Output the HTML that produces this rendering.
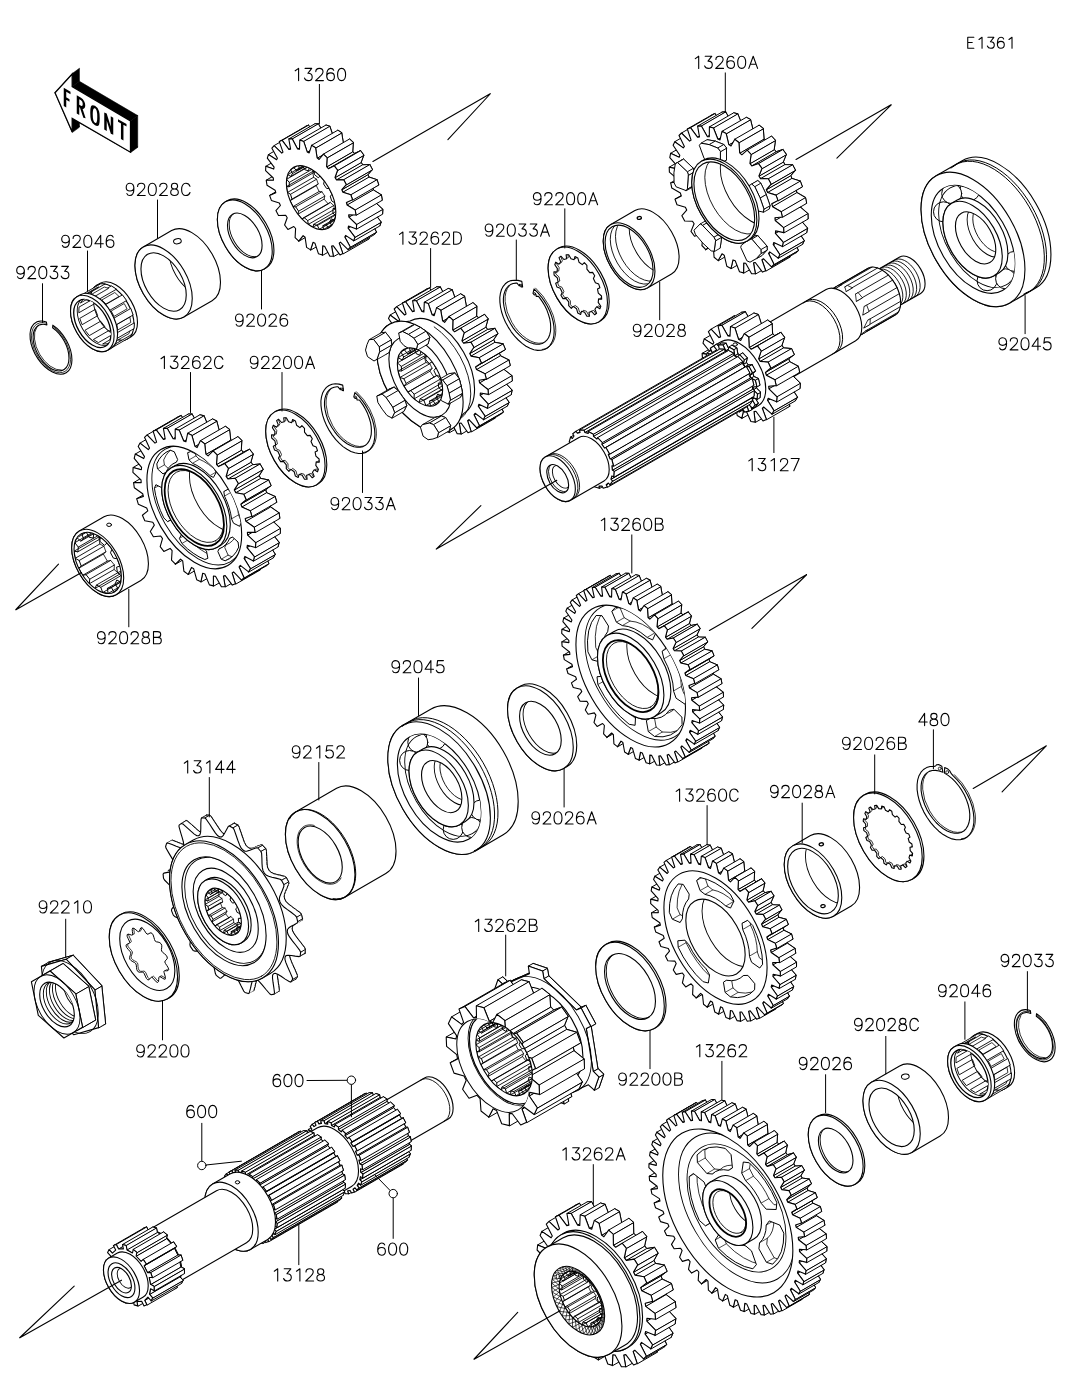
<!DOCTYPE html>
<html><head><meta charset="utf-8"><title>E1361</title><style>html,body{margin:0;padding:0;background:#fff}svg{display:block}</style></head><body><svg width="1067" height="1378" viewBox="0 0 1067 1378" stroke-linejoin="round" stroke-linecap="round" font-family="Liberation Sans, sans-serif">
<rect width="1067" height="1378" fill="#fff"/>
<polygon points="55,92.7 72.2,74 79.4,68.7 62.2,87.4" fill="#000" stroke="#000" stroke-width="0.6" />
<polygon points="72.2,74 72.2,86.6 79.4,81.3 79.4,68.7" fill="#000" stroke="#000" stroke-width="0.6" />
<polygon points="72.2,86.6 130.5,120.9 137.7,115.6 79.4,81.3" fill="#000" stroke="#000" stroke-width="0.6" />
<polygon points="130.5,120.9 130.5,152.2 137.7,146.9 137.7,115.6" fill="#000" stroke="#000" stroke-width="0.6" />
<polygon points="130.5,152.2 72.2,118.4 79.4,113.1 137.7,146.9" fill="#000" stroke="#000" stroke-width="0.6" />
<polygon points="72.2,118.4 72.2,132.1 79.4,126.8 79.4,113.1" fill="#000" stroke="#000" stroke-width="0.6" />
<polygon points="72.2,132.1 55,92.7 62.2,87.4 79.4,126.8" fill="#000" stroke="#000" stroke-width="0.6" />
<polygon points="55,92.7 72.2,74 72.2,86.6 130.5,120.9 130.5,152.2 72.2,118.4 72.2,132.1" fill="#fff" stroke="#000" stroke-width="1.3" stroke-linejoin="miter"/>
<g transform="translate(64.5 89.5) skewY(30)" fill="none" stroke="#000" stroke-width="2.5" stroke-linecap="butt" stroke-linejoin="miter">
<path d="M0.5 17V0H6M0.5 8H5"/>
<path d="M13.5 17V0H16.5C20.5 0 20.5 8 16.5 8H13.5M16.3 8L20 17"/>
<path d="M30.5 0C27.5 0 27 3 27 8.5S27.5 17 30.5 17 34 14 34 8.5 33.5 0 30.5 0Z"/>
<path d="M41 17V0L47.5 17V0"/>
<path d="M53.5 0H62M57.7 0V17"/>
</g>
<polygon points="365.3,228 366.6,227 374.3,234.5 376.4,231.9 370.9,221.9 371.8,220.3 379.9,225.6 381.1,222 374.2,213 374.6,211 382.6,213.8 382.8,209.4 375,202.1 374.9,199.8 382.2,199.9 381.4,194.9 373.3,189.9 372.6,187.4 378.7,184.7 377,179.7 369,177.1 367.9,174.6 372.4,169.5 369.8,164.6 362.6,164.8 361.1,162.4 363.8,155.1 360.5,150.7 354.5,153.6 352.7,151.6 353.3,142.5 349.5,139 345.2,144.4 343.3,142.8 341.7,132.7 337.8,130.2 335.4,137.8 333.4,136.8 329.8,126.3 326,125 325.6,134.2 323.8,133.9 318.4,123.8 314.9,123.8 316.7,134 315.1,134.3 308.4,125.2 305.4,126.5 309.2,137 307.9,138 300.2,130.5 298.1,133.1 303.6,143.1 302.7,144.7 294.6,139.4 293.4,143 300.3,152 299.9,154 291.9,151.2 291.7,155.6 299.5,162.9 299.6,165.2 292.3,165.1 293.1,170.1 301.2,175.1 301.9,177.6 295.8,180.3 297.6,185.3 305.5,187.9 306.6,190.4 302.1,195.5 304.7,200.4 311.9,200.2 313.4,202.6 310.7,209.9 314,214.3 320,211.4 321.8,213.4 321.2,222.5 325,226 329.3,220.6 331.2,222.2 332.8,232.3 336.7,234.8 339.1,227.2 341.1,228.2 344.7,238.7 348.5,240 348.9,230.8 350.7,231.1 356.1,241.2 359.6,241.2 357.8,231 359.4,230.7 366.2,239.8 369.1,238.5" fill="#fff" stroke="#000" stroke-width="1.1" />
<polygon points="275.8,192.7 269.6,195.4 295.8,180.3 301.9,177.6" fill="#fff" stroke="#000" stroke-width="1" />
<polygon points="298.8,241.1 303.1,235.7 329.3,220.6 325,226" fill="#fff" stroke="#000" stroke-width="1" />
<polygon points="273.5,180.3 266.2,180.2 292.3,165.1 299.6,165.2" fill="#fff" stroke="#000" stroke-width="1" />
<polygon points="310.6,249.9 313,242.3 339.1,227.2 336.7,234.8" fill="#fff" stroke="#000" stroke-width="1" />
<polygon points="273.7,169.1 265.8,166.3 291.9,151.2 299.9,154" fill="#fff" stroke="#000" stroke-width="1" />
<polygon points="322.4,255.1 322.7,245.9 348.9,230.8 348.5,240" fill="#fff" stroke="#000" stroke-width="1" />
<polygon points="276.6,159.8 268.5,154.5 294.6,139.4 302.7,144.7" fill="#fff" stroke="#000" stroke-width="1" />
<polygon points="333.4,256.3 331.6,246.1 357.8,231 359.6,241.2" fill="#fff" stroke="#000" stroke-width="1" />
<polygon points="281.8,153.1 274.1,145.6 300.2,130.5 307.9,138" fill="#fff" stroke="#000" stroke-width="1" />
<polygon points="342.9,253.6 339.2,243.1 365.3,228 369.1,238.5" fill="#fff" stroke="#000" stroke-width="1" />
<polygon points="282.2,140.3 279.3,141.6 305.4,126.5 308.4,125.2" fill="#fff" stroke="#000" stroke-width="1" />
<polygon points="339.2,243.1 340.4,242.1 366.6,227 365.3,228" fill="#fff" stroke="#000" stroke-width="1" />
<polygon points="288.9,149.4 282.2,140.3 308.4,125.2 315.1,134.3" fill="#fff" stroke="#000" stroke-width="1" />
<polygon points="290.6,149.1 288.9,149.4 315.1,134.3 316.7,134" fill="#fff" stroke="#000" stroke-width="1" />
<polygon points="348.1,249.6 350.3,247 376.4,231.9 374.3,234.5" fill="#fff" stroke="#000" stroke-width="1" />
<polygon points="350.3,247 344.8,237 370.9,221.9 376.4,231.9" fill="#fff" stroke="#000" stroke-width="1" />
<polygon points="344.8,237 345.6,235.4 371.8,220.3 370.9,221.9" fill="#fff" stroke="#000" stroke-width="1" />
<polygon points="292.3,138.9 288.8,138.9 314.9,123.8 318.4,123.8" fill="#fff" stroke="#000" stroke-width="1" />
<polygon points="297.6,149 292.3,138.9 318.4,123.8 323.8,133.9" fill="#fff" stroke="#000" stroke-width="1" />
<polygon points="299.5,149.3 297.6,149 323.8,133.9 325.6,134.2" fill="#fff" stroke="#000" stroke-width="1" />
<polygon points="353.7,240.7 354.9,237.1 381.1,222 379.9,225.6" fill="#fff" stroke="#000" stroke-width="1" />
<polygon points="348.1,228.1 348.5,226.1 374.6,211 374.2,213" fill="#fff" stroke="#000" stroke-width="1" />
<polygon points="354.9,237.1 348.1,228.1 374.2,213 381.1,222" fill="#fff" stroke="#000" stroke-width="1" />
<polygon points="309.2,152.9 307.2,151.9 333.4,136.8 335.4,137.8" fill="#fff" stroke="#000" stroke-width="1" />
<polygon points="303.7,141.4 299.8,140.1 326,125 329.8,126.3" fill="#fff" stroke="#000" stroke-width="1" />
<polygon points="307.2,151.9 303.7,141.4 329.8,126.3 333.4,136.8" fill="#fff" stroke="#000" stroke-width="1" />
<polygon points="348.9,217.2 348.7,214.9 374.9,199.8 375,202.1" fill="#fff" stroke="#000" stroke-width="1" />
<polygon points="356.6,224.5 348.9,217.2 375,202.1 382.8,209.4" fill="#fff" stroke="#000" stroke-width="1" />
<polygon points="356.4,228.9 356.6,224.5 382.8,209.4 382.6,213.8" fill="#fff" stroke="#000" stroke-width="1" />
<polygon points="319.1,159.5 317.1,157.9 343.3,142.8 345.2,144.4" fill="#fff" stroke="#000" stroke-width="1" />
<polygon points="317.1,157.9 315.6,147.8 341.7,132.7 343.3,142.8" fill="#fff" stroke="#000" stroke-width="1" />
<polygon points="315.6,147.8 311.6,145.3 337.8,130.2 341.7,132.7" fill="#fff" stroke="#000" stroke-width="1" />
<polygon points="347.1,205 346.4,202.5 372.6,187.4 373.3,189.9" fill="#fff" stroke="#000" stroke-width="1" />
<polygon points="328.4,168.7 326.6,166.7 352.7,151.6 354.5,153.6" fill="#fff" stroke="#000" stroke-width="1" />
<polygon points="355.2,210 347.1,205 373.3,189.9 381.4,194.9" fill="#fff" stroke="#000" stroke-width="1" />
<polygon points="342.9,192.2 341.8,189.7 367.9,174.6 369,177.1" fill="#fff" stroke="#000" stroke-width="1" />
<polygon points="336.5,179.9 335,177.5 361.1,162.4 362.6,164.8" fill="#fff" stroke="#000" stroke-width="1" />
<polygon points="356,215 355.2,210 381.4,194.9 382.2,199.9" fill="#fff" stroke="#000" stroke-width="1" />
<polygon points="326.6,166.7 327.1,157.6 353.3,142.5 352.7,151.6" fill="#fff" stroke="#000" stroke-width="1" />
<polygon points="334.3,165.8 328.4,168.7 354.5,153.6 360.5,150.7" fill="#fff" stroke="#000" stroke-width="1" />
<polygon points="350.8,194.8 342.9,192.2 369,177.1 377,179.7" fill="#fff" stroke="#000" stroke-width="1" />
<polygon points="327.1,157.6 323.4,154.1 349.5,139 353.3,142.5" fill="#fff" stroke="#000" stroke-width="1" />
<polygon points="335,177.5 337.6,170.2 363.8,155.1 361.1,162.4" fill="#fff" stroke="#000" stroke-width="1" />
<polygon points="341.8,189.7 346.3,184.6 372.4,169.5 367.9,174.6" fill="#fff" stroke="#000" stroke-width="1" />
<polygon points="343.7,179.7 336.5,179.9 362.6,164.8 369.8,164.6" fill="#fff" stroke="#000" stroke-width="1" />
<polygon points="352.6,199.8 350.8,194.8 377,179.7 378.7,184.7" fill="#fff" stroke="#000" stroke-width="1" />
<polygon points="337.6,170.2 334.3,165.8 360.5,150.7 363.8,155.1" fill="#fff" stroke="#000" stroke-width="1" />
<polygon points="346.3,184.6 343.7,179.7 369.8,164.6 372.4,169.5" fill="#fff" stroke="#000" stroke-width="1" />
<polygon points="339.2,243.1 340.4,242.1 348.1,249.6 350.3,247 344.8,237 345.6,235.4 353.7,240.7 354.9,237.1 348.1,228.1 348.5,226.1 356.4,228.9 356.6,224.5 348.9,217.2 348.7,214.9 356,215 355.2,210 347.1,205 346.4,202.5 352.6,199.8 350.8,194.8 342.9,192.2 341.8,189.7 346.3,184.6 343.7,179.7 336.5,179.9 335,177.5 337.6,170.2 334.3,165.8 328.4,168.7 326.6,166.7 327.1,157.6 323.4,154.1 319.1,159.5 317.1,157.9 315.6,147.8 311.6,145.3 309.2,152.9 307.2,151.9 303.7,141.4 299.8,140.1 299.5,149.3 297.6,149 292.3,138.9 288.8,138.9 290.6,149.1 288.9,149.4 282.2,140.3 279.3,141.6 283,152.1 281.8,153.1 274.1,145.6 271.9,148.2 277.4,158.2 276.6,159.8 268.5,154.5 267.3,158.1 274.1,167.1 273.7,169.1 265.8,166.3 265.6,170.7 273.3,178 273.5,180.3 266.2,180.2 267,185.2 275.1,190.2 275.8,192.7 269.6,195.4 271.4,200.4 279.3,203 280.4,205.5 275.9,210.6 278.5,215.5 285.7,215.3 287.2,217.7 284.6,225 287.9,229.4 293.8,226.5 295.6,228.5 295.1,237.6 298.8,241.1 303.1,235.7 305.1,237.3 306.6,247.4 310.6,249.9 313,242.3 315,243.3 318.5,253.8 322.4,255.1 322.7,245.9 324.6,246.2 329.9,256.3 333.4,256.3 331.6,246.1 333.3,245.8 340,254.9 342.9,253.6" fill="#fff" stroke="#000" stroke-width="1.1" />
<ellipse cx="311.1" cy="197.6" rx="35" ry="20.2" transform="rotate(60 311.1 197.6)" fill="#fff" stroke="#000" stroke-width="1.1" />
<clipPath id="c1"><ellipse cx="311.1" cy="197.6" rx="35" ry="20.2" transform="rotate(60 311.1 197.6)"/></clipPath>
<g clip-path="url(#c1)">
<path d="M328.6 227.9L354.8 212.8" stroke="#000" stroke-width="0.9" fill="none" />
<path d="M331.6 225.5L357.7 210.4" stroke="#000" stroke-width="0.9" fill="none" />
<path d="M329.8 221.6L355.9 206.5" stroke="#000" stroke-width="0.9" fill="none" />
<path d="M299.3 169.5L325.4 154.4" stroke="#000" stroke-width="0.9" fill="none" />
<path d="M296.3 170.4L322.5 155.3" stroke="#000" stroke-width="0.9" fill="none" />
<path d="M293.6 167.3L319.8 152.2" stroke="#000" stroke-width="0.9" fill="none" />
<path d="M290.6 169.7L316.8 154.6" stroke="#000" stroke-width="0.9" fill="none" />
<path d="M292.4 173.6L318.6 158.5" stroke="#000" stroke-width="0.9" fill="none" />
<path d="M290.8 176.4L316.9 161.3" stroke="#000" stroke-width="0.9" fill="none" />
<path d="M287.7 174.7L313.9 159.6" stroke="#000" stroke-width="0.9" fill="none" />
<path d="M286.6 179.3L312.8 164.2" stroke="#000" stroke-width="0.9" fill="none" />
<path d="M289.3 182.4L315.5 167.3" stroke="#000" stroke-width="0.9" fill="none" />
<path d="M289.2 186.7L315.4 171.6" stroke="#000" stroke-width="0.9" fill="none" />
<path d="M286.5 186.6L312.7 171.5" stroke="#000" stroke-width="0.9" fill="none" />
<path d="M287.5 192.4L313.6 177.3" stroke="#000" stroke-width="0.9" fill="none" />
<path d="M290.5 194.3L316.6 179.2" stroke="#000" stroke-width="0.9" fill="none" />
<path d="M292 199.1L318.2 184" stroke="#000" stroke-width="0.9" fill="none" />
<path d="M290.1 200.7L316.3 185.6" stroke="#000" stroke-width="0.9" fill="none" />
<path d="M293 206.6L319.1 191.5" stroke="#000" stroke-width="0.9" fill="none" />
<path d="M295.7 206.8L321.9 191.7" stroke="#000" stroke-width="0.9" fill="none" />
<path d="M298.6 211.2L324.8 196.1" stroke="#000" stroke-width="0.9" fill="none" />
<path d="M297.9 214.2L324.1 199.1" stroke="#000" stroke-width="0.9" fill="none" />
<path d="M302.1 219L328.2 203.9" stroke="#000" stroke-width="0.9" fill="none" />
<path d="M304 217.5L330.2 202.4" stroke="#000" stroke-width="0.9" fill="none" />
<path d="M307.7 220.6L333.8 205.5" stroke="#000" stroke-width="0.9" fill="none" />
<path d="M308.3 224.4L334.5 209.3" stroke="#000" stroke-width="0.9" fill="none" />
<path d="M313 227.2L339.1 212.1" stroke="#000" stroke-width="0.9" fill="none" />
<path d="M313.7 224.3L339.9 209.2" stroke="#000" stroke-width="0.9" fill="none" />
<path d="M317.4 225.5L343.6 210.4" stroke="#000" stroke-width="0.9" fill="none" />
<path d="M319.3 229.3L345.4 214.2" stroke="#000" stroke-width="0.9" fill="none" />
<path d="M323.5 229.5L349.7 214.4" stroke="#000" stroke-width="0.9" fill="none" />
<path d="M322.9 225.7L349.1 210.6" stroke="#000" stroke-width="0.9" fill="none" />
<path d="M325.9 224.8L352 209.7" stroke="#000" stroke-width="0.9" fill="none" />
<polygon points="354.8,212.8 357.7,210.4 355.9,206.5 357.6,203.7 360.6,205.4 361.7,200.8 359.1,197.7 359.1,193.4 361.8,193.5 360.9,187.7 357.9,185.8 356.3,181 358.2,179.4 355.4,173.5 352.6,173.3 349.7,168.9 350.4,165.9 346.3,161.1 344.3,162.6 340.7,159.5 340,155.7 335.4,152.9 334.6,155.8 330.9,154.6 329.1,150.8 324.8,150.6 325.4,154.4 322.5,155.3 319.8,152.2 316.8,154.6 318.6,158.5 316.9,161.3 313.9,159.6 312.8,164.2 315.5,167.3 315.4,171.6 312.7,171.5 313.6,177.3 316.6,179.2 318.2,184 316.3,185.6 319.1,191.5 321.9,191.7 324.8,196.1 324.1,199.1 328.2,203.9 330.2,202.4 333.8,205.5 334.5,209.3 339.1,212.1 339.9,209.2 343.6,210.4 345.4,214.2 349.7,214.4 349.1,210.6 352,209.7" fill="none" stroke="#000" stroke-width="0.8" />
<polygon points="328.6,227.9 331.6,225.5 329.8,221.6 331.4,218.8 334.5,220.5 335.6,215.9 332.9,212.8 333,208.5 335.7,208.6 334.7,202.8 331.7,200.9 330.2,196.1 332.1,194.5 329.2,188.6 326.5,188.4 323.6,184 324.3,181 320.1,176.2 318.2,177.7 314.5,174.6 313.9,170.8 309.2,168 308.5,170.9 304.8,169.7 302.9,165.9 298.7,165.7 299.3,169.5 296.3,170.4 293.6,167.3 290.6,169.7 292.4,173.6 290.8,176.4 287.7,174.7 286.6,179.3 289.3,182.4 289.2,186.7 286.5,186.6 287.5,192.4 290.5,194.3 292,199.1 290.1,200.7 293,206.6 295.7,206.8 298.6,211.2 297.9,214.2 302.1,219 304,217.5 307.7,220.6 308.3,224.4 313,227.2 313.7,224.3 317.4,225.5 319.3,229.3 323.5,229.5 322.9,225.7 325.9,224.8" fill="none" stroke="#000" stroke-width="1" />
</g>
<path d="M265.9 268A38.8 22.4 60 0 0 265.9 223.2A38.8 22.4 60 0 0 227.1 200.8L225.4 201.8A38.8 22.4 60 0 0 225.4 246.6A38.8 22.4 60 0 0 264.2 269Z" fill="#fff" stroke="#000" stroke-width="1.1" />
<ellipse cx="244.8" cy="235.4" rx="38.8" ry="22.4" transform="rotate(60 244.8 235.4)" fill="#fff" stroke="#000" stroke-width="1.1" />
<ellipse cx="244.8" cy="235.4" rx="24.5" ry="14.1" transform="rotate(60 244.8 235.4)" fill="#fff" stroke="#000" stroke-width="1.1" />
<clipPath id="c2"><ellipse cx="244.8" cy="235.4" rx="24.5" ry="14.1" transform="rotate(60 244.8 235.4)"/></clipPath>
<g clip-path="url(#c2)">
<ellipse cx="246.5" cy="234.4" rx="24.5" ry="14.1" transform="rotate(60 246.5 234.4)" fill="none" stroke="#000" stroke-width="0.9" />
</g>
<path d="M212.1 300.8A40.5 23.4 60 0 0 212.1 254A40.5 23.4 60 0 0 171.6 230.6L143.3 246.9A40.5 23.4 60 0 0 143.4 293.7A40.5 23.4 60 0 0 183.8 317.1Z" fill="#fff" stroke="#000" stroke-width="1.1" />
<ellipse cx="163.6" cy="282" rx="40.5" ry="23.4" transform="rotate(60 163.6 282)" fill="#fff" stroke="#000" stroke-width="1.1" />
<ellipse cx="163.6" cy="282" rx="32" ry="18.5" transform="rotate(60 163.6 282)" fill="#fff" stroke="#000" stroke-width="1.1" />
<clipPath id="c3"><ellipse cx="163.6" cy="282" rx="32" ry="18.5" transform="rotate(60 163.6 282)"/></clipPath>
<g clip-path="url(#c3)">
<ellipse cx="191.8" cy="265.7" rx="32" ry="18.5" transform="rotate(60 191.8 265.7)" fill="none" stroke="#000" stroke-width="0.9" />
</g>
<ellipse cx="177.4" cy="241.2" rx="3.9" ry="2.6" transform="rotate(-10 177.4 241.2)" fill="#fff" stroke="#000" stroke-width="1"/>
<path d="M131.1 336.7A30.8 17.8 60 0 0 131.1 301.1A30.8 17.8 60 0 0 100.3 283.3L96.8 285.3A30.8 17.8 60 0 0 96.8 320.9A30.8 17.8 60 0 0 127.6 338.7Z" fill="#fff" stroke="#000" stroke-width="1.1" />
<ellipse cx="112.2" cy="312" rx="30.8" ry="17.8" transform="rotate(60 112.2 312)" fill="#fff" stroke="#000" stroke-width="1.1" />
<polygon points="112.2,347.4 114.8,344.3 132.1,334.3 129.5,337.4" fill="#fff" stroke="#000" stroke-width="0.9" />
<polygon points="116.1,340.7 117.4,337 130.4,329.5 129.1,333.2" fill="#fff" stroke="#000" stroke-width="0.8" />
<polygon points="116.8,338.2 117.1,332.8 134.4,322.8 134.1,328.2" fill="#fff" stroke="#000" stroke-width="0.9" />
<polygon points="117.7,329.6 116.9,324.5 129.9,317 130.7,322.1" fill="#fff" stroke="#000" stroke-width="0.8" />
<polygon points="115.7,324.6 113.5,318.4 130.8,308.4 133,314.6" fill="#fff" stroke="#000" stroke-width="0.9" />
<polygon points="113.9,316 111.2,311 124.2,303.5 126.9,308.5" fill="#fff" stroke="#000" stroke-width="0.8" />
<polygon points="109.1,310.2 105.1,304.9 122.4,294.9 126.4,300.2" fill="#fff" stroke="#000" stroke-width="0.9" />
<polygon points="105.7,303.7 101.8,300 114.8,292.5 118.7,296.2" fill="#fff" stroke="#000" stroke-width="0.8" />
<polygon points="98.8,299 94.1,295.9 111.4,285.9 116.2,289" fill="#fff" stroke="#000" stroke-width="0.9" />
<polygon points="95.3,295.8 91.3,294.5 104.3,287 108.2,288.3" fill="#fff" stroke="#000" stroke-width="0.8" />
<polygon points="87.6,293.8 83.4,293.8 100.7,283.8 104.9,283.8" fill="#fff" stroke="#000" stroke-width="0.9" />
<polygon points="85.4,294.6 82.4,296 95.4,288.5 98.4,287.1" fill="#fff" stroke="#000" stroke-width="0.8" />
<path d="M111.2 348.2A30.8 17.8 60 0 0 111.2 312.6A30.8 17.8 60 0 0 80.4 294.8L76.9 296.8A30.8 17.8 60 0 0 76.9 332.4A30.8 17.8 60 0 0 107.7 350.2Z" fill="#fff" stroke="#000" stroke-width="1.1" />
<ellipse cx="92.3" cy="323.5" rx="30.8" ry="17.8" transform="rotate(60 92.3 323.5)" fill="#fff" stroke="#000" stroke-width="1.1" />
<ellipse cx="92.3" cy="323.5" rx="26.3" ry="15.2" transform="rotate(60 92.3 323.5)" fill="#fff" stroke="#000" stroke-width="1.3" />
<clipPath id="c4"><ellipse cx="92.3" cy="323.5" rx="26.3" ry="15.2" transform="rotate(60 92.3 323.5)"/></clipPath>
<g clip-path="url(#c4)">
<ellipse cx="95.8" cy="321.5" rx="26.3" ry="15.2" transform="rotate(60 95.8 321.5)" fill="none" stroke="#000" stroke-width="0.9" />
<polygon points="110.5,342.1 112.9,338.9 128.5,329.9 126.1,333.1" fill="#fff" stroke="#000" stroke-width="0.9" />
<polygon points="90.3,298 86.2,298.2 101.8,289.2 105.9,289" fill="#fff" stroke="#000" stroke-width="0.9" />
<polygon points="82.8,299.9 80.3,303.1 95.9,294.1 98.4,290.9" fill="#fff" stroke="#000" stroke-width="0.9" />
<polygon points="79,307.5 78.8,312.8 94.4,303.8 94.6,298.5" fill="#fff" stroke="#000" stroke-width="0.9" />
<polygon points="79.9,318.7 82.1,324.7 97.7,315.7 95.5,309.7" fill="#fff" stroke="#000" stroke-width="0.9" />
<polygon points="85.3,330.5 89.3,335.6 104.9,326.6 100.9,321.5" fill="#fff" stroke="#000" stroke-width="0.9" />
<polygon points="93.7,339.7 98.4,342.6 114,333.6 109.3,330.7" fill="#fff" stroke="#000" stroke-width="0.9" />
<polygon points="103,344 107.1,343.8 122.7,334.8 118.6,335" fill="#fff" stroke="#000" stroke-width="0.9" />
<ellipse cx="112.2" cy="312" rx="26.3" ry="15.2" transform="rotate(60 112.2 312)" fill="none" stroke="#000" stroke-width="0.9" />
</g>
<path d="M46.4 322A28.8 16.6 60 0 0 52.4 371.9A28.8 16.6 60 0 0 52.8 325.2L52.6 327.7A25.6 14.8 60 0 1 52.3 369.2A25.6 14.8 60 0 1 46.9 324.9Z" fill="#fff" stroke="#000" stroke-width="1.1" />
<path d="M46 323.1A27.4 15.8 60 0 0 52.3 370.7A27.4 15.8 60 0 0 53.4 326.8" fill="none" stroke="#000" stroke-width="0.8" />
<path d="M36.7 327.3A25.6 14.8 60 0 0 61.4 370.1" fill="none" stroke="#000" stroke-width="0.8" />
<path d="M1035.7 288.1A73.5 42.4 60 0 0 1035.7 203.2A73.5 42.4 60 0 0 962.2 160.7L936.2 175.7A73.5 42.4 60 0 0 936.3 260.6A73.5 42.4 60 0 0 1009.8 303.1Z" fill="#fff" stroke="#000" stroke-width="1.1" />
<ellipse cx="973" cy="239.4" rx="73.5" ry="42.4" transform="rotate(60 973 239.4)" fill="#fff" stroke="#000" stroke-width="1.1" />
<path d="M1025.9 292.9A73.5 42.4 60 0 0 1031.4 205.7A73.5 42.4 60 0 0 953.1 166.8" fill="none" stroke="#000" stroke-width="1" />
<path d="M1023.8 294.1A73.5 42.4 60 0 0 1029.2 206.9A73.5 42.4 60 0 0 951 168.1" fill="none" stroke="#000" stroke-width="1" />
<ellipse cx="973" cy="239.4" rx="59" ry="34.1" transform="rotate(60 973 239.4)" fill="#fff" stroke="#000" stroke-width="1.1" />
<clipPath id="c5"><ellipse cx="973" cy="239.4" rx="59" ry="34.1" transform="rotate(60 973 239.4)"/></clipPath>
<g clip-path="url(#c5)">
<circle cx="969.8" cy="190.7" r="10" fill="#fff" stroke="#000" stroke-width="1"/>
<circle cx="951.7" cy="193.6" r="10" fill="#fff" stroke="#000" stroke-width="1"/>
<circle cx="943.5" cy="211.8" r="10" fill="#fff" stroke="#000" stroke-width="1"/>
<circle cx="987.1" cy="280.7" r="10" fill="#fff" stroke="#000" stroke-width="1"/>
<circle cx="1005.6" cy="278.8" r="10" fill="#fff" stroke="#000" stroke-width="1"/>
<circle cx="1014.5" cy="261.4" r="10" fill="#fff" stroke="#000" stroke-width="1"/>
<ellipse cx="978.2" cy="236.4" rx="56" ry="32.3" transform="rotate(60 978.2 236.4)" fill="none" stroke="#000" stroke-width="0.9" />
</g>
<path d="M999.2 272.8A42 24.2 60 0 0 999.2 224.3A42 24.2 60 0 0 957.2 200L951.6 203.3A42 24.2 60 0 0 951.6 251.8A42 24.2 60 0 0 993.6 276Z" fill="#fff" stroke="#000" stroke-width="1.1" />
<ellipse cx="972.6" cy="239.7" rx="42" ry="24.2" transform="rotate(60 972.6 239.7)" fill="#fff" stroke="#000" stroke-width="1.1" />
<ellipse cx="975.6" cy="237.9" rx="28.5" ry="16.5" transform="rotate(60 975.6 237.9)" fill="#fff" stroke="#000" stroke-width="1.1" />
<clipPath id="c6"><ellipse cx="975.6" cy="237.9" rx="28.5" ry="16.5" transform="rotate(60 975.6 237.9)"/></clipPath>
<g clip-path="url(#c6)">
<ellipse cx="987.3" cy="231.2" rx="28.5" ry="16.5" transform="rotate(60 987.3 231.2)" fill="none" stroke="#000" stroke-width="0.9" />
</g>
<g clip-path="url(#c6)">
<ellipse cx="990.8" cy="229.2" rx="25.5" ry="14.7" transform="rotate(60 990.8 229.2)" fill="none" stroke="#000" stroke-width="0.8" />
</g>
<path d="M920.7 293.4A21 12.1 60 0 0 920.7 269.1A21 12.1 60 0 0 899.7 257L871.1 273.5A21 12.1 60 0 0 871.1 297.8A21 12.1 60 0 0 892.1 309.9Z" fill="#fff" stroke="#000" stroke-width="1.1" />
<ellipse cx="881.6" cy="291.7" rx="21" ry="12.1" transform="rotate(60 881.6 291.7)" fill="#fff" stroke="#000" stroke-width="1.1" />
<path d="M893.6 308.8A21 12.1 60 0 0 895.1 283.9A21 12.1 60 0 0 872.8 272.8" fill="none" stroke="#000" stroke-width="0.9" />
<path d="M897 306.8A21 12.1 60 0 0 898.6 281.9A21 12.1 60 0 0 876.2 270.8" fill="none" stroke="#000" stroke-width="0.9" />
<path d="M900.5 304.8A21 12.1 60 0 0 902.1 279.9A21 12.1 60 0 0 879.7 268.8" fill="none" stroke="#000" stroke-width="0.9" />
<path d="M904 302.8A21 12.1 60 0 0 905.5 277.9A21 12.1 60 0 0 883.2 266.8" fill="none" stroke="#000" stroke-width="0.9" />
<path d="M907.4 300.8A21 12.1 60 0 0 909 275.9A21 12.1 60 0 0 886.6 264.8" fill="none" stroke="#000" stroke-width="0.9" />
<path d="M910.9 298.8A21 12.1 60 0 0 912.4 273.9A21 12.1 60 0 0 890.1 262.8" fill="none" stroke="#000" stroke-width="0.9" />
<path d="M914.3 296.8A21 12.1 60 0 0 915.9 271.9A21 12.1 60 0 0 893.6 260.8" fill="none" stroke="#000" stroke-width="0.9" />
<path d="M895.1 315.1A27 15.6 60 0 0 895.1 283.9A27 15.6 60 0 0 868.1 268.3L827.4 291.8A27 15.6 60 0 0 827.4 323A27 15.6 60 0 0 854.4 338.6Z" fill="#fff" stroke="#000" stroke-width="1.1" />
<ellipse cx="840.9" cy="315.2" rx="27" ry="15.6" transform="rotate(60 840.9 315.2)" fill="#fff" stroke="#000" stroke-width="1.1" />
<path d="M859 335.9L895.4 314.9" stroke="#000" stroke-width="0.9" fill="none" />
<path d="M865.3 331.1L898.3 312.1" stroke="#000" stroke-width="0.9" fill="none" />
<polygon points="859,335.9 865.3,331.1 867.9,329.6 865.1,332.4" fill="#fff" stroke="#000" stroke-width="0.8" />
<path d="M864 327.7L900.3 306.7" stroke="#000" stroke-width="0.9" fill="none" />
<path d="M867.7 320.3L900.6 301.3" stroke="#000" stroke-width="0.9" fill="none" />
<polygon points="864,327.7 867.7,320.3 870.3,318.8 870,324.2" fill="#fff" stroke="#000" stroke-width="0.8" />
<path d="M862.9 314.7L899.3 293.7" stroke="#000" stroke-width="0.9" fill="none" />
<path d="M864.1 306.6L897 287.6" stroke="#000" stroke-width="0.9" fill="none" />
<polygon points="862.9,314.7 864.1,306.6 866.7,305.1 869,311.2" fill="#fff" stroke="#000" stroke-width="0.8" />
<path d="M856.3 301.1L892.7 280.1" stroke="#000" stroke-width="0.9" fill="none" />
<path d="M855.5 294.1L888.4 275.1" stroke="#000" stroke-width="0.9" fill="none" />
<polygon points="856.3,301.1 855.5,294.1 858.1,292.6 862.3,297.6" fill="#fff" stroke="#000" stroke-width="0.8" />
<path d="M846.1 291.2L882.5 270.2" stroke="#000" stroke-width="0.9" fill="none" />
<path d="M844.8 286.9L877.7 267.9" stroke="#000" stroke-width="0.9" fill="none" />
<polygon points="846.1,291.2 844.8,286.9 847.4,285.4 852.2,287.7" fill="#fff" stroke="#000" stroke-width="0.8" />
<path d="M835.7 288.1L872 267.1" stroke="#000" stroke-width="0.9" fill="none" />
<path d="M835.3 287.2L868.2 268.2" stroke="#000" stroke-width="0.9" fill="none" />
<polygon points="835.7,288.1 835.3,287.2 837.9,285.7 841.7,284.6" fill="#fff" stroke="#000" stroke-width="0.8" />
<path d="M855.7 340.8A29.6 17.1 60 0 0 855.7 306.7A29.6 17.1 60 0 0 826.1 289.6L748.1 334.6A29.6 17.1 60 0 0 748.1 368.7A29.6 17.1 60 0 0 777.7 385.8Z" fill="#fff" stroke="#000" stroke-width="1.1" />
<ellipse cx="762.9" cy="360.2" rx="29.6" ry="17.1" transform="rotate(60 762.9 360.2)" fill="#fff" stroke="#000" stroke-width="1.1" />
<path d="M832.7 354A29.6 17.1 60 0 0 834 319.2A29.6 17.1 60 0 0 803.2 302.9" fill="none" stroke="#000" stroke-width="1" />
<path d="M835.3 352.5A29.6 17.1 60 0 0 836.6 317.7A29.6 17.1 60 0 0 805.8 301.4" fill="none" stroke="#000" stroke-width="1" />
<polygon points="785.7,394.8 787,393.5 795.4,400.6 797.4,397.1 790.8,386.8 791.4,384.8 800,388.3 800.4,383.3 792.3,375.3 792.1,372.7 799.6,372.1 798.3,366.3 789.7,361.7 788.7,358.9 794.2,354.4 791.5,348.6 783.5,347.9 781.9,345.3 784.6,337.4 780.8,332.4 774.6,335.8 772.6,333.7 772.1,323.5 767.6,320 764.1,327 761.9,325.7 758.4,314.6 753.9,313 753.4,322.6 751.4,322.4 745.3,311.8 741.4,312.4 744,323.4 742.4,324.1 734.5,315.6 731.8,318.2 737.2,329.1 736.2,330.8 727.6,325.4 726.4,329.7 733.9,339 733.7,341.4 725.5,339.9 725.9,345.4 734.4,351.7 735,354.5 728.4,357.1 730.5,363 738.9,365.7 740.2,368.4 736,374.7 739.4,380.3 746.5,378.8 748.4,381.2 747.2,390.4 751.5,394.8 756.4,389.5 758.6,391.2 760.6,402 765.2,404.7 767.2,396.2 769.4,397 774.3,408 778.5,408.6 777.4,398 779.3,397.8 786.4,407.5 789.8,405.9" fill="#fff" stroke="#000" stroke-width="1.1" />
<polygon points="711.6,368 705,370.6 728.4,357.1 735,354.5" fill="#fff" stroke="#000" stroke-width="1" />
<polygon points="728.1,408.3 733.1,403 756.4,389.5 751.5,394.8" fill="#fff" stroke="#000" stroke-width="1" />
<polygon points="710.3,354.9 702.1,353.4 725.5,339.9 733.7,341.4" fill="#fff" stroke="#000" stroke-width="1" />
<polygon points="741.8,418.2 743.8,409.7 767.2,396.2 765.2,404.7" fill="#fff" stroke="#000" stroke-width="1" />
<polygon points="712.9,344.3 704.2,338.9 727.6,325.4 736.2,330.8" fill="#fff" stroke="#000" stroke-width="1" />
<polygon points="755.2,422.1 754,411.5 777.4,398 778.5,408.6" fill="#fff" stroke="#000" stroke-width="1" />
<polygon points="719,337.6 711.1,329.1 734.5,315.6 742.4,324.1" fill="#fff" stroke="#000" stroke-width="1" />
<polygon points="720.6,336.9 719,337.6 742.4,324.1 744,323.4" fill="#fff" stroke="#000" stroke-width="1" />
<polygon points="766.4,419.4 762.3,408.3 785.7,394.8 789.8,405.9" fill="#fff" stroke="#000" stroke-width="1" />
<polygon points="762.3,408.3 763.6,407 787,393.5 785.7,394.8" fill="#fff" stroke="#000" stroke-width="1" />
<polygon points="721.9,325.3 718,325.9 741.4,312.4 745.3,311.8" fill="#fff" stroke="#000" stroke-width="1" />
<polygon points="728,335.9 721.9,325.3 745.3,311.8 751.4,322.4" fill="#fff" stroke="#000" stroke-width="1" />
<polygon points="772,414.1 774,410.6 797.4,397.1 795.4,400.6" fill="#fff" stroke="#000" stroke-width="1" />
<polygon points="730,336.1 728,335.9 751.4,322.4 753.4,322.6" fill="#fff" stroke="#000" stroke-width="1" />
<polygon points="774,410.6 767.5,400.3 790.8,386.8 797.4,397.1" fill="#fff" stroke="#000" stroke-width="1" />
<polygon points="767.5,400.3 768.1,398.3 791.4,384.8 790.8,386.8" fill="#fff" stroke="#000" stroke-width="1" />
<polygon points="740.7,340.5 738.5,339.2 761.9,325.7 764.1,327" fill="#fff" stroke="#000" stroke-width="1" />
<polygon points="735,328.1 730.5,326.5 753.9,313 758.4,314.6" fill="#fff" stroke="#000" stroke-width="1" />
<polygon points="738.5,339.2 735,328.1 758.4,314.6 761.9,325.7" fill="#fff" stroke="#000" stroke-width="1" />
<polygon points="768.9,388.8 768.7,386.2 792.1,372.7 792.3,375.3" fill="#fff" stroke="#000" stroke-width="1" />
<polygon points="777,396.8 768.9,388.8 792.3,375.3 800.4,383.3" fill="#fff" stroke="#000" stroke-width="1" />
<polygon points="776.6,401.8 777,396.8 800.4,383.3 800,388.3" fill="#fff" stroke="#000" stroke-width="1" />
<polygon points="751.2,349.3 749.2,347.2 772.6,333.7 774.6,335.8" fill="#fff" stroke="#000" stroke-width="1" />
<polygon points="766.3,375.2 765.4,372.4 788.7,358.9 789.7,361.7" fill="#fff" stroke="#000" stroke-width="1" />
<polygon points="760.2,361.4 758.6,358.8 781.9,345.3 783.5,347.9" fill="#fff" stroke="#000" stroke-width="1" />
<polygon points="749.2,347.2 748.7,337 772.1,323.5 772.6,333.7" fill="#fff" stroke="#000" stroke-width="1" />
<polygon points="774.9,379.8 766.3,375.2 789.7,361.7 798.3,366.3" fill="#fff" stroke="#000" stroke-width="1" />
<polygon points="748.7,337 744.3,333.5 767.6,320 772.1,323.5" fill="#fff" stroke="#000" stroke-width="1" />
<polygon points="757.4,345.9 751.2,349.3 774.6,335.8 780.8,332.4" fill="#fff" stroke="#000" stroke-width="1" />
<polygon points="765.4,372.4 770.8,367.9 794.2,354.4 788.7,358.9" fill="#fff" stroke="#000" stroke-width="1" />
<polygon points="776.2,385.6 774.9,379.8 798.3,366.3 799.6,372.1" fill="#fff" stroke="#000" stroke-width="1" />
<polygon points="758.6,358.8 761.2,350.9 784.6,337.4 781.9,345.3" fill="#fff" stroke="#000" stroke-width="1" />
<polygon points="768.1,362.1 760.2,361.4 783.5,347.9 791.5,348.6" fill="#fff" stroke="#000" stroke-width="1" />
<polygon points="761.2,350.9 757.4,345.9 780.8,332.4 784.6,337.4" fill="#fff" stroke="#000" stroke-width="1" />
<polygon points="770.8,367.9 768.1,362.1 791.5,348.6 794.2,354.4" fill="#fff" stroke="#000" stroke-width="1" />
<polygon points="762.3,408.3 763.6,407 772,414.1 774,410.6 767.5,400.3 768.1,398.3 776.6,401.8 777,396.8 768.9,388.8 768.7,386.2 776.2,385.6 774.9,379.8 766.3,375.2 765.4,372.4 770.8,367.9 768.1,362.1 760.2,361.4 758.6,358.8 761.2,350.9 757.4,345.9 751.2,349.3 749.2,347.2 748.7,337 744.3,333.5 740.7,340.5 738.5,339.2 735,328.1 730.5,326.5 730,336.1 728,335.9 721.9,325.3 718,325.9 720.6,336.9 719,337.6 711.1,329.1 708.4,331.7 713.8,342.6 712.9,344.3 704.2,338.9 703,343.2 710.5,352.5 710.3,354.9 702.1,353.4 702.5,358.9 711.1,365.2 711.6,368 705,370.6 707.1,376.5 715.5,379.2 716.8,381.9 712.6,388.2 716,393.8 723.2,392.3 725,394.7 723.9,403.9 728.1,408.3 733.1,403 735.2,404.7 737.2,415.5 741.8,418.2 743.8,409.7 746,410.5 750.9,421.5 755.2,422.1 754,411.5 755.9,411.3 763,421 766.4,419.4" fill="#fff" stroke="#000" stroke-width="1.1" />
<path d="M758.1 405.7A37 21.4 60 0 0 758.1 363A37 21.4 60 0 0 721.1 341.7L715 345.2A37 21.4 60 0 0 715 387.9A37 21.4 60 0 0 752 409.2Z" fill="#fff" stroke="#000" stroke-width="1.1" />
<polygon points="749.9,403.5 751.4,402.5 755.7,406.5 758.2,403 754.8,397.6 755.5,395.5 760,397.5 760.5,392.1 756.3,388 756,385.2 759.9,384.9 758.4,378.6 753.9,376.5 752.8,373.5 755.4,370.8 752.1,364.7 748.2,365 746.3,362.4 747.2,357.8 742.7,352.9 740,355.5 737.8,353.7 736.8,348 731.9,345.2 730.9,349.7 728.7,349 726,343.2 721.5,343 722.4,348.6 720.6,349.1 716.7,344.2 713.4,346.6 716,352.3 714.8,353.9 710.4,350.8 708.8,355.4 712.7,360.2 712.5,362.7 708.2,361.9 708.7,367.9 713.2,371 713.9,374 710.6,375.5 713,381.9 717.3,382.8 718.9,385.6 717.1,389.4 721.1,395 724.4,393.5 726.5,395.8 726.5,401 731.4,405 733.2,401.3 735.5,402.6 737.4,408.4 742.2,410 742.2,404.9 744.3,405 747.7,410.4 751.7,409.4" fill="#fff" stroke="#000" stroke-width="1.1" />
<polygon points="710.9,375.7 707.5,377.3 710.6,375.5 713.9,374" fill="#fff" stroke="#000" stroke-width="1" />
<polygon points="728.3,406.7 730.2,403.1 733.2,401.3 731.4,405" fill="#fff" stroke="#000" stroke-width="1" />
<polygon points="709.4,364.5 705.2,363.7 708.2,361.9 712.5,362.7" fill="#fff" stroke="#000" stroke-width="1" />
<polygon points="739.2,411.8 739.2,406.6 742.2,404.9 742.2,410" fill="#fff" stroke="#000" stroke-width="1" />
<polygon points="711.8,355.7 707.3,352.6 710.4,350.8 714.8,353.9" fill="#fff" stroke="#000" stroke-width="1" />
<polygon points="748.6,411.1 746.8,405.3 749.9,403.5 751.7,409.4" fill="#fff" stroke="#000" stroke-width="1" />
<polygon points="746.8,405.3 748.4,404.2 751.4,402.5 749.9,403.5" fill="#fff" stroke="#000" stroke-width="1" />
<polygon points="717.5,350.8 713.6,346 716.7,344.2 720.6,349.1" fill="#fff" stroke="#000" stroke-width="1" />
<polygon points="719.4,350.3 717.5,350.8 720.6,349.1 722.4,348.6" fill="#fff" stroke="#000" stroke-width="1" />
<polygon points="752.7,408.3 755.1,404.8 758.2,403 755.7,406.5" fill="#fff" stroke="#000" stroke-width="1" />
<polygon points="755.1,404.8 751.8,399.3 754.8,397.6 758.2,403" fill="#fff" stroke="#000" stroke-width="1" />
<polygon points="723,345 718.5,344.7 721.5,343 726,343.2" fill="#fff" stroke="#000" stroke-width="1" />
<polygon points="751.8,399.3 752.5,397.2 755.5,395.5 754.8,397.6" fill="#fff" stroke="#000" stroke-width="1" />
<polygon points="725.7,350.7 723,345 726,343.2 728.7,349" fill="#fff" stroke="#000" stroke-width="1" />
<polygon points="727.9,351.5 725.7,350.7 728.7,349 730.9,349.7" fill="#fff" stroke="#000" stroke-width="1" />
<polygon points="757,399.2 757.5,393.9 760.5,392.1 760,397.5" fill="#fff" stroke="#000" stroke-width="1" />
<polygon points="753.2,389.8 753,387 756,385.2 756.3,388" fill="#fff" stroke="#000" stroke-width="1" />
<polygon points="757.5,393.9 753.2,389.8 756.3,388 760.5,392.1" fill="#fff" stroke="#000" stroke-width="1" />
<polygon points="737,357.3 734.8,355.4 737.8,353.7 740,355.5" fill="#fff" stroke="#000" stroke-width="1" />
<polygon points="733.8,349.8 728.9,347 731.9,345.2 736.8,348" fill="#fff" stroke="#000" stroke-width="1" />
<polygon points="734.8,355.4 733.8,349.8 736.8,348 737.8,353.7" fill="#fff" stroke="#000" stroke-width="1" />
<polygon points="750.9,378.2 749.7,375.3 752.8,373.5 753.9,376.5" fill="#fff" stroke="#000" stroke-width="1" />
<polygon points="745.1,366.7 743.3,364.1 746.3,362.4 748.2,365" fill="#fff" stroke="#000" stroke-width="1" />
<polygon points="755.3,380.3 750.9,378.2 753.9,376.5 758.4,378.6" fill="#fff" stroke="#000" stroke-width="1" />
<polygon points="756.9,386.6 755.3,380.3 758.4,378.6 759.9,384.9" fill="#fff" stroke="#000" stroke-width="1" />
<polygon points="743.3,364.1 744.2,359.5 747.2,357.8 746.3,362.4" fill="#fff" stroke="#000" stroke-width="1" />
<polygon points="749.7,375.3 752.3,372.6 755.4,370.8 752.8,373.5" fill="#fff" stroke="#000" stroke-width="1" />
<polygon points="749,366.4 745.1,366.7 748.2,365 752.1,364.7" fill="#fff" stroke="#000" stroke-width="1" />
<polygon points="744.2,359.5 739.7,354.6 742.7,352.9 747.2,357.8" fill="#fff" stroke="#000" stroke-width="1" />
<polygon points="752.3,372.6 749,366.4 752.1,364.7 755.4,370.8" fill="#fff" stroke="#000" stroke-width="1" />
<polygon points="746.8,405.3 748.4,404.2 752.7,408.3 755.1,404.8 751.8,399.3 752.5,397.2 757,399.2 757.5,393.9 753.2,389.8 753,387 756.9,386.6 755.3,380.3 750.9,378.2 749.7,375.3 752.3,372.6 749,366.4 745.1,366.7 743.3,364.1 744.2,359.5 739.7,354.6 737,357.3 734.8,355.4 733.8,349.8 728.9,347 727.9,351.5 725.7,350.7 723,345 718.5,344.7 719.4,350.3 717.5,350.8 713.6,346 710.3,348.3 713,354.1 711.8,355.7 707.3,352.6 705.8,357.1 709.7,362 709.4,364.5 705.2,363.7 705.7,369.6 710.2,372.8 710.9,375.7 707.5,377.3 710,383.6 714.3,384.5 715.8,387.4 714,391.1 718,396.8 721.4,395.3 723.5,397.5 723.5,402.8 728.3,406.7 730.2,403.1 732.5,404.4 734.3,410.2 739.2,411.8 739.2,406.6 741.3,406.7 744.7,412.1 748.6,411.1" fill="#fff" stroke="#000" stroke-width="1.1" />
<ellipse cx="735.2" cy="344.5" rx="2.2" ry="1.6" fill="#fff" stroke="#000" stroke-width="1"/>
<polygon points="746.5,403.7 748.7,402 750.3,403.9 752.8,400 751.2,398.1 752.2,394.9 754,396 754.4,390.2 752.6,389 752.1,384.8 753.8,385 752.1,378.3 750.4,378 748.6,373.6 749.8,372.9 746.2,366.5 744.9,367.1 742.1,363.2 742.7,361.6 737.9,356.6 737.2,358.1 733.8,355.4 733.7,353.3 728.5,350.5 728.5,352.5 725.2,351.5 724.4,349.2 719.7,349.1 720.4,351.4 717.7,352.3 716.3,350.2 713,352.8 714.3,355 712.7,357.5 710.9,356 709.5,360.9 711.2,362.5 710.9,366.3 709.1,365.6 709.8,372 711.6,372.8 712.8,377.2 711.3,377.4 714,384.1 715.6,384 717.9,388.2 717,389.4 721.2,395.3 722.3,394.2 725.4,397.5 725.2,399.4 730.3,403.4 730.7,401.6 734.1,403.5 734.6,405.7 739.6,407.2 739.2,405 742.3,405.1 743.5,407.3 747.6,406" fill="#fff" stroke="#000" stroke-width="1.1" />
<polygon points="580.9,476.3 582,475.2 722.3,394.2 721.2,395.3" fill="#fff" stroke="#000" stroke-width="1" />
<polygon points="572.5,458.2 571,458.4 711.3,377.4 712.8,377.2" fill="#fff" stroke="#000" stroke-width="1" />
<polygon points="590,484.4 590.4,482.6 730.7,401.6 730.3,403.4" fill="#fff" stroke="#000" stroke-width="1" />
<polygon points="570.6,447.3 568.9,446.6 709.1,365.6 710.9,366.3" fill="#fff" stroke="#000" stroke-width="1" />
<polygon points="599.3,488.2 599,486 739.2,405 739.6,407.2" fill="#fff" stroke="#000" stroke-width="1" />
<polygon points="572.4,438.5 570.6,437 710.9,356 712.7,357.5" fill="#fff" stroke="#000" stroke-width="1" />
<polygon points="607.3,487 606.2,484.7 746.5,403.7 747.6,406" fill="#fff" stroke="#000" stroke-width="1" />
<polygon points="577.4,433.3 576,431.2 716.3,350.2 717.7,352.3" fill="#fff" stroke="#000" stroke-width="1" />
<polygon points="606.2,484.7 608.4,483 748.7,402 746.5,403.7" fill="#fff" stroke="#000" stroke-width="1" />
<polygon points="580.1,432.4 577.4,433.3 717.7,352.3 720.4,351.4" fill="#fff" stroke="#000" stroke-width="1" />
<polygon points="610,484.9 612.5,481 752.8,400 750.3,403.9" fill="#fff" stroke="#000" stroke-width="1" />
<polygon points="584.1,430.2 579.4,430.1 719.7,349.1 724.4,349.2" fill="#fff" stroke="#000" stroke-width="1" />
<polygon points="612.5,481 610.9,479.1 751.2,398.1 752.8,400" fill="#fff" stroke="#000" stroke-width="1" />
<polygon points="584.9,432.5 584.1,430.2 724.4,349.2 725.2,351.5" fill="#fff" stroke="#000" stroke-width="1" />
<polygon points="610.9,479.1 611.9,475.9 752.2,394.9 751.2,398.1" fill="#fff" stroke="#000" stroke-width="1" />
<polygon points="588.2,433.5 584.9,432.5 725.2,351.5 728.5,352.5" fill="#fff" stroke="#000" stroke-width="1" />
<polygon points="613.7,477 614.1,471.2 754.4,390.2 754,396" fill="#fff" stroke="#000" stroke-width="1" />
<polygon points="593.4,434.3 588.2,431.5 728.5,350.5 733.7,353.3" fill="#fff" stroke="#000" stroke-width="1" />
<polygon points="614.1,471.2 612.3,470 752.6,389 754.4,390.2" fill="#fff" stroke="#000" stroke-width="1" />
<polygon points="612.3,470 611.9,465.8 752.1,384.8 752.6,389" fill="#fff" stroke="#000" stroke-width="1" />
<polygon points="593.5,436.4 593.4,434.3 733.7,353.3 733.8,355.4" fill="#fff" stroke="#000" stroke-width="1" />
<polygon points="596.9,439.1 593.5,436.4 733.8,355.4 737.2,358.1" fill="#fff" stroke="#000" stroke-width="1" />
<polygon points="610.1,459 608.3,454.6 748.6,373.6 750.4,378" fill="#fff" stroke="#000" stroke-width="1" />
<polygon points="613.5,466 611.8,459.3 752.1,378.3 753.8,385" fill="#fff" stroke="#000" stroke-width="1" />
<polygon points="604.6,448.1 601.8,444.2 742.1,363.2 744.9,367.1" fill="#fff" stroke="#000" stroke-width="1" />
<polygon points="611.8,459.3 610.1,459 750.4,378 752.1,378.3" fill="#fff" stroke="#000" stroke-width="1" />
<polygon points="602.4,442.6 597.6,437.6 737.9,356.6 742.7,361.6" fill="#fff" stroke="#000" stroke-width="1" />
<polygon points="601.8,444.2 602.4,442.6 742.7,361.6 742.1,363.2" fill="#fff" stroke="#000" stroke-width="1" />
<polygon points="608.3,454.6 609.5,453.9 749.8,372.9 748.6,373.6" fill="#fff" stroke="#000" stroke-width="1" />
<polygon points="605.9,447.5 604.6,448.1 744.9,367.1 746.2,366.5" fill="#fff" stroke="#000" stroke-width="1" />
<polygon points="609.5,453.9 605.9,447.5 746.2,366.5 749.8,372.9" fill="#fff" stroke="#000" stroke-width="1" />
<polygon points="606.2,484.7 608.4,483 610,484.9 612.5,481 610.9,479.1 611.9,475.9 613.7,477 614.1,471.2 612.3,470 611.9,465.8 613.5,466 611.8,459.3 610.1,459 608.3,454.6 609.5,453.9 605.9,447.5 604.6,448.1 601.8,444.2 602.4,442.6 597.6,437.6 596.9,439.1 593.5,436.4 593.4,434.3 588.2,431.5 588.2,433.5 584.9,432.5 584.1,430.2 579.4,430.1 580.1,432.4 577.4,433.3 576,431.2 572.7,433.8 574,436 572.4,438.5 570.6,437 569.2,441.9 570.9,443.5 570.6,447.3 568.9,446.6 569.5,453 571.3,453.8 572.5,458.2 571,458.4 573.7,465.1 575.3,465 577.6,469.2 576.7,470.4 580.9,476.3 582,475.2 585.2,478.5 584.9,480.4 590,484.4 590.4,482.6 593.8,484.5 594.3,486.7 599.3,488.2 599,486 602,486.1 603.2,488.3 607.3,487" fill="#fff" stroke="#000" stroke-width="1.1" />
<path d="M604 480.9A25 14.4 60 0 0 604 452A25 14.4 60 0 0 579 437.5L545.2 457A25 14.4 60 0 0 545.2 485.9A25 14.4 60 0 0 570.2 500.4Z" fill="#fff" stroke="#000" stroke-width="1.1" />
<ellipse cx="557.7" cy="478.7" rx="25" ry="14.4" transform="rotate(60 557.7 478.7)" fill="#fff" stroke="#000" stroke-width="1.1" />
<path d="M571.7 499.4A25 14.4 60 0 0 572.8 470A25 14.4 60 0 0 546.8 456.3" fill="none" stroke="#000" stroke-width="0.9" />
<path d="M573.4 498.4A25 14.4 60 0 0 574.5 469A25 14.4 60 0 0 548.5 455.3" fill="none" stroke="#000" stroke-width="0.9" />
<ellipse cx="557.7" cy="478.7" rx="15.5" ry="8.9" transform="rotate(60 557.7 478.7)" fill="#fff" stroke="#000" stroke-width="1.1" />
<clipPath id="c7"><ellipse cx="557.7" cy="478.7" rx="15.5" ry="8.9" transform="rotate(60 557.7 478.7)"/></clipPath>
<g clip-path="url(#c7)">
<ellipse cx="561.2" cy="476.7" rx="12.5" ry="7.2" transform="rotate(60 561.2 476.7)" fill="none" stroke="#000" stroke-width="0.9" />
</g>
<g clip-path="url(#c7)">
<ellipse cx="559.4" cy="477.7" rx="15.5" ry="8.9" transform="rotate(60 559.4 477.7)" fill="none" stroke="#000" stroke-width="0.8" />
</g>
<polygon points="786.3,245.6 787.8,244.6 795.8,252.8 798.3,250.3 793,239.4 794.1,237.8 802.6,244.1 804.2,240.6 797.5,230.5 798.2,228.4 806.7,232.5 807.5,228.1 799.8,219.3 799.9,216.9 808.1,218.6 807.9,213.6 799.6,206.5 799.2,203.8 806.6,203 805.5,197.6 796.9,192.6 796.1,189.8 802.3,186.5 800.3,181.1 791.9,178.4 790.7,175.6 795.4,170.1 792.6,164.8 784.9,164.6 783.3,161.9 786.3,154.4 782.9,149.5 776.1,151.8 774.2,149.5 775.4,140.3 771.5,136.1 766.1,140.8 764,138.8 763.3,128.5 759.1,125.2 755.4,132 753.2,130.5 750.5,119.5 746.3,117.3 744.4,125.9 742.2,125 737.8,113.9 733.7,112.8 733.7,122.8 731.6,122.5 725.7,111.9 722,112.1 723.9,122.8 722,123.2 714.9,113.6 711.7,115 715.4,126.1 713.9,127.1 705.9,118.9 703.4,121.4 708.7,132.3 707.6,133.9 699.1,127.6 697.4,131.1 704.1,141.2 703.5,143.3 694.9,139.2 694.2,143.6 701.9,152.4 701.7,154.8 693.6,153.1 693.7,158.1 702.1,165.2 702.5,167.9 695.1,168.7 696.2,174.1 704.8,179.1 705.6,181.9 699.4,185.2 701.4,190.6 709.8,193.3 711,196.1 706.2,201.6 709,206.9 716.8,207.1 718.4,209.8 715.4,217.3 718.8,222.2 725.5,219.9 727.4,222.2 726.3,231.4 730.2,235.6 735.5,230.9 737.6,232.9 738.4,243.2 742.6,246.5 746.3,239.7 748.5,241.2 751.1,252.2 755.4,254.4 757.3,245.8 759.5,246.7 763.9,257.8 768,258.9 768,248.9 770,249.2 776,259.8 779.7,259.6 777.8,248.9 779.6,248.5 786.8,258.1 790,256.7" fill="#fff" stroke="#000" stroke-width="1.1" />
<polygon points="681.3,196 675,199.2 699.4,185.2 705.6,181.9" fill="#fff" stroke="#000" stroke-width="1" />
<polygon points="705.8,249.6 711.2,245 735.5,230.9 730.2,235.6" fill="#fff" stroke="#000" stroke-width="1" />
<polygon points="678.1,182 670.7,182.8 695.1,168.7 702.5,167.9" fill="#fff" stroke="#000" stroke-width="1" />
<polygon points="718.2,260.6 722,253.8 746.3,239.7 742.6,246.5" fill="#fff" stroke="#000" stroke-width="1" />
<polygon points="677.4,168.9 669.2,167.2 693.6,153.1 701.7,154.8" fill="#fff" stroke="#000" stroke-width="1" />
<polygon points="731,268.5 733,259.9 757.3,245.8 755.4,254.4" fill="#fff" stroke="#000" stroke-width="1" />
<polygon points="679.2,157.3 670.6,153.3 694.9,139.2 703.5,143.3" fill="#fff" stroke="#000" stroke-width="1" />
<polygon points="743.6,272.9 743.7,263 768,248.9 768,258.9" fill="#fff" stroke="#000" stroke-width="1" />
<polygon points="683.3,147.9 674.8,141.7 699.1,127.6 707.6,133.9" fill="#fff" stroke="#000" stroke-width="1" />
<polygon points="755.4,273.7 753.5,262.9 777.8,248.9 779.7,259.6" fill="#fff" stroke="#000" stroke-width="1" />
<polygon points="689.6,141.1 681.5,133 705.9,118.9 713.9,127.1" fill="#fff" stroke="#000" stroke-width="1" />
<polygon points="765.7,270.8 761.9,259.7 786.3,245.6 790,256.7" fill="#fff" stroke="#000" stroke-width="1" />
<polygon points="761.9,259.7 763.4,258.7 787.8,244.6 786.3,245.6" fill="#fff" stroke="#000" stroke-width="1" />
<polygon points="690.5,127.7 687.3,129 711.7,115 714.9,113.6" fill="#fff" stroke="#000" stroke-width="1" />
<polygon points="697.7,137.3 690.5,127.7 714.9,113.6 722,123.2" fill="#fff" stroke="#000" stroke-width="1" />
<polygon points="771.5,266.8 774,264.3 798.3,250.3 795.8,252.8" fill="#fff" stroke="#000" stroke-width="1" />
<polygon points="699.5,136.9 697.7,137.3 722,123.2 723.9,122.8" fill="#fff" stroke="#000" stroke-width="1" />
<polygon points="774,264.3 768.6,253.4 793,239.4 798.3,250.3" fill="#fff" stroke="#000" stroke-width="1" />
<polygon points="768.6,253.4 769.7,251.9 794.1,237.8 793,239.4" fill="#fff" stroke="#000" stroke-width="1" />
<polygon points="701.4,126 697.6,126.1 722,112.1 725.7,111.9" fill="#fff" stroke="#000" stroke-width="1" />
<polygon points="707.3,136.6 701.4,126 725.7,111.9 731.6,122.5" fill="#fff" stroke="#000" stroke-width="1" />
<polygon points="709.3,136.8 707.3,136.6 731.6,122.5 733.7,122.8" fill="#fff" stroke="#000" stroke-width="1" />
<polygon points="778.2,258.1 779.9,254.6 804.2,240.6 802.6,244.1" fill="#fff" stroke="#000" stroke-width="1" />
<polygon points="779.9,254.6 773.2,244.5 797.5,230.5 804.2,240.6" fill="#fff" stroke="#000" stroke-width="1" />
<polygon points="773.2,244.5 773.8,242.5 798.2,228.4 797.5,230.5" fill="#fff" stroke="#000" stroke-width="1" />
<polygon points="713.5,128 709.4,126.9 733.7,112.8 737.8,113.9" fill="#fff" stroke="#000" stroke-width="1" />
<polygon points="720,139.9 717.8,139 742.2,125 744.4,125.9" fill="#fff" stroke="#000" stroke-width="1" />
<polygon points="717.8,139 713.5,128 737.8,113.9 742.2,125" fill="#fff" stroke="#000" stroke-width="1" />
<polygon points="775.4,233.4 775.6,230.9 799.9,216.9 799.8,219.3" fill="#fff" stroke="#000" stroke-width="1" />
<polygon points="782.4,246.5 783.2,242.2 807.5,228.1 806.7,232.5" fill="#fff" stroke="#000" stroke-width="1" />
<polygon points="783.2,242.2 775.4,233.4 799.8,219.3 807.5,228.1" fill="#fff" stroke="#000" stroke-width="1" />
<polygon points="731,146 728.8,144.6 753.2,130.5 755.4,132" fill="#fff" stroke="#000" stroke-width="1" />
<polygon points="728.8,144.6 726.2,133.6 750.5,119.5 753.2,130.5" fill="#fff" stroke="#000" stroke-width="1" />
<polygon points="726.2,133.6 722,131.3 746.3,117.3 750.5,119.5" fill="#fff" stroke="#000" stroke-width="1" />
<polygon points="775.2,220.5 774.9,217.8 799.2,203.8 799.6,206.5" fill="#fff" stroke="#000" stroke-width="1" />
<polygon points="783.6,227.6 775.2,220.5 799.6,206.5 807.9,213.6" fill="#fff" stroke="#000" stroke-width="1" />
<polygon points="783.8,232.6 783.6,227.6 807.9,213.6 808.1,218.6" fill="#fff" stroke="#000" stroke-width="1" />
<polygon points="741.8,154.8 739.7,152.9 764,138.8 766.1,140.8" fill="#fff" stroke="#000" stroke-width="1" />
<polygon points="772.6,206.7 771.7,203.8 796.1,189.8 796.9,192.6" fill="#fff" stroke="#000" stroke-width="1" />
<polygon points="739.7,152.9 738.9,142.5 763.3,128.5 764,138.8" fill="#fff" stroke="#000" stroke-width="1" />
<polygon points="738.9,142.5 734.8,139.2 759.1,125.2 763.3,128.5" fill="#fff" stroke="#000" stroke-width="1" />
<polygon points="751.8,165.9 749.9,163.5 774.2,149.5 776.1,151.8" fill="#fff" stroke="#000" stroke-width="1" />
<polygon points="781.2,211.7 772.6,206.7 796.9,192.6 805.5,197.6" fill="#fff" stroke="#000" stroke-width="1" />
<polygon points="767.6,192.5 766.3,189.7 790.7,175.6 791.9,178.4" fill="#fff" stroke="#000" stroke-width="1" />
<polygon points="760.5,178.6 758.9,176 783.3,161.9 784.9,164.6" fill="#fff" stroke="#000" stroke-width="1" />
<polygon points="782.3,217 781.2,211.7 805.5,197.6 806.6,203" fill="#fff" stroke="#000" stroke-width="1" />
<polygon points="749.9,163.5 751.1,154.3 775.4,140.3 774.2,149.5" fill="#fff" stroke="#000" stroke-width="1" />
<polygon points="776,195.1 767.6,192.5 791.9,178.4 800.3,181.1" fill="#fff" stroke="#000" stroke-width="1" />
<polygon points="758.5,163.6 751.8,165.9 776.1,151.8 782.9,149.5" fill="#fff" stroke="#000" stroke-width="1" />
<polygon points="766.3,189.7 771.1,184.1 795.4,170.1 790.7,175.6" fill="#fff" stroke="#000" stroke-width="1" />
<polygon points="758.9,176 762,168.4 786.3,154.4 783.3,161.9" fill="#fff" stroke="#000" stroke-width="1" />
<polygon points="751.1,154.3 747.2,150.2 771.5,136.1 775.4,140.3" fill="#fff" stroke="#000" stroke-width="1" />
<polygon points="768.3,178.8 760.5,178.6 784.9,164.6 792.6,164.8" fill="#fff" stroke="#000" stroke-width="1" />
<polygon points="778,200.6 776,195.1 800.3,181.1 802.3,186.5" fill="#fff" stroke="#000" stroke-width="1" />
<polygon points="762,168.4 758.5,163.6 782.9,149.5 786.3,154.4" fill="#fff" stroke="#000" stroke-width="1" />
<polygon points="771.1,184.1 768.3,178.8 792.6,164.8 795.4,170.1" fill="#fff" stroke="#000" stroke-width="1" />
<polygon points="761.9,259.7 763.4,258.7 771.5,266.8 774,264.3 768.6,253.4 769.7,251.9 778.2,258.1 779.9,254.6 773.2,244.5 773.8,242.5 782.4,246.5 783.2,242.2 775.4,233.4 775.6,230.9 783.8,232.6 783.6,227.6 775.2,220.5 774.9,217.8 782.3,217 781.2,211.7 772.6,206.7 771.7,203.8 778,200.6 776,195.1 767.6,192.5 766.3,189.7 771.1,184.1 768.3,178.8 760.5,178.6 758.9,176 762,168.4 758.5,163.6 751.8,165.9 749.9,163.5 751.1,154.3 747.2,150.2 741.8,154.8 739.7,152.9 738.9,142.5 734.8,139.2 731,146 728.8,144.6 726.2,133.6 722,131.3 720,139.9 717.8,139 713.5,128 709.4,126.9 709.3,136.8 707.3,136.6 701.4,126 697.6,126.1 699.5,136.9 697.7,137.3 690.5,127.7 687.3,129 691.1,140.1 689.6,141.1 681.5,133 679,135.5 684.4,146.4 683.3,147.9 674.8,141.7 673.1,145.2 679.8,155.3 679.2,157.3 670.6,153.3 669.8,157.6 677.6,166.4 677.4,168.9 669.2,167.2 669.4,172.2 677.8,179.3 678.1,182 670.7,182.8 671.8,188.1 680.4,193.1 681.3,196 675,199.2 677,204.7 685.4,207.3 686.7,210.1 681.9,215.7 684.7,221 692.5,221.2 694.1,223.8 691,231.4 694.5,236.2 701.2,233.9 703.1,236.3 701.9,245.5 705.8,249.6 711.2,245 713.3,246.9 714.1,257.3 718.2,260.6 722,253.8 724.2,255.2 726.8,266.2 731,268.5 733,259.9 735.2,260.8 739.5,271.8 743.6,272.9 743.7,263 745.7,263.2 751.6,273.8 755.4,273.7 753.5,262.9 755.3,262.5 762.5,272.1 765.7,270.8" fill="#fff" stroke="#000" stroke-width="1.1" />
<polygon points="759.6,206.6 769.4,208.6 770,205.4 766.1,194.2 760.8,183.2 757.8,180.5 750.7,184.9 750.9,188 757.5,203.8" fill="#fff" stroke="#000" stroke-width="1" />
<polygon points="763.3,212.1 763.9,208.9 770,205.4 769.4,208.6" fill="#fff" stroke="#000" stroke-width="0.9" />
<polygon points="763.9,208.9 760,197.7 766.1,194.2 770,205.4" fill="#fff" stroke="#000" stroke-width="0.9" />
<polygon points="754.8,186.7 751.7,184 757.8,180.5 760.8,183.2" fill="#fff" stroke="#000" stroke-width="0.9" />
<polygon points="760,197.7 754.8,186.7 760.8,183.2 766.1,194.2" fill="#fff" stroke="#000" stroke-width="0.9" />
<polygon points="753.6,210.1 763.3,212.1 763.9,208.9 760,197.7 754.8,186.7 751.7,184 744.6,188.4 744.9,191.5 751.4,207.3" fill="#fff" stroke="#000" stroke-width="1" />
<polygon points="726.5,159.7 726.5,147.9 723.8,144.5 715.2,141.1 707,139.7 705.3,141.8 710.1,154.9 712.6,157 724.6,160.5" fill="#fff" stroke="#000" stroke-width="1" />
<polygon points="709.1,144.6 701,143.2 707,139.7 715.2,141.1" fill="#fff" stroke="#000" stroke-width="0.9" />
<polygon points="717.7,148 709.1,144.6 715.2,141.1 723.8,144.5" fill="#fff" stroke="#000" stroke-width="0.9" />
<polygon points="720.4,163.2 720.4,151.4 726.5,147.9 726.5,159.7" fill="#fff" stroke="#000" stroke-width="0.9" />
<polygon points="720.4,151.4 717.7,148 723.8,144.5 726.5,147.9" fill="#fff" stroke="#000" stroke-width="0.9" />
<polygon points="720.4,163.2 720.4,151.4 717.7,148 709.1,144.6 701,143.2 699.3,145.3 704.1,158.4 706.6,160.5 718.5,164" fill="#fff" stroke="#000" stroke-width="1" />
<polygon points="747,244.3 753,257.3 756.1,258.7 762.3,255.2 767.2,249.8 767,246.1 757.8,235.6 755.5,235.4 747.6,241.7" fill="#fff" stroke="#000" stroke-width="1" />
<polygon points="756.2,258.7 761.1,253.3 767.2,249.8 762.3,255.2" fill="#fff" stroke="#000" stroke-width="0.9" />
<polygon points="751.8,239.1 749.4,238.9 755.5,235.4 757.8,235.6" fill="#fff" stroke="#000" stroke-width="0.9" />
<polygon points="760.9,249.6 751.8,239.1 757.8,235.6 767,246.1" fill="#fff" stroke="#000" stroke-width="0.9" />
<polygon points="761.1,253.3 760.9,249.6 767,246.1 767.2,249.8" fill="#fff" stroke="#000" stroke-width="0.9" />
<polygon points="740.9,247.8 746.9,260.8 750,262.2 756.2,258.7 761.1,253.3 760.9,249.6 751.8,239.1 749.4,238.9 741.5,245.2" fill="#fff" stroke="#000" stroke-width="1" />
<polygon points="693.4,168.3 683.6,159.1 681.3,160.2 679.9,169.3 680.1,179.4 682.1,183.3 692.2,187.1 693.5,185.3 694.3,171.6" fill="#fff" stroke="#000" stroke-width="1" />
<polygon points="686.1,190.6 687.4,188.8 693.5,185.3 692.2,187.1" fill="#fff" stroke="#000" stroke-width="0.9" />
<polygon points="677.6,162.6 675.3,163.7 681.3,160.2 683.6,159.1" fill="#fff" stroke="#000" stroke-width="0.9" />
<polygon points="687.4,188.8 688.3,175.1 694.3,171.6 693.5,185.3" fill="#fff" stroke="#000" stroke-width="0.9" />
<polygon points="687.3,171.8 677.6,162.6 683.6,159.1 693.4,168.3" fill="#fff" stroke="#000" stroke-width="0.9" />
<polygon points="688.3,175.1 687.3,171.8 693.4,168.3 694.3,171.6" fill="#fff" stroke="#000" stroke-width="0.9" />
<polygon points="687.3,171.8 677.6,162.6 675.3,163.7 673.9,172.8 674.1,182.9 676.1,186.8 686.1,190.6 687.4,188.8 688.3,175.1" fill="#fff" stroke="#000" stroke-width="1" />
<polygon points="706,220.6 700,226.7 701.3,230.7 709,239.8 717.3,247.4 720.2,247.8 721.7,236.9 720,233.7 708.6,221.9" fill="#fff" stroke="#000" stroke-width="1" />
<polygon points="702.5,225.4 700,224.1 706,220.6 708.6,221.9" fill="#fff" stroke="#000" stroke-width="0.9" />
<polygon points="714.2,251.3 715.6,240.4 721.7,236.9 720.2,247.8" fill="#fff" stroke="#000" stroke-width="0.9" />
<polygon points="713.9,237.2 702.5,225.4 708.6,221.9 720,233.7" fill="#fff" stroke="#000" stroke-width="0.9" />
<polygon points="715.6,240.4 713.9,237.2 720,233.7 721.7,236.9" fill="#fff" stroke="#000" stroke-width="0.9" />
<polygon points="700,224.1 694,230.2 695.3,234.2 703,243.3 711.2,250.9 714.2,251.3 715.6,240.4 713.9,237.2 702.5,225.4" fill="#fff" stroke="#000" stroke-width="1" />
<path d="M749.5 239.7A46 26.6 60 0 0 749.5 186.6A46 26.6 60 0 0 703.5 160.1L701.3 161.3A46 26.6 60 0 0 701.3 214.4A46 26.6 60 0 0 747.3 241Z" fill="#fff" stroke="#000" stroke-width="1.1" />
<ellipse cx="724.3" cy="201.2" rx="46" ry="26.6" transform="rotate(60 724.3 201.2)" fill="#fff" stroke="#000" stroke-width="1.1" />
<ellipse cx="724.3" cy="201.2" rx="43" ry="24.8" transform="rotate(60 724.3 201.2)" fill="#fff" stroke="#000" stroke-width="1.1" />
<clipPath id="c8"><ellipse cx="724.3" cy="201.2" rx="43" ry="24.8" transform="rotate(60 724.3 201.2)"/></clipPath>
<g clip-path="url(#c8)">
<ellipse cx="750.7" cy="185.9" rx="43" ry="24.8" transform="rotate(60 750.7 185.9)" fill="none" stroke="#000" stroke-width="0.9" />
</g>
<g clip-path="url(#c8)">
<ellipse cx="735.2" cy="194.9" rx="43" ry="24.8" transform="rotate(60 735.2 194.9)" fill="none" stroke="#000" stroke-width="0.8" />
</g>
<path d="M671.5 274A36.6 21.1 60 0 0 671.5 231.7A36.6 21.1 60 0 0 634.9 210.6L610.8 224.5A36.6 21.1 60 0 0 610.8 266.8A36.6 21.1 60 0 0 647.4 287.9Z" fill="#fff" stroke="#000" stroke-width="1.1" />
<ellipse cx="629.1" cy="256.2" rx="36.6" ry="21.1" transform="rotate(60 629.1 256.2)" fill="#fff" stroke="#000" stroke-width="1.1" />
<ellipse cx="629.1" cy="256.2" rx="34" ry="19.6" transform="rotate(60 629.1 256.2)" fill="#fff" stroke="#000" stroke-width="1.1" />
<clipPath id="c9"><ellipse cx="629.1" cy="256.2" rx="34" ry="19.6" transform="rotate(60 629.1 256.2)"/></clipPath>
<g clip-path="url(#c9)">
<ellipse cx="653.2" cy="242.3" rx="34" ry="19.6" transform="rotate(60 653.2 242.3)" fill="none" stroke="#000" stroke-width="0.9" />
</g>
<g clip-path="url(#c9)">
<ellipse cx="634.3" cy="253.2" rx="34" ry="19.6" transform="rotate(60 634.3 253.2)" fill="none" stroke="#000" stroke-width="0.8" />
</g>
<g clip-path="url(#c9)">
<ellipse cx="639.5" cy="250.2" rx="34" ry="19.6" transform="rotate(60 639.5 250.2)" fill="none" stroke="#000" stroke-width="0.8" />
</g>
<ellipse cx="639.3" cy="217.9" rx="2.1" ry="1.4" transform="rotate(-10 639.3 217.9)" fill="#fff" stroke="#000" stroke-width="1.3"/>
<path d="M600.5 320.9A42 24.2 60 0 0 600.5 272.4A42 24.2 60 0 0 558.5 248.1L556.8 249.1A42 24.2 60 0 0 556.8 297.6A42 24.2 60 0 0 598.8 321.9Z" fill="#fff" stroke="#000" stroke-width="1.1" />
<ellipse cx="577.8" cy="285.5" rx="42" ry="24.2" transform="rotate(60 577.8 285.5)" fill="#fff" stroke="#000" stroke-width="1.1" />
<clipPath id="c10"><polygon points="594.7,314.8 596.6,313.4 594.9,309.2 596.6,306.8 599.9,308.8 600.8,306.3 598.2,302.4 598.6,298.9 601.7,299.3 601.5,296 598.3,293.1 597.5,289 599.9,287.7 598.7,284.1 595.4,282.7 593.4,278.5 594.7,275.7 592.6,272.4 589.7,272.6 586.9,269.1 586.9,265.3 584.3,262.7 582.3,264.6 579,262.2 577.8,257.9 575,256.5 574.1,259.7 571,258.8 568.7,254.7 566.1,254.7 566.6,258.7 563.9,259.5 560.9,256.2 559,257.6 560.7,261.8 559,264.2 555.7,262.2 554.8,264.7 557.4,268.6 557,272.1 553.9,271.7 554.1,275 557.3,277.9 558.1,282 555.7,283.3 556.9,286.9 560.2,288.3 562.2,292.5 560.9,295.3 563,298.6 565.9,298.4 568.7,301.9 568.7,305.7 571.3,308.3 573.3,306.4 576.6,308.8 577.8,313.1 580.6,314.5 581.5,311.3 584.6,312.2 586.9,316.3 589.5,316.3 589,312.3 591.7,311.5"/></clipPath>
<polygon points="594.7,314.8 596.6,313.4 594.9,309.2 596.6,306.8 599.9,308.8 600.8,306.3 598.2,302.4 598.6,298.9 601.7,299.3 601.5,296 598.3,293.1 597.5,289 599.9,287.7 598.7,284.1 595.4,282.7 593.4,278.5 594.7,275.7 592.6,272.4 589.7,272.6 586.9,269.1 586.9,265.3 584.3,262.7 582.3,264.6 579,262.2 577.8,257.9 575,256.5 574.1,259.7 571,258.8 568.7,254.7 566.1,254.7 566.6,258.7 563.9,259.5 560.9,256.2 559,257.6 560.7,261.8 559,264.2 555.7,262.2 554.8,264.7 557.4,268.6 557,272.1 553.9,271.7 554.1,275 557.3,277.9 558.1,282 555.7,283.3 556.9,286.9 560.2,288.3 562.2,292.5 560.9,295.3 563,298.6 565.9,298.4 568.7,301.9 568.7,305.7 571.3,308.3 573.3,306.4 576.6,308.8 577.8,313.1 580.6,314.5 581.5,311.3 584.6,312.2 586.9,316.3 589.5,316.3 589,312.3 591.7,311.5" fill="#fff" stroke="#000" stroke-width="1.1" />
<polygon points="596.4,313.8 598.3,312.4 596.6,308.2 598.3,305.8 601.6,307.8 602.5,305.3 599.9,301.4 600.4,297.9 603.4,298.3 603.3,295 600.1,292.1 599.2,288 601.6,286.7 600.4,283.1 597.1,281.7 595.1,277.5 596.4,274.7 594.3,271.4 591.5,271.6 588.6,268.1 588.7,264.3 586,261.7 584,263.6 580.8,261.2 579.5,256.9 576.7,255.5 575.9,258.7 572.7,257.8 570.4,253.7 567.9,253.7 568.3,257.7 565.7,258.5 562.6,255.2 560.8,256.6 562.4,260.8 560.8,263.2 557.5,261.2 556.5,263.7 559.2,267.6 558.7,271.1 555.6,270.7 555.8,274 559,276.9 559.8,281 557.5,282.3 558.7,285.9 562,287.3 563.9,291.5 562.6,294.3 564.7,297.6 567.6,297.4 570.4,300.9 570.4,304.7 573,307.3 575.1,305.4 578.3,307.8 579.5,312.1 582.3,313.5 583.2,310.3 586.4,311.2 588.7,315.3 591.2,315.3 590.8,311.3 593.4,310.5" fill="none" stroke="#000" stroke-width="0.8" clip-path="url(#c10)"/>
<polygon points="521.8,281.4 518,280.4 514.3,280.2 511,280.6 508,281.8 505.3,283.8 503.2,286.3 501.5,289.5 500.4,293.3 499.8,297.5 499.9,302.1 500.5,307 501.6,312 503.3,317.1 505.5,322.2 508.2,327.1 511.2,331.8 514.6,336.1 518.3,340 522.1,343.4 526,346.2 530,348.3 533.9,349.7 537.7,350.4 541.2,350.3 544.4,349.5 547.3,348 549.7,345.8 551.6,342.9 553.1,339.5 553.9,335.5 554.2,331.1 553.9,326.4 553.1,321.4 551.7,316.3 549.8,311.2 547.4,306.2 544.5,301.4 541.3,296.8 537.8,292.7 534,289 533,293.3 534.3,294.9 536,294.5 536.2,296.4 538.5,296.4 539.5,297.6 542.3,301.6 544.8,305.8 546.9,310.1 548.5,314.6 549.8,319 550.5,323.3 550.7,327.4 550.5,331.3 549.7,334.7 548.5,337.7 546.8,340.2 544.7,342.1 542.2,343.5 539.4,344.2 536.3,344.2 533.1,343.6 529.7,342.4 526.2,340.6 522.8,338.1 519.5,335.2 516.3,331.8 513.3,328.1 510.7,324 508.4,319.7 506.4,315.3 505,310.8 504,306.4 503.4,302.2 503.4,298.2 503.9,294.5 504.9,291.3 506.3,288.5 508.2,286.3 510.5,284.6 513.1,283.5 516,283.1 517,283.1 519.3,286 519.6,284.3 521.2,286.9 522.6,286.9" fill="#fff" stroke="#000" stroke-width="1.1" />
<path d="M509.2 285.9A33.5 19.3 60 0 0 542.2 343" fill="none" stroke="#000" stroke-width="0.8" />
<path d="M542.2 349.5A38.5 22.2 60 0 0 535.6 288.1" fill="none" stroke="#000" stroke-width="0.8" />
<circle cx="521" cy="285.1" r="0.9" fill="#fff" stroke="#000" stroke-width="0.8"/>
<circle cx="534.6" cy="293.5" r="0.9" fill="#fff" stroke="#000" stroke-width="0.8"/>
<polygon points="491.5,406.8 492.9,405.8 500.8,414.2 503.3,411.8 497.9,401 499,399.5 507.4,405.8 509,402.3 502.2,392.4 502.8,390.4 511.3,394.4 512,390.1 504.1,381.6 504.2,379.2 512.3,380.6 511.9,375.7 503.5,369.1 503,366.5 510.2,365.3 508.9,360 500.4,355.8 499.4,353.1 505.3,349.2 503.1,343.9 494.9,342.3 493.6,339.7 497.8,333.4 494.8,328.4 487.5,329.5 485.8,327 488.1,318.8 484.5,314.4 478.5,318 476.6,316 476.8,306.2 472.9,302.6 468.5,308.6 466.5,307.1 464.6,296.3 460.5,293.8 458.1,301.9 456,300.9 452.2,289.8 448.2,288.4 447.8,298.1 445.8,297.7 440.3,287 436.5,286.9 438.2,297.5 436.4,297.8 429.5,288 426.3,289.2 430,300.2 428.5,301.2 420.6,292.8 418.1,295.2 423.5,306 422.4,307.5 414,301.2 412.4,304.7 419.2,314.6 418.6,316.6 410.1,312.6 409.4,316.9 417.3,325.4 417.2,327.8 409.1,326.4 409.5,331.3 417.9,337.9 418.4,340.5 411.2,341.7 412.5,347 421,351.2 422,353.9 416.1,357.8 418.3,363.1 426.5,364.7 427.8,367.3 423.6,373.6 426.6,378.6 433.9,377.5 435.6,380 433.3,388.2 436.9,392.6 442.9,389 444.8,391 444.6,400.8 448.5,404.4 452.9,398.4 454.9,399.9 456.8,410.7 460.9,413.2 463.3,405.1 465.4,406.1 469.2,417.2 473.2,418.6 473.6,408.9 475.6,409.3 481.1,420 484.9,420.1 483.2,409.5 485,409.2 491.9,419 495.1,417.8" fill="#fff" stroke="#000" stroke-width="1.1" />
<polygon points="413,406.4 419,402.8 442.9,389 436.9,392.6" fill="#fff" stroke="#000" stroke-width="1" />
<polygon points="394.5,354.3 387.3,355.5 411.2,341.7 418.4,340.5" fill="#fff" stroke="#000" stroke-width="1" />
<polygon points="424.6,418.2 429,412.2 452.9,398.4 448.5,404.4" fill="#fff" stroke="#000" stroke-width="1" />
<polygon points="393.3,341.6 385.2,340.2 409.1,326.4 417.2,327.8" fill="#fff" stroke="#000" stroke-width="1" />
<polygon points="437,427 439.4,418.9 463.3,405.1 460.9,413.2" fill="#fff" stroke="#000" stroke-width="1" />
<polygon points="394.7,330.4 386.2,326.4 410.1,312.6 418.6,316.6" fill="#fff" stroke="#000" stroke-width="1" />
<polygon points="449.3,432.4 449.7,422.7 473.6,408.9 473.2,418.6" fill="#fff" stroke="#000" stroke-width="1" />
<polygon points="398.5,321.3 390.1,315 414,301.2 422.4,307.5" fill="#fff" stroke="#000" stroke-width="1" />
<polygon points="461,433.9 459.3,423.3 483.2,409.5 484.9,420.1" fill="#fff" stroke="#000" stroke-width="1" />
<polygon points="404.6,315 396.7,306.6 420.6,292.8 428.5,301.2" fill="#fff" stroke="#000" stroke-width="1" />
<polygon points="471.2,431.6 467.6,420.6 491.5,406.8 495.1,417.8" fill="#fff" stroke="#000" stroke-width="1" />
<polygon points="467.6,420.6 469,419.6 492.9,405.8 491.5,406.8" fill="#fff" stroke="#000" stroke-width="1" />
<polygon points="405.6,301.8 402.4,303 426.3,289.2 429.5,288" fill="#fff" stroke="#000" stroke-width="1" />
<polygon points="476.9,428 479.4,425.6 503.3,411.8 500.8,414.2" fill="#fff" stroke="#000" stroke-width="1" />
<polygon points="412.5,311.6 405.6,301.8 429.5,288 436.4,297.8" fill="#fff" stroke="#000" stroke-width="1" />
<polygon points="414.3,311.3 412.5,311.6 436.4,297.8 438.2,297.5" fill="#fff" stroke="#000" stroke-width="1" />
<polygon points="479.4,425.6 474,414.8 497.9,401 503.3,411.8" fill="#fff" stroke="#000" stroke-width="1" />
<polygon points="474,414.8 475.1,413.3 499,399.5 497.9,401" fill="#fff" stroke="#000" stroke-width="1" />
<polygon points="416.4,300.8 412.6,300.7 436.5,286.9 440.3,287" fill="#fff" stroke="#000" stroke-width="1" />
<polygon points="421.9,311.5 416.4,300.8 440.3,287 445.8,297.7" fill="#fff" stroke="#000" stroke-width="1" />
<polygon points="423.9,311.9 421.9,311.5 445.8,297.7 447.8,298.1" fill="#fff" stroke="#000" stroke-width="1" />
<polygon points="483.5,419.6 485.1,416.1 509,402.3 507.4,405.8" fill="#fff" stroke="#000" stroke-width="1" />
<polygon points="485.1,416.1 478.3,406.2 502.2,392.4 509,402.3" fill="#fff" stroke="#000" stroke-width="1" />
<polygon points="478.3,406.2 478.9,404.2 502.8,390.4 502.2,392.4" fill="#fff" stroke="#000" stroke-width="1" />
<polygon points="434.2,315.7 432.1,314.7 456,300.9 458.1,301.9" fill="#fff" stroke="#000" stroke-width="1" />
<polygon points="428.3,303.6 424.3,302.2 448.2,288.4 452.2,289.8" fill="#fff" stroke="#000" stroke-width="1" />
<polygon points="432.1,314.7 428.3,303.6 452.2,289.8 456,300.9" fill="#fff" stroke="#000" stroke-width="1" />
<polygon points="480.2,395.4 480.3,393 504.2,379.2 504.1,381.6" fill="#fff" stroke="#000" stroke-width="1" />
<polygon points="487.4,408.2 488.1,403.9 512,390.1 511.3,394.4" fill="#fff" stroke="#000" stroke-width="1" />
<polygon points="488.1,403.9 480.2,395.4 504.1,381.6 512,390.1" fill="#fff" stroke="#000" stroke-width="1" />
<polygon points="444.6,322.4 442.6,320.9 466.5,307.1 468.5,308.6" fill="#fff" stroke="#000" stroke-width="1" />
<polygon points="479.6,382.9 479.1,380.3 503,366.5 503.5,369.1" fill="#fff" stroke="#000" stroke-width="1" />
<polygon points="442.6,320.9 440.7,310.1 464.6,296.3 466.5,307.1" fill="#fff" stroke="#000" stroke-width="1" />
<polygon points="440.7,310.1 436.6,307.6 460.5,293.8 464.6,296.3" fill="#fff" stroke="#000" stroke-width="1" />
<polygon points="488,389.5 479.6,382.9 503.5,369.1 511.9,375.7" fill="#fff" stroke="#000" stroke-width="1" />
<polygon points="488.4,394.4 488,389.5 511.9,375.7 512.3,380.6" fill="#fff" stroke="#000" stroke-width="1" />
<polygon points="454.6,331.8 452.7,329.8 476.6,316 478.5,318" fill="#fff" stroke="#000" stroke-width="1" />
<polygon points="476.5,369.6 475.5,366.9 499.4,353.1 500.4,355.8" fill="#fff" stroke="#000" stroke-width="1" />
<polygon points="452.7,329.8 452.9,320 476.8,306.2 476.6,316" fill="#fff" stroke="#000" stroke-width="1" />
<polygon points="463.6,343.3 461.9,340.8 485.8,327 487.5,329.5" fill="#fff" stroke="#000" stroke-width="1" />
<polygon points="471,356.1 469.7,353.5 493.6,339.7 494.9,342.3" fill="#fff" stroke="#000" stroke-width="1" />
<polygon points="485,373.8 476.5,369.6 500.4,355.8 508.9,360" fill="#fff" stroke="#000" stroke-width="1" />
<polygon points="452.9,320 449,316.4 472.9,302.6 476.8,306.2" fill="#fff" stroke="#000" stroke-width="1" />
<polygon points="475.5,366.9 481.4,363 505.3,349.2 499.4,353.1" fill="#fff" stroke="#000" stroke-width="1" />
<polygon points="486.3,379.1 485,373.8 508.9,360 510.2,365.3" fill="#fff" stroke="#000" stroke-width="1" />
<polygon points="461.9,340.8 464.2,332.6 488.1,318.8 485.8,327" fill="#fff" stroke="#000" stroke-width="1" />
<polygon points="479.2,357.7 471,356.1 494.9,342.3 503.1,343.9" fill="#fff" stroke="#000" stroke-width="1" />
<polygon points="470.9,342.2 463.6,343.3 487.5,329.5 494.8,328.4" fill="#fff" stroke="#000" stroke-width="1" />
<polygon points="469.7,353.5 473.9,347.2 497.8,333.4 493.6,339.7" fill="#fff" stroke="#000" stroke-width="1" />
<polygon points="464.2,332.6 460.6,328.2 484.5,314.4 488.1,318.8" fill="#fff" stroke="#000" stroke-width="1" />
<polygon points="481.4,363 479.2,357.7 503.1,343.9 505.3,349.2" fill="#fff" stroke="#000" stroke-width="1" />
<polygon points="473.9,347.2 470.9,342.2 494.8,328.4 497.8,333.4" fill="#fff" stroke="#000" stroke-width="1" />
<polygon points="467.6,420.6 469,419.6 476.9,428 479.4,425.6 474,414.8 475.1,413.3 483.5,419.6 485.1,416.1 478.3,406.2 478.9,404.2 487.4,408.2 488.1,403.9 480.2,395.4 480.3,393 488.4,394.4 488,389.5 479.6,382.9 479.1,380.3 486.3,379.1 485,373.8 476.5,369.6 475.5,366.9 481.4,363 479.2,357.7 471,356.1 469.7,353.5 473.9,347.2 470.9,342.2 463.6,343.3 461.9,340.8 464.2,332.6 460.6,328.2 454.6,331.8 452.7,329.8 452.9,320 449,316.4 444.6,322.4 442.6,320.9 440.7,310.1 436.6,307.6 434.2,315.7 432.1,314.7 428.3,303.6 424.3,302.2 423.9,311.9 421.9,311.5 416.4,300.8 412.6,300.7 414.3,311.3 412.5,311.6 405.6,301.8 402.4,303 406.1,314 404.6,315 396.7,306.6 394.2,309 399.6,319.8 398.5,321.3 390.1,315 388.5,318.5 395.3,328.4 394.7,330.4 386.2,326.4 385.5,330.7 393.4,339.2 393.3,341.6 385.2,340.2 385.6,345.1 394,351.7 394.5,354.3 387.3,355.5 388.6,360.8 397.1,365 398.1,367.7 392.2,371.6 394.4,376.9 402.6,378.5 403.9,381.1 399.7,387.4 402.7,392.4 410,391.3 411.7,393.8 409.4,402 413,406.4 419,402.8 420.9,404.8 420.7,414.6 424.6,418.2 429,412.2 431,413.7 432.9,424.5 437,427 439.4,418.9 441.5,419.9 445.3,431 449.3,432.4 449.7,422.7 451.7,423.1 457.2,433.8 461,433.9 459.3,423.3 461.1,423 468,432.8 471.2,431.6" fill="#fff" stroke="#000" stroke-width="1.1" />
<path d="M463.6 413.6A53.5 30.9 60 0 0 463.5 351.9A53.5 30.9 60 0 0 410.1 321L389.5 324.2A61 35.2 60 0 0 389.5 394.6A61 35.2 60 0 0 450.5 429.8Z" fill="#fff" stroke="#000" stroke-width="1.1" />
<path d="M434.2 418.8A56.5 32.6 60 0 0 434.2 326.9" fill="none" stroke="#000" stroke-width="0.9" />
<ellipse cx="420" cy="377" rx="61" ry="35.2" transform="rotate(60 420 377)" fill="#fff" stroke="#000" stroke-width="1.1" />
<ellipse cx="420" cy="377" rx="44" ry="25.4" transform="rotate(60 420 377)" fill="none" stroke="#000" stroke-width="1.1" />
<polygon points="453.9,393.9 460.5,397.1 462.5,392.9 461.1,385.8 459.1,378.5 454.8,373 449.2,373.6 448.5,378.1 451,388.6" fill="#fff" stroke="#000" stroke-width="1" />
<polygon points="448.3,404.1 450.4,399.9 462.5,392.9 460.5,397.1" fill="#fff" stroke="#000" stroke-width="0.9" />
<polygon points="442.6,380 437,380.6 449.2,373.6 454.8,373" fill="#fff" stroke="#000" stroke-width="0.9" />
<polygon points="450.4,399.9 449,392.8 461.1,385.8 462.5,392.9" fill="#fff" stroke="#000" stroke-width="0.9" />
<polygon points="449,392.8 446.9,385.5 459.1,378.5 461.1,385.8" fill="#fff" stroke="#000" stroke-width="0.9" />
<polygon points="446.9,385.5 442.6,380 454.8,373 459.1,378.5" fill="#fff" stroke="#000" stroke-width="0.9" />
<polygon points="441.8,400.9 448.3,404.1 450.4,399.9 449,392.8 446.9,385.5 442.6,380 437,380.6 436.4,385.1 438.9,395.6" fill="#fff" stroke="#000" stroke-width="1" />
<polygon points="428.2,343.6 429.8,337.2 426,331.2 420.4,327.4 414.7,324.5 410.9,326.1 412.3,334.3 416.1,338.7 424.4,343.6" fill="#fff" stroke="#000" stroke-width="1" />
<polygon points="402.6,331.5 398.7,333.1 410.9,326.1 414.7,324.5" fill="#fff" stroke="#000" stroke-width="0.9" />
<polygon points="408.3,334.4 402.6,331.5 414.7,324.5 420.4,327.4" fill="#fff" stroke="#000" stroke-width="0.9" />
<polygon points="416.1,350.6 417.7,344.2 429.8,337.2 428.2,343.6" fill="#fff" stroke="#000" stroke-width="0.9" />
<polygon points="413.9,338.2 408.3,334.4 420.4,327.4 426,331.2" fill="#fff" stroke="#000" stroke-width="0.9" />
<polygon points="417.7,344.2 413.9,338.2 426,331.2 429.8,337.2" fill="#fff" stroke="#000" stroke-width="0.9" />
<polygon points="416.1,350.6 417.7,344.2 413.9,338.2 408.3,334.4 402.6,331.5 398.7,333.1 400.2,341.3 404,345.7 412.3,350.6" fill="#fff" stroke="#000" stroke-width="1" />
<polygon points="432.7,420.8 435.2,429.2 440.2,432.7 445,432 449.4,430.4 450.6,425.4 445.7,417.6 441.5,416 434.7,417.6" fill="#fff" stroke="#000" stroke-width="1" />
<polygon points="429.4,423 422.6,424.6 434.7,417.6 441.5,416" fill="#fff" stroke="#000" stroke-width="0.9" />
<polygon points="433.6,424.6 429.4,423 441.5,416 445.7,417.6" fill="#fff" stroke="#000" stroke-width="0.9" />
<polygon points="437.3,437.4 438.5,432.4 450.6,425.4 449.4,430.4" fill="#fff" stroke="#000" stroke-width="0.9" />
<polygon points="438.5,432.4 433.6,424.6 445.7,417.6 450.6,425.4" fill="#fff" stroke="#000" stroke-width="0.9" />
<polygon points="420.6,427.8 423.1,436.2 428.1,439.7 432.9,439 437.3,437.4 438.5,432.4 433.6,424.6 429.4,423 422.6,424.6" fill="#fff" stroke="#000" stroke-width="1" />
<polygon points="391.1,339.5 385.6,332.3 381.3,332.7 379.1,337.6 377.6,343.1 379.6,349.6 386.1,354 389.1,352.3 391.7,344.7" fill="#fff" stroke="#000" stroke-width="1" />
<polygon points="377,359.3 379.6,351.7 391.7,344.7 389.1,352.3" fill="#fff" stroke="#000" stroke-width="0.9" />
<polygon points="373.5,339.3 369.1,339.7 381.3,332.7 385.6,332.3" fill="#fff" stroke="#000" stroke-width="0.9" />
<polygon points="379.6,351.7 379,346.5 391.1,339.5 391.7,344.7" fill="#fff" stroke="#000" stroke-width="0.9" />
<polygon points="379,346.5 373.5,339.3 385.6,332.3 391.1,339.5" fill="#fff" stroke="#000" stroke-width="0.9" />
<polygon points="379,346.5 373.5,339.3 369.1,339.7 367,344.6 365.5,350.1 367.5,356.6 374,361 377,359.3 379.6,351.7" fill="#fff" stroke="#000" stroke-width="1" />
<polygon points="393.9,387.2 388.9,389.2 390,395.5 394.3,402.2 399.1,408.5 404.1,411 406.7,405.5 404.8,400 398.1,390.5" fill="#fff" stroke="#000" stroke-width="1" />
<polygon points="381.8,394.2 376.8,396.2 388.9,389.2 393.9,387.2" fill="#fff" stroke="#000" stroke-width="0.9" />
<polygon points="392,418 394.6,412.5 406.7,405.5 404.1,411" fill="#fff" stroke="#000" stroke-width="0.9" />
<polygon points="386,397.5 381.8,394.2 393.9,387.2 398.1,390.5" fill="#fff" stroke="#000" stroke-width="0.9" />
<polygon points="394.6,412.5 392.6,407 404.8,400 406.7,405.5" fill="#fff" stroke="#000" stroke-width="0.9" />
<polygon points="392.6,407 386,397.5 398.1,390.5 404.8,400" fill="#fff" stroke="#000" stroke-width="0.9" />
<polygon points="381.8,394.2 376.8,396.2 377.9,402.5 382.2,409.2 387,415.5 392,418 394.6,412.5 392.6,407 386,397.5" fill="#fff" stroke="#000" stroke-width="1" />
<ellipse cx="420" cy="377" rx="32" ry="18.5" transform="rotate(60 420 377)" fill="#fff" stroke="#000" stroke-width="1.1" />
<clipPath id="c11"><ellipse cx="420" cy="377" rx="32" ry="18.5" transform="rotate(60 420 377)"/></clipPath>
<g clip-path="url(#c11)">
<path d="M436 404.7L462 389.7" stroke="#000" stroke-width="0.9" fill="none" />
<path d="M439.1 402L465.1 387" stroke="#000" stroke-width="0.9" fill="none" />
<path d="M410.5 352.9L436.4 337.9" stroke="#000" stroke-width="0.9" fill="none" />
<path d="M407.5 353.7L433.4 338.7" stroke="#000" stroke-width="0.9" fill="none" />
<path d="M404 349.3L430 334.3" stroke="#000" stroke-width="0.9" fill="none" />
<path d="M400.9 352L426.9 337" stroke="#000" stroke-width="0.9" fill="none" />
<path d="M403.7 357L429.7 342" stroke="#000" stroke-width="0.9" fill="none" />
<path d="M402.2 360L428.2 345" stroke="#000" stroke-width="0.9" fill="none" />
<path d="M398.1 357.6L424.1 342.6" stroke="#000" stroke-width="0.9" fill="none" />
<path d="M397.4 362.9L423.4 347.9" stroke="#000" stroke-width="0.9" fill="none" />
<path d="M401.3 366.4L427.2 351.4" stroke="#000" stroke-width="0.9" fill="none" />
<path d="M401.7 370.9L427.7 355.9" stroke="#000" stroke-width="0.9" fill="none" />
<path d="M398.1 371.1L424.1 356.1" stroke="#000" stroke-width="0.9" fill="none" />
<path d="M399.9 377.5L425.9 362.5" stroke="#000" stroke-width="0.9" fill="none" />
<path d="M403.9 378.7L429.9 363.7" stroke="#000" stroke-width="0.9" fill="none" />
<path d="M406.1 383.4L432.1 368.4" stroke="#000" stroke-width="0.9" fill="none" />
<path d="M404 386.2L430 371.2" stroke="#000" stroke-width="0.9" fill="none" />
<path d="M407.9 392.1L433.9 377.1" stroke="#000" stroke-width="0.9" fill="none" />
<path d="M410.8 390.5L436.8 375.5" stroke="#000" stroke-width="0.9" fill="none" />
<path d="M414.2 394.2L440.2 379.2" stroke="#000" stroke-width="0.9" fill="none" />
<path d="M414.1 398.9L440.1 383.9" stroke="#000" stroke-width="0.9" fill="none" />
<path d="M419.1 402.6L445 387.6" stroke="#000" stroke-width="0.9" fill="none" />
<path d="M420.2 398.7L446.2 383.7" stroke="#000" stroke-width="0.9" fill="none" />
<path d="M423.9 400.4L449.9 385.4" stroke="#000" stroke-width="0.9" fill="none" />
<path d="M425.9 405.6L451.8 390.6" stroke="#000" stroke-width="0.9" fill="none" />
<path d="M430.5 406.2L456.5 391.2" stroke="#000" stroke-width="0.9" fill="none" />
<path d="M429.5 401.1L455.5 386.1" stroke="#000" stroke-width="0.9" fill="none" />
<path d="M432.5 400.3L458.5 385.3" stroke="#000" stroke-width="0.9" fill="none" />
<polygon points="462,389.7 465.1,387 462.3,382 463.8,379 467.8,381.4 468.6,376.1 464.7,372.6 464.3,368.1 467.8,367.9 466,361.5 462.1,360.3 459.9,355.6 462,352.8 458.1,346.9 455.2,348.5 451.8,344.8 451.8,340.1 446.9,336.4 445.8,340.3 442.1,338.6 440.1,333.4 435.5,332.8 436.4,337.9 433.4,338.7 430,334.3 426.9,337 429.7,342 428.2,345 424.1,342.6 423.4,347.9 427.2,351.4 427.7,355.9 424.1,356.1 425.9,362.5 429.9,363.7 432.1,368.4 430,371.2 433.9,377.1 436.8,375.5 440.2,379.2 440.1,383.9 445,387.6 446.2,383.7 449.9,385.4 451.8,390.6 456.5,391.2 455.5,386.1 458.5,385.3" fill="none" stroke="#000" stroke-width="0.8" />
<polygon points="436,404.7 439.1,402 436.3,397 437.8,394 441.9,396.4 442.6,391.1 438.7,387.6 438.3,383.1 441.9,382.9 440.1,376.5 436.1,375.3 433.9,370.6 436,367.8 432.1,361.9 429.2,363.5 425.8,359.8 425.9,355.1 420.9,351.4 419.8,355.3 416.1,353.6 414.1,348.4 409.5,347.8 410.5,352.9 407.5,353.7 404,349.3 400.9,352 403.7,357 402.2,360 398.1,357.6 397.4,362.9 401.3,366.4 401.7,370.9 398.1,371.1 399.9,377.5 403.9,378.7 406.1,383.4 404,386.2 407.9,392.1 410.8,390.5 414.2,394.2 414.1,398.9 419.1,402.6 420.2,398.7 423.9,400.4 425.9,405.6 430.5,406.2 429.5,401.1 432.5,400.3" fill="none" stroke="#000" stroke-width="1" />
</g>
<polygon points="342.7,385.1 339,384.1 335.3,383.8 332,384.3 329,385.5 326.4,387.4 324.3,390 322.6,393.1 321.5,396.9 320.9,401 321,405.6 321.6,410.4 322.7,415.4 324.4,420.5 326.6,425.6 329.2,430.4 332.3,435.1 335.6,439.4 339.2,443.2 343,446.6 347,449.3 350.9,451.4 354.8,452.8 358.5,453.5 362,453.4 365.2,452.7 368,451.1 370.4,448.9 372.3,446.1 373.8,442.7 374.6,438.7 374.9,434.4 374.6,429.7 373.8,424.8 372.4,419.7 370.5,414.6 368.1,409.7 365.3,404.9 362.1,400.4 358.6,396.2 354.9,392.6 353.8,396.9 355.1,398.5 356.8,398 357,400 359.3,400 360.3,401.2 363.1,405.1 365.5,409.2 367.6,413.6 369.2,418 370.5,422.4 371.2,426.6 371.4,430.7 371.2,434.5 370.4,437.9 369.2,440.9 367.5,443.4 365.4,445.3 363,446.6 360.2,447.3 357.1,447.3 353.9,446.8 350.5,445.5 347.1,443.7 343.7,441.3 340.4,438.4 337.3,435.1 334.4,431.3 331.7,427.3 329.4,423.1 327.5,418.7 326.1,414.3 325.1,409.9 324.5,405.7 324.5,401.8 325,398.1 326,394.9 327.4,392.1 329.3,389.9 331.5,388.2 334.1,387.2 337,386.8 338,386.8 340.3,389.7 340.5,388 342.2,390.5 343.5,390.6" fill="#fff" stroke="#000" stroke-width="1.1" />
<path d="M330.3 389.5A33.2 19.2 60 0 0 363 446.2" fill="none" stroke="#000" stroke-width="0.8" />
<path d="M363 452.6A38.2 22.1 60 0 0 356.4 391.7" fill="none" stroke="#000" stroke-width="0.8" />
<circle cx="342" cy="388.8" r="0.9" fill="#fff" stroke="#000" stroke-width="0.8"/>
<circle cx="355.4" cy="397.1" r="0.9" fill="#fff" stroke="#000" stroke-width="0.8"/>
<path d="M318.1 483.9A42 24.2 60 0 0 318.1 435.4A42 24.2 60 0 0 276.1 411.1L274.4 412.1A42 24.2 60 0 0 274.4 460.6A42 24.2 60 0 0 316.4 484.9Z" fill="#fff" stroke="#000" stroke-width="1.1" />
<ellipse cx="295.4" cy="448.5" rx="42" ry="24.2" transform="rotate(60 295.4 448.5)" fill="#fff" stroke="#000" stroke-width="1.1" />
<clipPath id="c12"><polygon points="312.3,477.8 314.2,476.4 312.5,472.2 314.2,469.8 317.5,471.8 318.4,469.3 315.8,465.4 316.2,461.9 319.3,462.3 319.1,459 315.9,456.1 315.1,452 317.5,450.7 316.3,447.1 313,445.7 311,441.5 312.3,438.7 310.2,435.4 307.3,435.6 304.5,432.1 304.5,428.3 301.9,425.7 299.9,427.6 296.6,425.2 295.4,420.9 292.6,419.5 291.7,422.7 288.6,421.8 286.3,417.7 283.7,417.7 284.2,421.7 281.5,422.5 278.5,419.2 276.6,420.6 278.3,424.8 276.6,427.2 273.3,425.2 272.4,427.7 275,431.6 274.6,435.1 271.5,434.7 271.7,438 274.9,440.9 275.7,445 273.3,446.3 274.5,449.9 277.8,451.3 279.8,455.5 278.5,458.3 280.6,461.6 283.5,461.4 286.3,464.9 286.3,468.7 288.9,471.3 290.9,469.4 294.2,471.8 295.4,476.1 298.2,477.5 299.1,474.3 302.2,475.2 304.5,479.3 307.1,479.3 306.6,475.3 309.3,474.5"/></clipPath>
<polygon points="312.3,477.8 314.2,476.4 312.5,472.2 314.2,469.8 317.5,471.8 318.4,469.3 315.8,465.4 316.2,461.9 319.3,462.3 319.1,459 315.9,456.1 315.1,452 317.5,450.7 316.3,447.1 313,445.7 311,441.5 312.3,438.7 310.2,435.4 307.3,435.6 304.5,432.1 304.5,428.3 301.9,425.7 299.9,427.6 296.6,425.2 295.4,420.9 292.6,419.5 291.7,422.7 288.6,421.8 286.3,417.7 283.7,417.7 284.2,421.7 281.5,422.5 278.5,419.2 276.6,420.6 278.3,424.8 276.6,427.2 273.3,425.2 272.4,427.7 275,431.6 274.6,435.1 271.5,434.7 271.7,438 274.9,440.9 275.7,445 273.3,446.3 274.5,449.9 277.8,451.3 279.8,455.5 278.5,458.3 280.6,461.6 283.5,461.4 286.3,464.9 286.3,468.7 288.9,471.3 290.9,469.4 294.2,471.8 295.4,476.1 298.2,477.5 299.1,474.3 302.2,475.2 304.5,479.3 307.1,479.3 306.6,475.3 309.3,474.5" fill="#fff" stroke="#000" stroke-width="1.1" />
<polygon points="314,476.8 315.9,475.4 314.2,471.2 315.9,468.8 319.2,470.8 320.1,468.3 317.5,464.4 318,460.9 321,461.3 320.9,458 317.7,455.1 316.8,451 319.2,449.7 318,446.1 314.7,444.7 312.7,440.5 314,437.7 311.9,434.4 309.1,434.6 306.2,431.1 306.3,427.3 303.6,424.7 301.6,426.6 298.4,424.2 297.1,419.9 294.3,418.5 293.5,421.7 290.3,420.8 288,416.7 285.5,416.7 285.9,420.7 283.3,421.5 280.2,418.2 278.4,419.6 280,423.8 278.4,426.2 275.1,424.2 274.1,426.7 276.8,430.6 276.3,434.1 273.2,433.7 273.4,437 276.6,439.9 277.4,444 275.1,445.3 276.3,448.9 279.6,450.3 281.5,454.5 280.2,457.3 282.3,460.6 285.2,460.4 288,463.9 288,467.7 290.6,470.3 292.7,468.4 295.9,470.8 297.1,475.1 299.9,476.5 300.8,473.3 304,474.2 306.3,478.3 308.8,478.3 308.4,474.3 311,473.5" fill="none" stroke="#000" stroke-width="0.8" clip-path="url(#c12)"/>
<polygon points="256.8,558.6 258.4,557.6 266.2,565.8 268.8,563.4 263.8,552.6 265,551.1 273.4,557.6 275.2,554.2 268.9,544.1 269.7,542.1 278.1,546.6 279.1,542.4 271.8,533.3 272.1,530.9 280.3,533.2 280.4,528.4 272.4,520.8 272.2,518.1 279.8,518.1 279.1,512.9 270.6,507 270,504.2 276.7,502 275.1,496.5 266.6,492.7 265.6,489.8 271,485.4 268.6,480 260.6,478.4 259.1,475.6 263.1,469.2 260,464 252.7,464.7 250.9,462.1 253.2,454 249.6,449.3 243.3,452.3 241.3,450 241.8,440.5 237.9,436.6 232.9,441.6 230.7,439.8 229.5,429.4 225.3,426.3 221.9,433.3 219.6,431.9 216.7,421 212.5,418.9 210.7,427.5 208.5,426.7 204,415.8 199.9,414.8 199.9,424.6 197.9,424.4 192,414 188.2,414.1 190,424.7 188.1,425.1 181.1,415.6 177.9,416.9 181.3,427.8 179.8,428.8 171.9,420.6 169.3,423 174.3,433.8 173.1,435.3 164.8,428.8 162.9,432.2 169.2,442.3 168.5,444.3 160,439.8 159,444 166.3,453.1 166,455.5 157.8,453.2 157.7,458 165.8,465.6 165.9,468.3 158.3,468.3 159.1,473.5 167.5,479.4 168.1,482.2 161.5,484.4 163.1,489.9 171.5,493.7 172.6,496.6 167.1,501 169.5,506.4 177.6,508 179,510.8 175.1,517.2 178.1,522.4 185.5,521.7 187.2,524.3 184.9,532.4 188.5,537.1 194.8,534.1 196.8,536.4 196.3,545.9 200.3,549.8 205.3,544.8 207.4,546.6 208.6,557 212.8,560.1 216.3,553.1 218.5,554.5 221.4,565.4 225.7,567.5 227.4,558.9 229.6,559.7 234.1,570.6 238.2,571.6 238.2,561.8 240.3,562 246.2,572.4 249.9,572.3 248.1,561.7 250,561.3 257,570.8 260.3,569.5" fill="#fff" stroke="#000" stroke-width="1.1" />
<polygon points="143.4,496.5 136.7,498.7 161.5,484.4 168.1,482.2" fill="#fff" stroke="#000" stroke-width="1" />
<polygon points="175.5,564.1 180.5,559.1 205.3,544.8 200.3,549.8" fill="#fff" stroke="#000" stroke-width="1" />
<polygon points="141.2,482.6 133.6,482.6 158.3,468.3 165.9,468.3" fill="#fff" stroke="#000" stroke-width="1" />
<polygon points="188.1,574.4 191.5,567.4 216.3,553.1 212.8,560.1" fill="#fff" stroke="#000" stroke-width="1" />
<polygon points="141.3,469.8 133.1,467.5 157.8,453.2 166,455.5" fill="#fff" stroke="#000" stroke-width="1" />
<polygon points="200.9,581.8 202.7,573.2 227.4,558.9 225.7,567.5" fill="#fff" stroke="#000" stroke-width="1" />
<polygon points="143.7,458.6 135.2,454.1 160,439.8 168.5,444.3" fill="#fff" stroke="#000" stroke-width="1" />
<polygon points="213.4,585.9 213.4,576.1 238.2,561.8 238.2,571.6" fill="#fff" stroke="#000" stroke-width="1" />
<polygon points="148.3,449.6 140,443.1 164.8,428.8 173.1,435.3" fill="#fff" stroke="#000" stroke-width="1" />
<polygon points="225.2,586.6 223.4,576 248.1,561.7 249.9,572.3" fill="#fff" stroke="#000" stroke-width="1" />
<polygon points="155,443.1 147.1,434.9 171.9,420.6 179.8,428.8" fill="#fff" stroke="#000" stroke-width="1" />
<polygon points="235.5,583.8 232.1,572.9 256.8,558.6 260.3,569.5" fill="#fff" stroke="#000" stroke-width="1" />
<polygon points="232.1,572.9 233.6,571.9 258.4,557.6 256.8,558.6" fill="#fff" stroke="#000" stroke-width="1" />
<polygon points="156.3,429.9 153.1,431.2 177.9,416.9 181.1,415.6" fill="#fff" stroke="#000" stroke-width="1" />
<polygon points="241.5,580.1 244.1,577.7 268.8,563.4 266.2,565.8" fill="#fff" stroke="#000" stroke-width="1" />
<polygon points="163.4,439.4 156.3,429.9 181.1,415.6 188.1,425.1" fill="#fff" stroke="#000" stroke-width="1" />
<polygon points="165.2,439 163.4,439.4 188.1,425.1 190,424.7" fill="#fff" stroke="#000" stroke-width="1" />
<polygon points="244.1,577.7 239.1,566.9 263.8,552.6 268.8,563.4" fill="#fff" stroke="#000" stroke-width="1" />
<polygon points="239.1,566.9 240.3,565.4 265,551.1 263.8,552.6" fill="#fff" stroke="#000" stroke-width="1" />
<polygon points="167.2,428.3 163.4,428.4 188.2,414.1 192,414" fill="#fff" stroke="#000" stroke-width="1" />
<polygon points="173.1,438.7 167.2,428.3 192,414 197.9,424.4" fill="#fff" stroke="#000" stroke-width="1" />
<polygon points="248.6,571.9 250.4,568.5 275.2,554.2 273.4,557.6" fill="#fff" stroke="#000" stroke-width="1" />
<polygon points="175.2,438.9 173.1,438.7 197.9,424.4 199.9,424.6" fill="#fff" stroke="#000" stroke-width="1" />
<polygon points="250.4,568.5 244.1,558.4 268.9,544.1 275.2,554.2" fill="#fff" stroke="#000" stroke-width="1" />
<polygon points="244.1,558.4 244.9,556.4 269.7,542.1 268.9,544.1" fill="#fff" stroke="#000" stroke-width="1" />
<polygon points="179.2,430.1 175.2,429.1 199.9,414.8 204,415.8" fill="#fff" stroke="#000" stroke-width="1" />
<polygon points="185.9,441.8 183.7,441 208.5,426.7 210.7,427.5" fill="#fff" stroke="#000" stroke-width="1" />
<polygon points="183.7,441 179.2,430.1 204,415.8 208.5,426.7" fill="#fff" stroke="#000" stroke-width="1" />
<polygon points="253.4,560.9 254.4,556.7 279.1,542.4 278.1,546.6" fill="#fff" stroke="#000" stroke-width="1" />
<polygon points="247,547.6 247.3,545.2 272.1,530.9 271.8,533.3" fill="#fff" stroke="#000" stroke-width="1" />
<polygon points="254.4,556.7 247,547.6 271.8,533.3 279.1,542.4" fill="#fff" stroke="#000" stroke-width="1" />
<polygon points="197.1,447.6 194.9,446.2 219.6,431.9 221.9,433.3" fill="#fff" stroke="#000" stroke-width="1" />
<polygon points="194.9,446.2 191.9,435.3 216.7,421 219.6,431.9" fill="#fff" stroke="#000" stroke-width="1" />
<polygon points="191.9,435.3 187.7,433.2 212.5,418.9 216.7,421" fill="#fff" stroke="#000" stroke-width="1" />
<polygon points="247.6,535.1 247.4,532.4 272.2,518.1 272.4,520.8" fill="#fff" stroke="#000" stroke-width="1" />
<polygon points="255.7,542.7 247.6,535.1 272.4,520.8 280.4,528.4" fill="#fff" stroke="#000" stroke-width="1" />
<polygon points="255.5,547.5 255.7,542.7 280.4,528.4 280.3,533.2" fill="#fff" stroke="#000" stroke-width="1" />
<polygon points="208.1,455.9 205.9,454.1 230.7,439.8 232.9,441.6" fill="#fff" stroke="#000" stroke-width="1" />
<polygon points="245.9,521.3 245.2,518.5 270,504.2 270.6,507" fill="#fff" stroke="#000" stroke-width="1" />
<polygon points="205.9,454.1 204.7,443.7 229.5,429.4 230.7,439.8" fill="#fff" stroke="#000" stroke-width="1" />
<polygon points="204.7,443.7 200.5,440.6 225.3,426.3 229.5,429.4" fill="#fff" stroke="#000" stroke-width="1" />
<polygon points="254.3,527.2 245.9,521.3 270.6,507 279.1,512.9" fill="#fff" stroke="#000" stroke-width="1" />
<polygon points="255,532.4 254.3,527.2 279.1,512.9 279.8,518.1" fill="#fff" stroke="#000" stroke-width="1" />
<polygon points="218.5,466.6 216.5,464.3 241.3,450 243.3,452.3" fill="#fff" stroke="#000" stroke-width="1" />
<polygon points="241.9,507 240.8,504.1 265.6,489.8 266.6,492.7" fill="#fff" stroke="#000" stroke-width="1" />
<polygon points="227.9,479 226.1,476.4 250.9,462.1 252.7,464.7" fill="#fff" stroke="#000" stroke-width="1" />
<polygon points="235.8,492.7 234.3,489.9 259.1,475.6 260.6,478.4" fill="#fff" stroke="#000" stroke-width="1" />
<polygon points="216.5,464.3 217.1,454.8 241.8,440.5 241.3,450" fill="#fff" stroke="#000" stroke-width="1" />
<polygon points="250.3,510.8 241.9,507 266.6,492.7 275.1,496.5" fill="#fff" stroke="#000" stroke-width="1" />
<polygon points="224.8,463.6 218.5,466.6 243.3,452.3 249.6,449.3" fill="#fff" stroke="#000" stroke-width="1" />
<polygon points="217.1,454.8 213.1,450.9 237.9,436.6 241.8,440.5" fill="#fff" stroke="#000" stroke-width="1" />
<polygon points="240.8,504.1 246.2,499.7 271,485.4 265.6,489.8" fill="#fff" stroke="#000" stroke-width="1" />
<polygon points="226.1,476.4 228.4,468.3 253.2,454 250.9,462.1" fill="#fff" stroke="#000" stroke-width="1" />
<polygon points="251.9,516.3 250.3,510.8 275.1,496.5 276.7,502" fill="#fff" stroke="#000" stroke-width="1" />
<polygon points="243.8,494.3 235.8,492.7 260.6,478.4 268.6,480" fill="#fff" stroke="#000" stroke-width="1" />
<polygon points="235.2,478.3 227.9,479 252.7,464.7 260,464" fill="#fff" stroke="#000" stroke-width="1" />
<polygon points="234.3,489.9 238.3,483.5 263.1,469.2 259.1,475.6" fill="#fff" stroke="#000" stroke-width="1" />
<polygon points="228.4,468.3 224.8,463.6 249.6,449.3 253.2,454" fill="#fff" stroke="#000" stroke-width="1" />
<polygon points="246.2,499.7 243.8,494.3 268.6,480 271,485.4" fill="#fff" stroke="#000" stroke-width="1" />
<polygon points="238.3,483.5 235.2,478.3 260,464 263.1,469.2" fill="#fff" stroke="#000" stroke-width="1" />
<polygon points="232.1,572.9 233.6,571.9 241.5,580.1 244.1,577.7 239.1,566.9 240.3,565.4 248.6,571.9 250.4,568.5 244.1,558.4 244.9,556.4 253.4,560.9 254.4,556.7 247,547.6 247.3,545.2 255.5,547.5 255.7,542.7 247.6,535.1 247.4,532.4 255,532.4 254.3,527.2 245.9,521.3 245.2,518.5 251.9,516.3 250.3,510.8 241.9,507 240.8,504.1 246.2,499.7 243.8,494.3 235.8,492.7 234.3,489.9 238.3,483.5 235.2,478.3 227.9,479 226.1,476.4 228.4,468.3 224.8,463.6 218.5,466.6 216.5,464.3 217.1,454.8 213.1,450.9 208.1,455.9 205.9,454.1 204.7,443.7 200.5,440.6 197.1,447.6 194.9,446.2 191.9,435.3 187.7,433.2 185.9,441.8 183.7,441 179.2,430.1 175.2,429.1 175.2,438.9 173.1,438.7 167.2,428.3 163.4,428.4 165.2,439 163.4,439.4 156.3,429.9 153.1,431.2 156.6,442.1 155,443.1 147.1,434.9 144.5,437.3 149.5,448.1 148.3,449.6 140,443.1 138.2,446.5 144.5,456.6 143.7,458.6 135.2,454.1 134.2,458.3 141.6,467.4 141.3,469.8 133.1,467.5 132.9,472.3 141,479.9 141.2,482.6 133.6,482.6 134.3,487.8 142.7,493.7 143.4,496.5 136.7,498.7 138.3,504.2 146.7,508 147.8,510.9 142.4,515.3 144.8,520.7 152.8,522.3 154.3,525.1 150.3,531.5 153.4,536.7 160.7,536 162.5,538.6 160.2,546.7 163.8,551.4 170.1,548.4 172.1,550.7 171.5,560.2 175.5,564.1 180.5,559.1 182.7,560.9 183.9,571.3 188.1,574.4 191.5,567.4 193.7,568.8 196.7,579.7 200.9,581.8 202.7,573.2 204.9,574 209.4,584.9 213.4,585.9 213.4,576.1 215.5,576.3 221.4,586.7 225.2,586.6 223.4,576 225.2,575.6 232.3,585.1 235.5,583.8" fill="#fff" stroke="#000" stroke-width="1.1" />
<ellipse cx="194.3" cy="507.5" rx="67" ry="38.7" transform="rotate(60 194.3 507.5)" fill="#fff" stroke="#000" stroke-width="1.1" />
<clipPath id="c13"><ellipse cx="194.3" cy="507.5" rx="67" ry="38.7" transform="rotate(60 194.3 507.5)"/></clipPath>
<g clip-path="url(#c13)">
<ellipse cx="197.8" cy="505.5" rx="65" ry="37.5" transform="rotate(60 197.8 505.5)" fill="none" stroke="#000" stroke-width="0.9" />
<polygon points="219.4,548.7 222.7,547.1 225.5,544.8 227.9,541.8 229.8,538.2 232.6,537.1 238.1,542.1 238.7,547.1 236.3,551.8 233.2,555.7 229.5,558.7 225.2,560.8 221.2,559.2 218,551.8" fill="#fff" stroke="#000" stroke-width="1" />
<clipPath id="c14"><polygon points="219.4,548.7 222.7,547.1 225.5,544.8 227.9,541.8 229.8,538.2 232.6,537.1 238.1,542.1 238.7,547.1 236.3,551.8 233.2,555.7 229.5,558.7 225.2,560.8 221.2,559.2 218,551.8"/></clipPath>
<g clip-path="url(#c14)">
<polygon points="226.3,544.7 229.6,543.1 232.4,540.8 234.8,537.8 236.7,534.2 239.5,533.1 245,538.1 245.7,543.1 243.3,547.8 240.2,551.7 236.4,554.7 232.2,556.8 228.1,555.2 224.9,547.8" fill="none" stroke="#000" stroke-width="0.8" />
<path d="M219.4 548.7L226.3 544.7" stroke="#000" stroke-width="0.7" fill="none" />
<path d="M229.8 538.2L236.7 534.2" stroke="#000" stroke-width="0.7" fill="none" />
<path d="M232.6 537.1L239.5 533.1" stroke="#000" stroke-width="0.7" fill="none" />
<path d="M238.1 542.1L245 538.1" stroke="#000" stroke-width="0.7" fill="none" />
<path d="M225.2 560.8L232.2 556.8" stroke="#000" stroke-width="0.7" fill="none" />
<path d="M221.2 559.2L228.1 555.2" stroke="#000" stroke-width="0.7" fill="none" />
</g>
<polygon points="231.6,518.8 230.6,513.2 229.1,507.5 227,501.7 224.5,496.1 223.8,491.5 227.9,489.3 231.7,493.1 235.1,500.5 237.8,508 239.8,515.5 241.1,522.8 239.6,526.3 233.9,523.4" fill="#fff" stroke="#000" stroke-width="1" />
<clipPath id="c15"><polygon points="231.6,518.8 230.6,513.2 229.1,507.5 227,501.7 224.5,496.1 223.8,491.5 227.9,489.3 231.7,493.1 235.1,500.5 237.8,508 239.8,515.5 241.1,522.8 239.6,526.3 233.9,523.4"/></clipPath>
<g clip-path="url(#c15)">
<polygon points="238.6,514.8 237.6,509.2 236,503.5 234,497.7 231.4,492.1 230.7,487.5 234.9,485.3 238.7,489.1 242,496.5 244.7,504 246.7,511.5 248,518.8 246.5,522.3 240.8,519.4" fill="none" stroke="#000" stroke-width="0.8" />
<path d="M231.6 518.8L238.6 514.8" stroke="#000" stroke-width="0.7" fill="none" />
<path d="M224.5 496.1L231.4 492.1" stroke="#000" stroke-width="0.7" fill="none" />
<path d="M223.8 491.5L230.7 487.5" stroke="#000" stroke-width="0.7" fill="none" />
<path d="M227.9 489.3L234.9 485.3" stroke="#000" stroke-width="0.7" fill="none" />
<path d="M241.1 522.8L248 518.8" stroke="#000" stroke-width="0.7" fill="none" />
<path d="M239.6 526.3L246.5 522.3" stroke="#000" stroke-width="0.7" fill="none" />
</g>
<polygon points="210,475.6 205.7,471.6 201.3,468.2 196.9,465.4 192.5,463.3 189,459.9 187.6,452.7 190.8,451.5 196.5,454.2 202.3,457.8 208.1,462.2 213.6,467.5 216.1,472.6 213.6,477.1" fill="#fff" stroke="#000" stroke-width="1" />
<clipPath id="c16"><polygon points="210,475.6 205.7,471.6 201.3,468.2 196.9,465.4 192.5,463.3 189,459.9 187.6,452.7 190.8,451.5 196.5,454.2 202.3,457.8 208.1,462.2 213.6,467.5 216.1,472.6 213.6,477.1"/></clipPath>
<g clip-path="url(#c16)">
<polygon points="216.9,471.6 212.7,467.6 208.3,464.2 203.8,461.4 199.4,459.3 195.9,455.9 194.5,448.7 197.7,447.5 203.5,450.2 209.3,453.8 215,458.2 220.5,463.5 223.1,468.6 220.6,473.1" fill="none" stroke="#000" stroke-width="0.8" />
<path d="M210 475.6L216.9 471.6" stroke="#000" stroke-width="0.7" fill="none" />
<path d="M192.5 463.3L199.4 459.3" stroke="#000" stroke-width="0.7" fill="none" />
<path d="M189 459.9L195.9 455.9" stroke="#000" stroke-width="0.7" fill="none" />
<path d="M187.6 452.7L194.5 448.7" stroke="#000" stroke-width="0.7" fill="none" />
<path d="M213.6 467.5L220.5 463.5" stroke="#000" stroke-width="0.7" fill="none" />
<path d="M216.1 472.6L223.1 468.6" stroke="#000" stroke-width="0.7" fill="none" />
</g>
<polygon points="176.1,462.3 172.9,463.9 170,466.2 167.6,469.2 165.8,472.8 163,473.9 157.5,468.9 156.8,463.9 159.2,459.2 162.3,455.3 166,452.3 170.3,450.2 174.3,451.8 177.5,459.2" fill="#fff" stroke="#000" stroke-width="1" />
<clipPath id="c17"><polygon points="176.1,462.3 172.9,463.9 170,466.2 167.6,469.2 165.8,472.8 163,473.9 157.5,468.9 156.8,463.9 159.2,459.2 162.3,455.3 166,452.3 170.3,450.2 174.3,451.8 177.5,459.2"/></clipPath>
<g clip-path="url(#c17)">
<polygon points="183.1,458.3 179.8,459.9 176.9,462.2 174.6,465.2 172.7,468.8 169.9,469.9 164.4,464.9 163.7,459.9 166.1,455.2 169.2,451.3 172.9,448.3 177.2,446.2 181.2,447.8 184.4,455.2" fill="none" stroke="#000" stroke-width="0.8" />
<path d="M176.1 462.3L183.1 458.3" stroke="#000" stroke-width="0.7" fill="none" />
<path d="M165.8 472.8L172.7 468.8" stroke="#000" stroke-width="0.7" fill="none" />
<path d="M163 473.9L169.9 469.9" stroke="#000" stroke-width="0.7" fill="none" />
<path d="M157.5 468.9L164.4 464.9" stroke="#000" stroke-width="0.7" fill="none" />
<path d="M170.3 450.2L177.2 446.2" stroke="#000" stroke-width="0.7" fill="none" />
<path d="M174.3 451.8L181.2 447.8" stroke="#000" stroke-width="0.7" fill="none" />
</g>
<polygon points="163.9,492.2 164.9,497.8 166.4,503.5 168.5,509.3 171.1,514.9 171.7,519.5 167.6,521.7 163.8,517.9 160.4,510.5 157.7,503 155.7,495.5 154.4,488.2 155.9,484.7 161.6,487.6" fill="#fff" stroke="#000" stroke-width="1" />
<clipPath id="c18"><polygon points="163.9,492.2 164.9,497.8 166.4,503.5 168.5,509.3 171.1,514.9 171.7,519.5 167.6,521.7 163.8,517.9 160.4,510.5 157.7,503 155.7,495.5 154.4,488.2 155.9,484.7 161.6,487.6"/></clipPath>
<g clip-path="url(#c18)">
<polygon points="170.8,488.2 171.8,493.8 173.4,499.5 175.4,505.3 178,510.9 178.6,515.5 174.5,517.7 170.7,513.9 167.4,506.5 164.6,499 162.6,491.5 161.4,484.2 162.9,480.7 168.6,483.6" fill="none" stroke="#000" stroke-width="0.8" />
<path d="M163.9 492.2L170.8 488.2" stroke="#000" stroke-width="0.7" fill="none" />
<path d="M171.1 514.9L178 510.9" stroke="#000" stroke-width="0.7" fill="none" />
<path d="M171.7 519.5L178.6 515.5" stroke="#000" stroke-width="0.7" fill="none" />
<path d="M167.6 521.7L174.5 517.7" stroke="#000" stroke-width="0.7" fill="none" />
<path d="M154.4 488.2L161.4 484.2" stroke="#000" stroke-width="0.7" fill="none" />
<path d="M155.9 484.7L162.9 480.7" stroke="#000" stroke-width="0.7" fill="none" />
</g>
<polygon points="185.5,535.4 189.8,539.4 194.2,542.8 198.6,545.6 203.1,547.7 206.5,551.1 207.9,558.3 204.8,559.5 199,556.8 193.2,553.2 187.5,548.8 181.9,543.5 179.4,538.4 181.9,533.9" fill="#fff" stroke="#000" stroke-width="1" />
<clipPath id="c19"><polygon points="185.5,535.4 189.8,539.4 194.2,542.8 198.6,545.6 203.1,547.7 206.5,551.1 207.9,558.3 204.8,559.5 199,556.8 193.2,553.2 187.5,548.8 181.9,543.5 179.4,538.4 181.9,533.9"/></clipPath>
<g clip-path="url(#c19)">
<polygon points="192.5,531.4 196.7,535.4 201.1,538.8 205.6,541.6 210,543.7 213.5,547.1 214.8,554.3 211.7,555.5 205.9,552.8 200.1,549.2 194.4,544.8 188.8,539.5 186.3,534.4 188.8,529.9" fill="none" stroke="#000" stroke-width="0.8" />
<path d="M185.5 535.4L192.5 531.4" stroke="#000" stroke-width="0.7" fill="none" />
<path d="M203.1 547.7L210 543.7" stroke="#000" stroke-width="0.7" fill="none" />
<path d="M206.5 551.1L213.5 547.1" stroke="#000" stroke-width="0.7" fill="none" />
<path d="M207.9 558.3L214.8 554.3" stroke="#000" stroke-width="0.7" fill="none" />
<path d="M181.9 543.5L188.8 539.5" stroke="#000" stroke-width="0.7" fill="none" />
<path d="M179.4 538.4L186.3 534.4" stroke="#000" stroke-width="0.7" fill="none" />
</g>
</g>
<path d="M220.8 545.3A46 26.6 60 0 0 220.8 492.2A46 26.6 60 0 0 174.8 465.7L171.3 467.7A46 26.6 60 0 0 171.3 520.8A46 26.6 60 0 0 217.3 547.3Z" fill="#fff" stroke="#000" stroke-width="1.1" />
<ellipse cx="194.3" cy="507.5" rx="46" ry="26.6" transform="rotate(60 194.3 507.5)" fill="#fff" stroke="#000" stroke-width="1.1" />
<ellipse cx="194.3" cy="507.5" rx="42" ry="24.2" transform="rotate(60 194.3 507.5)" fill="#fff" stroke="#000" stroke-width="1.8" />
<clipPath id="c20"><ellipse cx="194.3" cy="507.5" rx="42" ry="24.2" transform="rotate(60 194.3 507.5)"/></clipPath>
<g clip-path="url(#c20)">
<ellipse cx="219.1" cy="493.2" rx="42" ry="24.2" transform="rotate(60 219.1 493.2)" fill="none" stroke="#000" stroke-width="0.9" />
</g>
<g clip-path="url(#c20)">
<ellipse cx="196" cy="506.5" rx="39.5" ry="22.8" transform="rotate(60 196 506.5)" fill="none" stroke="#000" stroke-width="0.8" />
</g>
<path d="M140.8 580.5A36.8 21.2 60 0 0 140.8 538A36.8 21.2 60 0 0 104 516.8L79.3 531A36.8 21.2 60 0 0 79.3 573.5A36.8 21.2 60 0 0 116.1 594.8Z" fill="#fff" stroke="#000" stroke-width="1.1" />
<ellipse cx="97.7" cy="562.9" rx="36.8" ry="21.2" transform="rotate(60 97.7 562.9)" fill="#fff" stroke="#000" stroke-width="1.1" />
<ellipse cx="97.7" cy="562.9" rx="33.5" ry="19.3" transform="rotate(60 97.7 562.9)" fill="#fff" stroke="#000" stroke-width="1.1" />
<clipPath id="c21"><ellipse cx="97.7" cy="562.9" rx="33.5" ry="19.3" transform="rotate(60 97.7 562.9)"/></clipPath>
<g clip-path="url(#c21)">
<path d="M114.5 591.9L139.1 577.7" stroke="#000" stroke-width="0.9" fill="none" />
<path d="M118 588.8L142.6 574.5" stroke="#000" stroke-width="0.9" fill="none" />
<path d="M81.7 533.5L106.4 519.2" stroke="#000" stroke-width="0.9" fill="none" />
<path d="M83.5 538.7L108.2 524.5" stroke="#000" stroke-width="0.9" fill="none" />
<path d="M80.9 541.1L105.6 526.9" stroke="#000" stroke-width="0.9" fill="none" />
<path d="M76.9 537.8L101.6 523.5" stroke="#000" stroke-width="0.9" fill="none" />
<path d="M74.8 542.7L99.5 528.4" stroke="#000" stroke-width="0.9" fill="none" />
<path d="M78.3 547.1L103 532.8" stroke="#000" stroke-width="0.9" fill="none" />
<path d="M77.9 551.8L102.6 537.5" stroke="#000" stroke-width="0.9" fill="none" />
<path d="M74.1 551.2L98.8 537" stroke="#000" stroke-width="0.9" fill="none" />
<path d="M75.2 558.3L99.8 544" stroke="#000" stroke-width="0.9" fill="none" />
<path d="M79.2 560.5L103.9 546.2" stroke="#000" stroke-width="0.9" fill="none" />
<path d="M81.2 566L105.9 551.8" stroke="#000" stroke-width="0.9" fill="none" />
<path d="M78.7 568.3L103.4 554.1" stroke="#000" stroke-width="0.9" fill="none" />
<path d="M82.7 575.3L107.3 561.1" stroke="#000" stroke-width="0.9" fill="none" />
<path d="M86 574.6L110.7 560.4" stroke="#000" stroke-width="0.9" fill="none" />
<path d="M89.7 579.2L114.4 565" stroke="#000" stroke-width="0.9" fill="none" />
<path d="M89.4 583.7L114.1 569.5" stroke="#000" stroke-width="0.9" fill="none" />
<path d="M94.9 588.5L119.6 574.2" stroke="#000" stroke-width="0.9" fill="none" />
<path d="M96.5 585L121.2 570.8" stroke="#000" stroke-width="0.9" fill="none" />
<path d="M100.8 587.3L125.5 573" stroke="#000" stroke-width="0.9" fill="none" />
<path d="M102.7 592.5L127.4 578.3" stroke="#000" stroke-width="0.9" fill="none" />
<path d="M108.1 593.5L132.8 579.2" stroke="#000" stroke-width="0.9" fill="none" />
<path d="M107.4 588.4L132.1 574.2" stroke="#000" stroke-width="0.9" fill="none" />
<path d="M110.9 587.6L135.6 573.3" stroke="#000" stroke-width="0.9" fill="none" />
<polygon points="139.1,577.7 142.6,574.5 139.9,569.5 141.5,565.8 145.5,567.8 146.1,561.6 142.1,558.2 141.3,552.8 144.6,551.9 142,544.6 138.1,543.8 135.1,538.5 136.6,534.9 131.7,528.8 129.1,531 124.9,527.4 124.1,522.3 118.4,519.4 118,523.8 113.9,523.1 111,518.1 106.4,519.2 108.2,524.5 105.6,526.9 101.6,523.5 99.5,528.4 103,532.8 102.6,537.5 98.8,537 99.8,544 103.9,546.2 105.9,551.8 103.4,554.1 107.3,561.1 110.7,560.4 114.4,565 114.1,569.5 119.6,574.2 121.2,570.8 125.5,573 127.4,578.3 132.8,579.2 132.1,574.2 135.6,573.3" fill="none" stroke="#000" stroke-width="0.8" />
<polygon points="114.5,591.9 118,588.8 115.2,583.7 116.8,580 120.8,582.1 121.4,575.9 117.4,572.4 116.6,567.1 119.9,566.2 117.3,558.8 113.4,558.1 110.5,552.8 111.9,549.2 107,543.1 104.4,545.3 100.2,541.7 99.4,536.6 93.7,533.6 93.3,538.1 89.2,537.3 86.3,532.3 81.7,533.5 83.5,538.7 80.9,541.1 76.9,537.8 74.8,542.7 78.3,547.1 77.9,551.8 74.1,551.2 75.2,558.3 79.2,560.5 81.2,566 78.7,568.3 82.7,575.3 86,574.6 89.7,579.2 89.4,583.7 94.9,588.5 96.5,585 100.8,587.3 102.7,592.5 108.1,593.5 107.4,588.4 110.9,587.6" fill="none" stroke="#000" stroke-width="1" />
</g>
<ellipse cx="109.1" cy="524.8" rx="2.4" ry="1.7" fill="#fff" stroke="#000" stroke-width="1"/>
<polygon points="698.4,738.1 699.7,737.2 706.7,744.8 709,742.9 704.7,733.2 705.8,732 713.1,738.5 715,736 709.7,726.6 710.6,725 718.2,730.3 719.5,727.2 713.4,718.4 714,716.5 721.6,720.4 722.4,716.8 715.7,708.8 716,706.7 723.4,709.1 723.6,705.1 716.5,698 716.4,695.8 723.5,696.6 723.2,692.3 715.7,686.4 715.4,684 721.9,683.3 721,678.8 713.4,674.2 712.8,671.7 718.7,669.5 717.3,664.9 709.7,661.7 708.8,659.2 713.9,655.5 712,650.9 704.7,649.2 703.5,646.7 707.6,641.7 705.2,637.2 698.4,637 697,634.7 700,628.4 697.2,624.2 691,625.5 689.4,623.3 691.3,615.9 688.2,612 682.7,614.9 680.9,612.9 681.7,604.6 678.4,601.1 673.7,605.4 671.9,603.7 671.4,594.6 667.9,591.7 664.3,597.3 662.4,595.9 660.7,586.4 657.2,584.1 654.6,590.9 652.7,589.8 649.9,580 646.3,578.3 644.9,586.1 643,585.4 639.2,575.6 635.7,574.7 635.5,583.3 633.6,583 628.8,573.4 625.5,573.2 626.5,582.4 624.8,582.5 619.1,573.4 616.1,573.8 618.2,583.5 616.7,584 610.3,575.5 607.6,576.7 610.9,586.5 609.5,587.4 602.5,579.8 600.2,581.7 604.5,591.4 603.4,592.6 596.1,586.1 594.2,588.6 599.5,598 598.6,599.6 591,594.3 589.7,597.4 595.8,606.2 595.2,608.1 587.6,604.2 586.8,607.8 593.5,615.8 593.2,617.9 585.8,615.5 585.6,619.5 592.7,626.6 592.8,628.8 585.7,628 586,632.3 593.5,638.2 593.8,640.6 587.3,641.3 588.2,645.8 595.8,650.4 596.4,652.9 590.5,655.1 591.9,659.7 599.5,662.9 600.4,665.4 595.3,669.1 597.3,673.7 604.5,675.4 605.7,677.9 601.6,682.9 604,687.4 610.9,687.6 612.2,689.9 609.2,696.2 612,700.4 618.2,699.1 619.8,701.3 617.9,708.7 621,712.6 626.5,709.7 628.3,711.7 627.5,720 630.8,723.5 635.5,719.2 637.3,720.9 637.8,730 641.3,732.9 644.9,727.3 646.8,728.7 648.5,738.2 652.1,740.5 654.6,733.7 656.5,734.8 659.3,744.6 662.9,746.3 664.3,738.5 666.2,739.2 670,749 673.5,749.9 673.7,741.3 675.6,741.6 680.4,751.2 683.7,751.4 682.7,742.2 684.4,742.1 690.1,751.2 693.1,750.8 691,741.1 692.5,740.6 698.9,749.1 701.6,747.9" fill="#fff" stroke="#000" stroke-width="1.1" />
<polygon points="572.5,666.7 566.6,668.9 590.5,655.1 596.4,652.9" fill="#fff" stroke="#000" stroke-width="1" />
<polygon points="606.9,737.3 611.6,733 635.5,719.2 630.8,723.5" fill="#fff" stroke="#000" stroke-width="1" />
<polygon points="569.9,654.4 563.4,655.1 587.3,641.3 593.8,640.6" fill="#fff" stroke="#000" stroke-width="1" />
<polygon points="617.4,746.7 621,741.1 644.9,727.3 641.3,732.9" fill="#fff" stroke="#000" stroke-width="1" />
<polygon points="568.9,642.6 561.8,641.8 585.7,628 592.8,628.8" fill="#fff" stroke="#000" stroke-width="1" />
<polygon points="628.2,754.3 630.7,747.5 654.6,733.7 652.1,740.5" fill="#fff" stroke="#000" stroke-width="1" />
<polygon points="569.3,631.7 561.9,629.3 585.8,615.5 593.2,617.9" fill="#fff" stroke="#000" stroke-width="1" />
<polygon points="639,760.1 640.4,752.3 664.3,738.5 662.9,746.3" fill="#fff" stroke="#000" stroke-width="1" />
<polygon points="571.3,621.9 563.7,618 587.6,604.2 595.2,608.1" fill="#fff" stroke="#000" stroke-width="1" />
<polygon points="649.6,763.7 649.8,755.1 673.7,741.3 673.5,749.9" fill="#fff" stroke="#000" stroke-width="1" />
<polygon points="574.7,613.4 567.1,608.1 591,594.3 598.6,599.6" fill="#fff" stroke="#000" stroke-width="1" />
<polygon points="659.8,765.2 658.8,756 682.7,742.2 683.7,751.4" fill="#fff" stroke="#000" stroke-width="1" />
<polygon points="579.5,606.4 572.2,599.9 596.1,586.1 603.4,592.6" fill="#fff" stroke="#000" stroke-width="1" />
<polygon points="669.2,764.6 667.1,754.9 691,741.1 693.1,750.8" fill="#fff" stroke="#000" stroke-width="1" />
<polygon points="585.6,601.2 578.6,593.6 602.5,579.8 609.5,587.4" fill="#fff" stroke="#000" stroke-width="1" />
<polygon points="677.7,761.7 674.5,751.9 698.4,738.1 701.6,747.9" fill="#fff" stroke="#000" stroke-width="1" />
<polygon points="674.5,751.9 675.8,751 699.7,737.2 698.4,738.1" fill="#fff" stroke="#000" stroke-width="1" />
<polygon points="586.4,589.3 583.7,590.5 607.6,576.7 610.3,575.5" fill="#fff" stroke="#000" stroke-width="1" />
<polygon points="682.8,758.6 685.1,756.7 709,742.9 706.7,744.8" fill="#fff" stroke="#000" stroke-width="1" />
<polygon points="592.8,597.8 586.4,589.3 610.3,575.5 616.7,584" fill="#fff" stroke="#000" stroke-width="1" />
<polygon points="594.3,597.3 592.8,597.8 616.7,584 618.2,583.5" fill="#fff" stroke="#000" stroke-width="1" />
<polygon points="685.1,756.7 680.8,747 704.7,733.2 709,742.9" fill="#fff" stroke="#000" stroke-width="1" />
<polygon points="680.8,747 681.9,745.8 705.8,732 704.7,733.2" fill="#fff" stroke="#000" stroke-width="1" />
<polygon points="595.2,587.2 592.2,587.6 616.1,573.8 619.1,573.4" fill="#fff" stroke="#000" stroke-width="1" />
<polygon points="600.9,596.3 595.2,587.2 619.1,573.4 624.8,582.5" fill="#fff" stroke="#000" stroke-width="1" />
<polygon points="689.2,752.3 691.1,749.8 715,736 713.1,738.5" fill="#fff" stroke="#000" stroke-width="1" />
<polygon points="602.6,596.2 600.9,596.3 624.8,582.5 626.5,582.4" fill="#fff" stroke="#000" stroke-width="1" />
<polygon points="691.1,749.8 685.8,740.4 709.7,726.6 715,736" fill="#fff" stroke="#000" stroke-width="1" />
<polygon points="685.8,740.4 686.7,738.8 710.6,725 709.7,726.6" fill="#fff" stroke="#000" stroke-width="1" />
<polygon points="604.9,587.2 601.6,587 625.5,573.2 628.8,573.4" fill="#fff" stroke="#000" stroke-width="1" />
<polygon points="609.7,596.8 604.9,587.2 628.8,573.4 633.6,583" fill="#fff" stroke="#000" stroke-width="1" />
<polygon points="611.6,597.1 609.7,596.8 633.6,583 635.5,583.3" fill="#fff" stroke="#000" stroke-width="1" />
<polygon points="694.3,744.1 695.6,741 719.5,727.2 718.2,730.3" fill="#fff" stroke="#000" stroke-width="1" />
<polygon points="695.6,741 689.5,732.2 713.4,718.4 719.5,727.2" fill="#fff" stroke="#000" stroke-width="1" />
<polygon points="689.5,732.2 690.1,730.3 714,716.5 713.4,718.4" fill="#fff" stroke="#000" stroke-width="1" />
<polygon points="615.3,589.4 611.8,588.5 635.7,574.7 639.2,575.6" fill="#fff" stroke="#000" stroke-width="1" />
<polygon points="621,599.9 619.1,599.2 643,585.4 644.9,586.1" fill="#fff" stroke="#000" stroke-width="1" />
<polygon points="619.1,599.2 615.3,589.4 639.2,575.6 643,585.4" fill="#fff" stroke="#000" stroke-width="1" />
<polygon points="697.7,734.2 698.5,730.6 722.4,716.8 721.6,720.4" fill="#fff" stroke="#000" stroke-width="1" />
<polygon points="691.8,722.6 692.1,720.5 716,706.7 715.7,708.8" fill="#fff" stroke="#000" stroke-width="1" />
<polygon points="698.5,730.6 691.8,722.6 715.7,708.8 722.4,716.8" fill="#fff" stroke="#000" stroke-width="1" />
<polygon points="630.7,604.7 628.8,603.6 652.7,589.8 654.6,590.9" fill="#fff" stroke="#000" stroke-width="1" />
<polygon points="628.8,603.6 626,593.8 649.9,580 652.7,589.8" fill="#fff" stroke="#000" stroke-width="1" />
<polygon points="626,593.8 622.4,592.1 646.3,578.3 649.9,580" fill="#fff" stroke="#000" stroke-width="1" />
<polygon points="692.6,711.8 692.5,709.6 716.4,695.8 716.5,698" fill="#fff" stroke="#000" stroke-width="1" />
<polygon points="699.7,718.9 692.6,711.8 716.5,698 723.6,705.1" fill="#fff" stroke="#000" stroke-width="1" />
<polygon points="699.5,722.9 699.7,718.9 723.6,705.1 723.4,709.1" fill="#fff" stroke="#000" stroke-width="1" />
<polygon points="640.4,611.1 638.5,609.7 662.4,595.9 664.3,597.3" fill="#fff" stroke="#000" stroke-width="1" />
<polygon points="691.8,700.2 691.5,697.8 715.4,684 715.7,686.4" fill="#fff" stroke="#000" stroke-width="1" />
<polygon points="638.5,609.7 636.8,600.2 660.7,586.4 662.4,595.9" fill="#fff" stroke="#000" stroke-width="1" />
<polygon points="636.8,600.2 633.2,597.9 657.2,584.1 660.7,586.4" fill="#fff" stroke="#000" stroke-width="1" />
<polygon points="699.3,706.1 691.8,700.2 715.7,686.4 723.2,692.3" fill="#fff" stroke="#000" stroke-width="1" />
<polygon points="699.6,710.4 699.3,706.1 723.2,692.3 723.5,696.6" fill="#fff" stroke="#000" stroke-width="1" />
<polygon points="649.8,619.2 648,617.5 671.9,603.7 673.7,605.4" fill="#fff" stroke="#000" stroke-width="1" />
<polygon points="689.5,688 688.9,685.5 712.8,671.7 713.4,674.2" fill="#fff" stroke="#000" stroke-width="1" />
<polygon points="648,617.5 647.5,608.4 671.4,594.6 671.9,603.7" fill="#fff" stroke="#000" stroke-width="1" />
<polygon points="697.1,692.6 689.5,688 713.4,674.2 721,678.8" fill="#fff" stroke="#000" stroke-width="1" />
<polygon points="647.5,608.4 644,605.5 667.9,591.7 671.4,594.6" fill="#fff" stroke="#000" stroke-width="1" />
<polygon points="658.8,628.7 657,626.7 680.9,612.9 682.7,614.9" fill="#fff" stroke="#000" stroke-width="1" />
<polygon points="685.8,675.5 684.9,673 708.8,659.2 709.7,661.7" fill="#fff" stroke="#000" stroke-width="1" />
<polygon points="698,697.1 697.1,692.6 721,678.8 721.9,683.3" fill="#fff" stroke="#000" stroke-width="1" />
<polygon points="667.1,639.3 665.5,637.1 689.4,623.3 691,625.5" fill="#fff" stroke="#000" stroke-width="1" />
<polygon points="657,626.7 657.8,618.4 681.7,604.6 680.9,612.9" fill="#fff" stroke="#000" stroke-width="1" />
<polygon points="680.8,663 679.6,660.5 703.5,646.7 704.7,649.2" fill="#fff" stroke="#000" stroke-width="1" />
<polygon points="674.4,650.8 673.1,648.5 697,634.7 698.4,637" fill="#fff" stroke="#000" stroke-width="1" />
<polygon points="693.4,678.7 685.8,675.5 709.7,661.7 717.3,664.9" fill="#fff" stroke="#000" stroke-width="1" />
<polygon points="664.3,625.8 658.8,628.7 682.7,614.9 688.2,612" fill="#fff" stroke="#000" stroke-width="1" />
<polygon points="684.9,673 690,669.3 713.9,655.5 708.8,659.2" fill="#fff" stroke="#000" stroke-width="1" />
<polygon points="657.8,618.4 654.5,614.9 678.4,601.1 681.7,604.6" fill="#fff" stroke="#000" stroke-width="1" />
<polygon points="665.5,637.1 667.4,629.7 691.3,615.9 689.4,623.3" fill="#fff" stroke="#000" stroke-width="1" />
<polygon points="694.8,683.3 693.4,678.7 717.3,664.9 718.7,669.5" fill="#fff" stroke="#000" stroke-width="1" />
<polygon points="688.1,664.7 680.8,663 704.7,649.2 712,650.9" fill="#fff" stroke="#000" stroke-width="1" />
<polygon points="673.3,638 667.1,639.3 691,625.5 697.2,624.2" fill="#fff" stroke="#000" stroke-width="1" />
<polygon points="679.6,660.5 683.7,655.5 707.6,641.7 703.5,646.7" fill="#fff" stroke="#000" stroke-width="1" />
<polygon points="673.1,648.5 676.1,642.2 700,628.4 697,634.7" fill="#fff" stroke="#000" stroke-width="1" />
<polygon points="681.3,651 674.4,650.8 698.4,637 705.2,637.2" fill="#fff" stroke="#000" stroke-width="1" />
<polygon points="667.4,629.7 664.3,625.8 688.2,612 691.3,615.9" fill="#fff" stroke="#000" stroke-width="1" />
<polygon points="690,669.3 688.1,664.7 712,650.9 713.9,655.5" fill="#fff" stroke="#000" stroke-width="1" />
<polygon points="676.1,642.2 673.3,638 697.2,624.2 700,628.4" fill="#fff" stroke="#000" stroke-width="1" />
<polygon points="683.7,655.5 681.3,651 705.2,637.2 707.6,641.7" fill="#fff" stroke="#000" stroke-width="1" />
<polygon points="674.5,751.9 675.8,751 682.8,758.6 685.1,756.7 680.8,747 681.9,745.8 689.2,752.3 691.1,749.8 685.8,740.4 686.7,738.8 694.3,744.1 695.6,741 689.5,732.2 690.1,730.3 697.7,734.2 698.5,730.6 691.8,722.6 692.1,720.5 699.5,722.9 699.7,718.9 692.6,711.8 692.5,709.6 699.6,710.4 699.3,706.1 691.8,700.2 691.5,697.8 698,697.1 697.1,692.6 689.5,688 688.9,685.5 694.8,683.3 693.4,678.7 685.8,675.5 684.9,673 690,669.3 688.1,664.7 680.8,663 679.6,660.5 683.7,655.5 681.3,651 674.4,650.8 673.1,648.5 676.1,642.2 673.3,638 667.1,639.3 665.5,637.1 667.4,629.7 664.3,625.8 658.8,628.7 657,626.7 657.8,618.4 654.5,614.9 649.8,619.2 648,617.5 647.5,608.4 644,605.5 640.4,611.1 638.5,609.7 636.8,600.2 633.2,597.9 630.7,604.7 628.8,603.6 626,593.8 622.4,592.1 621,599.9 619.1,599.2 615.3,589.4 611.8,588.5 611.6,597.1 609.7,596.8 604.9,587.2 601.6,587 602.6,596.2 600.9,596.3 595.2,587.2 592.2,587.6 594.3,597.3 592.8,597.8 586.4,589.3 583.7,590.5 587,600.3 585.6,601.2 578.6,593.6 576.3,595.5 580.6,605.2 579.5,606.4 572.2,599.9 570.3,602.4 575.6,611.8 574.7,613.4 567.1,608.1 565.8,611.2 571.9,620 571.3,621.9 563.7,618 562.9,621.6 569.6,629.6 569.3,631.7 561.9,629.3 561.7,633.3 568.8,640.4 568.9,642.6 561.8,641.8 562.1,646.1 569.6,652 569.9,654.4 563.4,655.1 564.3,659.6 571.9,664.2 572.5,666.7 566.6,668.9 568,673.5 575.6,676.7 576.5,679.2 571.4,682.9 573.3,687.5 580.6,689.2 581.8,691.7 577.7,696.7 580.1,701.2 587,701.4 588.3,703.7 585.3,710 588.1,714.2 594.3,712.9 595.9,715.1 594,722.5 597.1,726.4 602.6,723.5 604.4,725.5 603.6,733.8 606.9,737.3 611.6,733 613.4,734.7 613.9,743.8 617.4,746.7 621,741.1 622.9,742.5 624.6,752 628.2,754.3 630.7,747.5 632.6,748.6 635.4,758.4 639,760.1 640.4,752.3 642.3,753 646.1,762.8 649.6,763.7 649.8,755.1 651.7,755.4 656.5,765 659.8,765.2 658.8,756 660.5,755.9 666.2,765 669.2,764.6 667.1,754.9 668.6,754.4 675,762.9 677.7,761.7" fill="#fff" stroke="#000" stroke-width="1.1" />
<ellipse cx="630.7" cy="676.1" rx="77.5" ry="44.7" transform="rotate(60 630.7 676.1)" fill="#fff" stroke="#000" stroke-width="1.1" />
<clipPath id="c22"><ellipse cx="630.7" cy="676.1" rx="77.5" ry="44.7" transform="rotate(60 630.7 676.1)"/></clipPath>
<g clip-path="url(#c22)">
<ellipse cx="637.6" cy="672.1" rx="74.5" ry="43" transform="rotate(60 637.6 672.1)" fill="none" stroke="#000" stroke-width="0.9" />
<polygon points="650.4,718.4 656.1,718.5 661.3,717.2 665.7,714.5 669.2,710.4 673.9,709.2 681.9,717.2 682.1,724.7 677,730.8 670.6,734.9 663,736.8 654.6,736.5 648.3,731.6 646.4,720.9" fill="#fff" stroke="#000" stroke-width="1" />
<clipPath id="c23"><polygon points="650.4,718.4 656.1,718.5 661.3,717.2 665.7,714.5 669.2,710.4 673.9,709.2 681.9,717.2 682.1,724.7 677,730.8 670.6,734.9 663,736.8 654.6,736.5 648.3,731.6 646.4,720.9"/></clipPath>
<g clip-path="url(#c23)">
<polygon points="658.2,713.9 663.9,714 669.1,712.7 673.5,710 677,705.9 681.7,704.7 689.7,712.7 689.9,720.2 684.8,726.3 678.4,730.4 670.8,732.3 662.4,732 656.1,727.1 654.2,716.4" fill="none" stroke="#000" stroke-width="0.8" />
<path d="M650.4 718.4L658.2 713.9" stroke="#000" stroke-width="0.7" fill="none" />
<path d="M669.2 710.4L677 705.9" stroke="#000" stroke-width="0.7" fill="none" />
<path d="M673.9 709.2L681.7 704.7" stroke="#000" stroke-width="0.7" fill="none" />
<path d="M681.9 717.2L689.7 712.7" stroke="#000" stroke-width="0.7" fill="none" />
<path d="M654.6 736.5L662.4 732" stroke="#000" stroke-width="0.7" fill="none" />
<path d="M648.3 731.6L656.1 727.1" stroke="#000" stroke-width="0.7" fill="none" />
</g>
<polygon points="673.6,690.9 672.8,683.1 670.8,675 667.8,666.8 663.9,658.8 662.1,651.3 667.4,646.8 673.6,652.4 679.4,664.1 683.8,676.1 686.7,688 687.8,699.3 684.8,704.1 676.4,698.4" fill="#fff" stroke="#000" stroke-width="1" />
<clipPath id="c24"><polygon points="673.6,690.9 672.8,683.1 670.8,675 667.8,666.8 663.9,658.8 662.1,651.3 667.4,646.8 673.6,652.4 679.4,664.1 683.8,676.1 686.7,688 687.8,699.3 684.8,704.1 676.4,698.4"/></clipPath>
<g clip-path="url(#c24)">
<polygon points="681.4,686.4 680.6,678.6 678.6,670.5 675.6,662.3 671.7,654.3 669.9,646.8 675.2,642.3 681.4,647.9 687.2,659.6 691.6,671.6 694.5,683.5 695.6,694.8 692.6,699.6 684.2,693.9" fill="none" stroke="#000" stroke-width="0.8" />
<path d="M673.6 690.9L681.4 686.4" stroke="#000" stroke-width="0.7" fill="none" />
<path d="M663.9 658.8L671.7 654.3" stroke="#000" stroke-width="0.7" fill="none" />
<path d="M662.1 651.3L669.9 646.8" stroke="#000" stroke-width="0.7" fill="none" />
<path d="M667.4 646.8L675.2 642.3" stroke="#000" stroke-width="0.7" fill="none" />
<path d="M687.8 699.3L695.6 694.8" stroke="#000" stroke-width="0.7" fill="none" />
<path d="M684.8 704.1L692.6 699.6" stroke="#000" stroke-width="0.7" fill="none" />
</g>
<polygon points="647.1,637.4 640.8,632.5 634.5,628.8 628.2,626.5 622.3,625.6 616.4,622.2 611.8,611.3 615.4,607.3 624.1,608.5 633.3,611.8 642.6,617.3 651.7,624.6 656.1,632.4 652.8,639.5" fill="#fff" stroke="#000" stroke-width="1" />
<clipPath id="c25"><polygon points="647.1,637.4 640.8,632.5 634.5,628.8 628.2,626.5 622.3,625.6 616.4,622.2 611.8,611.3 615.4,607.3 624.1,608.5 633.3,611.8 642.6,617.3 651.7,624.6 656.1,632.4 652.8,639.5"/></clipPath>
<g clip-path="url(#c25)">
<polygon points="654.9,632.9 648.6,628 642.3,624.3 636,622 630.1,621.1 624.2,617.7 619.6,606.8 623.2,602.8 631.9,604 641,607.3 650.4,612.8 659.5,620.1 663.9,627.9 660.6,635" fill="none" stroke="#000" stroke-width="0.8" />
<path d="M647.1 637.4L654.9 632.9" stroke="#000" stroke-width="0.7" fill="none" />
<path d="M622.3 625.6L630.1 621.1" stroke="#000" stroke-width="0.7" fill="none" />
<path d="M616.4 622.2L624.2 617.7" stroke="#000" stroke-width="0.7" fill="none" />
<path d="M611.8 611.3L619.6 606.8" stroke="#000" stroke-width="0.7" fill="none" />
<path d="M651.7 624.6L659.5 620.1" stroke="#000" stroke-width="0.7" fill="none" />
<path d="M656.1 632.4L663.9 627.9" stroke="#000" stroke-width="0.7" fill="none" />
</g>
<polygon points="607.5,631.9 604.5,636.6 602.5,642.4 601.6,649.2 601.9,656.7 600.1,662 591.9,659.8 587.9,651.8 587.5,640.8 588.7,630.8 591.6,622.3 596.1,615.5 601.9,615.6 608.3,625.7" fill="#fff" stroke="#000" stroke-width="1" />
<clipPath id="c26"><polygon points="607.5,631.9 604.5,636.6 602.5,642.4 601.6,649.2 601.9,656.7 600.1,662 591.9,659.8 587.9,651.8 587.5,640.8 588.7,630.8 591.6,622.3 596.1,615.5 601.9,615.6 608.3,625.7"/></clipPath>
<g clip-path="url(#c26)">
<polygon points="615.2,627.4 612.3,632.1 610.3,637.9 609.4,644.7 609.6,652.2 607.9,657.5 599.7,655.3 595.7,647.3 595.3,636.3 596.5,626.3 599.4,617.8 603.9,611 609.7,611.1 616.1,621.2" fill="none" stroke="#000" stroke-width="0.8" />
<path d="M607.5 631.9L615.2 627.4" stroke="#000" stroke-width="0.7" fill="none" />
<path d="M601.9 656.7L609.6 652.2" stroke="#000" stroke-width="0.7" fill="none" />
<path d="M600.1 662L607.9 657.5" stroke="#000" stroke-width="0.7" fill="none" />
<path d="M591.9 659.8L599.7 655.3" stroke="#000" stroke-width="0.7" fill="none" />
<path d="M596.1 615.5L603.9 611" stroke="#000" stroke-width="0.7" fill="none" />
<path d="M601.9 615.6L609.7 611.1" stroke="#000" stroke-width="0.7" fill="none" />
</g>
<polygon points="609.5,682 613.9,689.8 619.1,697.1 624.8,703.6 630.9,709.1 635.6,715.8 635.1,725.3 629.2,724.3 620.2,716.4 611.8,706.9 604.3,696.2 597.9,684.6 597,676.8 604.3,676" fill="#fff" stroke="#000" stroke-width="1" />
<clipPath id="c27"><polygon points="609.5,682 613.9,689.8 619.1,697.1 624.8,703.6 630.9,709.1 635.6,715.8 635.1,725.3 629.2,724.3 620.2,716.4 611.8,706.9 604.3,696.2 597.9,684.6 597,676.8 604.3,676"/></clipPath>
<g clip-path="url(#c27)">
<polygon points="617.3,677.5 621.7,685.3 626.8,692.6 632.6,699.1 638.7,704.6 643.4,711.3 642.9,720.8 636.9,719.8 628,711.9 619.6,702.4 612.1,691.7 605.7,680.1 604.8,672.3 612.1,671.5" fill="none" stroke="#000" stroke-width="0.8" />
<path d="M609.5 682L617.3 677.5" stroke="#000" stroke-width="0.7" fill="none" />
<path d="M630.9 709.1L638.7 704.6" stroke="#000" stroke-width="0.7" fill="none" />
<path d="M635.6 715.8L643.4 711.3" stroke="#000" stroke-width="0.7" fill="none" />
<path d="M635.1 725.3L642.9 720.8" stroke="#000" stroke-width="0.7" fill="none" />
<path d="M597.9 684.6L605.7 680.1" stroke="#000" stroke-width="0.7" fill="none" />
<path d="M597 676.8L604.8 672.3" stroke="#000" stroke-width="0.7" fill="none" />
</g>
</g>
<path d="M661.1 712.8A47 27.1 60 0 0 661.1 658.5A47 27.1 60 0 0 614.1 631.4L607.2 635.4A47 27.1 60 0 0 607.2 689.7A47 27.1 60 0 0 654.2 716.8Z" fill="#fff" stroke="#000" stroke-width="1.1" />
<ellipse cx="630.7" cy="676.1" rx="47" ry="27.1" transform="rotate(60 630.7 676.1)" fill="#fff" stroke="#000" stroke-width="1.1" />
<ellipse cx="630.7" cy="676.1" rx="39.3" ry="22.7" transform="rotate(60 630.7 676.1)" fill="#fff" stroke="#000" stroke-width="1.8" />
<clipPath id="c28"><ellipse cx="630.7" cy="676.1" rx="39.3" ry="22.7" transform="rotate(60 630.7 676.1)"/></clipPath>
<g clip-path="url(#c28)">
<ellipse cx="654.6" cy="662.3" rx="39.3" ry="22.7" transform="rotate(60 654.6 662.3)" fill="none" stroke="#000" stroke-width="0.9" />
</g>
<g clip-path="url(#c28)">
<ellipse cx="632.4" cy="675.1" rx="36.8" ry="21.2" transform="rotate(60 632.4 675.1)" fill="none" stroke="#000" stroke-width="0.8" />
</g>
<path d="M567.1 766.6A46.5 26.8 60 0 0 567.1 712.9A46.5 26.8 60 0 0 520.6 686L517.1 688A46.5 26.8 60 0 0 517.2 741.7A46.5 26.8 60 0 0 563.6 768.6Z" fill="#fff" stroke="#000" stroke-width="1.1" />
<ellipse cx="540.4" cy="728.3" rx="46.5" ry="26.8" transform="rotate(60 540.4 728.3)" fill="#fff" stroke="#000" stroke-width="1.1" />
<ellipse cx="540.4" cy="728.3" rx="29.5" ry="17" transform="rotate(60 540.4 728.3)" fill="#fff" stroke="#000" stroke-width="1.1" />
<clipPath id="c29"><ellipse cx="540.4" cy="728.3" rx="29.5" ry="17" transform="rotate(60 540.4 728.3)"/></clipPath>
<g clip-path="url(#c29)">
<ellipse cx="543.9" cy="726.3" rx="29.5" ry="17" transform="rotate(60 543.9 726.3)" fill="none" stroke="#000" stroke-width="0.9" />
</g>
<path d="M503.2 834.8A72.5 41.9 60 0 0 503.2 751.1A72.5 41.9 60 0 0 430.7 709.2L402.9 725.3A72.5 41.9 60 0 0 402.9 809A72.5 41.9 60 0 0 475.4 850.9Z" fill="#fff" stroke="#000" stroke-width="1.1" />
<ellipse cx="439.1" cy="788.1" rx="72.5" ry="41.9" transform="rotate(60 439.1 788.1)" fill="#fff" stroke="#000" stroke-width="1.1" />
<path d="M474.3 850.7A72.5 41.9 60 0 0 479.7 764.7A72.5 41.9 60 0 0 402.5 726.3" fill="none" stroke="#000" stroke-width="1" />
<path d="M477.7 848.7A72.5 41.9 60 0 0 483.1 762.7A72.5 41.9 60 0 0 406 724.3" fill="none" stroke="#000" stroke-width="1" />
<ellipse cx="439.1" cy="788.1" rx="59" ry="34.1" transform="rotate(60 439.1 788.1)" fill="#fff" stroke="#000" stroke-width="1.1" />
<clipPath id="c30"><ellipse cx="439.1" cy="788.1" rx="59" ry="34.1" transform="rotate(60 439.1 788.1)"/></clipPath>
<g clip-path="url(#c30)">
<circle cx="435.9" cy="739.4" r="10" fill="#fff" stroke="#000" stroke-width="1"/>
<circle cx="417.8" cy="742.3" r="10" fill="#fff" stroke="#000" stroke-width="1"/>
<circle cx="409.6" cy="760.5" r="10" fill="#fff" stroke="#000" stroke-width="1"/>
<circle cx="453.2" cy="829.4" r="10" fill="#fff" stroke="#000" stroke-width="1"/>
<circle cx="471.7" cy="827.5" r="10" fill="#fff" stroke="#000" stroke-width="1"/>
<circle cx="480.6" cy="810.1" r="10" fill="#fff" stroke="#000" stroke-width="1"/>
<ellipse cx="444.3" cy="785.1" rx="56" ry="32.3" transform="rotate(60 444.3 785.1)" fill="none" stroke="#000" stroke-width="0.9" />
</g>
<path d="M465.3 821.5A42 24.2 60 0 0 465.3 773A42 24.2 60 0 0 423.3 748.7L417.7 752A42 24.2 60 0 0 417.7 800.5A42 24.2 60 0 0 459.7 824.7Z" fill="#fff" stroke="#000" stroke-width="1.1" />
<ellipse cx="438.7" cy="788.4" rx="42" ry="24.2" transform="rotate(60 438.7 788.4)" fill="#fff" stroke="#000" stroke-width="1.1" />
<ellipse cx="441.7" cy="786.6" rx="28.5" ry="16.5" transform="rotate(60 441.7 786.6)" fill="#fff" stroke="#000" stroke-width="1.1" />
<clipPath id="c31"><ellipse cx="441.7" cy="786.6" rx="28.5" ry="16.5" transform="rotate(60 441.7 786.6)"/></clipPath>
<g clip-path="url(#c31)">
<ellipse cx="454.4" cy="779.2" rx="28.5" ry="16.5" transform="rotate(60 454.4 779.2)" fill="none" stroke="#000" stroke-width="0.9" />
</g>
<g clip-path="url(#c31)">
<ellipse cx="457.9" cy="777.2" rx="25.5" ry="14.7" transform="rotate(60 457.9 777.2)" fill="none" stroke="#000" stroke-width="0.8" />
</g>
<path d="M385.8 873.6A49.2 28.4 60 0 0 385.8 816.7A49.2 28.4 60 0 0 336.6 788.3L295.6 812A49.2 28.4 60 0 0 295.6 868.8A49.2 28.4 60 0 0 344.8 897.2Z" fill="#fff" stroke="#000" stroke-width="1.1" />
<ellipse cx="320.2" cy="854.6" rx="49.2" ry="28.4" transform="rotate(60 320.2 854.6)" fill="#fff" stroke="#000" stroke-width="1.1" />
<ellipse cx="320.2" cy="854.6" rx="31.2" ry="18" transform="rotate(60 320.2 854.6)" fill="#fff" stroke="#000" stroke-width="1.1" />
<clipPath id="c32"><ellipse cx="320.2" cy="854.6" rx="31.2" ry="18" transform="rotate(60 320.2 854.6)"/></clipPath>
<g clip-path="url(#c32)">
<ellipse cx="361.2" cy="831" rx="31.2" ry="18" transform="rotate(60 361.2 831)" fill="none" stroke="#000" stroke-width="0.9" />
</g>
<path d="M333 898.7A49.2 28.4 60 0 0 346.7 841.8A49.2 28.4 60 0 0 289.5 818.9" fill="none" stroke="#000" stroke-width="1" />
<path d="M314.2 825.4A32.6 18.8 60 0 0 302.5 861.5A32.6 18.8 60 0 0 341.1 877.9" fill="none" stroke="#000" stroke-width="0.8" />
<polygon points="289.8,954.3 290.8,952.9 292.9,952.4 296.1,952.8 300,953.4 304,953.9 305,953.3 305.3,949.5 304.6,947.6 300.9,942.8 297.4,938.3 294.5,934.4 292.7,931.3 292.1,928.9 292.3,926.7 293.6,925 296,923.5 299,921.9 302,920.1 302.5,918.8 301.4,914.4 300.2,912.8 295.9,909.6 291.8,906.6 288.4,904 286,901.6 284.7,899.2 284.1,896.7 284.5,894 285.6,890.9 287.2,887.4 288.7,883.6 288.6,881.9 286.3,877.6 284.8,876.5 280.6,875.4 276.7,874.5 273.4,873.6 270.8,872.2 269,870.3 267.7,867.9 267,864.7 266.8,860.6 266.6,855.7 266.4,850.6 265.7,848.7 262.5,845.3 261.1,844.9 257.8,846.1 254.7,847.5 252,848.4 249.7,848.4 247.8,847.3 246,845.4 244.3,842.2 242.7,837.7 240.9,832.4 238.9,826.8 237.8,825.1 234.3,823.2 233.2,823.6 231.2,826.9 229.5,830.2 227.9,832.8 226.3,834.2 224.5,834.1 222.6,833 220.3,830.4 217.6,826.4 214.4,821.5 211,816.4 209.6,815.2 206.5,815.1 205.8,816.1 205.6,821 205.5,825.7 205.3,829.6 204.7,832.1 203.4,833 201.6,832.9 199.1,831.3 195.7,828.4 191.8,824.8 187.5,821.2 186.1,820.6 183.8,822.3 183.8,823.9 185.3,829.5 186.9,834.8 188.2,839.2 188.6,842.4 188,844.2 186.7,845.1 184.3,844.8 180.9,843.6 176.8,841.9 172.6,840.3 171.4,840.5 170.3,843.7 170.8,845.5 173.9,850.9 176.9,855.8 179.4,860.1 180.8,863.4 181,865.7 180.4,867.5 178.6,868.6 175.8,869.2 172.3,869.7 168.6,870.4 167.9,871.3 168.3,875.5 169.3,877.3 173.3,881.4 177.2,885.2 180.5,888.5 182.6,891.4 183.6,893.9 183.8,896.2 182.9,898.5 181.1,900.8 178.8,903.4 176.5,906.3 176.3,907.8 178,912.3 179.4,913.7 183.7,915.9 187.8,917.8 191.3,919.7 193.8,921.6 195.3,923.8 196.3,926.3 196.5,929.3 196,933 195.3,937.3 194.7,941.9 195.1,943.7 197.9,947.6 199.3,948.4 203.2,948.3 206.8,948.1 209.9,948.1 212.4,948.7 214.2,950.3 215.8,952.5 217,955.8 218,960.2 219,965.4 220.1,970.9 221.1,972.7 224.5,975.4 225.7,975.4 228.5,973.1 230.9,970.7 233.1,968.9 235.1,968.2 237,968.8 238.9,970.3 240.9,973.3 243.1,977.7 245.7,982.9 248.4,988.3 249.7,989.8 253.1,990.9 254,990.1 255.1,985.9 256,981.8 257,978.5 258.1,976.5 259.7,976.1 261.6,976.7 264,978.9 267.2,982.4 270.8,986.7 274.7,991.2 276.1,992.1 278.9,991.3 279.3,989.9 278.6,984.6 277.8,979.5 277.3,975.2 277.4,972.3 278.4,971 279.9,970.5 282.4,971.5 285.9,973.6 290,976.3 294.3,979 295.7,979.2 297.4,976.7 297.2,974.9 294.8,969.3 292.4,964.1 290.6,959.6 289.6,956.4" fill="#fff" stroke="#000" stroke-width="1.1" />
<polygon points="221,978.2 223.7,975.8 228.5,973.1 225.7,975.4" fill="#fff" stroke="#fff" stroke-width="0.5" />
<path d="M225.7 975.4L228.5 973.1" stroke="#000" stroke-width="1" fill="none" />
<polygon points="167.5,872.4 163.9,873.1 168.6,870.4 172.3,869.7" fill="#fff" stroke="#fff" stroke-width="0.5" />
<path d="M172.3 869.7L168.6 870.4" stroke="#000" stroke-width="1" fill="none" />
<polygon points="223.7,975.8 226.2,973.5 230.9,970.7 228.5,973.1" fill="#fff" stroke="#fff" stroke-width="0.5" />
<path d="M228.5 973.1L230.9 970.7" stroke="#000" stroke-width="1" fill="none" />
<polygon points="171,871.9 167.5,872.4 172.3,869.7 175.8,869.2" fill="#fff" stroke="#fff" stroke-width="0.5" />
<path d="M175.8 869.2L172.3 869.7" stroke="#000" stroke-width="1" fill="none" />
<polygon points="226.2,973.5 228.4,971.7 233.1,968.9 230.9,970.7" fill="#fff" stroke="#fff" stroke-width="0.5" />
<path d="M230.9 970.7L233.1 968.9" stroke="#000" stroke-width="1" fill="none" />
<polygon points="173.8,871.3 171,871.9 175.8,869.2 178.6,868.6" fill="#fff" stroke="#fff" stroke-width="0.5" />
<path d="M178.6 868.6L175.8 869.2" stroke="#000" stroke-width="1" fill="none" />
<polygon points="248.3,993.6 249.2,992.9 254,990.1 253.1,990.9" fill="#fff" stroke="#fff" stroke-width="0.5" />
<path d="M253.1 990.9L254 990.1" stroke="#000" stroke-width="1" fill="none" />
<path d="M248.3 993.6L253.1 990.9" stroke="#000" stroke-width="0.9" fill="none" />
<polygon points="249.2,992.9 250.4,988.7 255.1,985.9 254,990.1" fill="#fff" stroke="#fff" stroke-width="0.5" />
<path d="M254 990.1L255.1 985.9" stroke="#000" stroke-width="1" fill="none" />
<polygon points="167.8,843 166.6,843.3 171.4,840.5 172.6,840.3" fill="#fff" stroke="#fff" stroke-width="0.5" />
<path d="M172.6 840.3L171.4 840.5" stroke="#000" stroke-width="1" fill="none" />
<path d="M166.6 843.3L171.4 840.5" stroke="#000" stroke-width="0.9" fill="none" />
<polygon points="250.4,988.7 251.3,984.6 256,981.8 255.1,985.9" fill="#fff" stroke="#fff" stroke-width="0.5" />
<path d="M255.1 985.9L256 981.8" stroke="#000" stroke-width="1" fill="none" />
<polygon points="172.1,844.6 167.8,843 172.6,840.3 176.8,841.9" fill="#fff" stroke="#fff" stroke-width="0.5" />
<path d="M176.8 841.9L172.6 840.3" stroke="#000" stroke-width="1" fill="none" />
<polygon points="251.3,984.6 252.2,981.3 257,978.5 256,981.8" fill="#fff" stroke="#fff" stroke-width="0.5" />
<path d="M256 981.8L257 978.5" stroke="#000" stroke-width="1" fill="none" />
<polygon points="176.2,846.3 172.1,844.6 176.8,841.9 180.9,843.6" fill="#fff" stroke="#fff" stroke-width="0.5" />
<path d="M180.9 843.6L176.8 841.9" stroke="#000" stroke-width="1" fill="none" />
<polygon points="252.2,981.3 253.4,979.3 258.1,976.5 257,978.5" fill="#fff" stroke="#fff" stroke-width="0.5" />
<path d="M257 978.5L258.1 976.5" stroke="#000" stroke-width="1" fill="none" />
<polygon points="179.6,847.6 176.2,846.3 180.9,843.6 184.3,844.8" fill="#fff" stroke="#fff" stroke-width="0.5" />
<path d="M184.3 844.8L180.9 843.6" stroke="#000" stroke-width="1" fill="none" />
<polygon points="181.9,847.9 179.6,847.6 184.3,844.8 186.7,845.1" fill="#fff" stroke="#fff" stroke-width="0.5" />
<path d="M186.7 845.1L184.3 844.8" stroke="#000" stroke-width="1" fill="none" />
<polygon points="274.1,994.1 274.5,992.7 279.3,989.9 278.9,991.3" fill="#fff" stroke="#fff" stroke-width="0.5" />
<path d="M278.9 991.3L279.3 989.9" stroke="#000" stroke-width="1" fill="none" />
<path d="M274.1 994.1L278.9 991.3" stroke="#000" stroke-width="0.9" fill="none" />
<polygon points="274.5,992.7 273.8,987.3 278.6,984.6 279.3,989.9" fill="#fff" stroke="#fff" stroke-width="0.5" />
<path d="M279.3 989.9L278.6 984.6" stroke="#000" stroke-width="1" fill="none" />
<polygon points="273.8,987.3 273,982.2 277.8,979.5 278.6,984.6" fill="#fff" stroke="#fff" stroke-width="0.5" />
<path d="M278.6 984.6L277.8 979.5" stroke="#000" stroke-width="1" fill="none" />
<polygon points="182.8,823.9 181.4,823.4 186.1,820.6 187.5,821.2" fill="#fff" stroke="#fff" stroke-width="0.5" />
<path d="M187.5 821.2L186.1 820.6" stroke="#000" stroke-width="1" fill="none" />
<path d="M181.4 823.4L186.1 820.6" stroke="#000" stroke-width="0.9" fill="none" />
<polygon points="273,982.2 272.5,978 277.3,975.2 277.8,979.5" fill="#fff" stroke="#fff" stroke-width="0.5" />
<path d="M277.8 979.5L277.3 975.2" stroke="#000" stroke-width="1" fill="none" />
<polygon points="187,827.6 182.8,823.9 187.5,821.2 191.8,824.8" fill="#fff" stroke="#fff" stroke-width="0.5" />
<path d="M191.8 824.8L187.5 821.2" stroke="#000" stroke-width="1" fill="none" />
<polygon points="272.5,978 272.6,975.1 277.4,972.3 277.3,975.2" fill="#fff" stroke="#fff" stroke-width="0.5" />
<path d="M277.3 975.2L277.4 972.3" stroke="#000" stroke-width="1" fill="none" />
<polygon points="190.9,831.2 187,827.6 191.8,824.8 195.7,828.4" fill="#fff" stroke="#fff" stroke-width="0.5" />
<path d="M195.7 828.4L191.8 824.8" stroke="#000" stroke-width="1" fill="none" />
<polygon points="272.6,975.1 273.6,973.7 278.4,971 277.4,972.3" fill="#fff" stroke="#fff" stroke-width="0.5" />
<path d="M277.4 972.3L278.4 971" stroke="#000" stroke-width="1" fill="none" />
<polygon points="194.3,834.1 190.9,831.2 195.7,828.4 199.1,831.3" fill="#fff" stroke="#fff" stroke-width="0.5" />
<path d="M199.1 831.3L195.7 828.4" stroke="#000" stroke-width="1" fill="none" />
<polygon points="196.9,835.7 194.3,834.1 199.1,831.3 201.6,832.9" fill="#fff" stroke="#fff" stroke-width="0.5" />
<path d="M201.6 832.9L199.1 831.3" stroke="#000" stroke-width="1" fill="none" />
<polygon points="198.6,835.8 196.9,835.7 201.6,832.9 203.4,833" fill="#fff" stroke="#fff" stroke-width="0.5" />
<path d="M203.4 833L201.6 832.9" stroke="#000" stroke-width="1" fill="none" />
<polygon points="290.9,981.9 292.6,979.4 297.4,976.7 295.7,979.2" fill="#fff" stroke="#fff" stroke-width="0.5" />
<path d="M295.7 979.2L297.4 976.7" stroke="#000" stroke-width="1" fill="none" />
<path d="M290.9 981.9L295.7 979.2" stroke="#000" stroke-width="0.9" fill="none" />
<path d="M292.6 979.4L297.4 976.7" stroke="#000" stroke-width="0.9" fill="none" />
<polygon points="292.6,979.4 292.4,977.7 297.2,974.9 297.4,976.7" fill="#fff" stroke="#fff" stroke-width="0.5" />
<path d="M297.4 976.7L297.2 974.9" stroke="#000" stroke-width="1" fill="none" />
<path d="M292.6 979.4L297.4 976.7" stroke="#000" stroke-width="0.9" fill="none" />
<polygon points="292.4,977.7 290,972.1 294.8,969.3 297.2,974.9" fill="#fff" stroke="#fff" stroke-width="0.5" />
<path d="M297.2 974.9L294.8 969.3" stroke="#000" stroke-width="1" fill="none" />
<polygon points="290,972.1 287.6,966.8 292.4,964.1 294.8,969.3" fill="#fff" stroke="#fff" stroke-width="0.5" />
<path d="M294.8 969.3L292.4 964.1" stroke="#000" stroke-width="1" fill="none" />
<polygon points="287.6,966.8 285.8,962.4 290.6,959.6 292.4,964.1" fill="#fff" stroke="#fff" stroke-width="0.5" />
<path d="M292.4 964.1L290.6 959.6" stroke="#000" stroke-width="1" fill="none" />
<polygon points="285.8,962.4 284.9,959.1 289.6,956.4 290.6,959.6" fill="#fff" stroke="#fff" stroke-width="0.5" />
<path d="M290.6 959.6L289.6 956.4" stroke="#000" stroke-width="1" fill="none" />
<polygon points="204.9,818 201.7,817.8 206.5,815.1 209.6,815.2" fill="#fff" stroke="#fff" stroke-width="0.5" />
<path d="M209.6 815.2L206.5 815.1" stroke="#000" stroke-width="1" fill="none" />
<path d="M204.9 818L209.6 815.2" stroke="#000" stroke-width="0.9" fill="none" />
<path d="M201.7 817.8L206.5 815.1" stroke="#000" stroke-width="0.9" fill="none" />
<polygon points="284.9,959.1 285.1,957 289.8,954.3 289.6,956.4" fill="#fff" stroke="#fff" stroke-width="0.5" />
<path d="M289.6 956.4L289.8 954.3" stroke="#000" stroke-width="1" fill="none" />
<polygon points="206.2,819.2 204.9,818 209.6,815.2 211,816.4" fill="#fff" stroke="#fff" stroke-width="0.5" />
<path d="M211 816.4L209.6 815.2" stroke="#000" stroke-width="1" fill="none" />
<path d="M204.9 818L209.6 815.2" stroke="#000" stroke-width="0.9" fill="none" />
<polygon points="285.1,957 286,955.6 290.8,952.9 289.8,954.3" fill="#fff" stroke="#fff" stroke-width="0.5" />
<path d="M289.8 954.3L290.8 952.9" stroke="#000" stroke-width="1" fill="none" />
<polygon points="209.7,824.3 206.2,819.2 211,816.4 214.4,821.5" fill="#fff" stroke="#fff" stroke-width="0.5" />
<path d="M214.4 821.5L211 816.4" stroke="#000" stroke-width="1" fill="none" />
<polygon points="212.8,829.1 209.7,824.3 214.4,821.5 217.6,826.4" fill="#fff" stroke="#fff" stroke-width="0.5" />
<path d="M217.6 826.4L214.4 821.5" stroke="#000" stroke-width="1" fill="none" />
<polygon points="215.5,833.1 212.8,829.1 217.6,826.4 220.3,830.4" fill="#fff" stroke="#fff" stroke-width="0.5" />
<path d="M220.3 830.4L217.6 826.4" stroke="#000" stroke-width="1" fill="none" />
<polygon points="217.8,835.8 215.5,833.1 220.3,830.4 222.6,833" fill="#fff" stroke="#fff" stroke-width="0.5" />
<path d="M222.6 833L220.3 830.4" stroke="#000" stroke-width="1" fill="none" />
<polygon points="219.8,836.9 217.8,835.8 222.6,833 224.5,834.1" fill="#fff" stroke="#fff" stroke-width="0.5" />
<path d="M224.5 834.1L222.6 833" stroke="#000" stroke-width="1" fill="none" />
<polygon points="221.5,837 219.8,836.9 224.5,834.1 226.3,834.2" fill="#fff" stroke="#fff" stroke-width="0.5" />
<path d="M226.3 834.2L224.5 834.1" stroke="#000" stroke-width="1" fill="none" />
<polygon points="299.2,956.6 300.2,956 305,953.3 304,953.9" fill="#fff" stroke="#fff" stroke-width="0.5" />
<path d="M304 953.9L305 953.3" stroke="#000" stroke-width="1" fill="none" />
<path d="M300.2 956L305 953.3" stroke="#000" stroke-width="0.9" fill="none" />
<polygon points="289.7,937.2 287.9,934.1 292.7,931.3 294.5,934.4" fill="#fff" stroke="#fff" stroke-width="0.5" />
<path d="M294.5 934.4L292.7 931.3" stroke="#000" stroke-width="1" fill="none" />
<polygon points="292.6,941.1 289.7,937.2 294.5,934.4 297.4,938.3" fill="#fff" stroke="#fff" stroke-width="0.5" />
<path d="M297.4 938.3L294.5 934.4" stroke="#000" stroke-width="1" fill="none" />
<polygon points="287.9,934.1 287.3,931.6 292.1,928.9 292.7,931.3" fill="#fff" stroke="#fff" stroke-width="0.5" />
<path d="M292.7 931.3L292.1 928.9" stroke="#000" stroke-width="1" fill="none" />
<polygon points="300.2,956 300.6,952.2 305.3,949.5 305,953.3" fill="#fff" stroke="#fff" stroke-width="0.5" />
<path d="M305 953.3L305.3 949.5" stroke="#000" stroke-width="1" fill="none" />
<path d="M300.2 956L305 953.3" stroke="#000" stroke-width="0.9" fill="none" />
<path d="M300.6 952.2L305.3 949.5" stroke="#000" stroke-width="0.9" fill="none" />
<polygon points="296.1,945.5 292.6,941.1 297.4,938.3 300.9,942.8" fill="#fff" stroke="#fff" stroke-width="0.5" />
<path d="M300.9 942.8L297.4 938.3" stroke="#000" stroke-width="1" fill="none" />
<polygon points="287.3,931.6 287.5,929.5 292.3,926.7 292.1,928.9" fill="#fff" stroke="#fff" stroke-width="0.5" />
<path d="M292.1 928.9L292.3 926.7" stroke="#000" stroke-width="1" fill="none" />
<polygon points="299.8,950.4 296.1,945.5 300.9,942.8 304.6,947.6" fill="#fff" stroke="#fff" stroke-width="0.5" />
<path d="M304.6 947.6L300.9 942.8" stroke="#000" stroke-width="1" fill="none" />
<polygon points="300.6,952.2 299.8,950.4 304.6,947.6 305.3,949.5" fill="#fff" stroke="#fff" stroke-width="0.5" />
<path d="M305.3 949.5L304.6 947.6" stroke="#000" stroke-width="1" fill="none" />
<path d="M300.6 952.2L305.3 949.5" stroke="#000" stroke-width="0.9" fill="none" />
<polygon points="241.2,848.2 239.6,844.9 244.3,842.2 246,845.4" fill="#fff" stroke="#fff" stroke-width="0.5" />
<path d="M246 845.4L244.3 842.2" stroke="#000" stroke-width="1" fill="none" />
<polygon points="243,850.1 241.2,848.2 246,845.4 247.8,847.3" fill="#fff" stroke="#fff" stroke-width="0.5" />
<path d="M247.8 847.3L246 845.4" stroke="#000" stroke-width="1" fill="none" />
<polygon points="229.5,825.9 228.4,826.3 233.2,823.6 234.3,823.2" fill="#fff" stroke="#fff" stroke-width="0.5" />
<path d="M234.3 823.2L233.2 823.6" stroke="#000" stroke-width="1" fill="none" />
<path d="M229.5 825.9L234.3 823.2" stroke="#000" stroke-width="0.9" fill="none" />
<polygon points="287.5,929.5 288.9,927.8 293.6,925 292.3,926.7" fill="#fff" stroke="#fff" stroke-width="0.5" />
<path d="M292.3 926.7L293.6 925" stroke="#000" stroke-width="1" fill="none" />
<polygon points="239.6,844.9 237.9,840.5 242.7,837.7 244.3,842.2" fill="#fff" stroke="#fff" stroke-width="0.5" />
<path d="M244.3 842.2L242.7 837.7" stroke="#000" stroke-width="1" fill="none" />
<polygon points="244.9,851.2 243,850.1 247.8,847.3 249.7,848.4" fill="#fff" stroke="#fff" stroke-width="0.5" />
<path d="M249.7 848.4L247.8 847.3" stroke="#000" stroke-width="1" fill="none" />
<polygon points="237.9,840.5 236.1,835.2 240.9,832.4 242.7,837.7" fill="#fff" stroke="#fff" stroke-width="0.5" />
<path d="M242.7 837.7L240.9 832.4" stroke="#000" stroke-width="1" fill="none" />
<polygon points="233,827.9 229.5,825.9 234.3,823.2 237.8,825.1" fill="#fff" stroke="#fff" stroke-width="0.5" />
<path d="M237.8 825.1L234.3 823.2" stroke="#000" stroke-width="1" fill="none" />
<path d="M233 827.9L237.8 825.1" stroke="#000" stroke-width="0.9" fill="none" />
<path d="M229.5 825.9L234.3 823.2" stroke="#000" stroke-width="0.9" fill="none" />
<polygon points="236.1,835.2 234.1,829.6 238.9,826.8 240.9,832.4" fill="#fff" stroke="#fff" stroke-width="0.5" />
<path d="M240.9 832.4L238.9 826.8" stroke="#000" stroke-width="1" fill="none" />
<polygon points="247.2,851.1 244.9,851.2 249.7,848.4 252,848.4" fill="#fff" stroke="#fff" stroke-width="0.5" />
<path d="M252 848.4L249.7 848.4" stroke="#000" stroke-width="1" fill="none" />
<polygon points="288.9,927.8 291.2,926.3 296,923.5 293.6,925" fill="#fff" stroke="#fff" stroke-width="0.5" />
<path d="M293.6 925L296 923.5" stroke="#000" stroke-width="1" fill="none" />
<polygon points="234.1,829.6 233,827.9 237.8,825.1 238.9,826.8" fill="#fff" stroke="#fff" stroke-width="0.5" />
<path d="M238.9 826.8L237.8 825.1" stroke="#000" stroke-width="1" fill="none" />
<path d="M233 827.9L237.8 825.1" stroke="#000" stroke-width="0.9" fill="none" />
<polygon points="249.9,850.2 247.2,851.1 252,848.4 254.7,847.5" fill="#fff" stroke="#fff" stroke-width="0.5" />
<path d="M254.7 847.5L252 848.4" stroke="#000" stroke-width="1" fill="none" />
<polygon points="281.3,904.3 280,901.9 284.7,899.2 286,901.6" fill="#fff" stroke="#fff" stroke-width="0.5" />
<path d="M286 901.6L284.7 899.2" stroke="#000" stroke-width="1" fill="none" />
<polygon points="280,901.9 279.3,899.5 284.1,896.7 284.7,899.2" fill="#fff" stroke="#fff" stroke-width="0.5" />
<path d="M284.7 899.2L284.1 896.7" stroke="#000" stroke-width="1" fill="none" />
<polygon points="283.6,906.7 281.3,904.3 286,901.6 288.4,904" fill="#fff" stroke="#fff" stroke-width="0.5" />
<path d="M288.4 904L286 901.6" stroke="#000" stroke-width="1" fill="none" />
<polygon points="264.3,873.1 263,870.7 267.7,867.9 269,870.3" fill="#fff" stroke="#fff" stroke-width="0.5" />
<path d="M269 870.3L267.7 867.9" stroke="#000" stroke-width="1" fill="none" />
<polygon points="266,875 264.3,873.1 269,870.3 270.8,872.2" fill="#fff" stroke="#fff" stroke-width="0.5" />
<path d="M270.8 872.2L269 870.3" stroke="#000" stroke-width="1" fill="none" />
<polygon points="263,870.7 262.3,867.4 267,864.7 267.7,867.9" fill="#fff" stroke="#fff" stroke-width="0.5" />
<path d="M267.7 867.9L267 864.7" stroke="#000" stroke-width="1" fill="none" />
<polygon points="253,848.9 249.9,850.2 254.7,847.5 257.8,846.1" fill="#fff" stroke="#fff" stroke-width="0.5" />
<path d="M257.8 846.1L254.7 847.5" stroke="#000" stroke-width="1" fill="none" />
<polygon points="279.3,899.5 279.7,896.7 284.5,894 284.1,896.7" fill="#fff" stroke="#fff" stroke-width="0.5" />
<path d="M284.1 896.7L284.5 894" stroke="#000" stroke-width="1" fill="none" />
<polygon points="287.1,909.4 283.6,906.7 288.4,904 291.8,906.6" fill="#fff" stroke="#fff" stroke-width="0.5" />
<path d="M291.8 906.6L288.4 904" stroke="#000" stroke-width="1" fill="none" />
<polygon points="268.6,876.3 266,875 270.8,872.2 273.4,873.6" fill="#fff" stroke="#fff" stroke-width="0.5" />
<path d="M273.4 873.6L270.8 872.2" stroke="#000" stroke-width="1" fill="none" />
<polygon points="294.2,924.7 297.2,922.9 302,920.1 299,921.9" fill="#fff" stroke="#fff" stroke-width="0.5" />
<path d="M299 921.9L302 920.1" stroke="#000" stroke-width="1" fill="none" />
<polygon points="262.3,867.4 262,863.3 266.8,860.6 267,864.7" fill="#fff" stroke="#fff" stroke-width="0.5" />
<path d="M267 864.7L266.8 860.6" stroke="#000" stroke-width="1" fill="none" />
<polygon points="291.1,912.3 287.1,909.4 291.8,906.6 295.9,909.6" fill="#fff" stroke="#fff" stroke-width="0.5" />
<path d="M295.9 909.6L291.8 906.6" stroke="#000" stroke-width="1" fill="none" />
<polygon points="279.7,896.7 280.9,893.7 285.6,890.9 284.5,894" fill="#fff" stroke="#fff" stroke-width="0.5" />
<path d="M284.5 894L285.6 890.9" stroke="#000" stroke-width="1" fill="none" />
<polygon points="271.9,877.2 268.6,876.3 273.4,873.6 276.7,874.5" fill="#fff" stroke="#fff" stroke-width="0.5" />
<path d="M276.7 874.5L273.4 873.6" stroke="#000" stroke-width="1" fill="none" />
<polygon points="262,863.3 261.9,858.5 266.6,855.7 266.8,860.6" fill="#fff" stroke="#fff" stroke-width="0.5" />
<path d="M266.8 860.6L266.6 855.7" stroke="#000" stroke-width="1" fill="none" />
<polygon points="256.4,847.7 253,848.9 257.8,846.1 261.1,844.9" fill="#fff" stroke="#fff" stroke-width="0.5" />
<path d="M261.1 844.9L257.8 846.1" stroke="#000" stroke-width="1" fill="none" />
<polygon points="297.2,922.9 297.7,921.6 302.5,918.8 302,920.1" fill="#fff" stroke="#fff" stroke-width="0.5" />
<path d="M302 920.1L302.5 918.8" stroke="#000" stroke-width="1" fill="none" />
<path d="M297.7 921.6L302.5 918.8" stroke="#000" stroke-width="0.9" fill="none" />
<polygon points="295.4,915.6 291.1,912.3 295.9,909.6 300.2,912.8" fill="#fff" stroke="#fff" stroke-width="0.5" />
<path d="M300.2 912.8L295.9 909.6" stroke="#000" stroke-width="1" fill="none" />
<polygon points="297.7,921.6 296.6,917.2 301.4,914.4 302.5,918.8" fill="#fff" stroke="#fff" stroke-width="0.5" />
<path d="M302.5 918.8L301.4 914.4" stroke="#000" stroke-width="1" fill="none" />
<path d="M297.7 921.6L302.5 918.8" stroke="#000" stroke-width="0.9" fill="none" />
<path d="M296.6 917.2L301.4 914.4" stroke="#000" stroke-width="0.9" fill="none" />
<polygon points="280.9,893.7 282.4,890.2 287.2,887.4 285.6,890.9" fill="#fff" stroke="#fff" stroke-width="0.5" />
<path d="M285.6 890.9L287.2 887.4" stroke="#000" stroke-width="1" fill="none" />
<polygon points="296.6,917.2 295.4,915.6 300.2,912.8 301.4,914.4" fill="#fff" stroke="#fff" stroke-width="0.5" />
<path d="M301.4 914.4L300.2 912.8" stroke="#000" stroke-width="1" fill="none" />
<path d="M296.6 917.2L301.4 914.4" stroke="#000" stroke-width="0.9" fill="none" />
<polygon points="275.9,878.1 271.9,877.2 276.7,874.5 280.6,875.4" fill="#fff" stroke="#fff" stroke-width="0.5" />
<path d="M280.6 875.4L276.7 874.5" stroke="#000" stroke-width="1" fill="none" />
<polygon points="257.8,848 256.4,847.7 261.1,844.9 262.5,845.3" fill="#fff" stroke="#fff" stroke-width="0.5" />
<path d="M262.5 845.3L261.1 844.9" stroke="#000" stroke-width="1" fill="none" />
<path d="M257.8 848L262.5 845.3" stroke="#000" stroke-width="0.9" fill="none" />
<polygon points="261.9,858.5 261.6,853.3 266.4,850.6 266.6,855.7" fill="#fff" stroke="#fff" stroke-width="0.5" />
<path d="M266.6 855.7L266.4 850.6" stroke="#000" stroke-width="1" fill="none" />
<polygon points="260.9,851.5 257.8,848 262.5,845.3 265.7,848.7" fill="#fff" stroke="#fff" stroke-width="0.5" />
<path d="M265.7 848.7L262.5 845.3" stroke="#000" stroke-width="1" fill="none" />
<path d="M260.9 851.5L265.7 848.7" stroke="#000" stroke-width="0.9" fill="none" />
<path d="M257.8 848L262.5 845.3" stroke="#000" stroke-width="0.9" fill="none" />
<polygon points="261.6,853.3 260.9,851.5 265.7,848.7 266.4,850.6" fill="#fff" stroke="#fff" stroke-width="0.5" />
<path d="M266.4 850.6L265.7 848.7" stroke="#000" stroke-width="1" fill="none" />
<path d="M260.9 851.5L265.7 848.7" stroke="#000" stroke-width="0.9" fill="none" />
<polygon points="282.4,890.2 283.9,886.3 288.7,883.6 287.2,887.4" fill="#fff" stroke="#fff" stroke-width="0.5" />
<path d="M287.2 887.4L288.7 883.6" stroke="#000" stroke-width="1" fill="none" />
<polygon points="280.1,879.2 275.9,878.1 280.6,875.4 284.8,876.5" fill="#fff" stroke="#fff" stroke-width="0.5" />
<path d="M284.8 876.5L280.6 875.4" stroke="#000" stroke-width="1" fill="none" />
<polygon points="283.9,886.3 283.8,884.6 288.6,881.9 288.7,883.6" fill="#fff" stroke="#fff" stroke-width="0.5" />
<path d="M288.7 883.6L288.6 881.9" stroke="#000" stroke-width="1" fill="none" />
<path d="M283.8 884.6L288.6 881.9" stroke="#000" stroke-width="0.9" fill="none" />
<polygon points="281.5,880.3 280.1,879.2 284.8,876.5 286.3,877.6" fill="#fff" stroke="#fff" stroke-width="0.5" />
<path d="M286.3 877.6L284.8 876.5" stroke="#000" stroke-width="1" fill="none" />
<path d="M281.5 880.3L286.3 877.6" stroke="#000" stroke-width="0.9" fill="none" />
<polygon points="283.8,884.6 281.5,880.3 286.3,877.6 288.6,881.9" fill="#fff" stroke="#fff" stroke-width="0.5" />
<path d="M288.6 881.9L286.3 877.6" stroke="#000" stroke-width="1" fill="none" />
<path d="M283.8 884.6L288.6 881.9" stroke="#000" stroke-width="0.9" fill="none" />
<path d="M281.5 880.3L286.3 877.6" stroke="#000" stroke-width="0.9" fill="none" />
<polygon points="285.1,957 286,955.6 288.1,955.2 291.3,955.5 295.2,956.1 299.2,956.6 300.2,956 300.6,952.2 299.8,950.4 296.1,945.5 292.6,941.1 289.7,937.2 287.9,934.1 287.3,931.6 287.5,929.5 288.9,927.8 291.2,926.3 294.2,924.7 297.2,922.9 297.7,921.6 296.6,917.2 295.4,915.6 291.1,912.3 287.1,909.4 283.6,906.7 281.3,904.3 280,901.9 279.3,899.5 279.7,896.7 280.9,893.7 282.4,890.2 283.9,886.3 283.8,884.6 281.5,880.3 280.1,879.2 275.9,878.1 271.9,877.2 268.6,876.3 266,875 264.3,873.1 263,870.7 262.3,867.4 262,863.3 261.9,858.5 261.6,853.3 260.9,851.5 257.8,848 256.4,847.7 253,848.9 249.9,850.2 247.2,851.1 244.9,851.2 243,850.1 241.2,848.2 239.6,844.9 237.9,840.5 236.1,835.2 234.1,829.6 233,827.9 229.5,825.9 228.4,826.3 226.5,829.7 224.7,833 223.1,835.6 221.5,837 219.8,836.9 217.8,835.8 215.5,833.1 212.8,829.1 209.7,824.3 206.2,819.2 204.9,818 201.7,817.8 201.1,818.9 200.8,823.8 200.8,828.5 200.6,832.4 199.9,834.8 198.6,835.8 196.9,835.7 194.3,834.1 190.9,831.2 187,827.6 182.8,823.9 181.4,823.4 179.1,825.1 179,826.7 180.6,832.3 182.2,837.6 183.4,842 183.8,845.1 183.2,846.9 181.9,847.9 179.6,847.6 176.2,846.3 172.1,844.6 167.8,843 166.6,843.3 165.6,846.5 166.1,848.3 169.2,853.6 172.2,858.6 174.6,862.8 176,866.1 176.2,868.5 175.6,870.2 173.8,871.3 171,871.9 167.5,872.4 163.9,873.1 163.1,874.1 163.5,878.3 164.5,880 168.6,884.2 172.5,888 175.7,891.3 177.8,894.1 178.8,896.6 179,899 178.1,901.2 176.3,903.6 174,906.2 171.7,909.1 171.5,910.6 173.3,915.1 174.6,916.4 178.9,918.6 183,920.6 186.5,922.4 189,924.3 190.6,926.5 191.6,929 191.7,932.1 191.3,935.8 190.5,940 189.9,944.6 190.3,946.4 193.1,950.4 194.6,951.1 198.4,951.1 202,950.8 205.1,950.8 207.6,951.5 209.5,953 211,955.2 212.2,958.5 213.2,962.9 214.2,968.1 215.4,973.6 216.3,975.4 219.7,978.2 221,978.2 223.7,975.8 226.2,973.5 228.4,971.7 230.4,970.9 232.2,971.6 234.1,973.1 236.1,976.1 238.4,980.4 240.9,985.6 243.7,991.1 245,992.5 248.3,993.6 249.2,992.9 250.4,988.7 251.3,984.6 252.2,981.3 253.4,979.3 254.9,978.9 256.8,979.5 259.3,981.6 262.4,985.1 266,989.5 269.9,994 271.3,994.8 274.1,994.1 274.5,992.7 273.8,987.3 273,982.2 272.5,978 272.6,975.1 273.6,973.7 275.1,973.3 277.7,974.2 281.1,976.3 285.2,979.1 289.6,981.8 290.9,981.9 292.6,979.4 292.4,977.7 290,972.1 287.6,966.8 285.8,962.4 284.9,959.1" fill="#fff" stroke="#000" stroke-width="1.1" />
<path d="M270.3 973.5A77 44.5 60 0 0 270.3 884.6A77 44.5 60 0 0 193.3 840.1L185.5 844.6A77 44.5 60 0 0 185.5 933.5A77 44.5 60 0 0 262.5 978Z" fill="#fff" stroke="#000" stroke-width="1.1" />
<ellipse cx="224" cy="911.3" rx="77" ry="44.5" transform="rotate(60 224 911.3)" fill="#fff" stroke="#000" stroke-width="1.1" />
<ellipse cx="224" cy="911.3" rx="75" ry="43.3" transform="rotate(60 224 911.3)" fill="none" stroke="#000" stroke-width="0.8" />
<ellipse cx="224" cy="911.3" rx="59.5" ry="34.4" transform="rotate(60 224 911.3)" fill="none" stroke="#000" stroke-width="1.1" />
<clipPath id="c33"><ellipse cx="224" cy="911.3" rx="59.5" ry="34.4" transform="rotate(60 224 911.3)"/></clipPath>
<g clip-path="url(#c33)">
<ellipse cx="225.7" cy="910.3" rx="58" ry="33.5" transform="rotate(60 225.7 910.3)" fill="none" stroke="#000" stroke-width="0.9" />
</g>
<ellipse cx="225.7" cy="910.3" rx="46" ry="26.6" transform="rotate(60 225.7 910.3)" fill="none" stroke="#000" stroke-width="1.1" />
<path d="M243.7 941.5A36 20.8 60 0 0 243.7 899.9A36 20.8 60 0 0 207.7 879.1L205.1 880.6A36 20.8 60 0 0 205.1 922.2A36 20.8 60 0 0 241.1 943Z" fill="#fff" stroke="#000" stroke-width="1.1" />
<ellipse cx="223.1" cy="911.8" rx="36" ry="20.8" transform="rotate(60 223.1 911.8)" fill="#fff" stroke="#000" stroke-width="1.1" />
<ellipse cx="223.1" cy="911.8" rx="25.8" ry="14.9" transform="rotate(60 223.1 911.8)" fill="#fff" stroke="#000" stroke-width="1.1" />
<clipPath id="c34"><ellipse cx="223.1" cy="911.8" rx="25.8" ry="14.9" transform="rotate(60 223.1 911.8)"/></clipPath>
<g clip-path="url(#c34)">
<path d="M236 934.1L249.9 926.1" stroke="#000" stroke-width="0.9" fill="none" />
<path d="M238.4 932.2L252.2 924.2" stroke="#000" stroke-width="0.9" fill="none" />
<path d="M236.4 928.5L250.3 920.5" stroke="#000" stroke-width="0.9" fill="none" />
<path d="M213.7 888.3L227.6 880.3" stroke="#000" stroke-width="0.9" fill="none" />
<path d="M210.7 889.2L224.6 881.2" stroke="#000" stroke-width="0.9" fill="none" />
<path d="M212.1 893L226 885" stroke="#000" stroke-width="0.9" fill="none" />
<path d="M210.3 894.5L224.2 886.5" stroke="#000" stroke-width="0.9" fill="none" />
<path d="M207.5 891.9L221.4 883.9" stroke="#000" stroke-width="0.9" fill="none" />
<path d="M205.9 894.8L219.8 886.8" stroke="#000" stroke-width="0.9" fill="none" />
<path d="M208.4 898.1L222.2 890.1" stroke="#000" stroke-width="0.9" fill="none" />
<path d="M207.8 901L221.7 893" stroke="#000" stroke-width="0.9" fill="none" />
<path d="M204.9 900L218.8 892" stroke="#000" stroke-width="0.9" fill="none" />
<path d="M205.1 904.4L218.9 896.4" stroke="#000" stroke-width="0.9" fill="none" />
<path d="M208 906.4L221.9 898.4" stroke="#000" stroke-width="0.9" fill="none" />
<path d="M208.8 910L222.7 902" stroke="#000" stroke-width="0.9" fill="none" />
<path d="M206.5 910.8L220.4 902.8" stroke="#000" stroke-width="0.9" fill="none" />
<path d="M208.4 915.6L222.2 907.6" stroke="#000" stroke-width="0.9" fill="none" />
<path d="M211.1 916L225 908" stroke="#000" stroke-width="0.9" fill="none" />
<path d="M213.1 919.4L226.9 911.4" stroke="#000" stroke-width="0.9" fill="none" />
<path d="M211.9 921.9L225.7 913.9" stroke="#000" stroke-width="0.9" fill="none" />
<path d="M215 926L228.9 918" stroke="#000" stroke-width="0.9" fill="none" />
<path d="M216.9 924.5L230.8 916.5" stroke="#000" stroke-width="0.9" fill="none" />
<path d="M219.6 927.1L233.5 919.1" stroke="#000" stroke-width="0.9" fill="none" />
<path d="M219.9 930.6L233.7 922.6" stroke="#000" stroke-width="0.9" fill="none" />
<path d="M223.5 933.1L237.4 925.1" stroke="#000" stroke-width="0.9" fill="none" />
<path d="M224.2 930.2L238.1 922.2" stroke="#000" stroke-width="0.9" fill="none" />
<path d="M227 931.3L240.9 923.3" stroke="#000" stroke-width="0.9" fill="none" />
<path d="M228.6 935L242.4 927" stroke="#000" stroke-width="0.9" fill="none" />
<path d="M232 935.3L245.8 927.3" stroke="#000" stroke-width="0.9" fill="none" />
<path d="M231.2 931.6L245.1 923.6" stroke="#000" stroke-width="0.9" fill="none" />
<path d="M233.5 931L247.4 923" stroke="#000" stroke-width="0.9" fill="none" />
<polygon points="249.9,926.1 252.2,924.2 250.3,920.5 251.5,918.3 254.4,920.1 255.2,916.4 252.4,913.6 252.3,910.3 254.9,910.4 253.9,905.7 251,904.4 249.6,900.8 251.4,899.1 248.8,894.5 246.4,895.1 244,892 244.5,888.9 241,885.5 239.6,887.8 236.8,885.9 235.9,882.1 232.2,880.7 232.3,884.1 229.7,883.9 227.6,880.3 224.6,881.2 226,885 224.2,886.5 221.4,883.9 219.8,886.8 222.2,890.1 221.7,893 218.8,892 218.9,896.4 221.9,898.4 222.7,902 220.4,902.8 222.2,907.6 225,908 226.9,911.4 225.7,913.9 228.9,918 230.8,916.5 233.5,919.1 233.7,922.6 237.4,925.1 238.1,922.2 240.9,923.3 242.4,927 245.8,927.3 245.1,923.6 247.4,923" fill="none" stroke="#000" stroke-width="0.8" />
<polygon points="236,934.1 238.4,932.2 236.4,928.5 237.6,926.3 240.6,928.1 241.3,924.4 238.5,921.6 238.4,918.3 241.1,918.4 240.1,913.7 237.1,912.4 235.7,908.8 237.5,907.1 234.9,902.5 232.5,903.1 230.1,900 230.6,896.9 227.1,893.5 225.8,895.8 223,893.9 222,890.1 218.4,888.7 218.4,892.1 215.8,891.9 213.7,888.3 210.7,889.2 212.1,893 210.3,894.5 207.5,891.9 205.9,894.8 208.4,898.1 207.8,901 204.9,900 205.1,904.4 208,906.4 208.8,910 206.5,910.8 208.4,915.6 211.1,916 213.1,919.4 211.9,921.9 215,926 216.9,924.5 219.6,927.1 219.9,930.6 223.5,933.1 224.2,930.2 227,931.3 228.6,935 232,935.3 231.2,931.6 233.5,931" fill="none" stroke="#000" stroke-width="1" />
</g>
<path d="M169.3 997.8A48.3 27.9 60 0 0 169.3 942.1A48.3 27.9 60 0 0 121 914.2L119.3 915.2A48.3 27.9 60 0 0 119.3 970.9A48.3 27.9 60 0 0 167.6 998.8Z" fill="#fff" stroke="#000" stroke-width="1.1" />
<ellipse cx="143.4" cy="957" rx="48.3" ry="27.9" transform="rotate(60 143.4 957)" fill="#fff" stroke="#000" stroke-width="1.1" />
<ellipse cx="147.3" cy="954.8" rx="39" ry="22.5" transform="rotate(60 147.3 954.8)" fill="#fff" stroke="#000" stroke-width="1.1" />
<polygon points="165.2,978.8 165.4,977.3 164.8,975 164.1,972.7 163.9,971.2 164.8,970.7 166.4,970.8 168,970.6 168.7,969.6 168.2,967.8 166.9,965.6 165.5,963.6 164.8,962 165.2,960.9 166.2,959.9 167.2,958.6 167.2,957 166.2,955.3 164.5,953.8 162.7,952.4 161.7,951.1 161.4,949.6 161.7,947.8 161.8,945.7 161.2,943.9 159.9,942.7 158.1,942.1 156.4,941.8 155.2,941.1 154.5,939.5 153.9,937.3 153.1,934.9 152,933.3 150.7,932.8 149.3,933.4 148.1,934.1 147,934.1 145.9,932.9 144.6,930.8 143.1,928.7 141.8,927.6 140.7,928 140,929.5 139.5,931.2 138.8,931.9 137.6,931.3 135.9,929.8 134.1,928.4 132.7,928.1 132.2,929.3 132.4,931.5 132.7,933.7 132.6,935 131.5,935.1 129.8,934.5 128,934.1 127.1,934.7 127.2,936.4 128.2,938.7 129.3,941 129.7,942.5 129.1,943.4 127.7,943.9 126.4,944.6 126,945.9 126.8,947.7 128.4,949.6 130,951.4 130.9,952.9 130.8,954.2 130.1,955.7 129.6,957.4 129.8,959.2 131.1,960.6 132.9,961.7 134.6,962.6 135.8,963.7 136.3,965.2 136.5,967.4 136.8,969.6 137.7,971.4 139.1,972.2 140.7,972.2 142.2,972 143.4,972.4 144.3,973.8 145.3,976.1 146.4,978.4 147.7,979.8 149,979.8 150,978.7 150.9,977.5 151.8,977.1 153,978.1 154.6,980 156.2,981.8 157.6,982.5 158.5,981.6 158.7,979.7 158.8,977.7 159.3,976.7 160.4,976.9 162.2,978 164,979" fill="#fff" stroke="#000" stroke-width="1" />
<clipPath id="c35"><polygon points="165.2,978.8 165.4,977.3 164.8,975 164.1,972.7 163.9,971.2 164.8,970.7 166.4,970.8 168,970.6 168.7,969.6 168.2,967.8 166.9,965.6 165.5,963.6 164.8,962 165.2,960.9 166.2,959.9 167.2,958.6 167.2,957 166.2,955.3 164.5,953.8 162.7,952.4 161.7,951.1 161.4,949.6 161.7,947.8 161.8,945.7 161.2,943.9 159.9,942.7 158.1,942.1 156.4,941.8 155.2,941.1 154.5,939.5 153.9,937.3 153.1,934.9 152,933.3 150.7,932.8 149.3,933.4 148.1,934.1 147,934.1 145.9,932.9 144.6,930.8 143.1,928.7 141.8,927.6 140.7,928 140,929.5 139.5,931.2 138.8,931.9 137.6,931.3 135.9,929.8 134.1,928.4 132.7,928.1 132.2,929.3 132.4,931.5 132.7,933.7 132.6,935 131.5,935.1 129.8,934.5 128,934.1 127.1,934.7 127.2,936.4 128.2,938.7 129.3,941 129.7,942.5 129.1,943.4 127.7,943.9 126.4,944.6 126,945.9 126.8,947.7 128.4,949.6 130,951.4 130.9,952.9 130.8,954.2 130.1,955.7 129.6,957.4 129.8,959.2 131.1,960.6 132.9,961.7 134.6,962.6 135.8,963.7 136.3,965.2 136.5,967.4 136.8,969.6 137.7,971.4 139.1,972.2 140.7,972.2 142.2,972 143.4,972.4 144.3,973.8 145.3,976.1 146.4,978.4 147.7,979.8 149,979.8 150,978.7 150.9,977.5 151.8,977.1 153,978.1 154.6,980 156.2,981.8 157.6,982.5 158.5,981.6 158.7,979.7 158.8,977.7 159.3,976.7 160.4,976.9 162.2,978 164,979"/></clipPath>
<polygon points="166.8,977.9 167,976.4 166.4,974.1 165.6,971.8 165.5,970.3 166.4,969.8 168,969.9 169.5,969.7 170.2,968.7 169.8,966.9 168.4,964.7 167,962.7 166.4,961.1 166.7,960 167.8,959 168.7,957.7 168.8,956.1 167.8,954.4 166,952.9 164.3,951.5 163.2,950.2 163,948.7 163.3,946.9 163.4,944.8 162.8,943 161.5,941.8 159.7,941.2 158,940.9 156.8,940.2 156,938.6 155.5,936.4 154.7,934 153.6,932.4 152.2,931.9 150.9,932.5 149.6,933.2 148.5,933.2 147.4,932 146.1,929.9 144.7,927.8 143.3,926.7 142.3,927.1 141.6,928.6 141.1,930.3 140.3,931 139.1,930.4 137.4,928.9 135.6,927.5 134.3,927.2 133.8,928.4 134,930.6 134.3,932.8 134.1,934.1 133.1,934.2 131.3,933.6 129.6,933.2 128.6,933.8 128.8,935.5 129.8,937.8 130.9,940.1 131.3,941.6 130.6,942.5 129.3,943 128,943.7 127.6,945 128.3,946.8 129.9,948.7 131.5,950.5 132.4,952 132.4,953.3 131.7,954.8 131.1,956.5 131.4,958.3 132.6,959.7 134.4,960.8 136.2,961.7 137.4,962.8 137.9,964.3 138,966.5 138.4,968.7 139.2,970.5 140.6,971.3 142.3,971.3 143.8,971.1 144.9,971.5 145.9,972.9 146.9,975.2 148,977.5 149.3,978.9 150.5,978.9 151.6,977.8 152.5,976.6 153.4,976.2 154.6,977.2 156.1,979.1 157.8,980.9 159.2,981.6 160,980.7 160.3,978.8 160.4,976.8 160.8,975.8 162,976 163.8,977.1 165.6,978.1" fill="none" stroke="#000" stroke-width="0.8" clip-path="url(#c35)"/>
<polygon points="105.6,1023.6 101.8,985.7 73.1,955.2 48.3,962.4 52.1,1000.3 80.7,1030.8" fill="#fff" stroke="#000" stroke-width="1.1" />
<polygon points="66.2,959.2 41.4,966.4 48.3,962.4 73.1,955.2" fill="#fff" stroke="#000" stroke-width="1" />
<polygon points="98.6,1027.6 94.8,989.7 101.8,985.7 105.6,1023.6" fill="#fff" stroke="#000" stroke-width="1" />
<polygon points="94.8,989.7 66.2,959.2 73.1,955.2 101.8,985.7" fill="#fff" stroke="#000" stroke-width="1" />
<polygon points="98.6,1027.6 94.8,989.7 66.2,959.2 41.4,966.4 45.1,1004.3 73.8,1034.8" fill="#fff" stroke="#000" stroke-width="1.1" />
<ellipse cx="70" cy="997" rx="40" ry="23.1" transform="rotate(60 70 997)" fill="none" stroke="#000" stroke-width="0.9" />
<polygon points="95.6,1019.7 88.7,986.2 63.1,963.5 44.4,974.3 51.2,1007.8 76.9,1030.5" fill="#fff" stroke="#000" stroke-width="1.1" />
<polygon points="82.6,1027.2 75.7,993.7 88.7,986.2 95.6,1019.7" fill="#fff" stroke="#000" stroke-width="1" />
<polygon points="75.7,993.7 50.1,971 63.1,963.5 88.7,986.2" fill="#fff" stroke="#000" stroke-width="1" />
<polygon points="82.6,1027.2 75.7,993.7 50.1,971 31.4,981.8 38.3,1015.3 63.9,1038" fill="#fff" stroke="#000" stroke-width="1.1" />
<ellipse cx="57" cy="1004.5" rx="32.5" ry="18.8" transform="rotate(60 57 1004.5)" fill="none" stroke="#000" stroke-width="0.9" />
<ellipse cx="57" cy="1004.5" rx="24.5" ry="14.1" transform="rotate(60 57 1004.5)" fill="#fff" stroke="#000" stroke-width="1.1" />
<clipPath id="c36"><ellipse cx="57" cy="1004.5" rx="24.5" ry="14.1" transform="rotate(60 57 1004.5)"/></clipPath>
<g clip-path="url(#c36)">
<ellipse cx="59.6" cy="1003" rx="23" ry="13.3" transform="rotate(60 59.6 1003)" fill="none" stroke="#000" stroke-width="0.9" />
<ellipse cx="62.6" cy="1001.2" rx="23" ry="13.3" transform="rotate(60 62.6 1001.2)" fill="none" stroke="#000" stroke-width="0.9" />
<ellipse cx="65.7" cy="999.5" rx="23" ry="13.3" transform="rotate(60 65.7 999.5)" fill="none" stroke="#000" stroke-width="0.9" />
<ellipse cx="68.7" cy="997.8" rx="23" ry="13.3" transform="rotate(60 68.7 997.8)" fill="none" stroke="#000" stroke-width="0.9" />
<ellipse cx="71.7" cy="996" rx="23" ry="13.3" transform="rotate(60 71.7 996)" fill="none" stroke="#000" stroke-width="0.9" />
<ellipse cx="76.1" cy="993.5" rx="17" ry="9.8" transform="rotate(60 76.1 993.5)" fill="#fff" stroke="#000" stroke-width="0.9" />
</g>
<polygon points="942.9,772.3 941.8,766.2 938.6,764.5 936.7,764.7 935.6,766 934,766.4 930.1,766.5 926.6,767.6 923.5,769.5 921,772.2 919,775.7 917.7,779.8 917.1,784.5 917.1,789.7 917.9,795.1 919.3,800.8 921.3,806.5 923.9,812.1 927.1,817.5 930.7,822.6 934.6,827.2 938.8,831.2 943.2,834.6 947.6,837.1 952,838.9 956.2,839.8 960.2,839.8 963.8,838.9 966.9,837.2 969.6,834.6 971.7,831.3 973.1,827.2 973.9,822.7 973.9,817.6 973.3,812.2 972.1,806.5 970.2,800.8 967.6,795.2 964.6,789.7 961.1,784.5 957.2,779.8 953,775.7 951.3,773.7 950,771.2 947.9,769.1 944.7,767.6 944.4,773.1 948.1,775.4 951.9,778.4 955.4,781.9 958.8,786 961.8,790.4 964.4,795 966.5,799.9 968.2,804.8 969.3,809.6 969.8,814.2 969.7,818.6 969,822.5 967.8,825.9 966,828.8 963.8,831 961.1,832.5 958,833.2 954.6,833.2 951,832.5 947.2,831 943.4,828.8 939.7,825.9 936.1,822.5 932.7,818.5 929.6,814.2 926.9,809.6 924.7,804.7 923,799.8 921.8,795 921.1,790.3 921.1,785.9 921.6,781.9 922.7,778.4 924.4,775.4 926.6,773.1 929.2,771.4 932.2,770.5 935.6,770.4 939.1,771" fill="#fff" stroke="#000" stroke-width="1.1" />
<path d="M927 773.2A34.5 19.9 60 0 0 961 832.1" fill="none" stroke="#000" stroke-width="0.8" />
<path d="M961.3 838.9A40.3 23.3 60 0 0 954.4 774.7" fill="none" stroke="#000" stroke-width="0.8" />
<circle cx="939.8" cy="768.6" r="1.5" fill="#fff" stroke="#000" stroke-width="0.8"/>
<circle cx="947.2" cy="772.2" r="1.5" fill="#fff" stroke="#000" stroke-width="0.8"/>
<path d="M913.9 878.3A48.5 28 60 0 0 913.9 822.3A48.5 28 60 0 0 865.4 794.3L863.6 795.3A48.5 28 60 0 0 863.7 851.3A48.5 28 60 0 0 912.1 879.3Z" fill="#fff" stroke="#000" stroke-width="1.1" />
<ellipse cx="887.9" cy="837.3" rx="48.5" ry="28" transform="rotate(60 887.9 837.3)" fill="#fff" stroke="#000" stroke-width="1.1" />
<clipPath id="c37"><polygon points="905.4,867.6 907,866.5 905.7,863 907.2,861.2 910,863 910.9,861.1 909,857.8 909.7,855.1 912.3,855.9 912.6,853.4 910.2,850.6 910,847.3 912.3,846.9 911.9,844 909.2,842 908.2,838.4 910,837.1 908.8,834.1 906.1,833 904.4,829.5 905.4,827.2 903.7,824.4 901.3,824.5 898.9,821.3 899.1,818.3 897,816 895.1,817.1 892.4,814.7 891.8,811.3 889.5,809.7 888.2,811.8 885.5,810.3 884,806.8 881.7,806.1 881.4,808.9 878.7,808.6 876.7,805.4 874.6,805.5 875.1,808.9 872.9,809.6 870.4,807 868.8,808.1 870.1,811.6 868.6,813.4 865.8,811.6 864.9,813.5 866.8,816.8 866.1,819.5 863.5,818.7 863.2,821.2 865.6,824 865.8,827.3 863.5,827.7 863.9,830.6 866.6,832.6 867.6,836.2 865.8,837.5 867,840.5 869.7,841.6 871.4,845.1 870.4,847.4 872.1,850.2 874.5,850.1 876.9,853.3 876.7,856.3 878.8,858.6 880.7,857.5 883.4,859.9 884,863.3 886.3,864.9 887.6,862.8 890.3,864.3 891.8,867.8 894.1,868.5 894.4,865.7 897.1,866 899.1,869.2 901.2,869.1 900.7,865.7 902.9,865"/></clipPath>
<polygon points="905.4,867.6 907,866.5 905.7,863 907.2,861.2 910,863 910.9,861.1 909,857.8 909.7,855.1 912.3,855.9 912.6,853.4 910.2,850.6 910,847.3 912.3,846.9 911.9,844 909.2,842 908.2,838.4 910,837.1 908.8,834.1 906.1,833 904.4,829.5 905.4,827.2 903.7,824.4 901.3,824.5 898.9,821.3 899.1,818.3 897,816 895.1,817.1 892.4,814.7 891.8,811.3 889.5,809.7 888.2,811.8 885.5,810.3 884,806.8 881.7,806.1 881.4,808.9 878.7,808.6 876.7,805.4 874.6,805.5 875.1,808.9 872.9,809.6 870.4,807 868.8,808.1 870.1,811.6 868.6,813.4 865.8,811.6 864.9,813.5 866.8,816.8 866.1,819.5 863.5,818.7 863.2,821.2 865.6,824 865.8,827.3 863.5,827.7 863.9,830.6 866.6,832.6 867.6,836.2 865.8,837.5 867,840.5 869.7,841.6 871.4,845.1 870.4,847.4 872.1,850.2 874.5,850.1 876.9,853.3 876.7,856.3 878.8,858.6 880.7,857.5 883.4,859.9 884,863.3 886.3,864.9 887.6,862.8 890.3,864.3 891.8,867.8 894.1,868.5 894.4,865.7 897.1,866 899.1,869.2 901.2,869.1 900.7,865.7 902.9,865" fill="#fff" stroke="#000" stroke-width="1.1" />
<polygon points="907.1,866.6 908.7,865.5 907.4,862 909,860.2 911.7,862 912.6,860.1 910.7,856.8 911.4,854.1 914.1,854.9 914.3,852.4 911.9,849.6 911.8,846.3 914.1,845.9 913.6,843 910.9,841 909.9,837.4 911.7,836.1 910.5,833.1 907.9,832 906.1,828.5 907.1,826.2 905.4,823.4 903,823.5 900.7,820.3 900.9,817.3 898.7,815 896.8,816.1 894.1,813.7 893.5,810.3 891.2,808.7 890,810.8 887.2,809.3 885.8,805.8 883.5,805.1 883.1,807.9 880.5,807.6 878.4,804.4 876.4,804.5 876.8,807.9 874.6,808.6 872.1,806 870.6,807.1 871.8,810.6 870.3,812.4 867.6,810.6 866.6,812.5 868.6,815.8 867.8,818.5 865.2,817.7 864.9,820.2 867.4,823 867.5,826.3 865.2,826.7 865.7,829.6 868.3,831.6 869.3,835.2 867.6,836.5 868.7,839.5 871.4,840.6 873.2,844.1 872.1,846.4 873.9,849.2 876.3,849.1 878.6,852.3 878.4,855.3 880.5,857.6 882.4,856.5 885.1,858.9 885.8,862.3 888.1,863.9 889.3,861.8 892.1,863.3 893.5,866.8 895.8,867.5 896.2,864.7 898.8,865 900.9,868.2 902.9,868.1 902.4,864.7 904.6,864" fill="none" stroke="#000" stroke-width="0.8" clip-path="url(#c37)"/>
<path d="M851.2 906A40.7 23.5 60 0 0 851.2 859.1A40.7 23.5 60 0 0 810.5 835.6L792.6 845.9A40.7 23.5 60 0 0 792.7 892.8A40.7 23.5 60 0 0 833.4 916.3Z" fill="#fff" stroke="#000" stroke-width="1.1" />
<ellipse cx="813" cy="881.1" rx="40.7" ry="23.5" transform="rotate(60 813 881.1)" fill="#fff" stroke="#000" stroke-width="1.1" />
<ellipse cx="813" cy="881.1" rx="35.8" ry="20.7" transform="rotate(60 813 881.1)" fill="#fff" stroke="#000" stroke-width="1.1" />
<clipPath id="c38"><ellipse cx="813" cy="881.1" rx="35.8" ry="20.7" transform="rotate(60 813 881.1)"/></clipPath>
<g clip-path="url(#c38)">
<ellipse cx="830.8" cy="870.8" rx="35.8" ry="20.7" transform="rotate(60 830.8 870.8)" fill="none" stroke="#000" stroke-width="0.9" />
</g>
<ellipse cx="823" cy="906.1" rx="2.2" ry="1.5" transform="rotate(-10 823 906.1)" fill="#fff" stroke="#000" stroke-width="1.2"/>
<ellipse cx="821.3" cy="844.3" rx="2.2" ry="1.5" transform="rotate(-10 821.3 844.3)" fill="#fff" stroke="#000" stroke-width="1.3"/>
<polygon points="772.4,998.8 773.8,998 780.9,1005.4 783.2,1003.4 778.9,993.7 780,992.4 787.5,998.6 789.3,995.9 783.9,986.5 784.7,984.9 792.4,989.7 793.6,986.3 787.4,977.6 787.8,975.6 795.4,978.9 796,975 789.1,967.2 789.2,965 796.5,966.5 796.5,962.2 789.1,955.6 788.9,953.2 795.7,953 795,948.4 787.4,943.2 786.8,940.6 792.9,938.8 791.5,934 783.9,930.3 783,927.7 788.2,924.2 786.3,919.4 778.9,917.3 777.7,914.8 781.8,909.7 779.4,905.1 772.4,904.7 771,902.3 773.9,895.8 771,891.4 764.7,892.8 763.1,890.6 764.8,882.9 761.5,878.9 756,882 754.2,880 754.6,871.4 751,867.9 746.6,872.6 744.7,870.9 743.7,861.6 740,858.8 736.7,864.9 734.7,863.5 732.4,853.8 728.7,851.7 726.7,859.1 724.7,858.1 721.2,848.3 717.5,847 716.8,855.4 714.8,854.9 710.2,845.2 706.7,844.7 707.3,853.9 705.5,853.9 699.9,844.6 696.7,845 698.6,854.7 697,855.1 690.6,846.6 687.8,847.8 690.9,857.7 689.5,858.5 682.5,851.1 680.1,853.1 684.5,862.8 683.4,864.1 675.9,857.9 674.1,860.6 679.5,870 678.6,871.6 671,866.8 669.8,870.2 676,878.9 675.5,880.9 668,877.6 667.4,881.5 674.3,889.3 674.1,891.5 666.9,890 666.9,894.3 674.3,900.9 674.5,903.3 667.7,903.5 668.4,908.1 676,913.3 676.6,915.9 670.5,917.7 671.9,922.5 679.5,926.2 680.3,928.8 675.2,932.3 677.1,937.1 684.5,939.2 685.7,941.7 681.6,946.8 684,951.4 690.9,951.8 692.4,954.2 689.5,960.7 692.4,965.1 698.6,963.7 700.3,965.9 698.6,973.6 701.9,977.6 707.3,974.5 709.2,976.5 708.8,985.1 712.4,988.6 716.8,983.9 718.7,985.6 719.7,994.9 723.4,997.7 726.7,991.6 728.7,993 731,1002.7 734.7,1004.8 736.7,997.4 738.7,998.4 742.2,1008.2 745.9,1009.5 746.6,1001.1 748.5,1001.6 753.2,1011.3 756.7,1011.8 756,1002.6 757.9,1002.6 763.5,1011.9 766.7,1011.5 764.7,1001.8 766.4,1001.4 772.8,1009.9 775.6,1008.7" fill="#fff" stroke="#000" stroke-width="1.1" />
<polygon points="660.4,925.2 654.3,927.1 670.5,917.7 676.6,915.9" fill="#fff" stroke="#000" stroke-width="1" />
<polygon points="696.2,997.9 700.6,993.3 716.8,983.9 712.4,988.6" fill="#fff" stroke="#000" stroke-width="1" />
<polygon points="658.3,912.7 651.5,912.8 667.7,903.5 674.5,903.3" fill="#fff" stroke="#000" stroke-width="1" />
<polygon points="707.2,1007.1 710.5,1001 726.7,991.6 723.4,997.7" fill="#fff" stroke="#000" stroke-width="1" />
<polygon points="657.9,900.9 650.7,899.3 666.9,890 674.1,891.5" fill="#fff" stroke="#000" stroke-width="1" />
<polygon points="718.5,1014.1 720.5,1006.8 736.7,997.4 734.7,1004.8" fill="#fff" stroke="#000" stroke-width="1" />
<polygon points="659.3,890.2 651.8,887 668,877.6 675.5,880.9" fill="#fff" stroke="#000" stroke-width="1" />
<polygon points="729.7,1018.9 730.4,1010.5 746.6,1001.1 745.9,1009.5" fill="#fff" stroke="#000" stroke-width="1" />
<polygon points="662.5,881 654.8,876.2 671,866.8 678.6,871.6" fill="#fff" stroke="#000" stroke-width="1" />
<polygon points="740.5,1021.1 739.9,1012 756,1002.6 756.7,1011.8" fill="#fff" stroke="#000" stroke-width="1" />
<polygon points="667.2,873.5 659.7,867.2 675.9,857.9 683.4,864.1" fill="#fff" stroke="#000" stroke-width="1" />
<polygon points="750.5,1020.8 748.6,1011.2 764.7,1001.8 766.7,1011.5" fill="#fff" stroke="#000" stroke-width="1" />
<polygon points="673.4,867.9 666.3,860.4 682.5,851.1 689.5,858.5" fill="#fff" stroke="#000" stroke-width="1" />
<polygon points="759.4,1018 756.2,1008.2 772.4,998.8 775.6,1008.7" fill="#fff" stroke="#000" stroke-width="1" />
<polygon points="756.2,1008.2 757.6,1007.3 773.8,998 772.4,998.8" fill="#fff" stroke="#000" stroke-width="1" />
<polygon points="674.4,856 671.6,857.2 687.8,847.8 690.6,846.6" fill="#fff" stroke="#000" stroke-width="1" />
<polygon points="764.7,1014.8 767,1012.8 783.2,1003.4 780.9,1005.4" fill="#fff" stroke="#000" stroke-width="1" />
<polygon points="680.8,864.4 674.4,856 690.6,846.6 697,855.1" fill="#fff" stroke="#000" stroke-width="1" />
<polygon points="682.4,864 680.8,864.4 697,855.1 698.6,854.7" fill="#fff" stroke="#000" stroke-width="1" />
<polygon points="767,1012.8 762.7,1003 778.9,993.7 783.2,1003.4" fill="#fff" stroke="#000" stroke-width="1" />
<polygon points="762.7,1003 763.8,1001.7 780,992.4 778.9,993.7" fill="#fff" stroke="#000" stroke-width="1" />
<polygon points="683.7,854 680.5,854.4 696.7,845 699.9,844.6" fill="#fff" stroke="#000" stroke-width="1" />
<polygon points="689.3,863.2 683.7,854 699.9,844.6 705.5,853.9" fill="#fff" stroke="#000" stroke-width="1" />
<polygon points="771.3,1008 773.1,1005.3 789.3,995.9 787.5,998.6" fill="#fff" stroke="#000" stroke-width="1" />
<polygon points="691.1,863.2 689.3,863.2 705.5,853.9 707.3,853.9" fill="#fff" stroke="#000" stroke-width="1" />
<polygon points="773.1,1005.3 767.7,995.9 783.9,986.5 789.3,995.9" fill="#fff" stroke="#000" stroke-width="1" />
<polygon points="767.7,995.9 768.5,994.2 784.7,984.9 783.9,986.5" fill="#fff" stroke="#000" stroke-width="1" />
<polygon points="694,854.6 690.5,854.1 706.7,844.7 710.2,845.2" fill="#fff" stroke="#000" stroke-width="1" />
<polygon points="698.7,864.2 694,854.6 710.2,845.2 714.8,854.9" fill="#fff" stroke="#000" stroke-width="1" />
<polygon points="700.6,864.7 698.7,864.2 714.8,854.9 716.8,855.4" fill="#fff" stroke="#000" stroke-width="1" />
<polygon points="776.2,999 777.4,995.7 793.6,986.3 792.4,989.7" fill="#fff" stroke="#000" stroke-width="1" />
<polygon points="777.4,995.7 771.2,987 787.4,977.6 793.6,986.3" fill="#fff" stroke="#000" stroke-width="1" />
<polygon points="771.2,987 771.7,985 787.8,975.6 787.4,977.6" fill="#fff" stroke="#000" stroke-width="1" />
<polygon points="705,857.6 701.3,856.3 717.5,847 721.2,848.3" fill="#fff" stroke="#000" stroke-width="1" />
<polygon points="710.5,868.4 708.5,867.5 724.7,858.1 726.7,859.1" fill="#fff" stroke="#000" stroke-width="1" />
<polygon points="708.5,867.5 705,857.6 721.2,848.3 724.7,858.1" fill="#fff" stroke="#000" stroke-width="1" />
<polygon points="772.9,976.5 773.1,974.3 789.2,965 789.1,967.2" fill="#fff" stroke="#000" stroke-width="1" />
<polygon points="779.2,988.2 779.8,984.3 796,975 795.4,978.9" fill="#fff" stroke="#000" stroke-width="1" />
<polygon points="779.8,984.3 772.9,976.5 789.1,967.2 796,975" fill="#fff" stroke="#000" stroke-width="1" />
<polygon points="720.5,874.2 718.5,872.9 734.7,863.5 736.7,864.9" fill="#fff" stroke="#000" stroke-width="1" />
<polygon points="718.5,872.9 716.2,863.2 732.4,853.8 734.7,863.5" fill="#fff" stroke="#000" stroke-width="1" />
<polygon points="772.9,964.9 772.7,962.5 788.9,953.2 789.1,955.6" fill="#fff" stroke="#000" stroke-width="1" />
<polygon points="716.2,863.2 712.5,861.1 728.7,851.7 732.4,853.8" fill="#fff" stroke="#000" stroke-width="1" />
<polygon points="780.3,971.5 772.9,964.9 789.1,955.6 796.5,962.2" fill="#fff" stroke="#000" stroke-width="1" />
<polygon points="780.3,975.9 780.3,971.5 796.5,962.2 796.5,966.5" fill="#fff" stroke="#000" stroke-width="1" />
<polygon points="730.4,881.9 728.5,880.2 744.7,870.9 746.6,872.6" fill="#fff" stroke="#000" stroke-width="1" />
<polygon points="771.2,952.5 770.6,950 786.8,940.6 787.4,943.2" fill="#fff" stroke="#000" stroke-width="1" />
<polygon points="728.5,880.2 727.5,870.9 743.7,861.6 744.7,870.9" fill="#fff" stroke="#000" stroke-width="1" />
<polygon points="778.8,957.7 771.2,952.5 787.4,943.2 795,948.4" fill="#fff" stroke="#000" stroke-width="1" />
<polygon points="727.5,870.9 723.8,868.1 740,858.8 743.7,861.6" fill="#fff" stroke="#000" stroke-width="1" />
<polygon points="779.5,962.4 778.8,957.7 795,948.4 795.7,953" fill="#fff" stroke="#000" stroke-width="1" />
<polygon points="739.9,891.4 738,889.3 754.2,880 756,882" fill="#fff" stroke="#000" stroke-width="1" />
<polygon points="767.7,939.6 766.8,937 783,927.7 783.9,930.3" fill="#fff" stroke="#000" stroke-width="1" />
<polygon points="738,889.3 738.4,880.7 754.6,871.4 754.2,880" fill="#fff" stroke="#000" stroke-width="1" />
<polygon points="748.6,902.2 746.9,899.9 763.1,890.6 764.7,892.8" fill="#fff" stroke="#000" stroke-width="1" />
<polygon points="762.7,926.7 761.5,924.1 777.7,914.8 778.9,917.3" fill="#fff" stroke="#000" stroke-width="1" />
<polygon points="775.3,943.3 767.7,939.6 783.9,930.3 791.5,934" fill="#fff" stroke="#000" stroke-width="1" />
<polygon points="756.2,914.1 754.8,911.6 771,902.3 772.4,904.7" fill="#fff" stroke="#000" stroke-width="1" />
<polygon points="745.3,888.3 739.9,891.4 756,882 761.5,878.9" fill="#fff" stroke="#000" stroke-width="1" />
<polygon points="738.4,880.7 734.8,877.3 751,867.9 754.6,871.4" fill="#fff" stroke="#000" stroke-width="1" />
<polygon points="766.8,937 772,933.5 788.2,924.2 783,927.7" fill="#fff" stroke="#000" stroke-width="1" />
<polygon points="776.7,948.1 775.3,943.3 791.5,934 792.9,938.8" fill="#fff" stroke="#000" stroke-width="1" />
<polygon points="746.9,899.9 748.6,892.3 764.8,882.9 763.1,890.6" fill="#fff" stroke="#000" stroke-width="1" />
<polygon points="770.1,928.7 762.7,926.7 778.9,917.3 786.3,919.4" fill="#fff" stroke="#000" stroke-width="1" />
<polygon points="754.8,900.8 748.6,902.2 764.7,892.8 771,891.4" fill="#fff" stroke="#000" stroke-width="1" />
<polygon points="761.5,924.1 765.6,919.1 781.8,909.7 777.7,914.8" fill="#fff" stroke="#000" stroke-width="1" />
<polygon points="754.8,911.6 757.7,905.2 773.9,895.8 771,902.3" fill="#fff" stroke="#000" stroke-width="1" />
<polygon points="763.2,914.4 756.2,914.1 772.4,904.7 779.4,905.1" fill="#fff" stroke="#000" stroke-width="1" />
<polygon points="748.6,892.3 745.3,888.3 761.5,878.9 764.8,882.9" fill="#fff" stroke="#000" stroke-width="1" />
<polygon points="772,933.5 770.1,928.7 786.3,919.4 788.2,924.2" fill="#fff" stroke="#000" stroke-width="1" />
<polygon points="757.7,905.2 754.8,900.8 771,891.4 773.9,895.8" fill="#fff" stroke="#000" stroke-width="1" />
<polygon points="765.6,919.1 763.2,914.4 779.4,905.1 781.8,909.7" fill="#fff" stroke="#000" stroke-width="1" />
<polygon points="756.2,1008.2 757.6,1007.3 764.7,1014.8 767,1012.8 762.7,1003 763.8,1001.7 771.3,1008 773.1,1005.3 767.7,995.9 768.5,994.2 776.2,999 777.4,995.7 771.2,987 771.7,985 779.2,988.2 779.8,984.3 772.9,976.5 773.1,974.3 780.3,975.9 780.3,971.5 772.9,964.9 772.7,962.5 779.5,962.4 778.8,957.7 771.2,952.5 770.6,950 776.7,948.1 775.3,943.3 767.7,939.6 766.8,937 772,933.5 770.1,928.7 762.7,926.7 761.5,924.1 765.6,919.1 763.2,914.4 756.2,914.1 754.8,911.6 757.7,905.2 754.8,900.8 748.6,902.2 746.9,899.9 748.6,892.3 745.3,888.3 739.9,891.4 738,889.3 738.4,880.7 734.8,877.3 730.4,881.9 728.5,880.2 727.5,870.9 723.8,868.1 720.5,874.2 718.5,872.9 716.2,863.2 712.5,861.1 710.5,868.4 708.5,867.5 705,857.6 701.3,856.3 700.6,864.7 698.7,864.2 694,854.6 690.5,854.1 691.1,863.2 689.3,863.2 683.7,854 680.5,854.4 682.4,864 680.8,864.4 674.4,856 671.6,857.2 674.8,867 673.4,867.9 666.3,860.4 664,862.4 668.3,872.2 667.2,873.5 659.7,867.2 657.9,869.9 663.3,879.3 662.5,881 654.8,876.2 653.6,879.5 659.8,888.2 659.3,890.2 651.8,887 651.2,890.9 658.1,898.7 657.9,900.9 650.7,899.3 650.7,903.7 658.1,910.3 658.3,912.7 651.5,912.8 652.2,917.5 659.8,922.7 660.4,925.2 654.3,927.1 655.7,931.9 663.3,935.6 664.2,938.2 659,941.7 660.9,946.5 668.3,948.5 669.5,951.1 665.4,956.1 667.8,960.8 674.8,961.1 676.2,963.6 673.3,970 676.2,974.4 682.4,973 684.1,975.3 682.4,982.9 685.7,986.9 691.1,983.8 693,985.9 692.6,994.5 696.2,997.9 700.6,993.3 702.5,995 703.5,1004.3 707.2,1007.1 710.5,1001 712.5,1002.3 714.8,1012 718.5,1014.1 720.5,1006.8 722.5,1007.7 726,1017.6 729.7,1018.9 730.4,1010.5 732.3,1011 737,1020.6 740.5,1021.1 739.9,1012 741.7,1012 747.3,1021.2 750.5,1020.8 748.6,1011.2 750.2,1010.8 756.6,1019.2 759.4,1018" fill="#fff" stroke="#000" stroke-width="1.1" />
<ellipse cx="715.5" cy="937.6" rx="73" ry="42.1" transform="rotate(60 715.5 937.6)" fill="#fff" stroke="#000" stroke-width="1.1" />
<clipPath id="c39"><ellipse cx="715.5" cy="937.6" rx="73" ry="42.1" transform="rotate(60 715.5 937.6)"/></clipPath>
<g clip-path="url(#c39)">
<polygon points="726.8,980.3 731.7,980.7 736.1,980 740.1,978.2 743.5,975.5 747.9,975.4 754.8,983.7 754.6,989.8 749.8,994 744,996.6 737.5,997.6 730.4,996.9 725.1,992.4 723.5,982.6" fill="#fff" stroke="#000" stroke-width="1" />
<clipPath id="c40"><polygon points="726.8,980.3 731.7,980.7 736.1,980 740.1,978.2 743.5,975.5 747.9,975.4 754.8,983.7 754.6,989.8 749.8,994 744,996.6 737.5,997.6 730.4,996.9 725.1,992.4 723.5,982.6"/></clipPath>
<g clip-path="url(#c40)">
<polygon points="734.6,975.8 739.5,976.2 743.9,975.5 747.9,973.7 751.3,971 755.7,970.9 762.6,979.2 762.4,985.3 757.6,989.5 751.8,992.1 745.3,993.1 738.1,992.4 732.9,987.9 731.3,978.1" fill="none" stroke="#000" stroke-width="0.8" />
<path d="M726.8 980.3L734.6 975.8" stroke="#000" stroke-width="0.7" fill="none" />
<path d="M743.5 975.5L751.3 971" stroke="#000" stroke-width="0.7" fill="none" />
<path d="M747.9 975.4L755.7 970.9" stroke="#000" stroke-width="0.7" fill="none" />
<path d="M754.8 983.7L762.6 979.2" stroke="#000" stroke-width="0.7" fill="none" />
<path d="M730.4 996.9L738.1 992.4" stroke="#000" stroke-width="0.7" fill="none" />
<path d="M725.1 992.4L732.9 987.9" stroke="#000" stroke-width="0.7" fill="none" />
</g>
<polygon points="749.5,956.1 749,949.7 747.7,943.1 745.6,936.2 742.7,929.5 742,923.3 747.6,920.3 752.7,925.4 756.9,935.3 760.1,945.3 762,955 762.6,964.3 759.7,968 751.9,962.5" fill="#fff" stroke="#000" stroke-width="1" />
<clipPath id="c41"><polygon points="749.5,956.1 749,949.7 747.7,943.1 745.6,936.2 742.7,929.5 742,923.3 747.6,920.3 752.7,925.4 756.9,935.3 760.1,945.3 762,955 762.6,964.3 759.7,968 751.9,962.5"/></clipPath>
<g clip-path="url(#c41)">
<polygon points="757.3,951.6 756.8,945.2 755.5,938.6 753.4,931.7 750.5,925 749.8,918.8 755.4,915.8 760.5,920.9 764.7,930.8 767.9,940.8 769.8,950.5 770.4,959.8 767.5,963.5 759.7,958" fill="none" stroke="#000" stroke-width="0.8" />
<path d="M749.5 956.1L757.3 951.6" stroke="#000" stroke-width="0.7" fill="none" />
<path d="M742.7 929.5L750.5 925" stroke="#000" stroke-width="0.7" fill="none" />
<path d="M742 923.3L749.8 918.8" stroke="#000" stroke-width="0.7" fill="none" />
<path d="M747.6 920.3L755.4 915.8" stroke="#000" stroke-width="0.7" fill="none" />
<path d="M762.6 964.3L770.4 959.8" stroke="#000" stroke-width="0.7" fill="none" />
<path d="M759.7 968L767.5 963.5" stroke="#000" stroke-width="0.7" fill="none" />
</g>
<polygon points="725.8,906 720.6,901.7 715.3,898.2 710.1,895.8 705,894.4 700.1,890.6 696.6,880.5 700,877.5 707.4,879.5 715.1,883 722.8,888 730.4,894.4 733.9,901.2 730.7,907.7" fill="#fff" stroke="#000" stroke-width="1" />
<clipPath id="c42"><polygon points="725.8,906 720.6,901.7 715.3,898.2 710.1,895.8 705,894.4 700.1,890.6 696.6,880.5 700,877.5 707.4,879.5 715.1,883 722.8,888 730.4,894.4 733.9,901.2 730.7,907.7"/></clipPath>
<g clip-path="url(#c42)">
<polygon points="733.6,901.5 728.4,897.2 723.1,893.7 717.9,891.3 712.8,889.9 707.9,886.1 704.4,876 707.8,873 715.2,875 722.9,878.5 730.6,883.5 738.1,889.9 741.6,896.7 738.5,903.2" fill="none" stroke="#000" stroke-width="0.8" />
<path d="M725.8 906L733.6 901.5" stroke="#000" stroke-width="0.7" fill="none" />
<path d="M705 894.4L712.8 889.9" stroke="#000" stroke-width="0.7" fill="none" />
<path d="M700.1 890.6L707.9 886.1" stroke="#000" stroke-width="0.7" fill="none" />
<path d="M696.6 880.5L704.4 876" stroke="#000" stroke-width="0.7" fill="none" />
<path d="M730.4 894.4L738.1 889.9" stroke="#000" stroke-width="0.7" fill="none" />
<path d="M733.9 901.2L741.6 896.7" stroke="#000" stroke-width="0.7" fill="none" />
</g>
<polygon points="688.4,899.2 685.8,902.9 683.8,907.5 682.7,912.8 682.4,918.7 680.1,922.5 672.3,919.2 669.3,912.3 669.7,903.6 671.3,895.8 674.2,889.2 678.2,883.9 683.2,884.4 689,893.8" fill="#fff" stroke="#000" stroke-width="1" />
<clipPath id="c43"><polygon points="688.4,899.2 685.8,902.9 683.8,907.5 682.7,912.8 682.4,918.7 680.1,922.5 672.3,919.2 669.3,912.3 669.7,903.6 671.3,895.8 674.2,889.2 678.2,883.9 683.2,884.4 689,893.8"/></clipPath>
<g clip-path="url(#c43)">
<polygon points="696.2,894.7 693.5,898.4 691.6,903 690.5,908.3 690.1,914.2 687.9,918 680.1,914.7 677.1,907.8 677.5,899.1 679.1,891.3 682,884.7 686,879.4 691,879.9 696.8,889.3" fill="none" stroke="#000" stroke-width="0.8" />
<path d="M688.4 899.2L696.2 894.7" stroke="#000" stroke-width="0.7" fill="none" />
<path d="M682.4 918.7L690.1 914.2" stroke="#000" stroke-width="0.7" fill="none" />
<path d="M680.1 922.5L687.9 918" stroke="#000" stroke-width="0.7" fill="none" />
<path d="M672.3 919.2L680.1 914.7" stroke="#000" stroke-width="0.7" fill="none" />
<path d="M678.2 883.9L686 879.4" stroke="#000" stroke-width="0.7" fill="none" />
<path d="M683.2 884.4L691 879.9" stroke="#000" stroke-width="0.7" fill="none" />
</g>
<polygon points="689.1,945.2 692.6,951.8 696.7,958 701.2,963.7 706.1,968.8 709.6,974.9 708.3,983 703.1,981.7 695.8,974.4 689.2,966 683.2,956.9 678.2,947.2 677.8,940.8 684.6,940.2" fill="#fff" stroke="#000" stroke-width="1" />
<clipPath id="c44"><polygon points="689.1,945.2 692.6,951.8 696.7,958 701.2,963.7 706.1,968.8 709.6,974.9 708.3,983 703.1,981.7 695.8,974.4 689.2,966 683.2,956.9 678.2,947.2 677.8,940.8 684.6,940.2"/></clipPath>
<g clip-path="url(#c44)">
<polygon points="696.9,940.7 700.4,947.3 704.5,953.5 709,959.2 713.9,964.3 717.4,970.4 716.1,978.5 710.9,977.2 703.6,969.9 697,961.5 691,952.4 686,942.7 685.6,936.3 692.4,935.7" fill="none" stroke="#000" stroke-width="0.8" />
<path d="M689.1 945.2L696.9 940.7" stroke="#000" stroke-width="0.7" fill="none" />
<path d="M706.1 968.8L713.9 964.3" stroke="#000" stroke-width="0.7" fill="none" />
<path d="M709.6 974.9L717.4 970.4" stroke="#000" stroke-width="0.7" fill="none" />
<path d="M708.3 983L716.1 978.5" stroke="#000" stroke-width="0.7" fill="none" />
<path d="M678.2 947.2L686 942.7" stroke="#000" stroke-width="0.7" fill="none" />
<path d="M677.8 940.8L685.6 936.3" stroke="#000" stroke-width="0.7" fill="none" />
</g>
</g>
<ellipse cx="715.5" cy="937.6" rx="42" ry="24.2" transform="rotate(60 715.5 937.6)" fill="#fff" stroke="#000" stroke-width="1.1" />
<clipPath id="c45"><ellipse cx="715.5" cy="937.6" rx="42" ry="24.2" transform="rotate(60 715.5 937.6)"/></clipPath>
<g clip-path="url(#c45)">
<ellipse cx="731.7" cy="928.2" rx="42" ry="24.2" transform="rotate(60 731.7 928.2)" fill="none" stroke="#000" stroke-width="0.9" />
</g>
<path d="M656 1027.5A48.5 28 60 0 0 656 971.5A48.5 28 60 0 0 607.5 943.5L605.8 944.5A48.5 28 60 0 0 605.8 1000.5A48.5 28 60 0 0 654.2 1028.5Z" fill="#fff" stroke="#000" stroke-width="1.1" />
<ellipse cx="630" cy="986.5" rx="48.5" ry="28" transform="rotate(60 630 986.5)" fill="#fff" stroke="#000" stroke-width="1.1" />
<ellipse cx="630" cy="986.5" rx="36" ry="20.8" transform="rotate(60 630 986.5)" fill="#fff" stroke="#000" stroke-width="1.1" />
<clipPath id="c46"><ellipse cx="630" cy="986.5" rx="36" ry="20.8" transform="rotate(60 630 986.5)"/></clipPath>
<g clip-path="url(#c46)">
<ellipse cx="631.7" cy="985.5" rx="36" ry="20.8" transform="rotate(60 631.7 985.5)" fill="none" stroke="#000" stroke-width="0.9" />
</g>
<polygon points="597.9,1068.5 591.1,1025.8 595.6,1023.6 585.9,1005.4 581.2,1007.2 548.8,975.9 547.4,968.3 533.1,963.4 534.1,970.9 508.5,982.3 502.7,976.9 498.1,990.2 503.8,995.9 510.6,1038.6 506.2,1040.8 515.8,1059 520.5,1057.2 553,1088.5 554.4,1096.1 568.6,1101 567.6,1093.5 593.2,1082.1 599.1,1087.5 603.7,1074.2" fill="#fff" stroke="#000" stroke-width="1.1" />
<polygon points="505.9,1041.3 501.4,1043.6 506.2,1040.8 510.6,1038.6" fill="#fff" stroke="#000" stroke-width="1" />
<polygon points="563.9,1103.8 562.8,1096.2 567.6,1093.5 568.6,1101" fill="#fff" stroke="#000" stroke-width="1" />
<polygon points="503.8,985.1 497.9,979.7 502.7,976.9 508.5,982.3" fill="#fff" stroke="#000" stroke-width="1" />
<polygon points="529.4,973.7 503.8,985.1 508.5,982.3 534.1,970.9" fill="#fff" stroke="#000" stroke-width="1" />
<polygon points="594.3,1090.2 598.9,1076.9 603.7,1074.2 599.1,1087.5" fill="#fff" stroke="#000" stroke-width="1" />
<polygon points="598.9,1076.9 593.2,1071.2 597.9,1068.5 603.7,1074.2" fill="#fff" stroke="#000" stroke-width="1" />
<polygon points="542.6,971 528.3,966.1 533.1,963.4 547.4,968.3" fill="#fff" stroke="#000" stroke-width="1" />
<polygon points="544,978.7 542.6,971 547.4,968.3 548.8,975.9" fill="#fff" stroke="#000" stroke-width="1" />
<polygon points="593.2,1071.2 586.3,1028.6 591.1,1025.8 597.9,1068.5" fill="#fff" stroke="#000" stroke-width="1" />
<polygon points="576.4,1009.9 544,978.7 548.8,975.9 581.2,1007.2" fill="#fff" stroke="#000" stroke-width="1" />
<polygon points="581.1,1008.1 576.4,1009.9 581.2,1007.2 585.9,1005.4" fill="#fff" stroke="#000" stroke-width="1" />
<polygon points="590.8,1026.3 581.1,1008.1 585.9,1005.4 595.6,1023.6" fill="#fff" stroke="#000" stroke-width="1" />
<polygon points="593.2,1071.2 586.3,1028.6 590.8,1026.3 581.1,1008.1 576.4,1009.9 544,978.7 542.6,971 528.3,966.1 529.4,973.7 503.8,985.1 497.9,979.7 493.3,993 499,998.7 505.9,1041.3 501.4,1043.6 511.1,1061.8 515.8,1060 548.2,1091.2 549.6,1098.9 563.9,1103.8 562.8,1096.2 588.4,1084.8 594.3,1090.2 598.9,1076.9" fill="#fff" stroke="#000" stroke-width="1.1" />
<ellipse cx="546.1" cy="1035" rx="64" ry="37" transform="rotate(60 546.1 1035)" fill="none" stroke="#000" stroke-width="0.9" />
<path d="M572.1 1080A52 30 60 0 0 572.1 1019.9A52 30 60 0 0 520.1 989.9L509.3 996.2A52 30 60 0 0 509.3 1056.2A52 30 60 0 0 561.3 1086.2Z" fill="#fff" stroke="#000" stroke-width="1.1" />
<ellipse cx="535.3" cy="1041.2" rx="52" ry="30" transform="rotate(60 535.3 1041.2)" fill="#fff" stroke="#000" stroke-width="1.1" />
<polygon points="567.1,1083 569,1081 579.2,1088.5 582.3,1081.8 574.1,1069.8 574.7,1066.4 584.5,1068.4 584.1,1059 574,1050.7 573.1,1046.5 580.6,1042.6 576.7,1032.3 566.7,1029.4 564.5,1025.2 568.1,1016.2 561.7,1007.1 553.7,1010.1 550.6,1006.8 549.7,994.4 541.9,988.3 537.6,996.7 534.3,995 529,981.7 521.3,979.8 521.5,991.8 518.6,991.9 510,980.4 504,983.1 508.7,996.4 506.7,998.4 496.5,990.9 493.4,997.6 501.6,1009.6 501.1,1013 491.2,1011 491.6,1020.4 501.7,1028.7 502.7,1032.9 495.2,1036.8 499,1047.1 509,1050 511.2,1054.2 507.6,1063.2 514.1,1072.3 522,1069.3 525.1,1072.6 526,1085 533.8,1091.1 538.2,1082.7 541.5,1084.4 546.8,1097.7 554.4,1099.6 554.2,1087.6 557.2,1087.5 565.8,1099 571.7,1096.3" fill="#fff" stroke="#000" stroke-width="1.1" />
<polygon points="457.6,1058.9 450.2,1062.8 495.2,1036.8 502.7,1032.9" fill="#fff" stroke="#000" stroke-width="1" />
<polygon points="488.8,1117.1 493.1,1108.7 538.2,1082.7 533.8,1091.1" fill="#fff" stroke="#000" stroke-width="1" />
<polygon points="456,1039 446.2,1037 491.2,1011 501.1,1013" fill="#fff" stroke="#000" stroke-width="1" />
<polygon points="509.4,1125.6 509.2,1113.6 554.2,1087.6 554.4,1099.6" fill="#fff" stroke="#000" stroke-width="1" />
<polygon points="461.7,1024.4 451.5,1016.9 496.5,990.9 506.7,998.4" fill="#fff" stroke="#000" stroke-width="1" />
<polygon points="464.9,1006.4 459,1009.1 504,983.1 510,980.4" fill="#fff" stroke="#000" stroke-width="1" />
<polygon points="526.7,1122.3 522,1109 567.1,1083 571.7,1096.3" fill="#fff" stroke="#000" stroke-width="1" />
<polygon points="522,1109 524,1107 569,1081 567.1,1083" fill="#fff" stroke="#000" stroke-width="1" />
<polygon points="473.6,1017.9 464.9,1006.4 510,980.4 518.6,991.9" fill="#fff" stroke="#000" stroke-width="1" />
<polygon points="476.5,1017.8 473.6,1017.9 518.6,991.9 521.5,991.8" fill="#fff" stroke="#000" stroke-width="1" />
<polygon points="534.2,1114.5 537.3,1107.8 582.3,1081.8 579.2,1088.5" fill="#fff" stroke="#000" stroke-width="1" />
<polygon points="537.3,1107.8 529.1,1095.8 574.1,1069.8 582.3,1081.8" fill="#fff" stroke="#000" stroke-width="1" />
<polygon points="529.1,1095.8 529.7,1092.4 574.7,1066.4 574.1,1069.8" fill="#fff" stroke="#000" stroke-width="1" />
<polygon points="483.9,1007.7 476.3,1005.8 521.3,979.8 529,981.7" fill="#fff" stroke="#000" stroke-width="1" />
<polygon points="492.6,1022.7 489.2,1021 534.3,995 537.6,996.7" fill="#fff" stroke="#000" stroke-width="1" />
<polygon points="489.2,1021 483.9,1007.7 529,981.7 534.3,995" fill="#fff" stroke="#000" stroke-width="1" />
<polygon points="529,1076.7 528.1,1072.5 573.1,1046.5 574,1050.7" fill="#fff" stroke="#000" stroke-width="1" />
<polygon points="508.7,1036.1 505.6,1032.8 550.6,1006.8 553.7,1010.1" fill="#fff" stroke="#000" stroke-width="1" />
<polygon points="539.1,1085 529,1076.7 574,1050.7 584.1,1059" fill="#fff" stroke="#000" stroke-width="1" />
<polygon points="539.5,1094.4 539.1,1085 584.1,1059 584.5,1068.4" fill="#fff" stroke="#000" stroke-width="1" />
<polygon points="505.6,1032.8 504.7,1020.4 549.7,994.4 550.6,1006.8" fill="#fff" stroke="#000" stroke-width="1" />
<polygon points="521.7,1055.4 519.5,1051.2 564.5,1025.2 566.7,1029.4" fill="#fff" stroke="#000" stroke-width="1" />
<polygon points="504.7,1020.4 496.9,1014.3 541.9,988.3 549.7,994.4" fill="#fff" stroke="#000" stroke-width="1" />
<polygon points="516.6,1033.1 508.7,1036.1 553.7,1010.1 561.7,1007.1" fill="#fff" stroke="#000" stroke-width="1" />
<polygon points="531.7,1058.3 521.7,1055.4 566.7,1029.4 576.7,1032.3" fill="#fff" stroke="#000" stroke-width="1" />
<polygon points="519.5,1051.2 523.1,1042.2 568.1,1016.2 564.5,1025.2" fill="#fff" stroke="#000" stroke-width="1" />
<polygon points="535.5,1068.6 531.7,1058.3 576.7,1032.3 580.6,1042.6" fill="#fff" stroke="#000" stroke-width="1" />
<polygon points="523.1,1042.2 516.6,1033.1 561.7,1007.1 568.1,1016.2" fill="#fff" stroke="#000" stroke-width="1" />
<polygon points="522,1109 524,1107 534.2,1114.5 537.3,1107.8 529.1,1095.8 529.7,1092.4 539.5,1094.4 539.1,1085 529,1076.7 528.1,1072.5 535.5,1068.6 531.7,1058.3 521.7,1055.4 519.5,1051.2 523.1,1042.2 516.6,1033.1 508.7,1036.1 505.6,1032.8 504.7,1020.4 496.9,1014.3 492.6,1022.7 489.2,1021 483.9,1007.7 476.3,1005.8 476.5,1017.8 473.6,1017.9 464.9,1006.4 459,1009.1 463.6,1022.4 461.7,1024.4 451.5,1016.9 448.4,1023.6 456.6,1035.6 456,1039 446.2,1037 446.6,1046.4 456.7,1054.7 457.6,1058.9 450.2,1062.8 454,1073.1 464,1076 466.2,1080.2 462.6,1089.2 469,1098.3 477,1095.3 480.1,1098.6 481,1111 488.8,1117.1 493.1,1108.7 496.5,1110.4 501.7,1123.7 509.4,1125.6 509.2,1113.6 512.1,1113.5 520.7,1125 526.7,1122.3" fill="#fff" stroke="#000" stroke-width="1.1" />
<ellipse cx="492.8" cy="1065.7" rx="51" ry="29.4" transform="rotate(60 492.8 1065.7)" fill="#fff" stroke="#000" stroke-width="1" />
<clipPath id="c47"><ellipse cx="492.8" cy="1065.7" rx="51" ry="29.4" transform="rotate(60 492.8 1065.7)"/></clipPath>
<g clip-path="url(#c47)">
<ellipse cx="504.1" cy="1059.2" rx="51" ry="29.4" transform="rotate(60 504.1 1059.2)" fill="none" stroke="#000" stroke-width="0.9" />
<path d="M539 1095.6A49 28.3 60 0 0 539 1039.1A49 28.3 60 0 0 490 1010.8L479.6 1016.8A49 28.3 60 0 0 479.6 1073.3A49 28.3 60 0 0 528.6 1101.6Z" fill="#fff" stroke="#000" stroke-width="1.1" />
<ellipse cx="504.1" cy="1059.2" rx="49" ry="28.3" transform="rotate(60 504.1 1059.2)" fill="#fff" stroke="#000" stroke-width="1.1" />
</g>
<ellipse cx="504.1" cy="1059.2" rx="40" ry="23.1" transform="rotate(60 504.1 1059.2)" fill="#fff" stroke="#000" stroke-width="1.1" />
<clipPath id="c48"><ellipse cx="504.1" cy="1059.2" rx="40" ry="23.1" transform="rotate(60 504.1 1059.2)"/></clipPath>
<g clip-path="url(#c48)">
<path d="M524.1 1093.8L558.7 1073.8" stroke="#000" stroke-width="0.9" fill="none" />
<path d="M526.8 1091.8L561.4 1071.8" stroke="#000" stroke-width="0.9" fill="none" />
<path d="M524.8 1087.6L559.4 1067.6" stroke="#000" stroke-width="0.9" fill="none" />
<path d="M488.5 1022.9L523.2 1002.9" stroke="#000" stroke-width="0.9" fill="none" />
<path d="M489.6 1027.2L524.2 1007.2" stroke="#000" stroke-width="0.9" fill="none" />
<path d="M487 1028.1L521.6 1008.1" stroke="#000" stroke-width="0.9" fill="none" />
<path d="M484.1 1024.6L518.7 1004.6" stroke="#000" stroke-width="0.9" fill="none" />
<path d="M481.4 1026.6L516 1006.6" stroke="#000" stroke-width="0.9" fill="none" />
<path d="M483.4 1030.8L518.1 1010.8" stroke="#000" stroke-width="0.9" fill="none" />
<path d="M481.7 1033.1L516.4 1013.1" stroke="#000" stroke-width="0.9" fill="none" />
<path d="M478.5 1030.6L513.1 1010.6" stroke="#000" stroke-width="0.9" fill="none" />
<path d="M477 1034.2L511.6 1014.2" stroke="#000" stroke-width="0.9" fill="none" />
<path d="M479.8 1037.9L514.4 1017.9" stroke="#000" stroke-width="0.9" fill="none" />
<path d="M479.2 1041.3L513.8 1021.3" stroke="#000" stroke-width="0.9" fill="none" />
<path d="M475.9 1040.1L510.6 1020.1" stroke="#000" stroke-width="0.9" fill="none" />
<path d="M475.9 1044.8L510.5 1024.8" stroke="#000" stroke-width="0.9" fill="none" />
<path d="M479.1 1047.5L513.8 1027.5" stroke="#000" stroke-width="0.9" fill="none" />
<path d="M479.6 1051.6L514.3 1031.6" stroke="#000" stroke-width="0.9" fill="none" />
<path d="M476.8 1051.9L511.4 1031.9" stroke="#000" stroke-width="0.9" fill="none" />
<path d="M478.1 1057.2L512.8 1037.2" stroke="#000" stroke-width="0.9" fill="none" />
<path d="M481.4 1058.5L516.1 1038.5" stroke="#000" stroke-width="0.9" fill="none" />
<path d="M483 1062.8L517.7 1042.8" stroke="#000" stroke-width="0.9" fill="none" />
<path d="M480.9 1064.6L515.6 1044.6" stroke="#000" stroke-width="0.9" fill="none" />
<path d="M483.5 1069.8L518.2 1049.8" stroke="#000" stroke-width="0.9" fill="none" />
<path d="M486.5 1069.7L521.1 1049.7" stroke="#000" stroke-width="0.9" fill="none" />
<path d="M489 1073.6L523.6 1053.6" stroke="#000" stroke-width="0.9" fill="none" />
<path d="M487.9 1076.6L522.5 1056.6" stroke="#000" stroke-width="0.9" fill="none" />
<path d="M491.4 1081.1L526.1 1061.1" stroke="#000" stroke-width="0.9" fill="none" />
<path d="M493.7 1079.5L528.3 1059.5" stroke="#000" stroke-width="0.9" fill="none" />
<path d="M496.8 1082.7L531.4 1062.7" stroke="#000" stroke-width="0.9" fill="none" />
<path d="M496.8 1086.5L531.4 1066.5" stroke="#000" stroke-width="0.9" fill="none" />
<path d="M500.8 1089.8L535.5 1069.8" stroke="#000" stroke-width="0.9" fill="none" />
<path d="M502.1 1086.9L536.7 1066.9" stroke="#000" stroke-width="0.9" fill="none" />
<path d="M505.4 1088.9L540.1 1068.9" stroke="#000" stroke-width="0.9" fill="none" />
<path d="M506.6 1093.2L541.2 1073.2" stroke="#000" stroke-width="0.9" fill="none" />
<path d="M510.7 1094.8L545.3 1074.8" stroke="#000" stroke-width="0.9" fill="none" />
<path d="M510.8 1091L545.4 1071" stroke="#000" stroke-width="0.9" fill="none" />
<path d="M513.9 1091.5L548.5 1071.5" stroke="#000" stroke-width="0.9" fill="none" />
<path d="M516.1 1095.7L550.7 1075.7" stroke="#000" stroke-width="0.9" fill="none" />
<path d="M519.7 1095.5L554.3 1075.5" stroke="#000" stroke-width="0.9" fill="none" />
<path d="M518.6 1091.2L553.3 1071.2" stroke="#000" stroke-width="0.9" fill="none" />
<path d="M521.2 1090.3L555.9 1070.3" stroke="#000" stroke-width="0.9" fill="none" />
<polygon points="558.7,1073.8 561.4,1071.8 559.4,1067.6 561.1,1065.3 564.4,1067.8 565.8,1064.2 563,1060.5 563.7,1057.1 566.9,1058.3 567,1053.6 563.7,1050.9 563.2,1046.8 566.1,1046.5 564.7,1041.2 561.4,1039.9 559.8,1035.6 561.9,1033.8 559.3,1028.6 556.4,1028.7 553.8,1024.8 555,1021.8 551.4,1017.3 549.2,1018.9 546.1,1015.7 546.1,1011.9 542,1008.6 540.8,1011.5 537.4,1009.5 536.3,1005.2 532.2,1003.6 532.1,1007.4 528.9,1006.9 526.8,1002.7 523.2,1002.9 524.2,1007.2 521.6,1008.1 518.7,1004.6 516,1006.6 518.1,1010.8 516.4,1013.1 513.1,1010.6 511.6,1014.2 514.4,1017.9 513.8,1021.3 510.6,1020.1 510.5,1024.8 513.8,1027.5 514.3,1031.6 511.4,1031.9 512.8,1037.2 516.1,1038.5 517.7,1042.8 515.6,1044.6 518.2,1049.8 521.1,1049.7 523.6,1053.6 522.5,1056.6 526.1,1061.1 528.3,1059.5 531.4,1062.7 531.4,1066.5 535.5,1069.8 536.7,1066.9 540.1,1068.9 541.2,1073.2 545.3,1074.8 545.4,1071 548.5,1071.5 550.7,1075.7 554.3,1075.5 553.3,1071.2 555.9,1070.3" fill="none" stroke="#000" stroke-width="0.8" />
<polygon points="524.1,1093.8 526.8,1091.8 524.8,1087.6 526.5,1085.3 529.7,1087.8 531.2,1084.2 528.4,1080.5 529,1077.1 532.3,1078.3 532.3,1073.6 529.1,1070.9 528.6,1066.8 531.4,1066.5 530.1,1061.2 526.8,1059.9 525.2,1055.6 527.3,1053.8 524.7,1048.6 521.7,1048.7 519.2,1044.8 520.3,1041.8 516.8,1037.3 514.5,1038.9 511.4,1035.7 511.4,1031.9 507.4,1028.6 506.1,1031.5 502.8,1029.5 501.6,1025.2 497.5,1023.6 497.4,1027.4 494.3,1026.9 492.1,1022.7 488.5,1022.9 489.6,1027.2 487,1028.1 484.1,1024.6 481.4,1026.6 483.4,1030.8 481.7,1033.1 478.5,1030.6 477,1034.2 479.8,1037.9 479.2,1041.3 475.9,1040.1 475.9,1044.8 479.1,1047.5 479.6,1051.6 476.8,1051.9 478.1,1057.2 481.4,1058.5 483,1062.8 480.9,1064.6 483.5,1069.8 486.5,1069.7 489,1073.6 487.9,1076.6 491.4,1081.1 493.7,1079.5 496.8,1082.7 496.8,1086.5 500.8,1089.8 502.1,1086.9 505.4,1088.9 506.6,1093.2 510.7,1094.8 510.8,1091 513.9,1091.5 516.1,1095.7 519.7,1095.5 518.6,1091.2 521.2,1090.3" fill="none" stroke="#000" stroke-width="1" />
</g>
<path d="M448.2 1119A23.7 13.7 60 0 0 448.2 1091.6A23.7 13.7 60 0 0 424.5 1077.9L371.2 1108.7A23.7 13.7 60 0 0 371.2 1136A23.7 13.7 60 0 0 394.9 1149.7Z" fill="#fff" stroke="#000" stroke-width="1.1" />
<ellipse cx="383" cy="1129.2" rx="23.7" ry="13.7" transform="rotate(60 383 1129.2)" fill="#fff" stroke="#000" stroke-width="1.1" />
<path d="M444 1121.2A23.7 13.7 60 0 0 445.1 1093.4A23.7 13.7 60 0 0 420.4 1080.3" fill="none" stroke="#000" stroke-width="0.9" />
<polygon points="401.5,1161.2 403.5,1159.8 405.3,1162.2 407.4,1159.8 405.7,1157.4 407.1,1155.1 409.1,1157 410.3,1153.6 408.3,1151.6 408.9,1148.6 411.1,1149.9 411.3,1145.8 409.2,1144.3 409,1140.7 411.1,1141.4 410.4,1136.8 408.3,1136 407.4,1132.1 409.3,1132.1 407.6,1127.3 405.7,1127.2 404,1123.3 405.6,1122.6 403.2,1117.9 401.5,1118.5 399.3,1114.9 400.4,1113.5 397.4,1109.3 396.1,1110.6 393.4,1107.5 394.1,1105.5 390.6,1102.1 389.8,1103.9 386.9,1101.5 387,1099.1 383.3,1096.7 383,1099 380,1097.5 379.6,1094.8 375.9,1093.5 376.3,1096.1 373.4,1095.6 372.4,1092.8 369.1,1092.7 370,1095.5 367.4,1095.9 366,1093.3 363.2,1094.5 364.5,1097.2 362.5,1098.6 360.7,1096.2 358.7,1098.6 360.4,1101 359,1103.3 357,1101.4 355.8,1104.8 357.8,1106.8 357.2,1109.8 355,1108.5 354.8,1112.6 356.9,1114.1 357.1,1117.7 355,1117 355.7,1121.6 357.8,1122.4 358.7,1126.3 356.8,1126.3 358.4,1131.1 360.4,1131.2 362,1135.1 360.5,1135.8 362.9,1140.5 364.5,1139.9 366.8,1143.5 365.6,1144.9 368.7,1149.1 370,1147.8 372.6,1150.9 372,1152.9 375.5,1156.3 376.3,1154.5 379.2,1156.9 379.1,1159.3 382.8,1161.7 383,1159.4 386,1160.9 386.5,1163.6 390.1,1164.9 389.8,1162.3 392.7,1162.8 393.7,1165.6 397,1165.7 396.1,1162.9 398.6,1162.5 400.1,1165.1 402.9,1163.9" fill="#fff" stroke="#000" stroke-width="1.1" />
<polygon points="313.5,1163.1 312,1163.8 360.5,1135.8 362,1135.1" fill="#fff" stroke="#000" stroke-width="1" />
<polygon points="320.2,1177.1 321.5,1175.8 370,1147.8 368.7,1149.1" fill="#fff" stroke="#000" stroke-width="1" />
<polygon points="310.2,1154.3 308.3,1154.3 356.8,1126.3 358.7,1126.3" fill="#fff" stroke="#000" stroke-width="1" />
<polygon points="327,1184.3 327.8,1182.5 376.3,1154.5 375.5,1156.3" fill="#fff" stroke="#000" stroke-width="1" />
<polygon points="308.6,1145.7 306.5,1145 355,1117 357.1,1117.7" fill="#fff" stroke="#000" stroke-width="1" />
<polygon points="334.3,1189.7 334.5,1187.4 383,1159.4 382.8,1161.7" fill="#fff" stroke="#000" stroke-width="1" />
<polygon points="308.7,1137.8 306.5,1136.5 355,1108.5 357.2,1109.8" fill="#fff" stroke="#000" stroke-width="1" />
<polygon points="341.6,1192.9 341.3,1190.3 389.8,1162.3 390.1,1164.9" fill="#fff" stroke="#000" stroke-width="1" />
<polygon points="310.5,1131.3 308.5,1129.4 357,1101.4 359,1103.3" fill="#fff" stroke="#000" stroke-width="1" />
<polygon points="348.5,1193.7 347.6,1190.9 396.1,1162.9 397,1165.7" fill="#fff" stroke="#000" stroke-width="1" />
<polygon points="314,1126.6 312.2,1124.2 360.7,1096.2 362.5,1098.6" fill="#fff" stroke="#000" stroke-width="1" />
<polygon points="354.4,1191.9 353,1189.2 401.5,1161.2 402.9,1163.9" fill="#fff" stroke="#000" stroke-width="1" />
<polygon points="353,1189.2 355,1187.8 403.5,1159.8 401.5,1161.2" fill="#fff" stroke="#000" stroke-width="1" />
<polygon points="317.5,1121.3 314.7,1122.5 363.2,1094.5 366,1093.3" fill="#fff" stroke="#000" stroke-width="1" />
<polygon points="318.9,1123.9 317.5,1121.3 366,1093.3 367.4,1095.9" fill="#fff" stroke="#000" stroke-width="1" />
<polygon points="356.8,1190.2 358.9,1187.8 407.4,1159.8 405.3,1162.2" fill="#fff" stroke="#000" stroke-width="1" />
<polygon points="321.5,1123.5 318.9,1123.9 367.4,1095.9 370,1095.5" fill="#fff" stroke="#000" stroke-width="1" />
<polygon points="358.9,1187.8 357.2,1185.4 405.7,1157.4 407.4,1159.8" fill="#fff" stroke="#000" stroke-width="1" />
<polygon points="357.2,1185.4 358.6,1183.1 407.1,1155.1 405.7,1157.4" fill="#fff" stroke="#000" stroke-width="1" />
<polygon points="323.9,1120.8 320.6,1120.7 369.1,1092.7 372.4,1092.8" fill="#fff" stroke="#000" stroke-width="1" />
<polygon points="324.9,1123.6 323.9,1120.8 372.4,1092.8 373.4,1095.6" fill="#fff" stroke="#000" stroke-width="1" />
<polygon points="327.8,1124.1 324.9,1123.6 373.4,1095.6 376.3,1096.1" fill="#fff" stroke="#000" stroke-width="1" />
<polygon points="360.6,1185 361.8,1181.6 410.3,1153.6 409.1,1157" fill="#fff" stroke="#000" stroke-width="1" />
<polygon points="361.8,1181.6 359.8,1179.6 408.3,1151.6 410.3,1153.6" fill="#fff" stroke="#000" stroke-width="1" />
<polygon points="359.8,1179.6 360.4,1176.6 408.9,1148.6 408.3,1151.6" fill="#fff" stroke="#000" stroke-width="1" />
<polygon points="331.1,1122.8 327.4,1121.5 375.9,1093.5 379.6,1094.8" fill="#fff" stroke="#000" stroke-width="1" />
<polygon points="331.5,1125.5 331.1,1122.8 379.6,1094.8 380,1097.5" fill="#fff" stroke="#000" stroke-width="1" />
<polygon points="334.5,1127 331.5,1125.5 380,1097.5 383,1099" fill="#fff" stroke="#000" stroke-width="1" />
<polygon points="362.6,1177.9 362.8,1173.8 411.3,1145.8 411.1,1149.9" fill="#fff" stroke="#000" stroke-width="1" />
<polygon points="362.8,1173.8 360.7,1172.3 409.2,1144.3 411.3,1145.8" fill="#fff" stroke="#000" stroke-width="1" />
<polygon points="360.7,1172.3 360.5,1168.7 409,1140.7 409.2,1144.3" fill="#fff" stroke="#000" stroke-width="1" />
<polygon points="338.5,1127.1 334.8,1124.7 383.3,1096.7 387,1099.1" fill="#fff" stroke="#000" stroke-width="1" />
<polygon points="338.4,1129.5 338.5,1127.1 387,1099.1 386.9,1101.5" fill="#fff" stroke="#000" stroke-width="1" />
<polygon points="341.3,1131.9 338.4,1129.5 386.9,1101.5 389.8,1103.9" fill="#fff" stroke="#000" stroke-width="1" />
<polygon points="359.8,1164 358.9,1160.1 407.4,1132.1 408.3,1136" fill="#fff" stroke="#000" stroke-width="1" />
<polygon points="362.6,1169.4 361.9,1164.8 410.4,1136.8 411.1,1141.4" fill="#fff" stroke="#000" stroke-width="1" />
<polygon points="361.9,1164.8 359.8,1164 408.3,1136 410.4,1136.8" fill="#fff" stroke="#000" stroke-width="1" />
<polygon points="347.6,1138.6 344.9,1135.5 393.4,1107.5 396.1,1110.6" fill="#fff" stroke="#000" stroke-width="1" />
<polygon points="344.9,1135.5 345.6,1133.5 394.1,1105.5 393.4,1107.5" fill="#fff" stroke="#000" stroke-width="1" />
<polygon points="345.6,1133.5 342.1,1130.1 390.6,1102.1 394.1,1105.5" fill="#fff" stroke="#000" stroke-width="1" />
<polygon points="357.2,1155.2 355.5,1151.3 404,1123.3 405.7,1127.2" fill="#fff" stroke="#000" stroke-width="1" />
<polygon points="353,1146.5 350.8,1142.9 399.3,1114.9 401.5,1118.5" fill="#fff" stroke="#000" stroke-width="1" />
<polygon points="359.1,1155.3 357.2,1155.2 405.7,1127.2 407.6,1127.3" fill="#fff" stroke="#000" stroke-width="1" />
<polygon points="360.8,1160.1 359.1,1155.3 407.6,1127.3 409.3,1132.1" fill="#fff" stroke="#000" stroke-width="1" />
<polygon points="350.8,1142.9 351.9,1141.5 400.4,1113.5 399.3,1114.9" fill="#fff" stroke="#000" stroke-width="1" />
<polygon points="354.7,1145.9 353,1146.5 401.5,1118.5 403.2,1117.9" fill="#fff" stroke="#000" stroke-width="1" />
<polygon points="351.9,1141.5 348.9,1137.3 397.4,1109.3 400.4,1113.5" fill="#fff" stroke="#000" stroke-width="1" />
<polygon points="357.1,1150.6 354.7,1145.9 403.2,1117.9 405.6,1122.6" fill="#fff" stroke="#000" stroke-width="1" />
<polygon points="353,1189.2 355,1187.8 356.8,1190.2 358.9,1187.8 357.2,1185.4 358.6,1183.1 360.6,1185 361.8,1181.6 359.8,1179.6 360.4,1176.6 362.6,1177.9 362.8,1173.8 360.7,1172.3 360.5,1168.7 362.6,1169.4 361.9,1164.8 359.8,1164 358.9,1160.1 360.8,1160.1 359.1,1155.3 357.2,1155.2 355.5,1151.3 357.1,1150.6 354.7,1145.9 353,1146.5 350.8,1142.9 351.9,1141.5 348.9,1137.3 347.6,1138.6 344.9,1135.5 345.6,1133.5 342.1,1130.1 341.3,1131.9 338.4,1129.5 338.5,1127.1 334.8,1124.7 334.5,1127 331.5,1125.5 331.1,1122.8 327.4,1121.5 327.8,1124.1 324.9,1123.6 323.9,1120.8 320.6,1120.7 321.5,1123.5 318.9,1123.9 317.5,1121.3 314.7,1122.5 316,1125.2 314,1126.6 312.2,1124.2 310.2,1126.6 311.9,1129 310.5,1131.3 308.5,1129.4 307.3,1132.8 309.3,1134.8 308.7,1137.8 306.5,1136.5 306.3,1140.6 308.4,1142.1 308.6,1145.7 306.5,1145 307.2,1149.6 309.3,1150.4 310.2,1154.3 308.3,1154.3 309.9,1159.1 311.9,1159.2 313.5,1163.1 312,1163.8 314.4,1168.5 316,1167.9 318.3,1171.5 317.1,1172.9 320.2,1177.1 321.5,1175.8 324.2,1178.9 323.5,1180.9 327,1184.3 327.8,1182.5 330.7,1184.9 330.6,1187.3 334.3,1189.7 334.5,1187.4 337.5,1188.9 338,1191.6 341.6,1192.9 341.3,1190.3 344.2,1190.8 345.2,1193.6 348.5,1193.7 347.6,1190.9 350.1,1190.5 351.6,1193.1 354.4,1191.9" fill="#fff" stroke="#000" stroke-width="1.1" />
<path d="M351.5 1186.6A34 19.6 60 0 0 351.5 1147.4A34 19.6 60 0 0 317.5 1127.8L300.2 1137.8A34 19.6 60 0 0 300.2 1177A34 19.6 60 0 0 334.2 1196.6Z" fill="#fff" stroke="#000" stroke-width="1.1" />
<ellipse cx="317.2" cy="1167.2" rx="34" ry="19.6" transform="rotate(60 317.2 1167.2)" fill="#fff" stroke="#000" stroke-width="1.1" />
<polygon points="335.7,1199.2 337.7,1197.8 339.5,1200.2 341.6,1197.8 339.9,1195.4 341.2,1193.1 343.3,1195 344.5,1191.6 342.5,1189.6 343.1,1186.6 345.2,1187.9 345.5,1183.8 343.4,1182.3 343.2,1178.7 345.3,1179.4 344.6,1174.8 342.5,1174 341.5,1170.1 343.4,1170.1 341.8,1165.3 339.9,1165.2 338.2,1161.3 339.8,1160.6 337.4,1155.9 335.7,1156.5 333.5,1152.9 334.6,1151.5 331.6,1147.3 330.3,1148.6 327.6,1145.5 328.3,1143.5 324.8,1140.1 324,1141.9 321,1139.5 321.1,1137.1 317.4,1134.7 317.2,1137 314.2,1135.5 313.8,1132.8 310.1,1131.5 310.5,1134.1 307.6,1133.6 306.6,1130.8 303.3,1130.7 304.1,1133.5 301.6,1133.9 300.2,1131.3 297.4,1132.5 298.7,1135.2 296.7,1136.6 294.9,1134.2 292.8,1136.6 294.6,1139 293.2,1141.3 291.2,1139.4 290,1142.8 292,1144.8 291.3,1147.8 289.2,1146.5 288.9,1150.6 291.1,1152.1 291.2,1155.7 289.2,1155 289.8,1159.6 292,1160.4 292.9,1164.3 291,1164.3 292.6,1169.1 294.6,1169.2 296.2,1173.1 294.6,1173.8 297.1,1178.5 298.7,1177.9 301,1181.5 299.8,1182.9 302.9,1187.1 304.1,1185.8 306.8,1188.9 306.2,1190.9 309.7,1194.3 310.5,1192.5 313.4,1194.9 313.3,1197.3 317,1199.7 317.2,1197.4 320.2,1198.9 320.7,1201.6 324.3,1202.9 324,1200.3 326.9,1200.8 327.8,1203.6 331.2,1203.7 330.3,1200.9 332.8,1200.5 334.3,1203.1 337.1,1201.9" fill="#fff" stroke="#000" stroke-width="1.1" />
<polygon points="227.8,1212.6 226.2,1213.3 294.6,1173.8 296.2,1173.1" fill="#fff" stroke="#000" stroke-width="1" />
<polygon points="234.5,1226.6 235.7,1225.3 304.1,1185.8 302.9,1187.1" fill="#fff" stroke="#000" stroke-width="1" />
<polygon points="224.5,1203.8 222.6,1203.8 291,1164.3 292.9,1164.3" fill="#fff" stroke="#000" stroke-width="1" />
<polygon points="241.3,1233.8 242,1232 310.5,1192.5 309.7,1194.3" fill="#fff" stroke="#000" stroke-width="1" />
<polygon points="222.8,1195.2 220.7,1194.5 289.2,1155 291.2,1155.7" fill="#fff" stroke="#000" stroke-width="1" />
<polygon points="248.6,1239.2 248.8,1236.9 317.2,1197.4 317,1199.7" fill="#fff" stroke="#000" stroke-width="1" />
<polygon points="222.9,1187.3 220.8,1186 289.2,1146.5 291.3,1147.8" fill="#fff" stroke="#000" stroke-width="1" />
<polygon points="255.9,1242.4 255.6,1239.8 324,1200.3 324.3,1202.9" fill="#fff" stroke="#000" stroke-width="1" />
<polygon points="224.8,1180.8 222.8,1178.9 291.2,1139.4 293.2,1141.3" fill="#fff" stroke="#000" stroke-width="1" />
<polygon points="262.8,1243.2 261.9,1240.4 330.3,1200.9 331.2,1203.7" fill="#fff" stroke="#000" stroke-width="1" />
<polygon points="228.3,1176.1 226.5,1173.7 294.9,1134.2 296.7,1136.6" fill="#fff" stroke="#000" stroke-width="1" />
<polygon points="268.6,1241.4 267.3,1238.7 335.7,1199.2 337.1,1201.9" fill="#fff" stroke="#000" stroke-width="1" />
<polygon points="267.3,1238.7 269.3,1237.3 337.7,1197.8 335.7,1199.2" fill="#fff" stroke="#000" stroke-width="1" />
<polygon points="231.8,1170.8 229,1172 297.4,1132.5 300.2,1131.3" fill="#fff" stroke="#000" stroke-width="1" />
<polygon points="233.2,1173.4 231.8,1170.8 300.2,1131.3 301.6,1133.9" fill="#fff" stroke="#000" stroke-width="1" />
<polygon points="271.1,1239.7 273.2,1237.3 341.6,1197.8 339.5,1200.2" fill="#fff" stroke="#000" stroke-width="1" />
<polygon points="235.7,1173 233.2,1173.4 301.6,1133.9 304.1,1133.5" fill="#fff" stroke="#000" stroke-width="1" />
<polygon points="273.2,1237.3 271.5,1234.9 339.9,1195.4 341.6,1197.8" fill="#fff" stroke="#000" stroke-width="1" />
<polygon points="271.5,1234.9 272.8,1232.6 341.2,1193.1 339.9,1195.4" fill="#fff" stroke="#000" stroke-width="1" />
<polygon points="238.2,1170.3 234.9,1170.2 303.3,1130.7 306.6,1130.8" fill="#fff" stroke="#000" stroke-width="1" />
<polygon points="239.2,1173.1 238.2,1170.3 306.6,1130.8 307.6,1133.6" fill="#fff" stroke="#000" stroke-width="1" />
<polygon points="242,1173.6 239.2,1173.1 307.6,1133.6 310.5,1134.1" fill="#fff" stroke="#000" stroke-width="1" />
<polygon points="274.9,1234.5 276.1,1231.1 344.5,1191.6 343.3,1195" fill="#fff" stroke="#000" stroke-width="1" />
<polygon points="276.1,1231.1 274.1,1229.1 342.5,1189.6 344.5,1191.6" fill="#fff" stroke="#000" stroke-width="1" />
<polygon points="274.1,1229.1 274.7,1226.1 343.1,1186.6 342.5,1189.6" fill="#fff" stroke="#000" stroke-width="1" />
<polygon points="245.3,1172.3 241.7,1171 310.1,1131.5 313.8,1132.8" fill="#fff" stroke="#000" stroke-width="1" />
<polygon points="245.8,1175 245.3,1172.3 313.8,1132.8 314.2,1135.5" fill="#fff" stroke="#000" stroke-width="1" />
<polygon points="248.8,1176.5 245.8,1175 314.2,1135.5 317.2,1137" fill="#fff" stroke="#000" stroke-width="1" />
<polygon points="276.8,1227.4 277.1,1223.3 345.5,1183.8 345.2,1187.9" fill="#fff" stroke="#000" stroke-width="1" />
<polygon points="277.1,1223.3 275,1221.8 343.4,1182.3 345.5,1183.8" fill="#fff" stroke="#000" stroke-width="1" />
<polygon points="275,1221.8 274.8,1218.2 343.2,1178.7 343.4,1182.3" fill="#fff" stroke="#000" stroke-width="1" />
<polygon points="252.7,1176.6 249,1174.2 317.4,1134.7 321.1,1137.1" fill="#fff" stroke="#000" stroke-width="1" />
<polygon points="252.6,1179 252.7,1176.6 321.1,1137.1 321,1139.5" fill="#fff" stroke="#000" stroke-width="1" />
<polygon points="255.6,1181.4 252.6,1179 321,1139.5 324,1141.9" fill="#fff" stroke="#000" stroke-width="1" />
<polygon points="274.1,1213.5 273.1,1209.6 341.5,1170.1 342.5,1174" fill="#fff" stroke="#000" stroke-width="1" />
<polygon points="276.9,1218.9 276.2,1214.3 344.6,1174.8 345.3,1179.4" fill="#fff" stroke="#000" stroke-width="1" />
<polygon points="276.2,1214.3 274.1,1213.5 342.5,1174 344.6,1174.8" fill="#fff" stroke="#000" stroke-width="1" />
<polygon points="261.9,1188.1 259.2,1185 327.6,1145.5 330.3,1148.6" fill="#fff" stroke="#000" stroke-width="1" />
<polygon points="259.2,1185 259.8,1183 328.3,1143.5 327.6,1145.5" fill="#fff" stroke="#000" stroke-width="1" />
<polygon points="259.8,1183 256.3,1179.6 324.8,1140.1 328.3,1143.5" fill="#fff" stroke="#000" stroke-width="1" />
<polygon points="271.5,1204.7 269.8,1200.8 338.2,1161.3 339.9,1165.2" fill="#fff" stroke="#000" stroke-width="1" />
<polygon points="267.3,1196 265.1,1192.4 333.5,1152.9 335.7,1156.5" fill="#fff" stroke="#000" stroke-width="1" />
<polygon points="273.4,1204.8 271.5,1204.7 339.9,1165.2 341.8,1165.3" fill="#fff" stroke="#000" stroke-width="1" />
<polygon points="275,1209.6 273.4,1204.8 341.8,1165.3 343.4,1170.1" fill="#fff" stroke="#000" stroke-width="1" />
<polygon points="265.1,1192.4 266.2,1191 334.6,1151.5 333.5,1152.9" fill="#fff" stroke="#000" stroke-width="1" />
<polygon points="269,1195.4 267.3,1196 335.7,1156.5 337.4,1155.9" fill="#fff" stroke="#000" stroke-width="1" />
<polygon points="266.2,1191 263.1,1186.8 331.6,1147.3 334.6,1151.5" fill="#fff" stroke="#000" stroke-width="1" />
<polygon points="271.4,1200.1 269,1195.4 337.4,1155.9 339.8,1160.6" fill="#fff" stroke="#000" stroke-width="1" />
<polygon points="267.3,1238.7 269.3,1237.3 271.1,1239.7 273.2,1237.3 271.5,1234.9 272.8,1232.6 274.9,1234.5 276.1,1231.1 274.1,1229.1 274.7,1226.1 276.8,1227.4 277.1,1223.3 275,1221.8 274.8,1218.2 276.9,1218.9 276.2,1214.3 274.1,1213.5 273.1,1209.6 275,1209.6 273.4,1204.8 271.5,1204.7 269.8,1200.8 271.4,1200.1 269,1195.4 267.3,1196 265.1,1192.4 266.2,1191 263.1,1186.8 261.9,1188.1 259.2,1185 259.8,1183 256.3,1179.6 255.6,1181.4 252.6,1179 252.7,1176.6 249,1174.2 248.8,1176.5 245.8,1175 245.3,1172.3 241.7,1171 242,1173.6 239.2,1173.1 238.2,1170.3 234.9,1170.2 235.7,1173 233.2,1173.4 231.8,1170.8 229,1172 230.3,1174.7 228.3,1176.1 226.5,1173.7 224.4,1176.1 226.1,1178.5 224.8,1180.8 222.8,1178.9 221.5,1182.3 223.5,1184.3 222.9,1187.3 220.8,1186 220.5,1190.1 222.6,1191.6 222.8,1195.2 220.7,1194.5 221.4,1199.1 223.5,1199.9 224.5,1203.8 222.6,1203.8 224.2,1208.6 226.1,1208.7 227.8,1212.6 226.2,1213.3 228.6,1218 230.3,1217.4 232.6,1221 231.4,1222.4 234.5,1226.6 235.7,1225.3 238.4,1228.4 237.8,1230.4 241.3,1233.8 242,1232 245,1234.4 244.9,1236.8 248.6,1239.2 248.8,1236.9 251.8,1238.4 252.3,1241.1 255.9,1242.4 255.6,1239.8 258.4,1240.3 259.4,1243.1 262.8,1243.2 261.9,1240.4 264.4,1240 265.8,1242.6 268.6,1241.4" fill="#fff" stroke="#000" stroke-width="1.1" />
<path d="M267.7 1239.4A37.8 21.8 60 0 0 267.7 1195.8A37.8 21.8 60 0 0 229.9 1174L212.6 1184A37.8 21.8 60 0 0 212.6 1227.6A37.8 21.8 60 0 0 250.4 1249.4Z" fill="#fff" stroke="#000" stroke-width="1.1" />
<ellipse cx="231.5" cy="1216.7" rx="37.8" ry="21.8" transform="rotate(60 231.5 1216.7)" fill="#fff" stroke="#000" stroke-width="1.1" />
<ellipse cx="237.5" cy="1182.3" rx="2.2" ry="1.6" fill="#fff" stroke="#000" stroke-width="1"/>
<path d="M246.5 1242.7A30 17.3 60 0 0 246.5 1208A30 17.3 60 0 0 216.5 1190.7L145.5 1231.7A30 17.3 60 0 0 145.5 1266.4A30 17.3 60 0 0 175.5 1283.7Z" fill="#fff" stroke="#000" stroke-width="1.1" />
<ellipse cx="160.5" cy="1257.7" rx="30" ry="17.3" transform="rotate(60 160.5 1257.7)" fill="#fff" stroke="#000" stroke-width="1.1" />
<polygon points="175,1282.8 178.3,1279.7 181.5,1283.3 183.1,1280.3 179.8,1276.7 180.9,1271.2 184.5,1273.2 184.4,1268.8 180.8,1266.8 179.5,1260 182.7,1260 181,1255.1 177.8,1255.1 174.4,1248.3 176.5,1246.3 173.5,1241.9 171.4,1243.9 166.5,1238.5 167.2,1234.9 163.5,1231.9 162.8,1235.5 157.4,1232.5 156.5,1228 152.8,1227 153.7,1231.4 148.9,1231.5 146.6,1227 143.7,1228.1 146,1232.6 142.7,1235.7 139.5,1232.1 137.9,1235.1 141.1,1238.7 140,1244.2 136.5,1242.2 136.5,1246.6 140.1,1248.6 141.4,1255.4 138.2,1255.4 139.9,1260.3 143.1,1260.3 146.6,1267.1 144.4,1269.1 147.4,1273.5 149.6,1271.5 154.5,1276.9 153.8,1280.5 157.5,1283.5 158.2,1279.9 163.6,1282.9 164.4,1287.4 168.1,1288.4 167.2,1284 172.1,1283.9 174.3,1288.4 177.2,1287.3" fill="#fff" stroke="#000" stroke-width="1.1" />
<polygon points="117.1,1291 119.3,1289 149.6,1271.5 147.4,1273.5" fill="#fff" stroke="#000" stroke-width="1" />
<polygon points="111.1,1272.9 107.9,1272.9 138.2,1255.4 141.4,1255.4" fill="#fff" stroke="#000" stroke-width="1" />
<polygon points="127.1,1301 127.9,1297.4 158.2,1279.9 157.5,1283.5" fill="#fff" stroke="#000" stroke-width="1" />
<polygon points="109.7,1261.7 106.2,1259.7 136.5,1242.2 140,1244.2" fill="#fff" stroke="#000" stroke-width="1" />
<polygon points="137.8,1305.9 136.9,1301.5 167.2,1284 168.1,1288.4" fill="#fff" stroke="#000" stroke-width="1" />
<polygon points="112.4,1253.2 109.1,1249.6 139.5,1232.1 142.7,1235.7" fill="#fff" stroke="#000" stroke-width="1" />
<polygon points="146.9,1304.8 144.7,1300.3 175,1282.8 177.2,1287.3" fill="#fff" stroke="#000" stroke-width="1" />
<polygon points="116.3,1244.5 113.4,1245.6 143.7,1228.1 146.6,1227" fill="#fff" stroke="#000" stroke-width="1" />
<polygon points="144.7,1300.3 147.9,1297.2 178.3,1279.7 175,1282.8" fill="#fff" stroke="#000" stroke-width="1" />
<polygon points="118.6,1249 116.3,1244.5 146.6,1227 148.9,1231.5" fill="#fff" stroke="#000" stroke-width="1" />
<polygon points="123.4,1248.9 118.6,1249 148.9,1231.5 153.7,1231.4" fill="#fff" stroke="#000" stroke-width="1" />
<polygon points="151.2,1300.8 152.7,1297.8 183.1,1280.3 181.5,1283.3" fill="#fff" stroke="#000" stroke-width="1" />
<polygon points="152.7,1297.8 149.5,1294.2 179.8,1276.7 183.1,1280.3" fill="#fff" stroke="#000" stroke-width="1" />
<polygon points="149.5,1294.2 150.6,1288.7 180.9,1271.2 179.8,1276.7" fill="#fff" stroke="#000" stroke-width="1" />
<polygon points="126.2,1245.5 122.5,1244.5 152.8,1227 156.5,1228" fill="#fff" stroke="#000" stroke-width="1" />
<polygon points="127,1250 126.2,1245.5 156.5,1228 157.4,1232.5" fill="#fff" stroke="#000" stroke-width="1" />
<polygon points="132.5,1253 127,1250 157.4,1232.5 162.8,1235.5" fill="#fff" stroke="#000" stroke-width="1" />
<polygon points="154.2,1290.7 154.1,1286.3 184.4,1268.8 184.5,1273.2" fill="#fff" stroke="#000" stroke-width="1" />
<polygon points="154.1,1286.3 150.5,1284.3 180.8,1266.8 184.4,1268.8" fill="#fff" stroke="#000" stroke-width="1" />
<polygon points="150.5,1284.3 149.2,1277.5 179.5,1260 180.8,1266.8" fill="#fff" stroke="#000" stroke-width="1" />
<polygon points="141.1,1261.4 136.1,1256 166.5,1238.5 171.4,1243.9" fill="#fff" stroke="#000" stroke-width="1" />
<polygon points="136.1,1256 136.9,1252.4 167.2,1234.9 166.5,1238.5" fill="#fff" stroke="#000" stroke-width="1" />
<polygon points="136.9,1252.4 133.2,1249.4 163.5,1231.9 167.2,1234.9" fill="#fff" stroke="#000" stroke-width="1" />
<polygon points="147.5,1272.6 144.1,1265.8 174.4,1248.3 177.8,1255.1" fill="#fff" stroke="#000" stroke-width="1" />
<polygon points="150.7,1272.6 147.5,1272.6 177.8,1255.1 181,1255.1" fill="#fff" stroke="#000" stroke-width="1" />
<polygon points="144.1,1265.8 146.2,1263.8 176.5,1246.3 174.4,1248.3" fill="#fff" stroke="#000" stroke-width="1" />
<polygon points="152.4,1277.5 150.7,1272.6 181,1255.1 182.7,1260" fill="#fff" stroke="#000" stroke-width="1" />
<polygon points="146.2,1263.8 143.2,1259.4 173.5,1241.9 176.5,1246.3" fill="#fff" stroke="#000" stroke-width="1" />
<polygon points="144.7,1300.3 147.9,1297.2 151.2,1300.8 152.7,1297.8 149.5,1294.2 150.6,1288.7 154.2,1290.7 154.1,1286.3 150.5,1284.3 149.2,1277.5 152.4,1277.5 150.7,1272.6 147.5,1272.6 144.1,1265.8 146.2,1263.8 143.2,1259.4 141.1,1261.4 136.1,1256 136.9,1252.4 133.2,1249.4 132.5,1253 127,1250 126.2,1245.5 122.5,1244.5 123.4,1248.9 118.6,1249 116.3,1244.5 113.4,1245.6 115.7,1250.1 112.4,1253.2 109.1,1249.6 107.6,1252.6 110.8,1256.2 109.7,1261.7 106.2,1259.7 106.2,1264.1 109.8,1266.1 111.1,1272.9 107.9,1272.9 109.6,1277.8 112.8,1277.8 116.3,1284.6 114.1,1286.6 117.1,1291 119.3,1289 124.2,1294.4 123.5,1298 127.1,1301 127.9,1297.4 133.3,1300.4 134.1,1304.9 137.8,1305.9 136.9,1301.5 141.8,1301.4 144,1305.9 146.9,1304.8" fill="#fff" stroke="#000" stroke-width="1.1" />
<path d="M142.9 1297.3A25.5 14.7 60 0 0 142.9 1267.8A25.5 14.7 60 0 0 117.4 1253.1L108.8 1258.1A25.5 14.7 60 0 0 108.8 1287.6A25.5 14.7 60 0 0 134.2 1302.3Z" fill="#fff" stroke="#000" stroke-width="1.1" />
<ellipse cx="121.5" cy="1280.2" rx="25.5" ry="14.7" transform="rotate(60 121.5 1280.2)" fill="#fff" stroke="#000" stroke-width="1.1" />
<ellipse cx="121.5" cy="1280.2" rx="19" ry="11" transform="rotate(60 121.5 1280.2)" fill="none" stroke="#000" stroke-width="1.1" />
<ellipse cx="121.5" cy="1280.2" rx="14" ry="8.1" transform="rotate(60 121.5 1280.2)" fill="#fff" stroke="#000" stroke-width="1.1" />
<clipPath id="c49"><ellipse cx="121.5" cy="1280.2" rx="14" ry="8.1" transform="rotate(60 121.5 1280.2)"/></clipPath>
<g clip-path="url(#c49)">
<ellipse cx="125" cy="1278.2" rx="11" ry="6.4" transform="rotate(60 125 1278.2)" fill="none" stroke="#000" stroke-width="0.9" />
</g>
<path d="M1030.3 1010.6A28.3 16.3 60 0 0 1036.2 1059.6A28.3 16.3 60 0 0 1036.5 1013.7L1036.3 1016.2A25.1 14.5 60 0 1 1036 1056.9A25.1 14.5 60 0 1 1030.8 1013.4Z" fill="#fff" stroke="#000" stroke-width="1.1" />
<path d="M1029.9 1011.7A26.9 15.5 60 0 0 1036.1 1058.3A26.9 15.5 60 0 0 1037.1 1015.3" fill="none" stroke="#000" stroke-width="0.8" />
<path d="M1020.8 1015.8A25.1 14.5 60 0 0 1045.1 1057.8" fill="none" stroke="#000" stroke-width="0.8" />
<path d="M1008.2 1086.8A30.8 17.8 60 0 0 1008.2 1051.2A30.8 17.8 60 0 0 977.4 1033.4L973.9 1035.4A30.8 17.8 60 0 0 973.9 1071A30.8 17.8 60 0 0 1004.7 1088.8Z" fill="#fff" stroke="#000" stroke-width="1.1" />
<ellipse cx="989.3" cy="1062.1" rx="30.8" ry="17.8" transform="rotate(60 989.3 1062.1)" fill="#fff" stroke="#000" stroke-width="1.1" />
<polygon points="989.3,1097.5 991.9,1094.4 1009.2,1084.4 1006.6,1087.5" fill="#fff" stroke="#000" stroke-width="0.9" />
<polygon points="993.2,1090.8 994.5,1087.1 1007.5,1079.6 1006.2,1083.3" fill="#fff" stroke="#000" stroke-width="0.8" />
<polygon points="993.9,1088.3 994.2,1082.9 1011.5,1072.9 1011.2,1078.3" fill="#fff" stroke="#000" stroke-width="0.9" />
<polygon points="994.8,1079.7 994,1074.6 1007,1067.1 1007.8,1072.2" fill="#fff" stroke="#000" stroke-width="0.8" />
<polygon points="992.8,1074.7 990.6,1068.5 1007.9,1058.5 1010.1,1064.7" fill="#fff" stroke="#000" stroke-width="0.9" />
<polygon points="991,1066.1 988.3,1061.1 1001.3,1053.6 1004,1058.6" fill="#fff" stroke="#000" stroke-width="0.8" />
<polygon points="986.2,1060.3 982.2,1055 999.5,1045 1003.5,1050.3" fill="#fff" stroke="#000" stroke-width="0.9" />
<polygon points="982.8,1053.8 978.9,1050.1 991.9,1042.6 995.8,1046.3" fill="#fff" stroke="#000" stroke-width="0.8" />
<polygon points="975.9,1049.1 971.2,1046 988.5,1036 993.3,1039.1" fill="#fff" stroke="#000" stroke-width="0.9" />
<polygon points="972.4,1045.9 968.4,1044.6 981.4,1037.1 985.3,1038.4" fill="#fff" stroke="#000" stroke-width="0.8" />
<polygon points="964.7,1043.9 960.5,1043.9 977.8,1033.9 982,1033.9" fill="#fff" stroke="#000" stroke-width="0.9" />
<polygon points="962.5,1044.7 959.5,1046.1 972.5,1038.6 975.5,1037.2" fill="#fff" stroke="#000" stroke-width="0.8" />
<path d="M988.3 1098.3A30.8 17.8 60 0 0 988.3 1062.7A30.8 17.8 60 0 0 957.5 1044.9L954 1046.9A30.8 17.8 60 0 0 954 1082.5A30.8 17.8 60 0 0 984.8 1100.3Z" fill="#fff" stroke="#000" stroke-width="1.1" />
<ellipse cx="969.4" cy="1073.6" rx="30.8" ry="17.8" transform="rotate(60 969.4 1073.6)" fill="#fff" stroke="#000" stroke-width="1.1" />
<ellipse cx="969.4" cy="1073.6" rx="26.3" ry="15.2" transform="rotate(60 969.4 1073.6)" fill="#fff" stroke="#000" stroke-width="1.3" />
<clipPath id="c50"><ellipse cx="969.4" cy="1073.6" rx="26.3" ry="15.2" transform="rotate(60 969.4 1073.6)"/></clipPath>
<g clip-path="url(#c50)">
<ellipse cx="972.9" cy="1071.6" rx="26.3" ry="15.2" transform="rotate(60 972.9 1071.6)" fill="none" stroke="#000" stroke-width="0.9" />
<polygon points="987.6,1092.2 990,1089 1005.6,1080 1003.2,1083.2" fill="#fff" stroke="#000" stroke-width="0.9" />
<polygon points="967.4,1048.1 963.3,1048.3 978.9,1039.3 983,1039.1" fill="#fff" stroke="#000" stroke-width="0.9" />
<polygon points="959.9,1050 957.4,1053.2 973,1044.2 975.5,1041" fill="#fff" stroke="#000" stroke-width="0.9" />
<polygon points="956.1,1057.6 955.9,1062.9 971.5,1053.9 971.7,1048.6" fill="#fff" stroke="#000" stroke-width="0.9" />
<polygon points="957,1068.8 959.2,1074.8 974.8,1065.8 972.6,1059.8" fill="#fff" stroke="#000" stroke-width="0.9" />
<polygon points="962.4,1080.6 966.4,1085.7 982,1076.7 978,1071.6" fill="#fff" stroke="#000" stroke-width="0.9" />
<polygon points="970.8,1089.8 975.5,1092.7 991.1,1083.7 986.4,1080.8" fill="#fff" stroke="#000" stroke-width="0.9" />
<polygon points="980.1,1094.1 984.2,1093.9 999.8,1084.9 995.7,1085.1" fill="#fff" stroke="#000" stroke-width="0.9" />
<ellipse cx="989.3" cy="1062.1" rx="26.3" ry="15.2" transform="rotate(60 989.3 1062.1)" fill="none" stroke="#000" stroke-width="0.9" />
</g>
<path d="M940.1 1136.1A40.5 23.4 60 0 0 940.1 1089.3A40.5 23.4 60 0 0 899.6 1065.9L871.4 1082.2A40.5 23.4 60 0 0 871.4 1129A40.5 23.4 60 0 0 911.9 1152.4Z" fill="#fff" stroke="#000" stroke-width="1.1" />
<ellipse cx="891.6" cy="1117.3" rx="40.5" ry="23.4" transform="rotate(60 891.6 1117.3)" fill="#fff" stroke="#000" stroke-width="1.1" />
<ellipse cx="891.6" cy="1117.3" rx="32" ry="18.5" transform="rotate(60 891.6 1117.3)" fill="#fff" stroke="#000" stroke-width="1.1" />
<clipPath id="c51"><ellipse cx="891.6" cy="1117.3" rx="32" ry="18.5" transform="rotate(60 891.6 1117.3)"/></clipPath>
<g clip-path="url(#c51)">
<ellipse cx="919.8" cy="1101" rx="32" ry="18.5" transform="rotate(60 919.8 1101)" fill="none" stroke="#000" stroke-width="0.9" />
</g>
<ellipse cx="905.3" cy="1076.6" rx="3.9" ry="2.6" transform="rotate(-10 905.3 1076.6)" fill="#fff" stroke="#000" stroke-width="1"/>
<path d="M856.8 1183.2A38.8 22.4 60 0 0 856.8 1138.4A38.8 22.4 60 0 0 818 1116L816.3 1117A38.8 22.4 60 0 0 816.3 1161.8A38.8 22.4 60 0 0 855.1 1184.2Z" fill="#fff" stroke="#000" stroke-width="1.1" />
<ellipse cx="835.7" cy="1150.6" rx="38.8" ry="22.4" transform="rotate(60 835.7 1150.6)" fill="#fff" stroke="#000" stroke-width="1.1" />
<ellipse cx="835.7" cy="1150.6" rx="24.5" ry="14.1" transform="rotate(60 835.7 1150.6)" fill="#fff" stroke="#000" stroke-width="1.1" />
<clipPath id="c52"><ellipse cx="835.7" cy="1150.6" rx="24.5" ry="14.1" transform="rotate(60 835.7 1150.6)"/></clipPath>
<g clip-path="url(#c52)">
<ellipse cx="837.4" cy="1149.6" rx="24.5" ry="14.1" transform="rotate(60 837.4 1149.6)" fill="none" stroke="#000" stroke-width="0.9" />
</g>
<polygon points="798.7,1289.3 800.1,1288.4 807,1295.9 809.3,1294.1 805.2,1284.4 806.3,1283.3 813.6,1289.9 815.5,1287.5 810.5,1278.1 811.5,1276.6 818.9,1282.2 820.4,1279.3 814.7,1270.3 815.4,1268.6 823,1273 824,1269.7 817.7,1261.2 818.1,1259.3 825.6,1262.5 826.2,1258.7 819.4,1251 819.5,1248.9 826.8,1250.8 826.9,1246.7 819.7,1239.9 819.6,1237.6 826.5,1238.2 826.1,1233.9 818.7,1228.1 818.3,1225.7 824.8,1224.9 823.9,1220.4 816.4,1215.8 815.8,1213.3 821.6,1211.2 820.3,1206.6 812.8,1203.2 811.9,1200.6 817.1,1197.3 815.3,1192.7 808,1190.5 806.9,1188 811.3,1183.5 809.1,1179 802.1,1178.1 800.8,1175.7 804.3,1170 801.7,1165.7 795.1,1166.1 793.7,1163.8 796.2,1157.1 793.4,1153 787.3,1154.8 785.7,1152.6 787.3,1145 784.1,1141.2 778.8,1144.3 777,1142.3 777.6,1134 774.3,1130.6 769.7,1134.9 767.8,1133.2 767.3,1124.2 763.9,1121.3 760.2,1126.7 758.2,1125.2 756.7,1115.9 753.2,1113.4 750.4,1119.9 748.5,1118.8 746,1109.1 742.4,1107.3 740.6,1114.7 738.7,1113.8 735.3,1104.1 731.8,1102.8 731,1111 729.1,1110.5 724.8,1100.9 721.4,1100.2 721.6,1109.1 719.8,1108.9 714.7,1099.5 711.5,1099.5 712.8,1108.8 711.1,1109 705.3,1100.1 702.3,1100.7 704.6,1110.3 703.1,1110.8 696.6,1102.5 694,1103.7 697.2,1113.4 695.9,1114.3 689,1106.8 686.7,1108.6 690.8,1118.3 689.6,1119.4 682.4,1112.8 680.5,1115.2 685.4,1124.6 684.5,1126.1 677,1120.5 675.5,1123.4 681.2,1132.4 680.5,1134.1 673,1129.7 671.9,1133 678.2,1141.5 677.8,1143.4 670.3,1140.2 669.8,1144 676.6,1151.7 676.4,1153.8 669.1,1151.9 669.1,1156 676.2,1162.8 676.3,1165.1 669.4,1164.5 669.8,1168.8 677.3,1174.6 677.6,1177 671.1,1177.8 672,1182.3 679.6,1186.9 680.2,1189.4 674.3,1191.5 675.7,1196.1 683.2,1199.5 684,1202.1 678.9,1205.4 680.6,1210 688,1212.2 689.1,1214.7 684.7,1219.2 686.9,1223.7 693.9,1224.6 695.2,1227 691.7,1232.7 694.2,1237 700.8,1236.6 702.3,1238.9 699.7,1245.6 702.6,1249.7 708.6,1247.9 710.3,1250.1 708.7,1257.7 711.8,1261.5 717.2,1258.4 718.9,1260.4 718.4,1268.7 721.7,1272.1 726.3,1267.8 728.1,1269.5 728.6,1278.5 732.1,1281.4 735.8,1276 737.7,1277.5 739.2,1286.8 742.8,1289.3 745.5,1282.8 747.5,1283.9 750,1293.6 753.5,1295.4 755.3,1288 757.3,1288.9 760.7,1298.6 764.2,1299.9 765,1291.7 766.9,1292.2 771.2,1301.8 774.6,1302.5 774.3,1293.6 776.1,1293.8 781.2,1303.2 784.4,1303.2 783.2,1293.9 784.8,1293.7 790.7,1302.6 793.6,1302 791.3,1292.4 792.9,1291.9 799.3,1300.2 802,1299" fill="#fff" stroke="#000" stroke-width="1.1" />
<polygon points="660,1201.1 654.1,1203.1 674.3,1191.5 680.2,1189.4" fill="#fff" stroke="#000" stroke-width="1" />
<polygon points="701.5,1283.8 706.1,1279.5 726.3,1267.8 721.7,1272.1" fill="#fff" stroke="#000" stroke-width="1" />
<polygon points="657.4,1188.7 651,1189.4 671.1,1177.8 677.6,1177" fill="#fff" stroke="#000" stroke-width="1" />
<polygon points="711.9,1293.1 715.6,1287.6 735.8,1276 732.1,1281.4" fill="#fff" stroke="#000" stroke-width="1" />
<polygon points="656.2,1176.7 649.2,1176.2 669.4,1164.5 676.3,1165.1" fill="#fff" stroke="#000" stroke-width="1" />
<polygon points="722.6,1300.9 725.3,1294.4 745.5,1282.8 742.8,1289.3" fill="#fff" stroke="#000" stroke-width="1" />
<polygon points="656.2,1165.5 649,1163.6 669.1,1151.9 676.4,1153.8" fill="#fff" stroke="#000" stroke-width="1" />
<polygon points="733.3,1307.1 735.1,1299.7 755.3,1288 753.5,1295.4" fill="#fff" stroke="#000" stroke-width="1" />
<polygon points="657.6,1155.1 650.2,1151.9 670.3,1140.2 677.8,1143.4" fill="#fff" stroke="#000" stroke-width="1" />
<polygon points="744,1311.5 744.8,1303.3 765,1291.7 764.2,1299.9" fill="#fff" stroke="#000" stroke-width="1" />
<polygon points="660.3,1145.8 652.8,1141.4 673,1129.7 680.5,1134.1" fill="#fff" stroke="#000" stroke-width="1" />
<polygon points="754.4,1314.1 754.1,1305.3 774.3,1293.6 774.6,1302.5" fill="#fff" stroke="#000" stroke-width="1" />
<polygon points="664.3,1137.7 656.8,1132.2 677,1120.5 684.5,1126.1" fill="#fff" stroke="#000" stroke-width="1" />
<polygon points="764.2,1314.9 763,1305.5 783.2,1293.9 784.4,1303.2" fill="#fff" stroke="#000" stroke-width="1" />
<polygon points="669.4,1131.1 662.2,1124.5 682.4,1112.8 689.6,1119.4" fill="#fff" stroke="#000" stroke-width="1" />
<polygon points="773.4,1313.7 771.2,1304.1 791.3,1292.4 793.6,1302" fill="#fff" stroke="#000" stroke-width="1" />
<polygon points="675.7,1125.9 668.8,1118.4 689,1106.8 695.9,1114.3" fill="#fff" stroke="#000" stroke-width="1" />
<polygon points="781.8,1310.6 778.5,1300.9 798.7,1289.3 802,1299" fill="#fff" stroke="#000" stroke-width="1" />
<polygon points="778.5,1300.9 779.9,1300.1 800.1,1288.4 798.7,1289.3" fill="#fff" stroke="#000" stroke-width="1" />
<polygon points="676.5,1114.2 673.8,1115.4 694,1103.7 696.6,1102.5" fill="#fff" stroke="#000" stroke-width="1" />
<polygon points="786.8,1307.6 789.1,1305.8 809.3,1294.1 807,1295.9" fill="#fff" stroke="#000" stroke-width="1" />
<polygon points="682.9,1122.4 676.5,1114.2 696.6,1102.5 703.1,1110.8" fill="#fff" stroke="#000" stroke-width="1" />
<polygon points="684.4,1121.9 682.9,1122.4 703.1,1110.8 704.6,1110.3" fill="#fff" stroke="#000" stroke-width="1" />
<polygon points="789.1,1305.8 785,1296.1 805.2,1284.4 809.3,1294.1" fill="#fff" stroke="#000" stroke-width="1" />
<polygon points="785,1296.1 786.2,1294.9 806.3,1283.3 805.2,1284.4" fill="#fff" stroke="#000" stroke-width="1" />
<polygon points="685.1,1111.7 682.2,1112.3 702.3,1100.7 705.3,1100.1" fill="#fff" stroke="#000" stroke-width="1" />
<polygon points="690.9,1120.6 685.1,1111.7 705.3,1100.1 711.1,1109" fill="#fff" stroke="#000" stroke-width="1" />
<polygon points="793.4,1301.5 795.3,1299.2 815.5,1287.5 813.6,1289.9" fill="#fff" stroke="#000" stroke-width="1" />
<polygon points="692.6,1120.5 690.9,1120.6 711.1,1109 712.8,1108.8" fill="#fff" stroke="#000" stroke-width="1" />
<polygon points="795.3,1299.2 790.4,1289.7 810.5,1278.1 815.5,1287.5" fill="#fff" stroke="#000" stroke-width="1" />
<polygon points="790.4,1289.7 791.3,1288.3 811.5,1276.6 810.5,1278.1" fill="#fff" stroke="#000" stroke-width="1" />
<polygon points="694.5,1111.2 691.4,1111.1 711.5,1099.5 714.7,1099.5" fill="#fff" stroke="#000" stroke-width="1" />
<polygon points="699.7,1120.5 694.5,1111.2 714.7,1099.5 719.8,1108.9" fill="#fff" stroke="#000" stroke-width="1" />
<polygon points="798.8,1293.8 800.2,1291 820.4,1279.3 818.9,1282.2" fill="#fff" stroke="#000" stroke-width="1" />
<polygon points="701.5,1120.7 699.7,1120.5 719.8,1108.9 721.6,1109.1" fill="#fff" stroke="#000" stroke-width="1" />
<polygon points="800.2,1291 794.6,1282 814.7,1270.3 820.4,1279.3" fill="#fff" stroke="#000" stroke-width="1" />
<polygon points="794.6,1282 795.3,1280.2 815.4,1268.6 814.7,1270.3" fill="#fff" stroke="#000" stroke-width="1" />
<polygon points="704.6,1112.5 701.2,1111.9 721.4,1100.2 724.8,1100.9" fill="#fff" stroke="#000" stroke-width="1" />
<polygon points="708.9,1122.1 704.6,1112.5 724.8,1100.9 729.1,1110.5" fill="#fff" stroke="#000" stroke-width="1" />
<polygon points="710.8,1122.7 708.9,1122.1 729.1,1110.5 731,1111" fill="#fff" stroke="#000" stroke-width="1" />
<polygon points="802.8,1284.6 803.8,1281.3 824,1269.7 823,1273" fill="#fff" stroke="#000" stroke-width="1" />
<polygon points="803.8,1281.3 797.5,1272.9 817.7,1261.2 824,1269.7" fill="#fff" stroke="#000" stroke-width="1" />
<polygon points="797.5,1272.9 798,1270.9 818.1,1259.3 817.7,1261.2" fill="#fff" stroke="#000" stroke-width="1" />
<polygon points="720.5,1126.3 718.5,1125.5 738.7,1113.8 740.6,1114.7" fill="#fff" stroke="#000" stroke-width="1" />
<polygon points="715.1,1115.7 711.6,1114.5 731.8,1102.8 735.3,1104.1" fill="#fff" stroke="#000" stroke-width="1" />
<polygon points="718.5,1125.5 715.1,1115.7 735.3,1104.1 738.7,1113.8" fill="#fff" stroke="#000" stroke-width="1" />
<polygon points="799.2,1262.7 799.4,1260.5 819.5,1248.9 819.4,1251" fill="#fff" stroke="#000" stroke-width="1" />
<polygon points="805.4,1274.1 806,1270.4 826.2,1258.7 825.6,1262.5" fill="#fff" stroke="#000" stroke-width="1" />
<polygon points="806,1270.4 799.2,1262.7 819.4,1251 826.2,1258.7" fill="#fff" stroke="#000" stroke-width="1" />
<polygon points="730.3,1131.6 728.3,1130.4 748.5,1118.8 750.4,1119.9" fill="#fff" stroke="#000" stroke-width="1" />
<polygon points="728.3,1130.4 725.8,1120.8 746,1109.1 748.5,1118.8" fill="#fff" stroke="#000" stroke-width="1" />
<polygon points="725.8,1120.8 722.3,1118.9 742.4,1107.3 746,1109.1" fill="#fff" stroke="#000" stroke-width="1" />
<polygon points="799.5,1251.6 799.4,1249.3 819.6,1237.6 819.7,1239.9" fill="#fff" stroke="#000" stroke-width="1" />
<polygon points="806.7,1258.4 799.5,1251.6 819.7,1239.9 826.9,1246.7" fill="#fff" stroke="#000" stroke-width="1" />
<polygon points="806.6,1262.4 806.7,1258.4 826.9,1246.7 826.8,1250.8" fill="#fff" stroke="#000" stroke-width="1" />
<polygon points="740,1138.4 738.1,1136.9 758.2,1125.2 760.2,1126.7" fill="#fff" stroke="#000" stroke-width="1" />
<polygon points="798.5,1239.8 798.2,1237.3 818.3,1225.7 818.7,1228.1" fill="#fff" stroke="#000" stroke-width="1" />
<polygon points="738.1,1136.9 736.6,1127.5 756.7,1115.9 758.2,1125.2" fill="#fff" stroke="#000" stroke-width="1" />
<polygon points="736.6,1127.5 733,1125.1 753.2,1113.4 756.7,1115.9" fill="#fff" stroke="#000" stroke-width="1" />
<polygon points="806,1245.5 798.5,1239.8 818.7,1228.1 826.1,1233.9" fill="#fff" stroke="#000" stroke-width="1" />
<polygon points="806.4,1249.8 806,1245.5 826.1,1233.9 826.5,1238.2" fill="#fff" stroke="#000" stroke-width="1" />
<polygon points="749.5,1146.5 747.6,1144.8 767.8,1133.2 769.7,1134.9" fill="#fff" stroke="#000" stroke-width="1" />
<polygon points="796.2,1227.4 795.6,1224.9 815.8,1213.3 816.4,1215.8" fill="#fff" stroke="#000" stroke-width="1" />
<polygon points="747.6,1144.8 747.2,1135.8 767.3,1124.2 767.8,1133.2" fill="#fff" stroke="#000" stroke-width="1" />
<polygon points="803.7,1232.1 796.2,1227.4 816.4,1215.8 823.9,1220.4" fill="#fff" stroke="#000" stroke-width="1" />
<polygon points="747.2,1135.8 743.7,1132.9 763.9,1121.3 767.3,1124.2" fill="#fff" stroke="#000" stroke-width="1" />
<polygon points="758.6,1156 756.8,1154 777,1142.3 778.8,1144.3" fill="#fff" stroke="#000" stroke-width="1" />
<polygon points="792.6,1214.8 791.7,1212.3 811.9,1200.6 812.8,1203.2" fill="#fff" stroke="#000" stroke-width="1" />
<polygon points="804.6,1236.6 803.7,1232.1 823.9,1220.4 824.8,1224.9" fill="#fff" stroke="#000" stroke-width="1" />
<polygon points="756.8,1154 757.4,1145.6 777.6,1134 777,1142.3" fill="#fff" stroke="#000" stroke-width="1" />
<polygon points="767.2,1166.4 765.5,1164.3 785.7,1152.6 787.3,1154.8" fill="#fff" stroke="#000" stroke-width="1" />
<polygon points="787.8,1202.2 786.7,1199.7 806.9,1188 808,1190.5" fill="#fff" stroke="#000" stroke-width="1" />
<polygon points="800.1,1218.3 792.6,1214.8 812.8,1203.2 820.3,1206.6" fill="#fff" stroke="#000" stroke-width="1" />
<polygon points="764,1152.9 758.6,1156 778.8,1144.3 784.1,1141.2" fill="#fff" stroke="#000" stroke-width="1" />
<polygon points="775,1177.8 773.5,1175.4 793.7,1163.8 795.1,1166.1" fill="#fff" stroke="#000" stroke-width="1" />
<polygon points="781.9,1189.8 780.6,1187.3 800.8,1175.7 802.1,1178.1" fill="#fff" stroke="#000" stroke-width="1" />
<polygon points="757.4,1145.6 754.1,1142.2 774.3,1130.6 777.6,1134" fill="#fff" stroke="#000" stroke-width="1" />
<polygon points="791.7,1212.3 796.9,1209 817.1,1197.3 811.9,1200.6" fill="#fff" stroke="#000" stroke-width="1" />
<polygon points="801.5,1222.9 800.1,1218.3 820.3,1206.6 821.6,1211.2" fill="#fff" stroke="#000" stroke-width="1" />
<polygon points="765.5,1164.3 767.1,1156.7 787.3,1145 785.7,1152.6" fill="#fff" stroke="#000" stroke-width="1" />
<polygon points="795.1,1204.4 787.8,1202.2 808,1190.5 815.3,1192.7" fill="#fff" stroke="#000" stroke-width="1" />
<polygon points="773.2,1164.6 767.2,1166.4 787.3,1154.8 793.4,1153" fill="#fff" stroke="#000" stroke-width="1" />
<polygon points="786.7,1199.7 791.1,1195.1 811.3,1183.5 806.9,1188" fill="#fff" stroke="#000" stroke-width="1" />
<polygon points="773.5,1175.4 776,1168.7 796.2,1157.1 793.7,1163.8" fill="#fff" stroke="#000" stroke-width="1" />
<polygon points="788.9,1190.6 781.9,1189.8 802.1,1178.1 809.1,1179" fill="#fff" stroke="#000" stroke-width="1" />
<polygon points="781.5,1177.3 775,1177.8 795.1,1166.1 801.7,1165.7" fill="#fff" stroke="#000" stroke-width="1" />
<polygon points="780.6,1187.3 784.1,1181.6 804.3,1170 800.8,1175.7" fill="#fff" stroke="#000" stroke-width="1" />
<polygon points="767.1,1156.7 764,1152.9 784.1,1141.2 787.3,1145" fill="#fff" stroke="#000" stroke-width="1" />
<polygon points="796.9,1209 795.1,1204.4 815.3,1192.7 817.1,1197.3" fill="#fff" stroke="#000" stroke-width="1" />
<polygon points="776,1168.7 773.2,1164.6 793.4,1153 796.2,1157.1" fill="#fff" stroke="#000" stroke-width="1" />
<polygon points="791.1,1195.1 788.9,1190.6 809.1,1179 811.3,1183.5" fill="#fff" stroke="#000" stroke-width="1" />
<polygon points="784.1,1181.6 781.5,1177.3 801.7,1165.7 804.3,1170" fill="#fff" stroke="#000" stroke-width="1" />
<polygon points="778.5,1300.9 779.9,1300.1 786.8,1307.6 789.1,1305.8 785,1296.1 786.2,1294.9 793.4,1301.5 795.3,1299.2 790.4,1289.7 791.3,1288.3 798.8,1293.8 800.2,1291 794.6,1282 795.3,1280.2 802.8,1284.6 803.8,1281.3 797.5,1272.9 798,1270.9 805.4,1274.1 806,1270.4 799.2,1262.7 799.4,1260.5 806.6,1262.4 806.7,1258.4 799.5,1251.6 799.4,1249.3 806.4,1249.8 806,1245.5 798.5,1239.8 798.2,1237.3 804.6,1236.6 803.7,1232.1 796.2,1227.4 795.6,1224.9 801.5,1222.9 800.1,1218.3 792.6,1214.8 791.7,1212.3 796.9,1209 795.1,1204.4 787.8,1202.2 786.7,1199.7 791.1,1195.1 788.9,1190.6 781.9,1189.8 780.6,1187.3 784.1,1181.6 781.5,1177.3 775,1177.8 773.5,1175.4 776,1168.7 773.2,1164.6 767.2,1166.4 765.5,1164.3 767.1,1156.7 764,1152.9 758.6,1156 756.8,1154 757.4,1145.6 754.1,1142.2 749.5,1146.5 747.6,1144.8 747.2,1135.8 743.7,1132.9 740,1138.4 738.1,1136.9 736.6,1127.5 733,1125.1 730.3,1131.6 728.3,1130.4 725.8,1120.8 722.3,1118.9 720.5,1126.3 718.5,1125.5 715.1,1115.7 711.6,1114.5 710.8,1122.7 708.9,1122.1 704.6,1112.5 701.2,1111.9 701.5,1120.7 699.7,1120.5 694.5,1111.2 691.4,1111.1 692.6,1120.5 690.9,1120.6 685.1,1111.7 682.2,1112.3 684.4,1121.9 682.9,1122.4 676.5,1114.2 673.8,1115.4 677,1125.1 675.7,1125.9 668.8,1118.4 666.5,1120.2 670.6,1129.9 669.4,1131.1 662.2,1124.5 660.3,1126.8 665.2,1136.3 664.3,1137.7 656.8,1132.2 655.4,1135 661,1144 660.3,1145.8 652.8,1141.4 651.8,1144.7 658.1,1153.1 657.6,1155.1 650.2,1151.9 649.6,1155.6 656.4,1163.3 656.2,1165.5 649,1163.6 648.9,1167.6 656.1,1174.4 656.2,1176.7 649.2,1176.2 649.6,1180.5 657.1,1186.2 657.4,1188.7 651,1189.4 651.9,1193.9 659.4,1198.6 660,1201.1 654.1,1203.1 655.5,1207.7 663,1211.2 663.9,1213.7 658.7,1217 660.5,1221.6 667.8,1223.8 668.9,1226.3 664.5,1230.9 666.7,1235.4 673.7,1236.2 675,1238.7 671.5,1244.4 674.1,1248.7 680.6,1248.2 682.1,1250.6 679.6,1257.3 682.4,1261.4 688.4,1259.6 690.1,1261.7 688.5,1269.3 691.6,1273.1 697,1270 698.8,1272 698.2,1280.4 701.5,1283.8 706.1,1279.5 708,1281.2 708.4,1290.2 711.9,1293.1 715.6,1287.6 717.5,1289.1 719,1298.5 722.6,1300.9 725.3,1294.4 727.3,1295.6 729.8,1305.2 733.3,1307.1 735.1,1299.7 737.1,1300.5 740.5,1310.3 744,1311.5 744.8,1303.3 746.7,1303.9 751,1313.5 754.4,1314.1 754.1,1305.3 755.9,1305.5 761.1,1314.8 764.2,1314.9 763,1305.5 764.7,1305.4 770.5,1314.3 773.4,1313.7 771.2,1304.1 772.7,1303.6 779.1,1311.8 781.8,1310.6" fill="#fff" stroke="#000" stroke-width="1.1" />
<ellipse cx="727.8" cy="1213" rx="92" ry="53.1" transform="rotate(60 727.8 1213)" fill="#fff" stroke="#000" stroke-width="1.1" />
<clipPath id="c53"><ellipse cx="727.8" cy="1213" rx="92" ry="53.1" transform="rotate(60 727.8 1213)"/></clipPath>
<g clip-path="url(#c53)">
<ellipse cx="736.5" cy="1208" rx="82" ry="47.3" transform="rotate(60 736.5 1208)" fill="none" stroke="#000" stroke-width="0.9" />
<ellipse cx="736.5" cy="1208" rx="70" ry="40.4" transform="rotate(60 736.5 1208)" fill="none" stroke="#000" stroke-width="0.9" />
<polygon points="759.8,1242.6 762.6,1239.4 764.5,1235.4 765.8,1230.6 766.2,1225.1 769.3,1220.9 779.8,1225.1 783.8,1233.2 783.3,1243 781.3,1251.7 777.6,1258.8 772.6,1264.2 766.4,1262.3 759.1,1249.2" fill="#fff" stroke="#000" stroke-width="1" />
<clipPath id="c54"><polygon points="759.8,1242.6 762.6,1239.4 764.5,1235.4 765.8,1230.6 766.2,1225.1 769.3,1220.9 779.8,1225.1 783.8,1233.2 783.3,1243 781.3,1251.7 777.6,1258.8 772.6,1264.2 766.4,1262.3 759.1,1249.2"/></clipPath>
<g clip-path="url(#c54)">
<polygon points="767.6,1238.1 770.3,1234.9 772.3,1230.9 773.5,1226.1 774,1220.6 777.1,1216.4 787.6,1220.6 791.6,1228.7 791.1,1238.5 789,1247.2 785.4,1254.3 780.4,1259.7 774.2,1257.8 766.9,1244.7" fill="none" stroke="#000" stroke-width="0.8" />
<path d="M759.8 1242.6L767.6 1238.1" stroke="#000" stroke-width="0.7" fill="none" />
<path d="M766.2 1225.1L774 1220.6" stroke="#000" stroke-width="0.7" fill="none" />
<path d="M769.3 1220.9L777.1 1216.4" stroke="#000" stroke-width="0.7" fill="none" />
<path d="M779.8 1225.1L787.6 1220.6" stroke="#000" stroke-width="0.7" fill="none" />
<path d="M772.6 1264.2L780.4 1259.7" stroke="#000" stroke-width="0.7" fill="none" />
<path d="M766.4 1262.3L774.2 1257.8" stroke="#000" stroke-width="0.7" fill="none" />
</g>
<polygon points="761.1,1203.1 758,1196.9 754.3,1190.9 750.2,1185.5 745.6,1180.7 741.7,1173.1 743.3,1162 749.3,1162.8 757.5,1171.1 765,1180.8 771.5,1191.4 776.8,1202.5 776.2,1209.5 766.6,1209.2" fill="#fff" stroke="#000" stroke-width="1" />
<clipPath id="c55"><polygon points="761.1,1203.1 758,1196.9 754.3,1190.9 750.2,1185.5 745.6,1180.7 741.7,1173.1 743.3,1162 749.3,1162.8 757.5,1171.1 765,1180.8 771.5,1191.4 776.8,1202.5 776.2,1209.5 766.6,1209.2"/></clipPath>
<g clip-path="url(#c55)">
<polygon points="768.9,1198.6 765.8,1192.4 762.1,1186.4 758,1181 753.4,1176.2 749.5,1168.6 751.1,1157.5 757.1,1158.3 765.3,1166.6 772.8,1176.3 779.3,1186.9 784.6,1198 784,1205 774.4,1204.7" fill="none" stroke="#000" stroke-width="0.8" />
<path d="M761.1 1203.1L768.9 1198.6" stroke="#000" stroke-width="0.7" fill="none" />
<path d="M745.6 1180.7L753.4 1176.2" stroke="#000" stroke-width="0.7" fill="none" />
<path d="M741.7 1173.1L749.5 1168.6" stroke="#000" stroke-width="0.7" fill="none" />
<path d="M743.3 1162L751.1 1157.5" stroke="#000" stroke-width="0.7" fill="none" />
<path d="M776.8 1202.5L784.6 1198" stroke="#000" stroke-width="0.7" fill="none" />
<path d="M776.2 1209.5L784 1205" stroke="#000" stroke-width="0.7" fill="none" />
</g>
<polygon points="728.3,1170.3 723.7,1169.7 719.4,1170.1 715.6,1171.5 712.4,1174 706.8,1173.5 697.4,1162.5 697.1,1154.9 702.6,1150.2 709.3,1147.5 716.9,1146.9 725.2,1148.4 731.1,1154.7 732.4,1167.6" fill="#fff" stroke="#000" stroke-width="1" />
<clipPath id="c56"><polygon points="728.3,1170.3 723.7,1169.7 719.4,1170.1 715.6,1171.5 712.4,1174 706.8,1173.5 697.4,1162.5 697.1,1154.9 702.6,1150.2 709.3,1147.5 716.9,1146.9 725.2,1148.4 731.1,1154.7 732.4,1167.6"/></clipPath>
<g clip-path="url(#c56)">
<polygon points="736.1,1165.8 731.5,1165.2 727.2,1165.6 723.4,1167 720.2,1169.5 714.6,1169 705.2,1158 704.8,1150.4 710.4,1145.7 717.1,1143 724.7,1142.4 733,1143.9 738.9,1150.2 740.2,1163.1" fill="none" stroke="#000" stroke-width="0.8" />
<path d="M728.3 1170.3L736.1 1165.8" stroke="#000" stroke-width="0.7" fill="none" />
<path d="M712.4 1174L720.2 1169.5" stroke="#000" stroke-width="0.7" fill="none" />
<path d="M706.8 1173.5L714.6 1169" stroke="#000" stroke-width="0.7" fill="none" />
<path d="M697.4 1162.5L705.2 1158" stroke="#000" stroke-width="0.7" fill="none" />
<path d="M725.2 1148.4L733 1143.9" stroke="#000" stroke-width="0.7" fill="none" />
<path d="M731.1 1154.7L738.9 1150.2" stroke="#000" stroke-width="0.7" fill="none" />
</g>
<polygon points="706.8,1189.6 707,1195.5 708.1,1201.6 709.9,1208 712.5,1214.3 713,1221.6 705.5,1225.9 699.3,1220.4 694.5,1209.1 691.2,1197.8 689.4,1186.9 689.2,1176.6 693.4,1173.5 703.8,1181.8" fill="#fff" stroke="#000" stroke-width="1" />
<clipPath id="c57"><polygon points="706.8,1189.6 707,1195.5 708.1,1201.6 709.9,1208 712.5,1214.3 713,1221.6 705.5,1225.9 699.3,1220.4 694.5,1209.1 691.2,1197.8 689.4,1186.9 689.2,1176.6 693.4,1173.5 703.8,1181.8"/></clipPath>
<g clip-path="url(#c57)">
<polygon points="714.6,1185.1 714.8,1191 715.9,1197.1 717.7,1203.5 720.2,1209.8 720.8,1217.1 713.3,1221.4 707.1,1215.9 702.3,1204.6 698.9,1193.3 697.2,1182.4 697,1172.1 701.2,1169 711.6,1177.3" fill="none" stroke="#000" stroke-width="0.8" />
<path d="M706.8 1189.6L714.6 1185.1" stroke="#000" stroke-width="0.7" fill="none" />
<path d="M712.5 1214.3L720.2 1209.8" stroke="#000" stroke-width="0.7" fill="none" />
<path d="M713 1221.6L720.8 1217.1" stroke="#000" stroke-width="0.7" fill="none" />
<path d="M705.5 1225.9L713.3 1221.4" stroke="#000" stroke-width="0.7" fill="none" />
<path d="M689.2 1176.6L697 1172.1" stroke="#000" stroke-width="0.7" fill="none" />
<path d="M693.4 1173.5L701.2 1169" stroke="#000" stroke-width="0.7" fill="none" />
</g>
<polygon points="726.3,1234.3 731,1238.6 735.9,1242 740.9,1244.5 745.7,1245.9 751.5,1250.9 756.4,1264.6 752.9,1268.8 744.4,1266.5 735.6,1262.2 726.9,1256.1 718.5,1248.3 715.2,1240 720.3,1232.3" fill="#fff" stroke="#000" stroke-width="1" />
<clipPath id="c58"><polygon points="726.3,1234.3 731,1238.6 735.9,1242 740.9,1244.5 745.7,1245.9 751.5,1250.9 756.4,1264.6 752.9,1268.8 744.4,1266.5 735.6,1262.2 726.9,1256.1 718.5,1248.3 715.2,1240 720.3,1232.3"/></clipPath>
<g clip-path="url(#c58)">
<polygon points="734.1,1229.8 738.8,1234.1 743.7,1237.5 748.7,1240 753.5,1241.4 759.3,1246.4 764.2,1260.1 760.7,1264.3 752.2,1262 743.4,1257.7 734.7,1251.6 726.3,1243.8 723,1235.5 728.1,1227.8" fill="none" stroke="#000" stroke-width="0.8" />
<path d="M726.3 1234.3L734.1 1229.8" stroke="#000" stroke-width="0.7" fill="none" />
<path d="M745.7 1245.9L753.5 1241.4" stroke="#000" stroke-width="0.7" fill="none" />
<path d="M751.5 1250.9L759.3 1246.4" stroke="#000" stroke-width="0.7" fill="none" />
<path d="M756.4 1264.6L764.2 1260.1" stroke="#000" stroke-width="0.7" fill="none" />
<path d="M718.5 1248.3L726.3 1243.8" stroke="#000" stroke-width="0.7" fill="none" />
<path d="M715.2 1240L723 1235.5" stroke="#000" stroke-width="0.7" fill="none" />
</g>
</g>
<path d="M754.2 1238.7A35.5 20.5 60 0 0 754.2 1197.8A35.5 20.5 60 0 0 718.7 1177.3L710 1182.3A35.5 20.5 60 0 0 710.1 1223.2A35.5 20.5 60 0 0 745.5 1243.7Z" fill="#fff" stroke="#000" stroke-width="1.1" />
<ellipse cx="727.8" cy="1213" rx="35.5" ry="20.5" transform="rotate(60 727.8 1213)" fill="#fff" stroke="#000" stroke-width="1.1" />
<ellipse cx="727.8" cy="1213" rx="26" ry="15" transform="rotate(60 727.8 1213)" fill="#fff" stroke="#000" stroke-width="1.8" />
<clipPath id="c59"><ellipse cx="727.8" cy="1213" rx="26" ry="15" transform="rotate(60 727.8 1213)"/></clipPath>
<g clip-path="url(#c59)">
<ellipse cx="748" cy="1201.3" rx="26" ry="15" transform="rotate(60 748 1201.3)" fill="none" stroke="#000" stroke-width="0.9" />
</g>
<g clip-path="url(#c59)">
<ellipse cx="729.5" cy="1212" rx="23.5" ry="13.6" transform="rotate(60 729.5 1212)" fill="none" stroke="#000" stroke-width="0.8" />
</g>
<polygon points="653.5,1339.6 655.1,1338.5 663.9,1347.2 666.6,1344.3 660.7,1332.5 661.8,1330.6 671.2,1337.1 672.9,1333 665.3,1322.2 665.9,1319.8 675.2,1323.6 675.8,1318.5 667.2,1309.3 667.2,1306.5 675.9,1307.4 675.3,1301.7 666.1,1294.6 665.5,1291.6 673.1,1289.6 671.4,1283.5 662.1,1279.1 661,1275.9 667,1271.1 664.4,1265.1 655.5,1263.4 653.9,1260.4 658,1253.1 654.5,1247.4 646.6,1248.6 644.6,1245.9 646.7,1236.5 642.5,1231.5 636,1235.6 633.7,1233.3 633.5,1222.3 628.9,1218.3 624.3,1225 621.8,1223.3 619.4,1211.4 614.7,1208.7 612.1,1217.6 609.7,1216.5 605.1,1204.4 600.5,1203 600.2,1213.6 597.9,1213.3 591.5,1201.7 587.3,1201.8 589.2,1213.5 587.2,1213.9 579.4,1203.4 575.8,1205 579.8,1217.1 578.2,1218.2 569.4,1209.5 566.7,1212.4 572.6,1224.2 571.5,1226.1 562.1,1219.6 560.4,1223.7 568,1234.5 567.4,1236.9 558.1,1233.1 557.5,1238.2 566.1,1247.4 566.1,1250.2 557.4,1249.3 558,1255 567.2,1262.1 567.8,1265.1 560.2,1267.1 561.9,1273.2 571.2,1277.6 572.3,1280.8 566.3,1285.6 568.9,1291.6 577.8,1293.3 579.4,1296.3 575.3,1303.6 578.8,1309.3 586.7,1308.1 588.7,1310.8 586.7,1320.2 590.8,1325.2 597.3,1321.1 599.6,1323.4 599.8,1334.4 604.4,1338.4 609,1331.7 611.5,1333.4 613.9,1345.3 618.6,1348 621.2,1339.1 623.6,1340.2 628.2,1352.3 632.8,1353.7 633.1,1343.1 635.4,1343.4 641.8,1355 646,1354.9 644.1,1343.2 646.1,1342.8 653.9,1353.3 657.5,1351.7" fill="#fff" stroke="#000" stroke-width="1.1" />
<polygon points="570.5,1337 576.9,1332.9 597.3,1321.1 590.8,1325.2" fill="#fff" stroke="#000" stroke-width="1" />
<polygon points="547.4,1276.9 539.9,1278.8 560.2,1267.1 567.8,1265.1" fill="#fff" stroke="#000" stroke-width="1" />
<polygon points="584,1350.1 588.7,1343.4 609,1331.7 604.4,1338.4" fill="#fff" stroke="#000" stroke-width="1" />
<polygon points="545.7,1262 537.1,1261 557.4,1249.3 566.1,1250.2" fill="#fff" stroke="#000" stroke-width="1" />
<polygon points="598.3,1359.8 600.9,1350.9 621.2,1339.1 618.6,1348" fill="#fff" stroke="#000" stroke-width="1" />
<polygon points="547,1248.7 537.7,1244.9 558.1,1233.1 567.4,1236.9" fill="#fff" stroke="#000" stroke-width="1" />
<polygon points="612.4,1365.4 612.8,1354.8 633.1,1343.1 632.8,1353.7" fill="#fff" stroke="#000" stroke-width="1" />
<polygon points="551.1,1237.8 541.8,1231.4 562.1,1219.6 571.5,1226.1" fill="#fff" stroke="#000" stroke-width="1" />
<polygon points="625.7,1366.7 623.7,1355 644.1,1343.2 646,1354.9" fill="#fff" stroke="#000" stroke-width="1" />
<polygon points="557.9,1230 549,1221.3 569.4,1209.5 578.2,1218.2" fill="#fff" stroke="#000" stroke-width="1" />
<polygon points="637.2,1363.5 633.1,1351.4 653.5,1339.6 657.5,1351.7" fill="#fff" stroke="#000" stroke-width="1" />
<polygon points="633.1,1351.4 634.7,1350.2 655.1,1338.5 653.5,1339.6" fill="#fff" stroke="#000" stroke-width="1" />
<polygon points="559,1215.2 555.4,1216.7 575.8,1205 579.4,1203.4" fill="#fff" stroke="#000" stroke-width="1" />
<polygon points="566.8,1225.6 559,1215.2 579.4,1203.4 587.2,1213.9" fill="#fff" stroke="#000" stroke-width="1" />
<polygon points="568.9,1225.2 566.8,1225.6 587.2,1213.9 589.2,1213.5" fill="#fff" stroke="#000" stroke-width="1" />
<polygon points="643.6,1358.9 646.3,1356 666.6,1344.3 663.9,1347.2" fill="#fff" stroke="#000" stroke-width="1" />
<polygon points="646.3,1356 640.3,1344.2 660.7,1332.5 666.6,1344.3" fill="#fff" stroke="#000" stroke-width="1" />
<polygon points="640.3,1344.2 641.5,1342.4 661.8,1330.6 660.7,1332.5" fill="#fff" stroke="#000" stroke-width="1" />
<polygon points="571.2,1213.4 566.9,1213.5 587.3,1201.8 591.5,1201.7" fill="#fff" stroke="#000" stroke-width="1" />
<polygon points="577.5,1225.1 571.2,1213.4 591.5,1201.7 597.9,1213.3" fill="#fff" stroke="#000" stroke-width="1" />
<polygon points="579.8,1225.4 577.5,1225.1 597.9,1213.3 600.2,1213.6" fill="#fff" stroke="#000" stroke-width="1" />
<polygon points="650.8,1348.8 652.5,1344.7 672.9,1333 671.2,1337.1" fill="#fff" stroke="#000" stroke-width="1" />
<polygon points="652.5,1344.7 645,1333.9 665.3,1322.2 672.9,1333" fill="#fff" stroke="#000" stroke-width="1" />
<polygon points="645,1333.9 645.6,1331.5 665.9,1319.8 665.3,1322.2" fill="#fff" stroke="#000" stroke-width="1" />
<polygon points="584.8,1216.2 580.2,1214.8 600.5,1203 605.1,1204.4" fill="#fff" stroke="#000" stroke-width="1" />
<polygon points="591.7,1229.3 589.3,1228.2 609.7,1216.5 612.1,1217.6" fill="#fff" stroke="#000" stroke-width="1" />
<polygon points="589.3,1228.2 584.8,1216.2 605.1,1204.4 609.7,1216.5" fill="#fff" stroke="#000" stroke-width="1" />
<polygon points="646.8,1321.1 646.9,1318.2 667.2,1306.5 667.2,1309.3" fill="#fff" stroke="#000" stroke-width="1" />
<polygon points="654.9,1335.3 655.5,1330.2 675.8,1318.5 675.2,1323.6" fill="#fff" stroke="#000" stroke-width="1" />
<polygon points="655.5,1330.2 646.8,1321.1 667.2,1309.3 675.8,1318.5" fill="#fff" stroke="#000" stroke-width="1" />
<polygon points="603.9,1236.8 601.5,1235 621.8,1223.3 624.3,1225" fill="#fff" stroke="#000" stroke-width="1" />
<polygon points="601.5,1235 599,1223.2 619.4,1211.4 621.8,1223.3" fill="#fff" stroke="#000" stroke-width="1" />
<polygon points="599,1223.2 594.3,1220.4 614.7,1208.7 619.4,1211.4" fill="#fff" stroke="#000" stroke-width="1" />
<polygon points="645.7,1306.4 645.2,1303.3 665.5,1291.6 666.1,1294.6" fill="#fff" stroke="#000" stroke-width="1" />
<polygon points="655,1313.4 645.7,1306.4 666.1,1294.6 675.3,1301.7" fill="#fff" stroke="#000" stroke-width="1" />
<polygon points="615.7,1247.3 613.4,1245 633.7,1233.3 636,1235.6" fill="#fff" stroke="#000" stroke-width="1" />
<polygon points="655.5,1319.2 655,1313.4 675.3,1301.7 675.9,1307.4" fill="#fff" stroke="#000" stroke-width="1" />
<polygon points="641.8,1290.8 640.6,1287.6 661,1275.9 662.1,1279.1" fill="#fff" stroke="#000" stroke-width="1" />
<polygon points="613.4,1245 613.2,1234.1 633.5,1222.3 633.7,1233.3" fill="#fff" stroke="#000" stroke-width="1" />
<polygon points="626.3,1260.4 624.3,1257.6 644.6,1245.9 646.6,1248.6" fill="#fff" stroke="#000" stroke-width="1" />
<polygon points="635.1,1275.2 633.5,1272.1 653.9,1260.4 655.5,1263.4" fill="#fff" stroke="#000" stroke-width="1" />
<polygon points="613.2,1234.1 608.6,1230.1 628.9,1218.3 633.5,1222.3" fill="#fff" stroke="#000" stroke-width="1" />
<polygon points="651.1,1295.3 641.8,1290.8 662.1,1279.1 671.4,1283.5" fill="#fff" stroke="#000" stroke-width="1" />
<polygon points="640.6,1287.6 646.7,1282.9 667,1271.1 661,1275.9" fill="#fff" stroke="#000" stroke-width="1" />
<polygon points="624.3,1257.6 626.3,1248.2 646.7,1236.5 644.6,1245.9" fill="#fff" stroke="#000" stroke-width="1" />
<polygon points="652.7,1301.4 651.1,1295.3 671.4,1283.5 673.1,1289.6" fill="#fff" stroke="#000" stroke-width="1" />
<polygon points="644,1276.8 635.1,1275.2 655.5,1263.4 664.4,1265.1" fill="#fff" stroke="#000" stroke-width="1" />
<polygon points="634.2,1259.1 626.3,1260.4 646.6,1248.6 654.5,1247.4" fill="#fff" stroke="#000" stroke-width="1" />
<polygon points="633.5,1272.1 637.7,1264.8 658,1253.1 653.9,1260.4" fill="#fff" stroke="#000" stroke-width="1" />
<polygon points="626.3,1248.2 622.1,1243.2 642.5,1231.5 646.7,1236.5" fill="#fff" stroke="#000" stroke-width="1" />
<polygon points="646.7,1282.9 644,1276.8 664.4,1265.1 667,1271.1" fill="#fff" stroke="#000" stroke-width="1" />
<polygon points="637.7,1264.8 634.2,1259.1 654.5,1247.4 658,1253.1" fill="#fff" stroke="#000" stroke-width="1" />
<polygon points="633.1,1351.4 634.7,1350.2 643.6,1358.9 646.3,1356 640.3,1344.2 641.5,1342.4 650.8,1348.8 652.5,1344.7 645,1333.9 645.6,1331.5 654.9,1335.3 655.5,1330.2 646.8,1321.1 646.9,1318.2 655.5,1319.2 655,1313.4 645.7,1306.4 645.2,1303.3 652.7,1301.4 651.1,1295.3 641.8,1290.8 640.6,1287.6 646.7,1282.9 644,1276.8 635.1,1275.2 633.5,1272.1 637.7,1264.8 634.2,1259.1 626.3,1260.4 624.3,1257.6 626.3,1248.2 622.1,1243.2 615.7,1247.3 613.4,1245 613.2,1234.1 608.6,1230.1 603.9,1236.8 601.5,1235 599,1223.2 594.3,1220.4 591.7,1229.3 589.3,1228.2 584.8,1216.2 580.2,1214.8 579.8,1225.4 577.5,1225.1 571.2,1213.4 566.9,1213.5 568.9,1225.2 566.8,1225.6 559,1215.2 555.4,1216.7 559.5,1228.8 557.9,1230 549,1221.3 546.3,1224.2 552.3,1236 551.1,1237.8 541.8,1231.4 540.1,1235.5 547.6,1246.3 547,1248.7 537.7,1244.9 537.1,1250 545.8,1259.1 545.7,1262 537.1,1261 537.6,1266.8 546.9,1273.8 547.4,1276.9 539.9,1278.8 541.5,1284.9 550.8,1289.4 552,1292.6 545.9,1297.3 548.6,1303.4 557.5,1305 559.1,1308.1 554.9,1315.4 558.4,1321.1 566.3,1319.8 568.3,1322.6 566.3,1332 570.5,1337 576.9,1332.9 579.2,1335.2 579.4,1346.1 584,1350.1 588.7,1343.4 591.1,1345.2 593.6,1357 598.3,1359.8 600.9,1350.9 603.3,1352 607.8,1364 612.4,1365.4 612.8,1354.8 615.1,1355.1 621.4,1366.8 625.7,1366.7 623.7,1355 625.8,1354.6 633.6,1365 637.2,1363.5" fill="#fff" stroke="#000" stroke-width="1.1" />
<path d="M629 1346.8A65.5 37.8 60 0 0 629 1271.2A65.5 37.8 60 0 0 563.5 1233.4L561 1234.9A65.5 37.8 60 0 0 561 1310.5A65.5 37.8 60 0 0 626.5 1348.3Z" fill="#fff" stroke="#000" stroke-width="1.1" />
<ellipse cx="593.7" cy="1291.6" rx="65.5" ry="37.8" transform="rotate(60 593.7 1291.6)" fill="#fff" stroke="#000" stroke-width="1.1" />
<path d="M624.7 1345.3A62 35.8 60 0 0 624.7 1273.7A62 35.8 60 0 0 562.7 1237.9L547.1 1246.9A62 35.8 60 0 0 547.1 1318.5A62 35.8 60 0 0 609.1 1354.3Z" fill="#fff" stroke="#000" stroke-width="1.1" />
<ellipse cx="578.1" cy="1300.6" rx="62" ry="35.8" transform="rotate(60 578.1 1300.6)" fill="#fff" stroke="#000" stroke-width="1.1" />
<ellipse cx="578.1" cy="1300.6" rx="37.5" ry="21.7" transform="rotate(60 578.1 1300.6)" fill="#fff" stroke="#000" stroke-width="1.1" />
<clipPath id="c60"><ellipse cx="578.1" cy="1300.6" rx="37.5" ry="21.7" transform="rotate(60 578.1 1300.6)"/></clipPath>
<g clip-path="url(#c60)">
<path d="M596.9 1333.1L598.3 1323.6" stroke="#000" stroke-width="0.7" fill="none" />
<path d="M596.9 1333.1L593.1 1326.6" stroke="#000" stroke-width="0.7" fill="none" />
<path d="M599.3 1331.2L599.9 1321.5" stroke="#000" stroke-width="0.7" fill="none" />
<path d="M599.3 1331.2L595.5 1325.8" stroke="#000" stroke-width="0.7" fill="none" />
<path d="M601.4 1328.7L601.1 1318.9" stroke="#000" stroke-width="0.7" fill="none" />
<path d="M601.4 1328.7L597.6 1324.3" stroke="#000" stroke-width="0.7" fill="none" />
<path d="M603 1325.6L601.9 1315.9" stroke="#000" stroke-width="0.7" fill="none" />
<path d="M603 1325.6L599.3 1322.4" stroke="#000" stroke-width="0.7" fill="none" />
<path d="M604 1322.1L602.3 1312.6" stroke="#000" stroke-width="0.7" fill="none" />
<path d="M604 1322.1L600.7 1320" stroke="#000" stroke-width="0.7" fill="none" />
<path d="M604.6 1318.1L602.2 1309" stroke="#000" stroke-width="0.7" fill="none" />
<path d="M604.6 1318.1L601.6 1317.2" stroke="#000" stroke-width="0.7" fill="none" />
<path d="M604.6 1313.7L601.6 1305.2" stroke="#000" stroke-width="0.7" fill="none" />
<path d="M604.6 1313.7L602.2 1314" stroke="#000" stroke-width="0.7" fill="none" />
<path d="M604 1309.1L600.7 1301.3" stroke="#000" stroke-width="0.7" fill="none" />
<path d="M604 1309.1L602.3 1310.5" stroke="#000" stroke-width="0.7" fill="none" />
<path d="M603 1304.2L599.3 1297.3" stroke="#000" stroke-width="0.7" fill="none" />
<path d="M603 1304.2L601.9 1306.7" stroke="#000" stroke-width="0.7" fill="none" />
<path d="M601.4 1299.4L597.6 1293.4" stroke="#000" stroke-width="0.7" fill="none" />
<path d="M601.4 1299.4L601.1 1302.9" stroke="#000" stroke-width="0.7" fill="none" />
<path d="M599.3 1294.5L595.5 1289.5" stroke="#000" stroke-width="0.7" fill="none" />
<path d="M599.3 1294.5L599.9 1298.9" stroke="#000" stroke-width="0.7" fill="none" />
<path d="M596.9 1289.8L593.1 1285.9" stroke="#000" stroke-width="0.7" fill="none" />
<path d="M596.9 1289.8L598.3 1294.9" stroke="#000" stroke-width="0.7" fill="none" />
<path d="M594 1285.3L590.5 1282.6" stroke="#000" stroke-width="0.7" fill="none" />
<path d="M594 1285.3L596.4 1291.1" stroke="#000" stroke-width="0.7" fill="none" />
<path d="M590.8 1281.1L587.7 1279.5" stroke="#000" stroke-width="0.7" fill="none" />
<path d="M590.8 1281.1L594.1 1287.3" stroke="#000" stroke-width="0.7" fill="none" />
<path d="M587.4 1277.3L584.7 1276.9" stroke="#000" stroke-width="0.7" fill="none" />
<path d="M587.4 1277.3L591.6 1283.9" stroke="#000" stroke-width="0.7" fill="none" />
<path d="M583.7 1273.9L581.6 1274.8" stroke="#000" stroke-width="0.7" fill="none" />
<path d="M583.7 1273.9L588.8 1280.7" stroke="#000" stroke-width="0.7" fill="none" />
<path d="M580 1271.2L578.6 1273.1" stroke="#000" stroke-width="0.7" fill="none" />
<path d="M580 1271.2L585.9 1277.9" stroke="#000" stroke-width="0.7" fill="none" />
<path d="M576.2 1269L575.5 1271.9" stroke="#000" stroke-width="0.7" fill="none" />
<path d="M576.2 1269L582.9 1275.6" stroke="#000" stroke-width="0.7" fill="none" />
<path d="M572.5 1267.4L572.6 1271.3" stroke="#000" stroke-width="0.7" fill="none" />
<path d="M572.5 1267.4L579.8 1273.7" stroke="#000" stroke-width="0.7" fill="none" />
<path d="M568.8 1266.6L569.8 1271.3" stroke="#000" stroke-width="0.7" fill="none" />
<path d="M568.8 1266.6L576.7 1272.3" stroke="#000" stroke-width="0.7" fill="none" />
<path d="M565.4 1266.4L567.3 1271.9" stroke="#000" stroke-width="0.7" fill="none" />
<path d="M565.4 1266.4L573.8 1271.5" stroke="#000" stroke-width="0.7" fill="none" />
<path d="M562.2 1266.9L565 1272.9" stroke="#000" stroke-width="0.7" fill="none" />
<path d="M562.2 1266.9L570.9 1271.3" stroke="#000" stroke-width="0.7" fill="none" />
<path d="M559.4 1268.1L563.1 1274.6" stroke="#000" stroke-width="0.7" fill="none" />
<path d="M559.4 1268.1L568.3 1271.6" stroke="#000" stroke-width="0.7" fill="none" />
<path d="M556.9 1270L561.5 1276.7" stroke="#000" stroke-width="0.7" fill="none" />
<path d="M556.9 1270L565.9 1272.4" stroke="#000" stroke-width="0.7" fill="none" />
<path d="M554.8 1272.5L560.3 1279.3" stroke="#000" stroke-width="0.7" fill="none" />
<path d="M554.8 1272.5L563.8 1273.9" stroke="#000" stroke-width="0.7" fill="none" />
<path d="M553.3 1275.6L559.5 1282.3" stroke="#000" stroke-width="0.7" fill="none" />
<path d="M553.3 1275.6L562.1 1275.8" stroke="#000" stroke-width="0.7" fill="none" />
<path d="M552.2 1279.1L559.2 1285.6" stroke="#000" stroke-width="0.7" fill="none" />
<path d="M552.2 1279.1L560.7 1278.2" stroke="#000" stroke-width="0.7" fill="none" />
<path d="M551.7 1283.1L559.3 1289.2" stroke="#000" stroke-width="0.7" fill="none" />
<path d="M551.7 1283.1L559.8 1281" stroke="#000" stroke-width="0.7" fill="none" />
<path d="M551.7 1287.5L559.8 1293" stroke="#000" stroke-width="0.7" fill="none" />
<path d="M551.7 1287.5L559.3 1284.2" stroke="#000" stroke-width="0.7" fill="none" />
<path d="M552.2 1292.1L560.7 1296.9" stroke="#000" stroke-width="0.7" fill="none" />
<path d="M552.2 1292.1L559.2 1287.7" stroke="#000" stroke-width="0.7" fill="none" />
<path d="M553.3 1297L562.1 1300.9" stroke="#000" stroke-width="0.7" fill="none" />
<path d="M553.3 1297L559.5 1291.5" stroke="#000" stroke-width="0.7" fill="none" />
<path d="M554.8 1301.8L563.8 1304.8" stroke="#000" stroke-width="0.7" fill="none" />
<path d="M554.8 1301.8L560.3 1295.3" stroke="#000" stroke-width="0.7" fill="none" />
<path d="M556.9 1306.7L565.9 1308.7" stroke="#000" stroke-width="0.7" fill="none" />
<path d="M556.9 1306.7L561.5 1299.3" stroke="#000" stroke-width="0.7" fill="none" />
<path d="M559.4 1311.4L568.3 1312.3" stroke="#000" stroke-width="0.7" fill="none" />
<path d="M559.4 1311.4L563.1 1303.3" stroke="#000" stroke-width="0.7" fill="none" />
<path d="M562.2 1315.9L570.9 1315.6" stroke="#000" stroke-width="0.7" fill="none" />
<path d="M562.2 1315.9L565 1307.1" stroke="#000" stroke-width="0.7" fill="none" />
<path d="M565.4 1320.1L573.8 1318.7" stroke="#000" stroke-width="0.7" fill="none" />
<path d="M565.4 1320.1L567.3 1310.9" stroke="#000" stroke-width="0.7" fill="none" />
<path d="M568.8 1323.9L576.7 1321.3" stroke="#000" stroke-width="0.7" fill="none" />
<path d="M568.8 1323.9L569.8 1314.3" stroke="#000" stroke-width="0.7" fill="none" />
<path d="M572.5 1327.3L579.8 1323.4" stroke="#000" stroke-width="0.7" fill="none" />
<path d="M572.5 1327.3L572.6 1317.5" stroke="#000" stroke-width="0.7" fill="none" />
<path d="M576.2 1330L582.9 1325.1" stroke="#000" stroke-width="0.7" fill="none" />
<path d="M576.2 1330L575.5 1320.3" stroke="#000" stroke-width="0.7" fill="none" />
<path d="M580 1332.2L585.9 1326.3" stroke="#000" stroke-width="0.7" fill="none" />
<path d="M580 1332.2L578.6 1322.6" stroke="#000" stroke-width="0.7" fill="none" />
<path d="M583.7 1333.8L588.8 1326.9" stroke="#000" stroke-width="0.7" fill="none" />
<path d="M583.7 1333.8L581.6 1324.5" stroke="#000" stroke-width="0.7" fill="none" />
<path d="M587.4 1334.6L591.6 1326.9" stroke="#000" stroke-width="0.7" fill="none" />
<path d="M587.4 1334.6L584.7 1325.9" stroke="#000" stroke-width="0.7" fill="none" />
<path d="M590.8 1334.8L594.1 1326.3" stroke="#000" stroke-width="0.7" fill="none" />
<path d="M590.8 1334.8L587.7 1326.7" stroke="#000" stroke-width="0.7" fill="none" />
<path d="M594 1334.3L596.4 1325.3" stroke="#000" stroke-width="0.7" fill="none" />
<path d="M594 1334.3L590.5 1326.9" stroke="#000" stroke-width="0.7" fill="none" />
</g>
<ellipse cx="580.7" cy="1299.1" rx="30.5" ry="17.6" transform="rotate(60 580.7 1299.1)" fill="#fff" stroke="#000" stroke-width="1.1" />
<clipPath id="c61"><ellipse cx="580.7" cy="1299.1" rx="30.5" ry="17.6" transform="rotate(60 580.7 1299.1)"/></clipPath>
<g clip-path="url(#c61)">
<path d="M596 1325.5L621.9 1310.5" stroke="#000" stroke-width="0.9" fill="none" />
<path d="M598.5 1323.4L624.5 1308.4" stroke="#000" stroke-width="0.9" fill="none" />
<path d="M596.7 1319.7L622.6 1304.7" stroke="#000" stroke-width="0.9" fill="none" />
<path d="M570.6 1275L596.6 1260" stroke="#000" stroke-width="0.9" fill="none" />
<path d="M568.1 1275.8L594.1 1260.8" stroke="#000" stroke-width="0.9" fill="none" />
<path d="M565.5 1272.7L591.4 1257.7" stroke="#000" stroke-width="0.9" fill="none" />
<path d="M562.9 1274.8L588.9 1259.8" stroke="#000" stroke-width="0.9" fill="none" />
<path d="M564.8 1278.5L590.7 1263.5" stroke="#000" stroke-width="0.9" fill="none" />
<path d="M563.3 1281L589.3 1266" stroke="#000" stroke-width="0.9" fill="none" />
<path d="M560.4 1279.1L586.3 1264.1" stroke="#000" stroke-width="0.9" fill="none" />
<path d="M559.4 1283.1L585.4 1268.1" stroke="#000" stroke-width="0.9" fill="none" />
<path d="M562.1 1286.1L588.1 1271.1" stroke="#000" stroke-width="0.9" fill="none" />
<path d="M562 1289.8L588 1274.8" stroke="#000" stroke-width="0.9" fill="none" />
<path d="M559.3 1289.5L585.3 1274.5" stroke="#000" stroke-width="0.9" fill="none" />
<path d="M560.1 1294.6L586.1 1279.6" stroke="#000" stroke-width="0.9" fill="none" />
<path d="M563.1 1296.3L589.1 1281.3" stroke="#000" stroke-width="0.9" fill="none" />
<path d="M564.4 1300.4L590.4 1285.4" stroke="#000" stroke-width="0.9" fill="none" />
<path d="M562.5 1301.8L588.4 1286.8" stroke="#000" stroke-width="0.9" fill="none" />
<path d="M564.9 1307L590.9 1292" stroke="#000" stroke-width="0.9" fill="none" />
<path d="M567.6 1307L593.6 1292" stroke="#000" stroke-width="0.9" fill="none" />
<path d="M570 1310.7L596 1295.7" stroke="#000" stroke-width="0.9" fill="none" />
<path d="M569.2 1313.6L595.2 1298.6" stroke="#000" stroke-width="0.9" fill="none" />
<path d="M572.9 1317.8L598.8 1302.8" stroke="#000" stroke-width="0.9" fill="none" />
<path d="M574.7 1316.1L600.7 1301.1" stroke="#000" stroke-width="0.9" fill="none" />
<path d="M577.8 1318.8L603.8 1303.8" stroke="#000" stroke-width="0.9" fill="none" />
<path d="M578.3 1322.5L604.3 1307.5" stroke="#000" stroke-width="0.9" fill="none" />
<path d="M582.4 1324.9L608.3 1309.9" stroke="#000" stroke-width="0.9" fill="none" />
<path d="M583 1321.9L609 1306.9" stroke="#000" stroke-width="0.9" fill="none" />
<path d="M586.1 1322.9L612.1 1307.9" stroke="#000" stroke-width="0.9" fill="none" />
<path d="M587.8 1326.7L613.8 1311.7" stroke="#000" stroke-width="0.9" fill="none" />
<path d="M591.5 1326.9L617.5 1311.9" stroke="#000" stroke-width="0.9" fill="none" />
<path d="M590.8 1323.2L616.8 1308.2" stroke="#000" stroke-width="0.9" fill="none" />
<path d="M593.4 1322.4L619.3 1307.4" stroke="#000" stroke-width="0.9" fill="none" />
<polygon points="621.9,1310.5 624.5,1308.4 622.6,1304.7 624.1,1302.2 627,1304.1 628,1300.1 625.3,1297.1 625.4,1293.4 628.1,1293.7 627.3,1288.6 624.3,1286.9 623,1282.8 625,1281.4 622.5,1276.2 619.8,1276.2 617.4,1272.5 618.2,1269.6 614.5,1265.4 612.7,1267.1 609.6,1264.4 609.1,1260.7 605,1258.3 604.4,1261.3 601.3,1260.3 599.6,1256.5 595.9,1256.3 596.6,1260 594.1,1260.8 591.4,1257.7 588.9,1259.8 590.7,1263.5 589.3,1266 586.3,1264.1 585.4,1268.1 588.1,1271.1 588,1274.8 585.3,1274.5 586.1,1279.6 589.1,1281.3 590.4,1285.4 588.4,1286.8 590.9,1292 593.6,1292 596,1295.7 595.2,1298.6 598.8,1302.8 600.7,1301.1 603.8,1303.8 604.3,1307.5 608.3,1309.9 609,1306.9 612.1,1307.9 613.8,1311.7 617.5,1311.9 616.8,1308.2 619.3,1307.4" fill="none" stroke="#000" stroke-width="0.8" />
<polygon points="596,1325.5 598.5,1323.4 596.7,1319.7 598.1,1317.2 601.1,1319.1 602,1315.1 599.4,1312.1 599.4,1308.4 602.1,1308.7 601.3,1303.6 598.3,1301.9 597,1297.8 599,1296.4 596.5,1291.2 593.8,1291.2 591.4,1287.5 592.2,1284.6 588.6,1280.4 586.7,1282.1 583.6,1279.4 583.1,1275.7 579.1,1273.3 578.4,1276.3 575.3,1275.3 573.6,1271.5 569.9,1271.3 570.6,1275 568.1,1275.8 565.5,1272.7 562.9,1274.8 564.8,1278.5 563.3,1281 560.4,1279.1 559.4,1283.1 562.1,1286.1 562,1289.8 559.3,1289.5 560.1,1294.6 563.1,1296.3 564.4,1300.4 562.5,1301.8 564.9,1307 567.6,1307 570,1310.7 569.2,1313.6 572.9,1317.8 574.7,1316.1 577.8,1318.8 578.3,1322.5 582.4,1324.9 583,1321.9 586.1,1322.9 587.8,1326.7 591.5,1326.9 590.8,1323.2 593.4,1322.4" fill="none" stroke="#000" stroke-width="1" />
</g>
<ellipse cx="557.8" cy="1276.5" rx="1.6" ry="2.4" fill="#fff" stroke="#000" stroke-width="0.8"/>
<path d="M372.9 161.4L490.6 93.5L447.9 139.7" fill="none" stroke="#000" stroke-width="1.1" stroke-linejoin="miter"/>
<path d="M796 159.4L891.5 104.6L836.9 158.2" fill="none" stroke="#000" stroke-width="1.1" stroke-linejoin="miter"/>
<path d="M81.5 572.6L15.5 610L58.5 564.1" fill="none" stroke="#000" stroke-width="1.1" stroke-linejoin="miter"/>
<path d="M556.8 480.3L435.9 549.3L480.9 505.6" fill="none" stroke="#000" stroke-width="1.1" stroke-linejoin="miter"/>
<path d="M709.4 630.4L806.8 574.5L751.9 628.3" fill="none" stroke="#000" stroke-width="1.1" stroke-linejoin="miter"/>
<path d="M973.2 788.5L1046.5 745.7L1002.1 791.8" fill="none" stroke="#000" stroke-width="1.1" stroke-linejoin="miter"/>
<path d="M121.5 1280.2L19.4 1338L74.2 1286.2" fill="none" stroke="#000" stroke-width="1.1" stroke-linejoin="miter"/>
<path d="M560 1310.8L473.7 1359.5L517.7 1312.4" fill="none" stroke="#000" stroke-width="1.1" stroke-linejoin="miter"/>
<g transform="translate(967.2 37.3) scale(0.9)" fill="none" stroke="#000" stroke-width="1.2" stroke-linejoin="round" stroke-linecap="round"><path d="M7.4 0H0.6V12.2H7.4M0.6 5.8H5.6" transform="translate(0 0)"/><path d="M2 2.4L5.4 0V12.2" transform="translate(11.1 0)"/><path d="M0.8 0H7.4L3.6 4.9C6.3 4.7 7.9 6.2 7.9 8.5 7.9 10.7 6.3 12.2 4 12.2 2.1 12.2 0.7 11.2 0.2 9.7" transform="translate(22.2 0)"/><path d="M7.2 1.9C6.8 0.7 5.7 0 4.3 0 1.5 0 0.2 2.8 0.2 6.8 0.2 10.4 1.6 12.2 4.1 12.2 6.3 12.2 7.9 10.6 7.9 8.3 7.9 6 6.4 4.5 4.2 4.5 1.9 4.5 0.3 6 0.2 8.3" transform="translate(33.3 0)"/><path d="M2 2.4L5.4 0V12.2" transform="translate(44.4 0)"/></g>
<g transform="translate(293.2 68.4) scale(1)" fill="none" stroke="#000" stroke-width="1.1" stroke-linejoin="round" stroke-linecap="round"><path d="M2 2.4L5.4 0V12.2" transform="translate(0 0)"/><path d="M0.8 0H7.4L3.6 4.9C6.3 4.7 7.9 6.2 7.9 8.5 7.9 10.7 6.3 12.2 4 12.2 2.1 12.2 0.7 11.2 0.2 9.7" transform="translate(11.1 0)"/><path d="M0.4 3.2C0.4 1.2 1.9 0 4 0S7.6 1.3 7.6 3.3C7.6 5.2 6.3 6.4 4.2 8.4L0.2 12.2H8" transform="translate(22.2 0)"/><path d="M7.2 1.9C6.8 0.7 5.7 0 4.3 0 1.5 0 0.2 2.8 0.2 6.8 0.2 10.4 1.6 12.2 4.1 12.2 6.3 12.2 7.9 10.6 7.9 8.3 7.9 6 6.4 4.5 4.2 4.5 1.9 4.5 0.3 6 0.2 8.3" transform="translate(33.3 0)"/><path d="M4 0C1.3 0 0 2.6 0 6.1S1.3 12.2 4 12.2 8 9.6 8 6.1 6.7 0 4 0Z" transform="translate(44.4 0)"/></g>
<g transform="translate(693.3 56.2) scale(1)" fill="none" stroke="#000" stroke-width="1.1" stroke-linejoin="round" stroke-linecap="round"><path d="M2 2.4L5.4 0V12.2" transform="translate(0 0)"/><path d="M0.8 0H7.4L3.6 4.9C6.3 4.7 7.9 6.2 7.9 8.5 7.9 10.7 6.3 12.2 4 12.2 2.1 12.2 0.7 11.2 0.2 9.7" transform="translate(11.1 0)"/><path d="M0.4 3.2C0.4 1.2 1.9 0 4 0S7.6 1.3 7.6 3.3C7.6 5.2 6.3 6.4 4.2 8.4L0.2 12.2H8" transform="translate(22.2 0)"/><path d="M7.2 1.9C6.8 0.7 5.7 0 4.3 0 1.5 0 0.2 2.8 0.2 6.8 0.2 10.4 1.6 12.2 4.1 12.2 6.3 12.2 7.9 10.6 7.9 8.3 7.9 6 6.4 4.5 4.2 4.5 1.9 4.5 0.3 6 0.2 8.3" transform="translate(33.3 0)"/><path d="M4 0C1.3 0 0 2.6 0 6.1S1.3 12.2 4 12.2 8 9.6 8 6.1 6.7 0 4 0Z" transform="translate(44.4 0)"/><path d="M0 12.2L4.4 0 8.8 12.2M1.5 8.1H7.3" transform="translate(55.5 0)"/></g>
<g transform="translate(126.1 183.3) scale(1)" fill="none" stroke="#000" stroke-width="1.1" stroke-linejoin="round" stroke-linecap="round"><path d="M0.8 10.3C1.2 11.5 2.3 12.2 3.7 12.2 6.5 12.2 7.8 9.4 7.8 5.4 7.8 1.8 6.4 0 3.9 0 1.7 0 0.1 1.6 0.1 3.9 0.1 6.2 1.6 7.7 3.8 7.7 6.1 7.7 7.7 6.2 7.8 3.9" transform="translate(0 0)"/><path d="M0.4 3.2C0.4 1.2 1.9 0 4 0S7.6 1.3 7.6 3.3C7.6 5.2 6.3 6.4 4.2 8.4L0.2 12.2H8" transform="translate(11.1 0)"/><path d="M4 0C1.3 0 0 2.6 0 6.1S1.3 12.2 4 12.2 8 9.6 8 6.1 6.7 0 4 0Z" transform="translate(22.2 0)"/><path d="M0.4 3.2C0.4 1.2 1.9 0 4 0S7.6 1.3 7.6 3.3C7.6 5.2 6.3 6.4 4.2 8.4L0.2 12.2H8" transform="translate(33.3 0)"/><path d="M4 0C2.1 0 0.9 1.2 0.9 2.9S2.1 5.7 4 5.7 7.1 4.6 7.1 2.9 5.9 0 4 0ZM4 5.7C1.7 5.7 0.2 7 0.2 9S1.7 12.2 4 12.2 7.8 11 7.8 9 6.3 5.7 4 5.7Z" transform="translate(44.4 0)"/><path d="M8.4 3C7.8 1.2 6.3 0 4.3 0 1.6 0 0 2.4 0 6.1S1.6 12.2 4.3 12.2C6.3 12.2 7.8 11 8.4 9.2" transform="translate(55.5 0)"/></g>
<g transform="translate(61.6 235.2) scale(1)" fill="none" stroke="#000" stroke-width="1.1" stroke-linejoin="round" stroke-linecap="round"><path d="M0.8 10.3C1.2 11.5 2.3 12.2 3.7 12.2 6.5 12.2 7.8 9.4 7.8 5.4 7.8 1.8 6.4 0 3.9 0 1.7 0 0.1 1.6 0.1 3.9 0.1 6.2 1.6 7.7 3.8 7.7 6.1 7.7 7.7 6.2 7.8 3.9" transform="translate(0 0)"/><path d="M0.4 3.2C0.4 1.2 1.9 0 4 0S7.6 1.3 7.6 3.3C7.6 5.2 6.3 6.4 4.2 8.4L0.2 12.2H8" transform="translate(11.1 0)"/><path d="M4 0C1.3 0 0 2.6 0 6.1S1.3 12.2 4 12.2 8 9.6 8 6.1 6.7 0 4 0Z" transform="translate(22.2 0)"/><path d="M5.8 12.2V0L0 8.6H8.4" transform="translate(33.3 0)"/><path d="M7.2 1.9C6.8 0.7 5.7 0 4.3 0 1.5 0 0.2 2.8 0.2 6.8 0.2 10.4 1.6 12.2 4.1 12.2 6.3 12.2 7.9 10.6 7.9 8.3 7.9 6 6.4 4.5 4.2 4.5 1.9 4.5 0.3 6 0.2 8.3" transform="translate(44.4 0)"/></g>
<g transform="translate(16.6 266.4) scale(1)" fill="none" stroke="#000" stroke-width="1.1" stroke-linejoin="round" stroke-linecap="round"><path d="M0.8 10.3C1.2 11.5 2.3 12.2 3.7 12.2 6.5 12.2 7.8 9.4 7.8 5.4 7.8 1.8 6.4 0 3.9 0 1.7 0 0.1 1.6 0.1 3.9 0.1 6.2 1.6 7.7 3.8 7.7 6.1 7.7 7.7 6.2 7.8 3.9" transform="translate(0 0)"/><path d="M0.4 3.2C0.4 1.2 1.9 0 4 0S7.6 1.3 7.6 3.3C7.6 5.2 6.3 6.4 4.2 8.4L0.2 12.2H8" transform="translate(11.1 0)"/><path d="M4 0C1.3 0 0 2.6 0 6.1S1.3 12.2 4 12.2 8 9.6 8 6.1 6.7 0 4 0Z" transform="translate(22.2 0)"/><path d="M0.8 0H7.4L3.6 4.9C6.3 4.7 7.9 6.2 7.9 8.5 7.9 10.7 6.3 12.2 4 12.2 2.1 12.2 0.7 11.2 0.2 9.7" transform="translate(33.3 0)"/><path d="M0.8 0H7.4L3.6 4.9C6.3 4.7 7.9 6.2 7.9 8.5 7.9 10.7 6.3 12.2 4 12.2 2.1 12.2 0.7 11.2 0.2 9.7" transform="translate(44.4 0)"/></g>
<g transform="translate(235.4 314) scale(1)" fill="none" stroke="#000" stroke-width="1.1" stroke-linejoin="round" stroke-linecap="round"><path d="M0.8 10.3C1.2 11.5 2.3 12.2 3.7 12.2 6.5 12.2 7.8 9.4 7.8 5.4 7.8 1.8 6.4 0 3.9 0 1.7 0 0.1 1.6 0.1 3.9 0.1 6.2 1.6 7.7 3.8 7.7 6.1 7.7 7.7 6.2 7.8 3.9" transform="translate(0 0)"/><path d="M0.4 3.2C0.4 1.2 1.9 0 4 0S7.6 1.3 7.6 3.3C7.6 5.2 6.3 6.4 4.2 8.4L0.2 12.2H8" transform="translate(11.1 0)"/><path d="M4 0C1.3 0 0 2.6 0 6.1S1.3 12.2 4 12.2 8 9.6 8 6.1 6.7 0 4 0Z" transform="translate(22.2 0)"/><path d="M0.4 3.2C0.4 1.2 1.9 0 4 0S7.6 1.3 7.6 3.3C7.6 5.2 6.3 6.4 4.2 8.4L0.2 12.2H8" transform="translate(33.3 0)"/><path d="M7.2 1.9C6.8 0.7 5.7 0 4.3 0 1.5 0 0.2 2.8 0.2 6.8 0.2 10.4 1.6 12.2 4.1 12.2 6.3 12.2 7.9 10.6 7.9 8.3 7.9 6 6.4 4.5 4.2 4.5 1.9 4.5 0.3 6 0.2 8.3" transform="translate(44.4 0)"/></g>
<g transform="translate(397.5 232) scale(1)" fill="none" stroke="#000" stroke-width="1.1" stroke-linejoin="round" stroke-linecap="round"><path d="M2 2.4L5.4 0V12.2" transform="translate(0 0)"/><path d="M0.8 0H7.4L3.6 4.9C6.3 4.7 7.9 6.2 7.9 8.5 7.9 10.7 6.3 12.2 4 12.2 2.1 12.2 0.7 11.2 0.2 9.7" transform="translate(11.1 0)"/><path d="M0.4 3.2C0.4 1.2 1.9 0 4 0S7.6 1.3 7.6 3.3C7.6 5.2 6.3 6.4 4.2 8.4L0.2 12.2H8" transform="translate(22.2 0)"/><path d="M7.2 1.9C6.8 0.7 5.7 0 4.3 0 1.5 0 0.2 2.8 0.2 6.8 0.2 10.4 1.6 12.2 4.1 12.2 6.3 12.2 7.9 10.6 7.9 8.3 7.9 6 6.4 4.5 4.2 4.5 1.9 4.5 0.3 6 0.2 8.3" transform="translate(33.3 0)"/><path d="M0.4 3.2C0.4 1.2 1.9 0 4 0S7.6 1.3 7.6 3.3C7.6 5.2 6.3 6.4 4.2 8.4L0.2 12.2H8" transform="translate(44.4 0)"/><path d="M0.6 0V12.2H3.6C6.8 12.2 8.4 9.8 8.4 6.1S6.8 0 3.6 0H0.6" transform="translate(55.5 0)"/></g>
<g transform="translate(485.1 224) scale(1)" fill="none" stroke="#000" stroke-width="1.1" stroke-linejoin="round" stroke-linecap="round"><path d="M0.8 10.3C1.2 11.5 2.3 12.2 3.7 12.2 6.5 12.2 7.8 9.4 7.8 5.4 7.8 1.8 6.4 0 3.9 0 1.7 0 0.1 1.6 0.1 3.9 0.1 6.2 1.6 7.7 3.8 7.7 6.1 7.7 7.7 6.2 7.8 3.9" transform="translate(0 0)"/><path d="M0.4 3.2C0.4 1.2 1.9 0 4 0S7.6 1.3 7.6 3.3C7.6 5.2 6.3 6.4 4.2 8.4L0.2 12.2H8" transform="translate(11.1 0)"/><path d="M4 0C1.3 0 0 2.6 0 6.1S1.3 12.2 4 12.2 8 9.6 8 6.1 6.7 0 4 0Z" transform="translate(22.2 0)"/><path d="M0.8 0H7.4L3.6 4.9C6.3 4.7 7.9 6.2 7.9 8.5 7.9 10.7 6.3 12.2 4 12.2 2.1 12.2 0.7 11.2 0.2 9.7" transform="translate(33.3 0)"/><path d="M0.8 0H7.4L3.6 4.9C6.3 4.7 7.9 6.2 7.9 8.5 7.9 10.7 6.3 12.2 4 12.2 2.1 12.2 0.7 11.2 0.2 9.7" transform="translate(44.4 0)"/><path d="M0 12.2L4.4 0 8.8 12.2M1.5 8.1H7.3" transform="translate(55.5 0)"/></g>
<g transform="translate(533.3 192.6) scale(1)" fill="none" stroke="#000" stroke-width="1.1" stroke-linejoin="round" stroke-linecap="round"><path d="M0.8 10.3C1.2 11.5 2.3 12.2 3.7 12.2 6.5 12.2 7.8 9.4 7.8 5.4 7.8 1.8 6.4 0 3.9 0 1.7 0 0.1 1.6 0.1 3.9 0.1 6.2 1.6 7.7 3.8 7.7 6.1 7.7 7.7 6.2 7.8 3.9" transform="translate(0 0)"/><path d="M0.4 3.2C0.4 1.2 1.9 0 4 0S7.6 1.3 7.6 3.3C7.6 5.2 6.3 6.4 4.2 8.4L0.2 12.2H8" transform="translate(11.1 0)"/><path d="M0.4 3.2C0.4 1.2 1.9 0 4 0S7.6 1.3 7.6 3.3C7.6 5.2 6.3 6.4 4.2 8.4L0.2 12.2H8" transform="translate(22.2 0)"/><path d="M4 0C1.3 0 0 2.6 0 6.1S1.3 12.2 4 12.2 8 9.6 8 6.1 6.7 0 4 0Z" transform="translate(33.3 0)"/><path d="M4 0C1.3 0 0 2.6 0 6.1S1.3 12.2 4 12.2 8 9.6 8 6.1 6.7 0 4 0Z" transform="translate(44.4 0)"/><path d="M0 12.2L4.4 0 8.8 12.2M1.5 8.1H7.3" transform="translate(55.5 0)"/></g>
<g transform="translate(633.2 324.3) scale(1)" fill="none" stroke="#000" stroke-width="1.1" stroke-linejoin="round" stroke-linecap="round"><path d="M0.8 10.3C1.2 11.5 2.3 12.2 3.7 12.2 6.5 12.2 7.8 9.4 7.8 5.4 7.8 1.8 6.4 0 3.9 0 1.7 0 0.1 1.6 0.1 3.9 0.1 6.2 1.6 7.7 3.8 7.7 6.1 7.7 7.7 6.2 7.8 3.9" transform="translate(0 0)"/><path d="M0.4 3.2C0.4 1.2 1.9 0 4 0S7.6 1.3 7.6 3.3C7.6 5.2 6.3 6.4 4.2 8.4L0.2 12.2H8" transform="translate(11.1 0)"/><path d="M4 0C1.3 0 0 2.6 0 6.1S1.3 12.2 4 12.2 8 9.6 8 6.1 6.7 0 4 0Z" transform="translate(22.2 0)"/><path d="M0.4 3.2C0.4 1.2 1.9 0 4 0S7.6 1.3 7.6 3.3C7.6 5.2 6.3 6.4 4.2 8.4L0.2 12.2H8" transform="translate(33.3 0)"/><path d="M4 0C2.1 0 0.9 1.2 0.9 2.9S2.1 5.7 4 5.7 7.1 4.6 7.1 2.9 5.9 0 4 0ZM4 5.7C1.7 5.7 0.2 7 0.2 9S1.7 12.2 4 12.2 7.8 11 7.8 9 6.3 5.7 4 5.7Z" transform="translate(44.4 0)"/></g>
<g transform="translate(998.8 337.7) scale(1)" fill="none" stroke="#000" stroke-width="1.1" stroke-linejoin="round" stroke-linecap="round"><path d="M0.8 10.3C1.2 11.5 2.3 12.2 3.7 12.2 6.5 12.2 7.8 9.4 7.8 5.4 7.8 1.8 6.4 0 3.9 0 1.7 0 0.1 1.6 0.1 3.9 0.1 6.2 1.6 7.7 3.8 7.7 6.1 7.7 7.7 6.2 7.8 3.9" transform="translate(0 0)"/><path d="M0.4 3.2C0.4 1.2 1.9 0 4 0S7.6 1.3 7.6 3.3C7.6 5.2 6.3 6.4 4.2 8.4L0.2 12.2H8" transform="translate(11.1 0)"/><path d="M4 0C1.3 0 0 2.6 0 6.1S1.3 12.2 4 12.2 8 9.6 8 6.1 6.7 0 4 0Z" transform="translate(22.2 0)"/><path d="M5.8 12.2V0L0 8.6H8.4" transform="translate(33.3 0)"/><path d="M7.2 0H1.4L0.7 5.4C1.5 4.6 2.6 4.2 3.9 4.2 6.3 4.2 7.9 5.8 7.9 8.2S6.3 12.2 3.9 12.2C1.9 12.2 0.6 11.2 0.1 9.7" transform="translate(44.4 0)"/></g>
<g transform="translate(746.8 458.5) scale(1)" fill="none" stroke="#000" stroke-width="1.1" stroke-linejoin="round" stroke-linecap="round"><path d="M2 2.4L5.4 0V12.2" transform="translate(0 0)"/><path d="M0.8 0H7.4L3.6 4.9C6.3 4.7 7.9 6.2 7.9 8.5 7.9 10.7 6.3 12.2 4 12.2 2.1 12.2 0.7 11.2 0.2 9.7" transform="translate(11.1 0)"/><path d="M2 2.4L5.4 0V12.2" transform="translate(22.2 0)"/><path d="M0.4 3.2C0.4 1.2 1.9 0 4 0S7.6 1.3 7.6 3.3C7.6 5.2 6.3 6.4 4.2 8.4L0.2 12.2H8" transform="translate(33.3 0)"/><path d="M0 0H8L2.6 12.2" transform="translate(44.4 0)"/></g>
<g transform="translate(159 356.3) scale(1)" fill="none" stroke="#000" stroke-width="1.1" stroke-linejoin="round" stroke-linecap="round"><path d="M2 2.4L5.4 0V12.2" transform="translate(0 0)"/><path d="M0.8 0H7.4L3.6 4.9C6.3 4.7 7.9 6.2 7.9 8.5 7.9 10.7 6.3 12.2 4 12.2 2.1 12.2 0.7 11.2 0.2 9.7" transform="translate(11.1 0)"/><path d="M0.4 3.2C0.4 1.2 1.9 0 4 0S7.6 1.3 7.6 3.3C7.6 5.2 6.3 6.4 4.2 8.4L0.2 12.2H8" transform="translate(22.2 0)"/><path d="M7.2 1.9C6.8 0.7 5.7 0 4.3 0 1.5 0 0.2 2.8 0.2 6.8 0.2 10.4 1.6 12.2 4.1 12.2 6.3 12.2 7.9 10.6 7.9 8.3 7.9 6 6.4 4.5 4.2 4.5 1.9 4.5 0.3 6 0.2 8.3" transform="translate(33.3 0)"/><path d="M0.4 3.2C0.4 1.2 1.9 0 4 0S7.6 1.3 7.6 3.3C7.6 5.2 6.3 6.4 4.2 8.4L0.2 12.2H8" transform="translate(44.4 0)"/><path d="M8.4 3C7.8 1.2 6.3 0 4.3 0 1.6 0 0 2.4 0 6.1S1.6 12.2 4.3 12.2C6.3 12.2 7.8 11 8.4 9.2" transform="translate(55.5 0)"/></g>
<g transform="translate(250.2 356.3) scale(1)" fill="none" stroke="#000" stroke-width="1.1" stroke-linejoin="round" stroke-linecap="round"><path d="M0.8 10.3C1.2 11.5 2.3 12.2 3.7 12.2 6.5 12.2 7.8 9.4 7.8 5.4 7.8 1.8 6.4 0 3.9 0 1.7 0 0.1 1.6 0.1 3.9 0.1 6.2 1.6 7.7 3.8 7.7 6.1 7.7 7.7 6.2 7.8 3.9" transform="translate(0 0)"/><path d="M0.4 3.2C0.4 1.2 1.9 0 4 0S7.6 1.3 7.6 3.3C7.6 5.2 6.3 6.4 4.2 8.4L0.2 12.2H8" transform="translate(11.1 0)"/><path d="M0.4 3.2C0.4 1.2 1.9 0 4 0S7.6 1.3 7.6 3.3C7.6 5.2 6.3 6.4 4.2 8.4L0.2 12.2H8" transform="translate(22.2 0)"/><path d="M4 0C1.3 0 0 2.6 0 6.1S1.3 12.2 4 12.2 8 9.6 8 6.1 6.7 0 4 0Z" transform="translate(33.3 0)"/><path d="M4 0C1.3 0 0 2.6 0 6.1S1.3 12.2 4 12.2 8 9.6 8 6.1 6.7 0 4 0Z" transform="translate(44.4 0)"/><path d="M0 12.2L4.4 0 8.8 12.2M1.5 8.1H7.3" transform="translate(55.5 0)"/></g>
<g transform="translate(330.9 497.5) scale(1)" fill="none" stroke="#000" stroke-width="1.1" stroke-linejoin="round" stroke-linecap="round"><path d="M0.8 10.3C1.2 11.5 2.3 12.2 3.7 12.2 6.5 12.2 7.8 9.4 7.8 5.4 7.8 1.8 6.4 0 3.9 0 1.7 0 0.1 1.6 0.1 3.9 0.1 6.2 1.6 7.7 3.8 7.7 6.1 7.7 7.7 6.2 7.8 3.9" transform="translate(0 0)"/><path d="M0.4 3.2C0.4 1.2 1.9 0 4 0S7.6 1.3 7.6 3.3C7.6 5.2 6.3 6.4 4.2 8.4L0.2 12.2H8" transform="translate(11.1 0)"/><path d="M4 0C1.3 0 0 2.6 0 6.1S1.3 12.2 4 12.2 8 9.6 8 6.1 6.7 0 4 0Z" transform="translate(22.2 0)"/><path d="M0.8 0H7.4L3.6 4.9C6.3 4.7 7.9 6.2 7.9 8.5 7.9 10.7 6.3 12.2 4 12.2 2.1 12.2 0.7 11.2 0.2 9.7" transform="translate(33.3 0)"/><path d="M0.8 0H7.4L3.6 4.9C6.3 4.7 7.9 6.2 7.9 8.5 7.9 10.7 6.3 12.2 4 12.2 2.1 12.2 0.7 11.2 0.2 9.7" transform="translate(44.4 0)"/><path d="M0 12.2L4.4 0 8.8 12.2M1.5 8.1H7.3" transform="translate(55.5 0)"/></g>
<g transform="translate(97.4 631.6) scale(1)" fill="none" stroke="#000" stroke-width="1.1" stroke-linejoin="round" stroke-linecap="round"><path d="M0.8 10.3C1.2 11.5 2.3 12.2 3.7 12.2 6.5 12.2 7.8 9.4 7.8 5.4 7.8 1.8 6.4 0 3.9 0 1.7 0 0.1 1.6 0.1 3.9 0.1 6.2 1.6 7.7 3.8 7.7 6.1 7.7 7.7 6.2 7.8 3.9" transform="translate(0 0)"/><path d="M0.4 3.2C0.4 1.2 1.9 0 4 0S7.6 1.3 7.6 3.3C7.6 5.2 6.3 6.4 4.2 8.4L0.2 12.2H8" transform="translate(11.1 0)"/><path d="M4 0C1.3 0 0 2.6 0 6.1S1.3 12.2 4 12.2 8 9.6 8 6.1 6.7 0 4 0Z" transform="translate(22.2 0)"/><path d="M0.4 3.2C0.4 1.2 1.9 0 4 0S7.6 1.3 7.6 3.3C7.6 5.2 6.3 6.4 4.2 8.4L0.2 12.2H8" transform="translate(33.3 0)"/><path d="M4 0C2.1 0 0.9 1.2 0.9 2.9S2.1 5.7 4 5.7 7.1 4.6 7.1 2.9 5.9 0 4 0ZM4 5.7C1.7 5.7 0.2 7 0.2 9S1.7 12.2 4 12.2 7.8 11 7.8 9 6.3 5.7 4 5.7Z" transform="translate(44.4 0)"/><path d="M0.6 0V12.2H4.8C7.1 12.2 8.4 10.8 8.4 8.8S7 5.8 4.8 5.8H0.6M4.8 5.8C6.6 5.8 7.8 4.6 7.8 2.9S6.6 0 4.6 0H0.6" transform="translate(55.5 0)"/></g>
<g transform="translate(599.3 518.2) scale(1)" fill="none" stroke="#000" stroke-width="1.1" stroke-linejoin="round" stroke-linecap="round"><path d="M2 2.4L5.4 0V12.2" transform="translate(0 0)"/><path d="M0.8 0H7.4L3.6 4.9C6.3 4.7 7.9 6.2 7.9 8.5 7.9 10.7 6.3 12.2 4 12.2 2.1 12.2 0.7 11.2 0.2 9.7" transform="translate(11.1 0)"/><path d="M0.4 3.2C0.4 1.2 1.9 0 4 0S7.6 1.3 7.6 3.3C7.6 5.2 6.3 6.4 4.2 8.4L0.2 12.2H8" transform="translate(22.2 0)"/><path d="M7.2 1.9C6.8 0.7 5.7 0 4.3 0 1.5 0 0.2 2.8 0.2 6.8 0.2 10.4 1.6 12.2 4.1 12.2 6.3 12.2 7.9 10.6 7.9 8.3 7.9 6 6.4 4.5 4.2 4.5 1.9 4.5 0.3 6 0.2 8.3" transform="translate(33.3 0)"/><path d="M4 0C1.3 0 0 2.6 0 6.1S1.3 12.2 4 12.2 8 9.6 8 6.1 6.7 0 4 0Z" transform="translate(44.4 0)"/><path d="M0.6 0V12.2H4.8C7.1 12.2 8.4 10.8 8.4 8.8S7 5.8 4.8 5.8H0.6M4.8 5.8C6.6 5.8 7.8 4.6 7.8 2.9S6.6 0 4.6 0H0.6" transform="translate(55.5 0)"/></g>
<g transform="translate(391.8 660.6) scale(1)" fill="none" stroke="#000" stroke-width="1.1" stroke-linejoin="round" stroke-linecap="round"><path d="M0.8 10.3C1.2 11.5 2.3 12.2 3.7 12.2 6.5 12.2 7.8 9.4 7.8 5.4 7.8 1.8 6.4 0 3.9 0 1.7 0 0.1 1.6 0.1 3.9 0.1 6.2 1.6 7.7 3.8 7.7 6.1 7.7 7.7 6.2 7.8 3.9" transform="translate(0 0)"/><path d="M0.4 3.2C0.4 1.2 1.9 0 4 0S7.6 1.3 7.6 3.3C7.6 5.2 6.3 6.4 4.2 8.4L0.2 12.2H8" transform="translate(11.1 0)"/><path d="M4 0C1.3 0 0 2.6 0 6.1S1.3 12.2 4 12.2 8 9.6 8 6.1 6.7 0 4 0Z" transform="translate(22.2 0)"/><path d="M5.8 12.2V0L0 8.6H8.4" transform="translate(33.3 0)"/><path d="M7.2 0H1.4L0.7 5.4C1.5 4.6 2.6 4.2 3.9 4.2 6.3 4.2 7.9 5.8 7.9 8.2S6.3 12.2 3.9 12.2C1.9 12.2 0.6 11.2 0.1 9.7" transform="translate(44.4 0)"/></g>
<g transform="translate(531.8 811.8) scale(1)" fill="none" stroke="#000" stroke-width="1.1" stroke-linejoin="round" stroke-linecap="round"><path d="M0.8 10.3C1.2 11.5 2.3 12.2 3.7 12.2 6.5 12.2 7.8 9.4 7.8 5.4 7.8 1.8 6.4 0 3.9 0 1.7 0 0.1 1.6 0.1 3.9 0.1 6.2 1.6 7.7 3.8 7.7 6.1 7.7 7.7 6.2 7.8 3.9" transform="translate(0 0)"/><path d="M0.4 3.2C0.4 1.2 1.9 0 4 0S7.6 1.3 7.6 3.3C7.6 5.2 6.3 6.4 4.2 8.4L0.2 12.2H8" transform="translate(11.1 0)"/><path d="M4 0C1.3 0 0 2.6 0 6.1S1.3 12.2 4 12.2 8 9.6 8 6.1 6.7 0 4 0Z" transform="translate(22.2 0)"/><path d="M0.4 3.2C0.4 1.2 1.9 0 4 0S7.6 1.3 7.6 3.3C7.6 5.2 6.3 6.4 4.2 8.4L0.2 12.2H8" transform="translate(33.3 0)"/><path d="M7.2 1.9C6.8 0.7 5.7 0 4.3 0 1.5 0 0.2 2.8 0.2 6.8 0.2 10.4 1.6 12.2 4.1 12.2 6.3 12.2 7.9 10.6 7.9 8.3 7.9 6 6.4 4.5 4.2 4.5 1.9 4.5 0.3 6 0.2 8.3" transform="translate(44.4 0)"/><path d="M0 12.2L4.4 0 8.8 12.2M1.5 8.1H7.3" transform="translate(55.5 0)"/></g>
<g transform="translate(182.3 760.8) scale(1)" fill="none" stroke="#000" stroke-width="1.1" stroke-linejoin="round" stroke-linecap="round"><path d="M2 2.4L5.4 0V12.2" transform="translate(0 0)"/><path d="M0.8 0H7.4L3.6 4.9C6.3 4.7 7.9 6.2 7.9 8.5 7.9 10.7 6.3 12.2 4 12.2 2.1 12.2 0.7 11.2 0.2 9.7" transform="translate(11.1 0)"/><path d="M2 2.4L5.4 0V12.2" transform="translate(22.2 0)"/><path d="M5.8 12.2V0L0 8.6H8.4" transform="translate(33.3 0)"/><path d="M5.8 12.2V0L0 8.6H8.4" transform="translate(44.4 0)"/></g>
<g transform="translate(292.2 745.8) scale(1)" fill="none" stroke="#000" stroke-width="1.1" stroke-linejoin="round" stroke-linecap="round"><path d="M0.8 10.3C1.2 11.5 2.3 12.2 3.7 12.2 6.5 12.2 7.8 9.4 7.8 5.4 7.8 1.8 6.4 0 3.9 0 1.7 0 0.1 1.6 0.1 3.9 0.1 6.2 1.6 7.7 3.8 7.7 6.1 7.7 7.7 6.2 7.8 3.9" transform="translate(0 0)"/><path d="M0.4 3.2C0.4 1.2 1.9 0 4 0S7.6 1.3 7.6 3.3C7.6 5.2 6.3 6.4 4.2 8.4L0.2 12.2H8" transform="translate(11.1 0)"/><path d="M2 2.4L5.4 0V12.2" transform="translate(22.2 0)"/><path d="M7.2 0H1.4L0.7 5.4C1.5 4.6 2.6 4.2 3.9 4.2 6.3 4.2 7.9 5.8 7.9 8.2S6.3 12.2 3.9 12.2C1.9 12.2 0.6 11.2 0.1 9.7" transform="translate(33.3 0)"/><path d="M0.4 3.2C0.4 1.2 1.9 0 4 0S7.6 1.3 7.6 3.3C7.6 5.2 6.3 6.4 4.2 8.4L0.2 12.2H8" transform="translate(44.4 0)"/></g>
<g transform="translate(39.1 900.8) scale(1)" fill="none" stroke="#000" stroke-width="1.1" stroke-linejoin="round" stroke-linecap="round"><path d="M0.8 10.3C1.2 11.5 2.3 12.2 3.7 12.2 6.5 12.2 7.8 9.4 7.8 5.4 7.8 1.8 6.4 0 3.9 0 1.7 0 0.1 1.6 0.1 3.9 0.1 6.2 1.6 7.7 3.8 7.7 6.1 7.7 7.7 6.2 7.8 3.9" transform="translate(0 0)"/><path d="M0.4 3.2C0.4 1.2 1.9 0 4 0S7.6 1.3 7.6 3.3C7.6 5.2 6.3 6.4 4.2 8.4L0.2 12.2H8" transform="translate(11.1 0)"/><path d="M0.4 3.2C0.4 1.2 1.9 0 4 0S7.6 1.3 7.6 3.3C7.6 5.2 6.3 6.4 4.2 8.4L0.2 12.2H8" transform="translate(22.2 0)"/><path d="M2 2.4L5.4 0V12.2" transform="translate(33.3 0)"/><path d="M4 0C1.3 0 0 2.6 0 6.1S1.3 12.2 4 12.2 8 9.6 8 6.1 6.7 0 4 0Z" transform="translate(44.4 0)"/></g>
<g transform="translate(136.6 1044.8) scale(1)" fill="none" stroke="#000" stroke-width="1.1" stroke-linejoin="round" stroke-linecap="round"><path d="M0.8 10.3C1.2 11.5 2.3 12.2 3.7 12.2 6.5 12.2 7.8 9.4 7.8 5.4 7.8 1.8 6.4 0 3.9 0 1.7 0 0.1 1.6 0.1 3.9 0.1 6.2 1.6 7.7 3.8 7.7 6.1 7.7 7.7 6.2 7.8 3.9" transform="translate(0 0)"/><path d="M0.4 3.2C0.4 1.2 1.9 0 4 0S7.6 1.3 7.6 3.3C7.6 5.2 6.3 6.4 4.2 8.4L0.2 12.2H8" transform="translate(11.1 0)"/><path d="M0.4 3.2C0.4 1.2 1.9 0 4 0S7.6 1.3 7.6 3.3C7.6 5.2 6.3 6.4 4.2 8.4L0.2 12.2H8" transform="translate(22.2 0)"/><path d="M4 0C1.3 0 0 2.6 0 6.1S1.3 12.2 4 12.2 8 9.6 8 6.1 6.7 0 4 0Z" transform="translate(33.3 0)"/><path d="M4 0C1.3 0 0 2.6 0 6.1S1.3 12.2 4 12.2 8 9.6 8 6.1 6.7 0 4 0Z" transform="translate(44.4 0)"/></g>
<g transform="translate(674.2 789) scale(1)" fill="none" stroke="#000" stroke-width="1.1" stroke-linejoin="round" stroke-linecap="round"><path d="M2 2.4L5.4 0V12.2" transform="translate(0 0)"/><path d="M0.8 0H7.4L3.6 4.9C6.3 4.7 7.9 6.2 7.9 8.5 7.9 10.7 6.3 12.2 4 12.2 2.1 12.2 0.7 11.2 0.2 9.7" transform="translate(11.1 0)"/><path d="M0.4 3.2C0.4 1.2 1.9 0 4 0S7.6 1.3 7.6 3.3C7.6 5.2 6.3 6.4 4.2 8.4L0.2 12.2H8" transform="translate(22.2 0)"/><path d="M7.2 1.9C6.8 0.7 5.7 0 4.3 0 1.5 0 0.2 2.8 0.2 6.8 0.2 10.4 1.6 12.2 4.1 12.2 6.3 12.2 7.9 10.6 7.9 8.3 7.9 6 6.4 4.5 4.2 4.5 1.9 4.5 0.3 6 0.2 8.3" transform="translate(33.3 0)"/><path d="M4 0C1.3 0 0 2.6 0 6.1S1.3 12.2 4 12.2 8 9.6 8 6.1 6.7 0 4 0Z" transform="translate(44.4 0)"/><path d="M8.4 3C7.8 1.2 6.3 0 4.3 0 1.6 0 0 2.4 0 6.1S1.6 12.2 4.3 12.2C6.3 12.2 7.8 11 8.4 9.2" transform="translate(55.5 0)"/></g>
<g transform="translate(770.4 785.4) scale(1)" fill="none" stroke="#000" stroke-width="1.1" stroke-linejoin="round" stroke-linecap="round"><path d="M0.8 10.3C1.2 11.5 2.3 12.2 3.7 12.2 6.5 12.2 7.8 9.4 7.8 5.4 7.8 1.8 6.4 0 3.9 0 1.7 0 0.1 1.6 0.1 3.9 0.1 6.2 1.6 7.7 3.8 7.7 6.1 7.7 7.7 6.2 7.8 3.9" transform="translate(0 0)"/><path d="M0.4 3.2C0.4 1.2 1.9 0 4 0S7.6 1.3 7.6 3.3C7.6 5.2 6.3 6.4 4.2 8.4L0.2 12.2H8" transform="translate(11.1 0)"/><path d="M4 0C1.3 0 0 2.6 0 6.1S1.3 12.2 4 12.2 8 9.6 8 6.1 6.7 0 4 0Z" transform="translate(22.2 0)"/><path d="M0.4 3.2C0.4 1.2 1.9 0 4 0S7.6 1.3 7.6 3.3C7.6 5.2 6.3 6.4 4.2 8.4L0.2 12.2H8" transform="translate(33.3 0)"/><path d="M4 0C2.1 0 0.9 1.2 0.9 2.9S2.1 5.7 4 5.7 7.1 4.6 7.1 2.9 5.9 0 4 0ZM4 5.7C1.7 5.7 0.2 7 0.2 9S1.7 12.2 4 12.2 7.8 11 7.8 9 6.3 5.7 4 5.7Z" transform="translate(44.4 0)"/><path d="M0 12.2L4.4 0 8.8 12.2M1.5 8.1H7.3" transform="translate(55.5 0)"/></g>
<g transform="translate(842.4 737.3) scale(1)" fill="none" stroke="#000" stroke-width="1.1" stroke-linejoin="round" stroke-linecap="round"><path d="M0.8 10.3C1.2 11.5 2.3 12.2 3.7 12.2 6.5 12.2 7.8 9.4 7.8 5.4 7.8 1.8 6.4 0 3.9 0 1.7 0 0.1 1.6 0.1 3.9 0.1 6.2 1.6 7.7 3.8 7.7 6.1 7.7 7.7 6.2 7.8 3.9" transform="translate(0 0)"/><path d="M0.4 3.2C0.4 1.2 1.9 0 4 0S7.6 1.3 7.6 3.3C7.6 5.2 6.3 6.4 4.2 8.4L0.2 12.2H8" transform="translate(11.1 0)"/><path d="M4 0C1.3 0 0 2.6 0 6.1S1.3 12.2 4 12.2 8 9.6 8 6.1 6.7 0 4 0Z" transform="translate(22.2 0)"/><path d="M0.4 3.2C0.4 1.2 1.9 0 4 0S7.6 1.3 7.6 3.3C7.6 5.2 6.3 6.4 4.2 8.4L0.2 12.2H8" transform="translate(33.3 0)"/><path d="M7.2 1.9C6.8 0.7 5.7 0 4.3 0 1.5 0 0.2 2.8 0.2 6.8 0.2 10.4 1.6 12.2 4.1 12.2 6.3 12.2 7.9 10.6 7.9 8.3 7.9 6 6.4 4.5 4.2 4.5 1.9 4.5 0.3 6 0.2 8.3" transform="translate(44.4 0)"/><path d="M0.6 0V12.2H4.8C7.1 12.2 8.4 10.8 8.4 8.8S7 5.8 4.8 5.8H0.6M4.8 5.8C6.6 5.8 7.8 4.6 7.8 2.9S6.6 0 4.6 0H0.6" transform="translate(55.5 0)"/></g>
<g transform="translate(918.8 713.4) scale(1)" fill="none" stroke="#000" stroke-width="1.1" stroke-linejoin="round" stroke-linecap="round"><path d="M5.8 12.2V0L0 8.6H8.4" transform="translate(0 0)"/><path d="M4 0C2.1 0 0.9 1.2 0.9 2.9S2.1 5.7 4 5.7 7.1 4.6 7.1 2.9 5.9 0 4 0ZM4 5.7C1.7 5.7 0.2 7 0.2 9S1.7 12.2 4 12.2 7.8 11 7.8 9 6.3 5.7 4 5.7Z" transform="translate(11.1 0)"/><path d="M4 0C1.3 0 0 2.6 0 6.1S1.3 12.2 4 12.2 8 9.6 8 6.1 6.7 0 4 0Z" transform="translate(22.2 0)"/></g>
<g transform="translate(1001 954.4) scale(1)" fill="none" stroke="#000" stroke-width="1.1" stroke-linejoin="round" stroke-linecap="round"><path d="M0.8 10.3C1.2 11.5 2.3 12.2 3.7 12.2 6.5 12.2 7.8 9.4 7.8 5.4 7.8 1.8 6.4 0 3.9 0 1.7 0 0.1 1.6 0.1 3.9 0.1 6.2 1.6 7.7 3.8 7.7 6.1 7.7 7.7 6.2 7.8 3.9" transform="translate(0 0)"/><path d="M0.4 3.2C0.4 1.2 1.9 0 4 0S7.6 1.3 7.6 3.3C7.6 5.2 6.3 6.4 4.2 8.4L0.2 12.2H8" transform="translate(11.1 0)"/><path d="M4 0C1.3 0 0 2.6 0 6.1S1.3 12.2 4 12.2 8 9.6 8 6.1 6.7 0 4 0Z" transform="translate(22.2 0)"/><path d="M0.8 0H7.4L3.6 4.9C6.3 4.7 7.9 6.2 7.9 8.5 7.9 10.7 6.3 12.2 4 12.2 2.1 12.2 0.7 11.2 0.2 9.7" transform="translate(33.3 0)"/><path d="M0.8 0H7.4L3.6 4.9C6.3 4.7 7.9 6.2 7.9 8.5 7.9 10.7 6.3 12.2 4 12.2 2.1 12.2 0.7 11.2 0.2 9.7" transform="translate(44.4 0)"/></g>
<g transform="translate(938.4 984.6) scale(1)" fill="none" stroke="#000" stroke-width="1.1" stroke-linejoin="round" stroke-linecap="round"><path d="M0.8 10.3C1.2 11.5 2.3 12.2 3.7 12.2 6.5 12.2 7.8 9.4 7.8 5.4 7.8 1.8 6.4 0 3.9 0 1.7 0 0.1 1.6 0.1 3.9 0.1 6.2 1.6 7.7 3.8 7.7 6.1 7.7 7.7 6.2 7.8 3.9" transform="translate(0 0)"/><path d="M0.4 3.2C0.4 1.2 1.9 0 4 0S7.6 1.3 7.6 3.3C7.6 5.2 6.3 6.4 4.2 8.4L0.2 12.2H8" transform="translate(11.1 0)"/><path d="M4 0C1.3 0 0 2.6 0 6.1S1.3 12.2 4 12.2 8 9.6 8 6.1 6.7 0 4 0Z" transform="translate(22.2 0)"/><path d="M5.8 12.2V0L0 8.6H8.4" transform="translate(33.3 0)"/><path d="M7.2 1.9C6.8 0.7 5.7 0 4.3 0 1.5 0 0.2 2.8 0.2 6.8 0.2 10.4 1.6 12.2 4.1 12.2 6.3 12.2 7.9 10.6 7.9 8.3 7.9 6 6.4 4.5 4.2 4.5 1.9 4.5 0.3 6 0.2 8.3" transform="translate(44.4 0)"/></g>
<g transform="translate(854.4 1018.4) scale(1)" fill="none" stroke="#000" stroke-width="1.1" stroke-linejoin="round" stroke-linecap="round"><path d="M0.8 10.3C1.2 11.5 2.3 12.2 3.7 12.2 6.5 12.2 7.8 9.4 7.8 5.4 7.8 1.8 6.4 0 3.9 0 1.7 0 0.1 1.6 0.1 3.9 0.1 6.2 1.6 7.7 3.8 7.7 6.1 7.7 7.7 6.2 7.8 3.9" transform="translate(0 0)"/><path d="M0.4 3.2C0.4 1.2 1.9 0 4 0S7.6 1.3 7.6 3.3C7.6 5.2 6.3 6.4 4.2 8.4L0.2 12.2H8" transform="translate(11.1 0)"/><path d="M4 0C1.3 0 0 2.6 0 6.1S1.3 12.2 4 12.2 8 9.6 8 6.1 6.7 0 4 0Z" transform="translate(22.2 0)"/><path d="M0.4 3.2C0.4 1.2 1.9 0 4 0S7.6 1.3 7.6 3.3C7.6 5.2 6.3 6.4 4.2 8.4L0.2 12.2H8" transform="translate(33.3 0)"/><path d="M4 0C2.1 0 0.9 1.2 0.9 2.9S2.1 5.7 4 5.7 7.1 4.6 7.1 2.9 5.9 0 4 0ZM4 5.7C1.7 5.7 0.2 7 0.2 9S1.7 12.2 4 12.2 7.8 11 7.8 9 6.3 5.7 4 5.7Z" transform="translate(44.4 0)"/><path d="M8.4 3C7.8 1.2 6.3 0 4.3 0 1.6 0 0 2.4 0 6.1S1.6 12.2 4.3 12.2C6.3 12.2 7.8 11 8.4 9.2" transform="translate(55.5 0)"/></g>
<g transform="translate(799.2 1057.4) scale(1)" fill="none" stroke="#000" stroke-width="1.1" stroke-linejoin="round" stroke-linecap="round"><path d="M0.8 10.3C1.2 11.5 2.3 12.2 3.7 12.2 6.5 12.2 7.8 9.4 7.8 5.4 7.8 1.8 6.4 0 3.9 0 1.7 0 0.1 1.6 0.1 3.9 0.1 6.2 1.6 7.7 3.8 7.7 6.1 7.7 7.7 6.2 7.8 3.9" transform="translate(0 0)"/><path d="M0.4 3.2C0.4 1.2 1.9 0 4 0S7.6 1.3 7.6 3.3C7.6 5.2 6.3 6.4 4.2 8.4L0.2 12.2H8" transform="translate(11.1 0)"/><path d="M4 0C1.3 0 0 2.6 0 6.1S1.3 12.2 4 12.2 8 9.6 8 6.1 6.7 0 4 0Z" transform="translate(22.2 0)"/><path d="M0.4 3.2C0.4 1.2 1.9 0 4 0S7.6 1.3 7.6 3.3C7.6 5.2 6.3 6.4 4.2 8.4L0.2 12.2H8" transform="translate(33.3 0)"/><path d="M7.2 1.9C6.8 0.7 5.7 0 4.3 0 1.5 0 0.2 2.8 0.2 6.8 0.2 10.4 1.6 12.2 4.1 12.2 6.3 12.2 7.9 10.6 7.9 8.3 7.9 6 6.4 4.5 4.2 4.5 1.9 4.5 0.3 6 0.2 8.3" transform="translate(44.4 0)"/></g>
<g transform="translate(473.3 919.3) scale(1)" fill="none" stroke="#000" stroke-width="1.1" stroke-linejoin="round" stroke-linecap="round"><path d="M2 2.4L5.4 0V12.2" transform="translate(0 0)"/><path d="M0.8 0H7.4L3.6 4.9C6.3 4.7 7.9 6.2 7.9 8.5 7.9 10.7 6.3 12.2 4 12.2 2.1 12.2 0.7 11.2 0.2 9.7" transform="translate(11.1 0)"/><path d="M0.4 3.2C0.4 1.2 1.9 0 4 0S7.6 1.3 7.6 3.3C7.6 5.2 6.3 6.4 4.2 8.4L0.2 12.2H8" transform="translate(22.2 0)"/><path d="M7.2 1.9C6.8 0.7 5.7 0 4.3 0 1.5 0 0.2 2.8 0.2 6.8 0.2 10.4 1.6 12.2 4.1 12.2 6.3 12.2 7.9 10.6 7.9 8.3 7.9 6 6.4 4.5 4.2 4.5 1.9 4.5 0.3 6 0.2 8.3" transform="translate(33.3 0)"/><path d="M0.4 3.2C0.4 1.2 1.9 0 4 0S7.6 1.3 7.6 3.3C7.6 5.2 6.3 6.4 4.2 8.4L0.2 12.2H8" transform="translate(44.4 0)"/><path d="M0.6 0V12.2H4.8C7.1 12.2 8.4 10.8 8.4 8.8S7 5.8 4.8 5.8H0.6M4.8 5.8C6.6 5.8 7.8 4.6 7.8 2.9S6.6 0 4.6 0H0.6" transform="translate(55.5 0)"/></g>
<g transform="translate(618.6 1073) scale(1)" fill="none" stroke="#000" stroke-width="1.1" stroke-linejoin="round" stroke-linecap="round"><path d="M0.8 10.3C1.2 11.5 2.3 12.2 3.7 12.2 6.5 12.2 7.8 9.4 7.8 5.4 7.8 1.8 6.4 0 3.9 0 1.7 0 0.1 1.6 0.1 3.9 0.1 6.2 1.6 7.7 3.8 7.7 6.1 7.7 7.7 6.2 7.8 3.9" transform="translate(0 0)"/><path d="M0.4 3.2C0.4 1.2 1.9 0 4 0S7.6 1.3 7.6 3.3C7.6 5.2 6.3 6.4 4.2 8.4L0.2 12.2H8" transform="translate(11.1 0)"/><path d="M0.4 3.2C0.4 1.2 1.9 0 4 0S7.6 1.3 7.6 3.3C7.6 5.2 6.3 6.4 4.2 8.4L0.2 12.2H8" transform="translate(22.2 0)"/><path d="M4 0C1.3 0 0 2.6 0 6.1S1.3 12.2 4 12.2 8 9.6 8 6.1 6.7 0 4 0Z" transform="translate(33.3 0)"/><path d="M4 0C1.3 0 0 2.6 0 6.1S1.3 12.2 4 12.2 8 9.6 8 6.1 6.7 0 4 0Z" transform="translate(44.4 0)"/><path d="M0.6 0V12.2H4.8C7.1 12.2 8.4 10.8 8.4 8.8S7 5.8 4.8 5.8H0.6M4.8 5.8C6.6 5.8 7.8 4.6 7.8 2.9S6.6 0 4.6 0H0.6" transform="translate(55.5 0)"/></g>
<g transform="translate(694.4 1044.6) scale(1)" fill="none" stroke="#000" stroke-width="1.1" stroke-linejoin="round" stroke-linecap="round"><path d="M2 2.4L5.4 0V12.2" transform="translate(0 0)"/><path d="M0.8 0H7.4L3.6 4.9C6.3 4.7 7.9 6.2 7.9 8.5 7.9 10.7 6.3 12.2 4 12.2 2.1 12.2 0.7 11.2 0.2 9.7" transform="translate(11.1 0)"/><path d="M0.4 3.2C0.4 1.2 1.9 0 4 0S7.6 1.3 7.6 3.3C7.6 5.2 6.3 6.4 4.2 8.4L0.2 12.2H8" transform="translate(22.2 0)"/><path d="M7.2 1.9C6.8 0.7 5.7 0 4.3 0 1.5 0 0.2 2.8 0.2 6.8 0.2 10.4 1.6 12.2 4.1 12.2 6.3 12.2 7.9 10.6 7.9 8.3 7.9 6 6.4 4.5 4.2 4.5 1.9 4.5 0.3 6 0.2 8.3" transform="translate(33.3 0)"/><path d="M0.4 3.2C0.4 1.2 1.9 0 4 0S7.6 1.3 7.6 3.3C7.6 5.2 6.3 6.4 4.2 8.4L0.2 12.2H8" transform="translate(44.4 0)"/></g>
<g transform="translate(560.8 1147.8) scale(1)" fill="none" stroke="#000" stroke-width="1.1" stroke-linejoin="round" stroke-linecap="round"><path d="M2 2.4L5.4 0V12.2" transform="translate(0 0)"/><path d="M0.8 0H7.4L3.6 4.9C6.3 4.7 7.9 6.2 7.9 8.5 7.9 10.7 6.3 12.2 4 12.2 2.1 12.2 0.7 11.2 0.2 9.7" transform="translate(11.1 0)"/><path d="M0.4 3.2C0.4 1.2 1.9 0 4 0S7.6 1.3 7.6 3.3C7.6 5.2 6.3 6.4 4.2 8.4L0.2 12.2H8" transform="translate(22.2 0)"/><path d="M7.2 1.9C6.8 0.7 5.7 0 4.3 0 1.5 0 0.2 2.8 0.2 6.8 0.2 10.4 1.6 12.2 4.1 12.2 6.3 12.2 7.9 10.6 7.9 8.3 7.9 6 6.4 4.5 4.2 4.5 1.9 4.5 0.3 6 0.2 8.3" transform="translate(33.3 0)"/><path d="M0.4 3.2C0.4 1.2 1.9 0 4 0S7.6 1.3 7.6 3.3C7.6 5.2 6.3 6.4 4.2 8.4L0.2 12.2H8" transform="translate(44.4 0)"/><path d="M0 12.2L4.4 0 8.8 12.2M1.5 8.1H7.3" transform="translate(55.5 0)"/></g>
<g transform="translate(272.3 1268.8) scale(1)" fill="none" stroke="#000" stroke-width="1.1" stroke-linejoin="round" stroke-linecap="round"><path d="M2 2.4L5.4 0V12.2" transform="translate(0 0)"/><path d="M0.8 0H7.4L3.6 4.9C6.3 4.7 7.9 6.2 7.9 8.5 7.9 10.7 6.3 12.2 4 12.2 2.1 12.2 0.7 11.2 0.2 9.7" transform="translate(11.1 0)"/><path d="M2 2.4L5.4 0V12.2" transform="translate(22.2 0)"/><path d="M0.4 3.2C0.4 1.2 1.9 0 4 0S7.6 1.3 7.6 3.3C7.6 5.2 6.3 6.4 4.2 8.4L0.2 12.2H8" transform="translate(33.3 0)"/><path d="M4 0C2.1 0 0.9 1.2 0.9 2.9S2.1 5.7 4 5.7 7.1 4.6 7.1 2.9 5.9 0 4 0ZM4 5.7C1.7 5.7 0.2 7 0.2 9S1.7 12.2 4 12.2 7.8 11 7.8 9 6.3 5.7 4 5.7Z" transform="translate(44.4 0)"/></g>
<g transform="translate(186.5 1105.4) scale(1)" fill="none" stroke="#000" stroke-width="1.1" stroke-linejoin="round" stroke-linecap="round"><path d="M7.2 1.9C6.8 0.7 5.7 0 4.3 0 1.5 0 0.2 2.8 0.2 6.8 0.2 10.4 1.6 12.2 4.1 12.2 6.3 12.2 7.9 10.6 7.9 8.3 7.9 6 6.4 4.5 4.2 4.5 1.9 4.5 0.3 6 0.2 8.3" transform="translate(0 0)"/><path d="M4 0C1.3 0 0 2.6 0 6.1S1.3 12.2 4 12.2 8 9.6 8 6.1 6.7 0 4 0Z" transform="translate(11.1 0)"/><path d="M4 0C1.3 0 0 2.6 0 6.1S1.3 12.2 4 12.2 8 9.6 8 6.1 6.7 0 4 0Z" transform="translate(22.2 0)"/></g>
<g transform="translate(272.8 1074.4) scale(1)" fill="none" stroke="#000" stroke-width="1.1" stroke-linejoin="round" stroke-linecap="round"><path d="M7.2 1.9C6.8 0.7 5.7 0 4.3 0 1.5 0 0.2 2.8 0.2 6.8 0.2 10.4 1.6 12.2 4.1 12.2 6.3 12.2 7.9 10.6 7.9 8.3 7.9 6 6.4 4.5 4.2 4.5 1.9 4.5 0.3 6 0.2 8.3" transform="translate(0 0)"/><path d="M4 0C1.3 0 0 2.6 0 6.1S1.3 12.2 4 12.2 8 9.6 8 6.1 6.7 0 4 0Z" transform="translate(11.1 0)"/><path d="M4 0C1.3 0 0 2.6 0 6.1S1.3 12.2 4 12.2 8 9.6 8 6.1 6.7 0 4 0Z" transform="translate(22.2 0)"/></g>
<g transform="translate(377.5 1243) scale(1)" fill="none" stroke="#000" stroke-width="1.1" stroke-linejoin="round" stroke-linecap="round"><path d="M7.2 1.9C6.8 0.7 5.7 0 4.3 0 1.5 0 0.2 2.8 0.2 6.8 0.2 10.4 1.6 12.2 4.1 12.2 6.3 12.2 7.9 10.6 7.9 8.3 7.9 6 6.4 4.5 4.2 4.5 1.9 4.5 0.3 6 0.2 8.3" transform="translate(0 0)"/><path d="M4 0C1.3 0 0 2.6 0 6.1S1.3 12.2 4 12.2 8 9.6 8 6.1 6.7 0 4 0Z" transform="translate(11.1 0)"/><path d="M4 0C1.3 0 0 2.6 0 6.1S1.3 12.2 4 12.2 8 9.6 8 6.1 6.7 0 4 0Z" transform="translate(22.2 0)"/></g>
<path d="M319.4 84.4L319.4 123.7" stroke="#000" stroke-width="1" fill="none" />
<path d="M725.3 72.9L725.3 112.6" stroke="#000" stroke-width="1" fill="none" />
<path d="M157.5 200L157.5 238" stroke="#000" stroke-width="1" fill="none" />
<path d="M87.5 251L87.5 291" stroke="#000" stroke-width="1" fill="none" />
<path d="M42.5 283.7L42.5 322.5" stroke="#000" stroke-width="1" fill="none" />
<path d="M261.5 270.5L261.5 309" stroke="#000" stroke-width="1" fill="none" />
<path d="M430.6 248.5L430.6 287.5" stroke="#000" stroke-width="1" fill="none" />
<path d="M516.3 240L516.3 280" stroke="#000" stroke-width="1" fill="none" />
<path d="M564.8 208.8L564.8 248" stroke="#000" stroke-width="1" fill="none" />
<path d="M659.7 282L659.7 319.8" stroke="#000" stroke-width="1" fill="none" />
<path d="M1025.1 295.6L1025.1 333.7" stroke="#000" stroke-width="1" fill="none" />
<path d="M773.9 417.2L773.9 452.6" stroke="#000" stroke-width="1" fill="none" />
<path d="M190.5 372.5L190.5 412.5" stroke="#000" stroke-width="1" fill="none" />
<path d="M282 372.5L282 411" stroke="#000" stroke-width="1" fill="none" />
<path d="M362.5 451L362.5 492.5" stroke="#000" stroke-width="1" fill="none" />
<path d="M128.8 589.4L128.8 626.8" stroke="#000" stroke-width="1" fill="none" />
<path d="M631.8 534.9L631.8 573" stroke="#000" stroke-width="1" fill="none" />
<path d="M418.5 678L418.5 715.5" stroke="#000" stroke-width="1" fill="none" />
<path d="M564.1 768.9L564.1 807" stroke="#000" stroke-width="1" fill="none" />
<path d="M209.3 777.5L209.3 816.9" stroke="#000" stroke-width="1" fill="none" />
<path d="M318.8 762.5L318.8 800" stroke="#000" stroke-width="1" fill="none" />
<path d="M65.7 919.2L65.7 956.7" stroke="#000" stroke-width="1" fill="none" />
<path d="M162.5 1000.5L162.5 1039.9" stroke="#000" stroke-width="1" fill="none" />
<path d="M707.1 805.6L707.1 844.7" stroke="#000" stroke-width="1" fill="none" />
<path d="M802.2 803.1L802.2 842.9" stroke="#000" stroke-width="1" fill="none" />
<path d="M874.7 754.9L874.7 793.9" stroke="#000" stroke-width="1" fill="none" />
<path d="M933.4 729.8L933.4 768.8" stroke="#000" stroke-width="1" fill="none" />
<path d="M1027.4 971.6L1027.4 1010.5" stroke="#000" stroke-width="1" fill="none" />
<path d="M964.9 1001.9L964.9 1039.3" stroke="#000" stroke-width="1" fill="none" />
<path d="M885.8 1036.4L885.8 1073.8" stroke="#000" stroke-width="1" fill="none" />
<path d="M825.6 1074.7L825.6 1112.6" stroke="#000" stroke-width="1" fill="none" />
<path d="M505.7 935.1L505.7 975.9" stroke="#000" stroke-width="1" fill="none" />
<path d="M650 1030.7L650 1068.7" stroke="#000" stroke-width="1" fill="none" />
<path d="M721.9 1061.3L721.9 1099.4" stroke="#000" stroke-width="1" fill="none" />
<path d="M593.3 1164.6L593.3 1203.8" stroke="#000" stroke-width="1" fill="none" />
<path d="M298.8 1224.6L298.8 1264.7" stroke="#000" stroke-width="1" fill="none" />
<path d="M201.8 1123.3L201.8 1161.2" stroke="#000" stroke-width="1" fill="none" />
<path d="M206 1165L241.4 1161.2" stroke="#000" stroke-width="1" fill="none" />
<circle cx="201.8" cy="1165.5" r="4.2" fill="#fff" stroke="#000" stroke-width="1"/>
<path d="M307 1080.5L347.2 1080.3" stroke="#000" stroke-width="1" fill="none" />
<path d="M351.4 1084.5L351.4 1116.8" stroke="#000" stroke-width="1" fill="none" />
<circle cx="351.4" cy="1080.2" r="4.2" fill="#fff" stroke="#000" stroke-width="1"/>
<path d="M393.2 1238.4L393.2 1197.8" stroke="#000" stroke-width="1" fill="none" />
<path d="M390.2 1190.6L375.1 1175" stroke="#000" stroke-width="1" fill="none" />
<circle cx="393.2" cy="1193.6" r="4.2" fill="#fff" stroke="#000" stroke-width="1"/>
</svg></body></html>
